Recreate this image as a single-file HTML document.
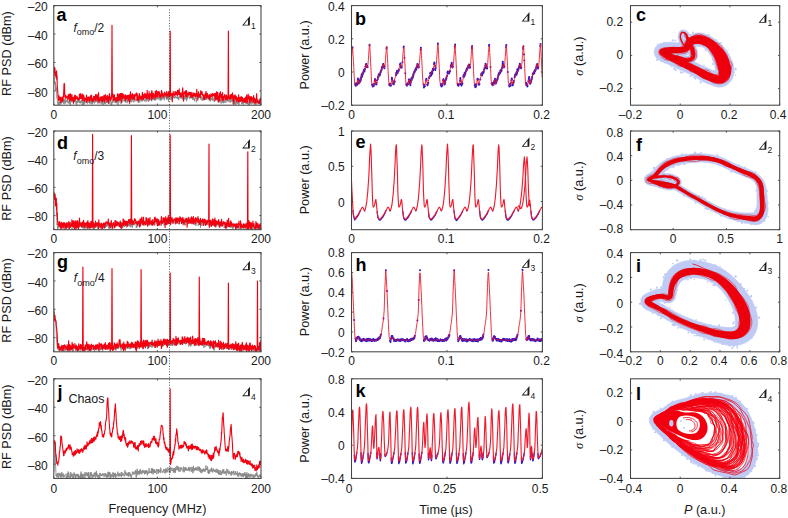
<!DOCTYPE html>
<html><head><meta charset="utf-8"><style>
html,body{margin:0;padding:0;background:#fff;}
svg{display:block;}
text{font-family:"Liberation Sans",sans-serif;fill:#1a1a1a;}
.tk{font-size:12px;}
.al{font-size:12.7px;}
.an{font-size:12.5px;}
.an2{font-size:12px;}
.pl{font-size:18px;font-weight:bold;fill:#000;}
.sub{font-size:8.5px;}
</style></head><body>
<svg width="788" height="518" viewBox="0 0 788 518">
<rect width="788" height="518" fill="#fff"/>
<clipPath id="cp11"><rect x="53.80" y="5.60" width="207.20" height="99.60"/></clipPath>
<g clip-path="url(#cp11)">
<path d="M53.8,76.4l.2-2.4 .3,1.7 .2,7.4 .2-1.8 .3,2.7 .2,1 .2-3.1 .3,9.2 .2-5.5 .2,4.3 .2-1.8 .3,5.4 .2,4.9 .2,.3 .3,.3 .2,4.2 .2-1.1 .3,2.6 .2-1 .2,.9 .3-2.7 .2,1.8 .2-2.7 .3,.2 .2,.6 .2,4 .3-3.4 .2-.8 .2-.3 .3,2.8 .2-1.8 .2,.9 .2-.3 .3-3.2 .2,3.2 .2-1.3 .3-1.6 .2,2.5 .2-.8 .3-.4 .2,.1 .2,2.2 .3-2.2 .2-2.2 .2,4.9 .3-4.1 .2,1.3 .2,1.3 .3-4.5 .2,2.1 .2,3.3 .3-2.1 .2-.9 .2,1.3 .2-1.5 .3,1.3 .2-1.2 .2-1.4 .3,3.7 .2-1.6 .2,1.2 .3-1 .2,2.2 .2-1 .3-.7 .2-1.8 .2-.5 .3,4.3 .2-.9 .2-2.5 .3,4.5 .2-2.6 .2-.6 .3-2.4 .2,1 .2,1.8 .2,0 .3-.2 .2-3 .2,3.3 .3-.2 .2-1.1 .2,.8 .3,.1 .2,1.6 .2-1.9 .3,.7 .2-2.7 .2,.9 .3,1.1 .2-1.2 .2,1.8 .3-2.4 .2,1.8 .2-1 .3,3.2 .2-2.8 .2,3.5 .2,.6 .3-3 .2,1 .2-1.8 .3-3.5 .2,5.2 .2-.3 .3-1.5 .2-.5 .2,1.2 .3,0 .2-1.5 .2,.3 .3,2.6 .2-1.6 .2-.2 .3,1.9 .2-2.3 .2,1.9 .3-3.1 .2,1.4 .2,.1 .2,1.2 .3-.8 .2,3.2 .2-1.5 .3-2.5 .2,4.2 .2-5.1 .3,4.5 .2-4.3 .2,2.7 .3-2.8 .2,1.1 .2,2.9 .3-4.8 .2-.3 .2,2.6 .3,.3 .2-.2 .2,1.4 .3-3.5 .2,2.8 .2-.8 .2,1.2 .3-.3 .2,1.1 .2-4.3 .3,2.4 .2-1.9 .2,1.6 .3,1.2 .2-.6 .2,.4 .3-1 .2,.7 .2-.1 .3,1.8 .2-1 .2-4.2 .3,4 .2,.6 .2-2.3 .3-1.9 .2,4.9 .2-2.1 .2,.7 .3,1.9 .2-4.2 .2,1.3 .3-.2 .2,1.4 .2-2 .3,1.6 .2-.6 .2,1.6 .3,.2 .2-4.4 .2,3.2 .3-1.4 .2,.6 .2,.7 .3,.1 .2-2 .2,1.6 .3-.2 .2-.3 .2-2 .2,.8 .3,.5 .2,1.7 .2,1.3 .3-3.9 .2-.1 .2,1.9 .3-1.1 .2-.5 .2,0 .3-.2 .2,2.3 .2-3.3 .3,4.7 .2-3.6 .2,.6 .3-.6 .2-1.8 .2,.7 .3,4.5 .2,.9 .2-4.3 .2,3.2 .3-1.7 .2-1.5 .2,4.2 .3,.8 .2-4 .2,.3 .3,.5 .2-.5 .2,1.6 .3,1.1 .2-2.3 .2,1.3 .3,1.2 .2-3.7 .2,1 .3-.8 .2,2.4 .2-.6 .3,.6 .2-.2 .2-1.9 .2,1.7 .3-2 .2,.1 .2-2.9 .3,5.8 .2-3.9 .2,1.7 .3-.2 .2,2.5 .2-1.7 .3-2.1 .2,1.4 .2-.3 .3,.7 .2-2.5 .2,2 .3,3.7 .2-2.6 .2,2.2 .3,2.2 .2-4.7 .2-3.2 .2,2.2 .3,2.1 .2-.4 .2-3.5 .3,1.6 .2,.2 .2,.2 .3-.2 .2-1.3 .2,.4 .3,.6 .2,2.1 .2-2.6 .3,2 .2-3.1 .2,4.1 .3-2 .2-.2 .2,2.2 .3-5.2 .2,.5 .2,3.2 .2-2.1 .3,.7 .2,5.1 .2-4.9 .3,.5 .2-.2 .2,1.9 .3-1.4 .2-.1 .2-2.4 .3,1.5 .2,.5 .2-2.6 .3,3.6 .2-.3 .2,2.4 .3-5.8 .2,1 .2,.1 .3,.4 .2,1 .2-.2 .2,.7 .3,0 .2-.5 .2-2.5 .3,1.6 .2,1.1 .2,.8 .3,.1 .2-3.8 .2,1.8 .3,.8 .2,.7 .2,1.3 .3-1.8 .2-1.7 .2,2.2 .3-.3 .2,0 .2-.6 .3,2.9 .2-2.3 .2,1 .2-3 .3,2.8 .2-2.3 .2-1.6 .3,3.1 .2,.5 .2-1.4 .3,.3 .2,1.7 .2-2.5 .3-2.7 .2,3.9 .2-.1 .3,1.4 .2-2.3 .2,2.6 .3-.2 .2-4.1 .2,3.7 .3-3.4 .2-.8 .2,2.1 .2-.5 .3-2.4 .2,3.7 .2,.6 .3,1.3 .2-2.4 .2-2.5 .3,.9 .2,3.2 .2-.1 .3-.7 .2-1.3 .2,.8 .3-.7 .2-.2 .2,1 .3-.5 .2-.4 .2,.5 .3-1 .2-2.4 .2,2.2 .2,.9 .3,2.9 .2-3.6 .2,4 .3-.9 .2-3.9 .2,.2 .3,1.5 .2,2.6 .2-2.3 .3,.5 .2-2.3 .2-2.8 .3,3.5 .2,1.7 .2,.6 .3-1.9 .2,.2 .2,1.6 .3-2.1 .2,2.1 .2-3.9 .2,.1 .3-.1 .2,2.7 .2-1.8 .3,1.1 .2,.4 .2-.1 .3,1.6 .2,.3 .2-3.9 .3,1.7 .2-.7 .2-1.4 .3,4.7 .2-1.7 .2-1.7 .3-.3 .2,1.2 .2-2.4 .3,1.4 .2,2.4 .2-.5 .2-3 .3,.6 .2,4 .2-5.6 .3,1.3 .2-1.3 .2,2.9 .3-.2 .2,1.4 .2-6.3 .3,4.7 .2-3.1 .2,3.8 .3-1.4 .2,3.1 .2-2.2 .3-2.4 .2,3.8 .2-4 .3,1.3 .2,2.3 .2-.9 .2-.1 .3-.8 .2,.9 .2,.4 .3-.9 .2,1.2 .2,.4 .3-2.1 .2-1.6 .2,4.1 .3-2.6 .2,1 .2,.6 .3-3.2 .2,2.4 .2-3.5 .3,3.9 .2-2.1 .2,1.1 .3,.9 .2-2.4 .2,1.3 .2-1.3 .3,1.1 .2,1.7 .2-1.7 .3-.3 .2-1.5 .2,3.1 .3-1.5 .2,2.9 .2-4.1 .3,2.9 .2,1.3 .2-3 .3-2 .2,4.4 .2-.7 .3-.6 .2,.6 .2-2.6 .3,2 .2-.2 .2-2.2 .2,2.3 .3-2.1 .2,2.4 .2,.4 .3,1 .2-6.3 .2,3.7 .3-1 .2,.5 .2-.3 .3,.1 .2-3.2 .2,5.1 .3,.8 .2-.9 .2,.5 .3-3.5 .2-.2 .2,3 .3,.8 .2-1.8 .2-3 .2,7.2 .3-5.8 .2,2.8 .2-3.7 .3,3.6 .2-1.3 .2,2.1 .3-1 .2-4 .2,.9 .3,2.1 .2,.8 .2,1.8 .3-2.6 .2-.6 .2,0 .3,0 .2,1.8 .2-1.8 .3-.1 .2-2.3 .2-.9 .2,3.4 .3,1 .2-1.2 .2,1 .3,.2 .2-1.2 .2,1.7 .3-2.8 .2,1.2 .2-.6 .3,.7 .2,.9 .2,.4 .3-1.2 .2,.5 .2-1.3 .3,.4 .2,2.3 .2-2.4 .3,2.4 .2-1.3 .2-.5 .2,3 .3-3.7 .2-.1 .2,.5 .3,.5 .2-.1 .2,1 .3-1.2 .2,.5 .2-1.1 .3,2.2 .2-2.4 .2,.1 .3,.5 .2,.5 .2-1.6 .3,3.7 .2-3.6 .2,.4 .3-.1 .2-.1 .2,1.7 .2-.6 .3-1.5 .2,.3 .2,.4 .3,2.9 .2-3.5 .2-1 .3,.3 .2,1.3 .2,3.1 .3-4.3 .2,1.9 .2,4.1 .3-5 .2,3.2 .2-.3 .3-1.1 .2-3.3 .2,2.8 .3-1.1 .2-2.5 .2,.3 .2,2.9 .3,.3 .2,1.7 .2-.9 .3-1.9 .2,0 .2,.5 .3-1.5 .2,3.1 .2-1.2 .3-1.4 .2,.3 .2-.8 .3,1.1 .2,1.3 .2-1.2 .3,2.4 .2,1.1 .2-3.8 .3,1.1 .2-.6 .2,3.4 .2-2.2 .3,.4 .2,.5 .2,2.4 .3-3.3 .2-2.1 .2,.9 .3,1.7 .2-1 .2-1.3 .3,6.1 .2-4.5 .2-1.1 .3-.3 .2-1.7 .2,1 .3,1.4 .2,.1 .2-.8 .3,2.2 .2-.8 .2-1.6 .2-1.8 .3,3.7 .2-.2 .2-.4 .3-1.9 .2,2.3 .2-2.5 .3,4.2 .2-1.3 .2,0 .3-1.6 .2-.5 .2,4.4 .3-1 .2-2.1 .2,1.7 .3,1.5 .2-4.3 .2,.9 .3,.1 .2,1.6 .2-2.5 .2,2.2 .3-2.3 .2,3.5 .2-.1 .3-1.8 .2,1.6 .2-2.4 .3,.8 .2,2 .2-1.7 .3,.8 .2-2.1 .2,2.6 .3-.3 .2-2.8 .2-1.7 .3,.4 .2,3.3 .2-.2 .3-2.2 .2,2.8 .2,1.5 .2-1.8 .3-.6 .2,2.2 .2,1.4 .3-.3 .2-3.6 .2,2.5 .3-1 .2-.6 .2-.7 .3,1.7 .2-1.4 .2,2.4 .3-.9 .2,1.1 .2-3.6 .3,2 .2,1.2 .2-.6 .3-.2 .2-1.6 .2,4 .2-1 .3-1.1 .2-4.9 .2,2.7 .3,1.8 .2-1.3 .2-2.3 .3,3.9 .2,.3 .2-2.7 .3,1.2 .2-.2 .2,2 .3-4.1 .2,.4 .2,1.9 .3-.2 .2,4.7 .2-4.5 .3,1.4 .2-1 .2-.4 .2,1.7 .3,2.3 .2-3.5 .2,2 .3-.7 .2,.5 .2-.5 .3,3.4 .2-6 .2,1.7 .3-1.5 .2-1.4 .2,3.3 .3,3.2 .2-1.6 .2,.6 .3-1.2 .2-1 .2,3.6 .3-4 .2,3.2 .2-3.1 .2,.7 .3,.4 .2-.4 .2,.8 .3,.2 .2,1.8 .2-2.8 .3-3.2 .2-.2 .2,1.2 .3,1.1 .2,2.4 .2-3.6 .3,2.5 .2,.1 .2,.4 .3-.6 .2,.9 .2-.6 .3,1.7 .2-1.1 .2-4.5 .2,4 .3,.3 .2-1.3 .2-.3 .3,3.2 .2-1.6 .2-1.9 .3,1.2 .2,.2 .2-2.4 .3,3.9 .2-1.3 .2,1 .3-3.4 .2,5.9 .2-2.1 .3-.3 .2-2 .2,.1 .3-1.3 .2,5.1 .2-3.9 .2,1.8 .3,.6 .2-2 .2,2.5 .3,2 .2-2.9 .2,1.9 .3-1.4 .2-1.7 .2,.1 .3-2.1 .2,3 .2,2.3 .3-1.3 .2,.3 .2,.5 .3-2.8 .2,1.9 .2,2.3 .3-4.6 .2,1.4 .2-.7 .2,.4 .3-.9 .2,1.1 .2-2.1 .3,1.4 .2,.1 .2,0 .3,3.2 .2-2.2 .2,.2 .3-.8 .2,2.7 .2-5.1 .3,2.6 .2,2.3 .2,.9 .3-2.5 .2-.3 .2,1.1 .3-1.3 .2,1.2 .2-2 .2,2.2 .3-1.2 .2-1.7 .2-2.7 .3,6.1 .2-.9 .2,.7 .3-2.8 .2,3.4 .2-1.2 .3-.7 .2,1.6 .2,0 .3-.8 .2,2.8 .2-1.1 .3-1.8 .2-.9 .2,.6 .3,2.7 .2-2.2 .2-2.2 .2,.4 .3,1.1 .2,1.4 .2-2.5 .3,2 .2,1.1 .2-.7 .3-3.8 .2,2.1 .2-1.6 .3,2.8 .2-2.4 .2,2.7 .3-.8 .2-4.5 .2,3 .3,2.2 .2-.7 .2-.7 .3-1.5 .2,2.9 .2,2.1 .2-2.4 .3-.5 .2-.2 .2-2 .3,1.7 .2-.8 .2,3.2 .3-3.3 .2-2.1 .2,2.3 .3,.9 .2,.2 .2-2.8 .3,4.6 .2-1.4 .2-.9 .3-.5 .2,2 .2-1.2 .3,1 .2-.7 .2,.5 .2,1.7 .3-1.9 .2-1.5 .2,3.1 .3-1.2 .2-1.5 .2,2.9 .3-2.1 .2,2.1" stroke="#8a8a8a" stroke-width="0.9" fill="none" stroke-linejoin="round"/>
<path d="M53.8,74.1l.2-2.8 .3-4.2 .2,2.8 .2,2.4 .3-3.9 .2,6.9 .2-3.5 .3,3.1 .2,1.7 .2-3.4 .2,5.3 .3-7.6 .2,9.1 .2-5 .3,11.8 .2,1.8 .2,2.3 .3,5.1 .2,3.1 .2-2.7 .3,4.4 .2-4.9 .2-.1 .3,3.8 .2,.1 .2-1.7 .3,.3 .2,2.2 .2-3.3 .3,5.5 .2-3.4 .2-.1 .2-.2 .3-1.3 .2,3.3 .2-3.9 .3,1.7 .2,.9 .2,1.5 .3-.7 .2-4.4 .2,.5 .3-6 .2-5.8 .2-1.4 .3,.6 .2,7.8 .2,5.3 .3-2.3 .2,2.5 .2-1.4 .3,2.4 .2-2.5 .2,.8 .2,.2 .3,.5 .2,.2 .2,.4 .3,0 .2-1.6 .2,3.2 .3-4.8 .2,3.9 .2-2.3 .3,2.3 .2,.3 .2-4.9 .3,5 .2,2.1 .2-1.2 .3-.9 .2-5.2 .2,4.1 .3-1.5 .2,4.1 .2-2.9 .2-.7 .3-2.4 .2,5.3 .2-2.7 .3,.6 .2,2.8 .2-2.1 .3,.5 .2,4.4 .2-6.2 .3,.1 .2,2.1 .2,1.9 .3-6 .2,2.6 .2-1.6 .3-.8 .2,4.1 .2-2.9 .3,2.3 .2-.4 .2,0 .2-.1 .3-2.4 .2,2.1 .2,.6 .3,.2 .2-1.3 .2,2.7 .3-.9 .2-.9 .2,1.1 .3-1 .2,1.1 .2-5.6 .3,1.4 .2,1.9 .2,1.1 .3-4.8 .2,4 .2,.8 .3-.8 .2,0 .2-2.4 .2,3.1 .3-4.5 .2,6.3 .2-3.3 .3,3.6 .2-6 .2,4.6 .3-.6 .2-2.1 .2-.7 .3,5 .2-1.6 .2,2.2 .3-3.3 .2,.6 .2,.5 .3,.7 .2-.6 .2,.7 .3-2.7 .2-2.1 .2,7.4 .2-3.9 .3,.6 .2-1.9 .2,3.1 .3-1.8 .2,1.9 .2-3.7 .3,1.3 .2,.6 .2-1.2 .3,1.4 .2,2.7 .2-4.5 .3,.6 .2,.9 .2-2.4 .3-.5 .2,4.9 .2-.6 .3-5 .2,.3 .2,4.6 .2,.9 .3-1.1 .2-.3 .2,2.3 .3-3.5 .2,2.8 .2-.1 .3-4.6 .2,3.5 .2-1.4 .3-1.4 .2-.4 .2,2.4 .3-.8 .2,1.9 .2-5.5 .3,2.3 .2,3.7 .2-2.3 .3-1.5 .2,.5 .2-2.9 .2,.9 .3,4.1 .2-.9 .2,2.5 .3-3.3 .2,.2 .2-5.4 .3,5.5 .2,4.7 .2-3 .3-1.7 .2,2.9 .2-.8 .3-1.1 .2-1.5 .2,1.1 .3,1.5 .2-3.6 .2,2.9 .3-.1 .2,1.9 .2-1.3 .2-3.1 .3,4.9 .2-3.3 .2-1.7 .3,2.3 .2-1.3 .2,2.9 .3-5.2 .2,.4 .2,1.9 .3,4.2 .2-1.5 .2-4.3 .3-1.6 .2,3 .2-2 .3,4 .2-.9 .2-.5 .3-.9 .2,4.2 .2-5.3 .2-.8 .3,5.3 .2,.4 .2-3.6 .3,2.1 .2,3.7 .2-6.8 .3,1.4 .2,1.3 .2-5.5 .3,4.2 .2,1.9 .2-1.8 .3,2.4 .2-.6 .2-2.5 .3,2 .2-.2 .2-4.5 .3,1.7 .2,.1-.3,.6 .3-71.5 .3,70.8-.1,.7 .2,.1 .3-2.1 .2,3.1 .2-4 .3,6 .2-1.5 .2,2.4 .3-2.2 .2-1.9 .2-1.9 .3,4.5 .2-1.5 .2,.8 .3,.8 .2,1 .2-2.7 .3,3.8 .2-3.9 .2,.1 .3,1.5 .2,.7 .2,.8 .2-6.9 .3,6.8 .2-6.2 .2,2 .3,2.1 .2,1.7 .2-4.7 .3-1.5 .2,5.7 .2-1.4 .3-2.9 .2,1.5 .2-3.5 .3,5.4 .2-2.3 .2,3.8 .3-7.2 .2,6 .2,3.2 .3-4.5 .2,.1 .2-4.4 .2,4.8 .3-.8 .2-1.3 .2-2.1 .3,3.5 .2-2.3 .2,1.1 .3,1.7 .2-.8 .2,.1 .3,2 .2-4.6 .2,5.5 .3-5.4 .2,.4 .2,2.2 .3,1.5 .2-1.2 .2-1.5 .3-.6 .2,1 .2-1.5 .2,3.2 .3-1.7 .2,3.9 .2-5 .3,1.3 .2,1.2 .2-3.4 .3,1 .2,7.5 .2-6.2 .3,3.2 .2-5.4 .2-3 .3,6.4 .2-1.3 .2,.7 .3-1.3 .2-.7 .2-1.4 .3,4.9 .2-5.5 .2,5.3 .2-2.6 .3-1.9 .2,1 .2,3.5 .3-.5 .2-.6 .2-.9 .3-2.5 .2,5.1 .2-3.7 .3-.4 .2,.1 .2,.2 .3-2.2 .2,2.1 .2-.8 .3,.6 .2-2.6 .2,7.9 .3-6.8 .2,3.2 .2,0 .2,1.5 .3,1.9 .2-3.2 .2,.6 .3-2.5 .2,4.2 .2-6.2 .3,2.4 .2,1.1 .2,1 .3,.1 .2,.7 .2-1.2 .3-1.2 .2,.3 .2,2.7 .3-2.5 .2,1.3 .2-2.3 .3-3.6 .2,2.6 .2,2 .2,2.8 .3-.5 .2,.6 .2-5.2 .3,3.1 .2-1.7 .2,1.4 .3-1.5 .2-2.9 .2,4.5 .3-.8 .2,1 .2-3.6 .3,4 .2,.2 .2,.5 .3,.1 .2-4.1 .2-4.5 .3,7.6 .2-4.2 .2,1.5 .2,2.9 .3-1.8 .2-.1 .2,.9 .3-5.6 .2,8.2 .2-4.9 .3,.1 .2,1.9 .2-1.6 .3-1.6 .2,1.6 .2-.6 .3-.6 .2,5.8 .2-7.6 .3-1.7 .2,2.8 .2-.1 .3,5.1 .2-2.8 .2,1.5 .2-.5 .3-3.3 .2,3.7 .2-1.4 .3,3.7 .2-3.7 .2-.6 .3,1.7 .2,0 .2-5.6 .3,6.6 .2-.3 .2-.6 .3-4.3 .2-1.9 .2,3.7 .3,2.2 .2-.6 .2-3.2 .3,4.2 .2-5.1 .2,.1 .2,2.8 .3-1.2 .2-.2 .2-1.8 .3,5.6 .2-4.8 .2,3.3 .3,.8 .2-1.9 .2,.7 .3,1.6 .2,1.3 .2-1.4 .3-5.1 .2-1.2 .2,2.8 .3-1.1 .2,3.6 .2-1 .3-.8 .2,2.9 .2-.2 .2-2.3 .3,.9 .2,1.5 .2-3.1 .3,1.4 .2-2.8 .2,2.2 .3,.6 .2-.9 .2,.6 .3,1.1 .2-.6 .2-2.5 .3,.2 .2-1.4 .2,6.4 .3-2.8 .2,0 .2-1.2 .3,1.3 .2,.1 .2-2.8 .2,1.3 .3,2.9 .2-5.4 .2,.7 .3,3.4 .2-3 .2,3.3 .3-4-.3,2.9 .3-63.3 .3,62.6-.1,.7 .2,1.2 .3-.9 .2,.8 .2-2 .3,0 .2,.3 .2,1.2 .3,6.6 .2-8 .2,4.3 .3-4.6 .2-1.9 .2,1.8 .2,1.4 .3-.4 .2-.1 .2,.8 .3,.1 .2,.7 .2-4.5 .3,2.6 .2-2.1 .2,2.6 .3-.7 .2,.5 .2-1.4 .3-.7 .2,1.2 .2,2 .3,.2 .2-5.2 .2,4.1 .3,0 .2-3.7 .2,.8 .2,1.2 .3,2 .2-5.9 .2,4.2 .3-.3 .2,1.5 .2,2.6 .3-.1 .2-3.7 .2,0 .3,1.3 .2,2 .2,.6 .3-2.4 .2,2.5 .2-5.1 .3-.5 .2-3.6 .2,4.2 .3,3.1 .2,.6 .2,5.5 .2-6 .3-.9 .2-2.5 .2,.8 .3,.1 .2,.8 .2-1 .3-1.7 .2,5.4 .2-1.3 .3,2 .2-6.4 .2,.7 .3,1.2 .2,4.2 .2-3 .3,.9 .2-.7 .2,.6 .3-1.5 .2,2 .2-2.7 .2,1.4 .3,1.1 .2-.4 .2,.8 .3-2.7 .2,2.3 .2-1.2 .3,1.5 .2,2.3 .2-5 .3,4.2 .2-3.7 .2,.5 .3,4.5 .2-1.5 .2-.9 .3,.6 .2,.8 .2-4.1 .3,2.1 .2-1.3 .2,1.8 .2-1.6 .3,2.3 .2-1.5 .2-1.3 .3,1.2 .2,1 .2,1.4 .3-2.7 .2-.3 .2,1.3 .3,1.1 .2-2.8 .2-4.1 .3,6 .2-1.4 .2-.1 .3,6.3 .2-5.7 .2,1.8 .3-4.4 .2,3.5 .2,1.1 .2-1.2 .3-.8 .2,1.6 .2-1 .3,2.7 .2-2.3 .2-2.2 .3-2.5 .2,2.7 .2,1 .3-1.9 .2,.3 .2-1.3 .3,1.2 .2,2.6 .2-.8 .3,.2 .2-.2 .2,.2 .3,2.1 .2,2.9 .2-3.1 .2,3 .3-4.5 .2,.2 .2,3.6 .3-5.1 .2-.3 .2,1.7 .3-3.4 .2-.4 .2,6.6 .3-4.8 .2,1.3 .2,.1 .3-1.1 .2,3.6 .2-.3 .3,.5 .2-.1 .2-1.4 .3,2.9 .2-.8 .2-3.4 .2,1.4 .3-1 .2,4.9 .2-2.4 .3-.4 .2-1.3 .2,1.4 .3-3.2 .2,2.1 .2-.1 .3,0 .2-1.5 .2,2.6 .3-3.4 .2,1.4 .2,.7 .3,.3 .2-1 .2-1.1 .3,.2 .2,1.2 .2-1 .2,1.6 .3-2.4 .2,2.8 .2,4.4 .3-7.3 .2,2.6 .2,2.8 .3-2.1 .2,1.5 .2-6.3 .3,3.4 .2,4.4 .2-4.4 .3,2 .2-4.9 .2,6.3 .3,2.6 .2-4.9 .2,.9 .3,.1 .2,3.7 .2-5.4 .2-2.7 .3,7.7 .2-6.5 .2,3.7 .3-6.2 .2,4.1 .2,1.3 .3-2.7 .2,1.2 .2,2.4 .3-2.7 .2,2.6 .2,2.8 .3-8.2 .2,5.1 .2,.6 .3-2 .2,4.1 .2-.5 .3-1.8 .2,.1 .2-1.3 .2-2.2 .3,3.4 .2-2 .2-.2 .3,3.6 .2-2.8 .2,2.5 .3-4.2 .2,1.3 .2,1 .3,2.9 .2-3.1 .2,2 .3-3.2 .2,1.8 .2,1.5 .3-3.6-.3,.4 .3-64.7 .2,64 0,.7 .2,2.9 .3-3.7 .2,3.1 .2,.1 .2-.9 .3,1.9 .2-.7 .2-.5 .3-3.6 .2,.1 .2,3.8 .3-4 .2,3.6 .2-.9 .3-1.1 .2,1.3 .2-4.5 .3,4.7 .2,3.1 .2-5.3 .3,3.7 .2-.2 .2,5.7 .3-8.5 .2,.5 .2,0 .2-.3 .3-1.5 .2,3.7 .2-2.1 .3,3.7 .2-.8 .2-3 .3,1.4 .2,3.7 .2-3.6 .3,1.2 .2,1.4 .2-2.6 .3,1.8 .2,2.5 .2-1 .3-6.1 .2,7 .2-3.6 .3-.8 .2-.1 .2,4 .2-1.9 .3-.9 .2-1.4 .2,3.1 .3,1.1 .2-4.6 .2-.2 .3,1.6 .2,2.1 .2-2.1 .3,.6 .2-1.5 .2,4.5 .3-2.9 .2,.6 .2,2.1 .3-2.8 .2,.4 .2,.9 .3-1.7 .2,3.9 .2-2.8 .2-1.1 .3,.4 .2-1.7 .2,4.9 .3,.7 .2-3.7 .2-.5 .3-3.5 .2,3.2 .2,3.2 .3-3.5 .2,3.5 .2,1.4 .3-8.7 .2,4.9 .2-.8 .3,.3 .2-2.6 .2,3.3 .3-2 .2,4.8 .2,.8 .2-6 .3-.1 .2,2.1 .2,.6 .3,.2 .2,1.8 .2-4.7 .3,1.9 .2,.3 .2,.3 .3-1.4 .2,1.2 .2-.5 .3,4.1 .2-3.6 .2-3.5 .3,5.8 .2-.8 .2-2.2 .3-.1 .2,.7 .2,4.8 .2-4.5 .3,3.6 .2-.7 .2-2.9 .3,1.8 .2-2.3 .2-5 .3,5.1 .2,.1 .2,3.5 .3-.6 .2,1 .2-1.1 .3,1.2 .2-.9 .2-1 .3,1.7 .2,.9 .2-.1 .3-3.8 .2,.8 .2-2 .2,0 .3,2.9 .2-2.1 .2,4.5 .3-7.9 .2,2.3 .2,3.1 .3,2 .2-3.3" stroke="#f30010" stroke-width="1.15" fill="none" stroke-linejoin="round"/>
</g>
<clipPath id="cp12"><rect x="53.80" y="131.00" width="207.20" height="98.70"/></clipPath>
<g clip-path="url(#cp12)">
<path d="M53.8,191.5l.2,5.3 .3,.1 .2-4.3 .2,.3 .3,5.7 .2-.2 .2-.3 .3,6.9 .2-1.5 .2-1.5 .2,4.4 .3,10.9 .2,3 .2,4.7 .3-1.4 .2,6.2 .2-3.5 .3,2.3 .2-2 .2-2.1 .3,2.5 .2-1.3 .2,1.6 .3-4.7 .2,1.7 .2-.3 .3,4.1 .2-.3 .2-3.7 .3,2.1 .2,.1 .2-1 .2,2.7 .3-3.4 .2,1.3 .2-.8 .3,1.9 .2-2 .2,2.1 .3-2.8 .2-.3 .2,.3 .3,.7 .2-.2 .2,5.7 .3-6 .2,1.9 .2-.7 .3,.7 .2,1.8 .2-1.4 .3-2 .2-1.3 .2,3.4 .2,.5 .3-4 .2,4 .2-5 .3,3.4 .2,1.6 .2-3.2 .3-1.2 .2,5.3 .2-5 .3,3.1 .2-3 .2,3.1 .3,2.1 .2-3.6 .2-.7 .3-2 .2,.7 .2,1.7 .3,1.6 .2,.5 .2-.4 .2,.9 .3-.9 .2,3.8 .2-4.6 .3,.3 .2-4.3 .2,3 .3,2.1 .2-1.8 .2,3.1 .3-1.1 .2,2.2 .2-5.6 .3,1.4 .2,3 .2-1.9 .3-1.7 .2,.8 .2,.1 .3,2.1 .2-.3 .2-1.3 .2-1.4 .3,3 .2,.5 .2-3.8 .3,3.5 .2-3.4 .2,1.4 .3-1.1 .2-1.5 .2,1.8 .3-.1 .2,2.8 .2-.3 .3-2.3 .2-1.5 .2,.2 .3-1.5 .2,3.4 .2,.1 .3-1.3 .2,1.7 .2,.1 .2,1.7 .3-3.5 .2,3.5 .2-2.7 .3,3.3 .2-4.3 .2,3.6 .3-3.1 .2,4.1 .2-2 .3-2.7 .2,3.3 .2-1.4 .3,.9 .2,3.1 .2-4.4 .3-.3 .2,2.7 .2-2.9 .3,2.3 .2,.4 .2-1.7 .2,1.1 .3-5 .2,6.5 .2-3.9 .3-.4 .2,5 .2-.4 .3-3.9 .2,1.8 .2-1.5 .3-1.3 .2,2.6 .2,1.2 .3,2.8 .2-5 .2,1.9 .3-2.1 .2,.2 .2,2.7 .3-5.3 .2,1.1 .2,.4 .2,3.5 .3-1.4 .2,.3 .2-.3 .3,1.2 .2-2.6 .2,.4 .3-.3 .2,1.5 .2-3 .3,1.8 .2,5 .2-3.6 .3-1 .2-1.7 .2,2.1 .3-.1 .2,.7 .2-2.2 .3,1.9 .2,.2 .2,.3 .2-2.2 .3,1.8 .2,1.9 .2-3.9 .3,2.3 .2-1.8 .2,0 .3-1.4 .2,.2 .2,2.8 .3-.7 .2,1.9 .2-5.1 .3,2.1 .2-1.6 .2,2.9 .3,2.9 .2-6 .2,2.4 .3-.1 .2,.1 .2-1 .2,.2 .3,3.6 .2-4.5 .2,2.7 .3-.1 .2-3.7 .2,1.3 .3,2.2 .2,2.5 .2-3.4 .3-.6 .2,1 .2,2 .3-.8 .2,.8 .2-2.5 .3-1 .2-.4 .2,3 .3-1.7 .2-.5 .2,1.8 .2-.6 .3-3.9 .2,3.2 .2-1.1 .3,2.2 .2-.8 .2,3 .3-2.9 .2-2.1 .2-1.5 .3,1.5 .2,.9 .2,1 .3,1.1 .2-.7 .2-1.4 .3,2.4 .2-2.9 .2,3.2 .3,1.4 .2-1.4 .2,1.1 .2-.5 .3-4.2 .2,2.2 .2-.7 .3-1.6 .2-.2 .2,3 .3-3.1 .2,1.6 .2,.6 .3-.7 .2,3.1 .2-1.1 .3-1.1 .2-1.3 .2,1.7 .3-.4 .2-1.9 .2-.8 .3,1.1 .2-.9 .2,2.9 .2-.2 .3-1.1 .2,1 .2,.4 .3-3.7 .2,3.1 .2,1.3 .3-2.5 .2-2.3 .2,3 .3-2 .2,2.9 .2,0 .3,.3 .2-.9 .2-3.4 .3,5.1 .2-4.7 .2,4.4 .3-1.3 .2-1.8 .2,.3 .2,.6 .3,3.2 .2-3.4 .2,2.3 .3-6.1 .2,4.7 .2-.7 .3,2.3 .2-1.2 .2,1.4 .3-3.9 .2,2.1 .2-1.4 .3,2.1 .2-.3 .2-3.1 .3,3.8 .2,1.4 .2-3.7 .3,2.6 .2-1.2 .2-2.3 .2,2.9 .3-2.9 .2,2.6 .2-3.7 .3,.3 .2,3 .2-.5 .3,1.1 .2-1.8 .2-1.6 .3,4.4 .2-4.1 .2,3.8 .3-.8 .2,1.6 .2-6.6 .3,3.4 .2-.3 .2,1.5 .3-2.9 .2,5.3 .2-3.6 .2-3.7 .3,4.3 .2-.7 .2-1.1 .3,2.5 .2-1.4 .2-1.6 .3,1.3 .2-.4 .2,1.2 .3-1.1 .2,.4 .2-2.4 .3,1.3 .2,1.6 .2,3.7 .3-5.4 .2-.1 .2,2.9 .3,1.8 .2-1.5 .2-3.5 .2,3.3 .3-1 .2-1.2 .2-1.7 .3,2.1 .2,.1 .2,.8 .3-3.7 .2,.9 .2,2 .3,2.1 .2-1 .2-2.3 .3,2.2 .2-2.8 .2,.9 .3,.1 .2-.6 .2,.2 .3,2.3 .2-.9 .2-4.5 .2,5.9 .3-1.2 .2-2.6 .2,2 .3,1.1 .2,.9 .2-3.2 .3-.8 .2-.7 .2,2.3 .3-1.7 .2,3.5 .2-2.1 .3,1.5 .2-1.5 .2-1 .3-.5 .2,3.4 .2-3.8 .3,2.9 .2,.9 .2-1.4 .2,2.2 .3-2.5 .2-.5 .2,.8 .3-1.3 .2,1.4 .2-.5 .3,2.4 .2-2.5 .2,1.5 .3-.7 .2-.6 .2-.5 .3,3.1 .2-.2 .2-2.1 .3-1.4 .2,.2 .2-.9 .3-.7 .2,1.4 .2,.8 .2,1.7 .3-.2 .2-.8 .2-1.2 .3,0 .2,.4 .2,.2 .3-1.3 .2,.7 .2-.2 .3,0 .2,1.4 .2,.8 .3-2.6 .2,.2 .2,1 .3,.3 .2-4.5 .2,5.1 .3-.9 .2-.9 .2,2.4 .2-2.2 .3-2.8 .2,1.4 .2,.5 .3,.1 .2,.8 .2-1.5 .3,1.9 .2,.4 .2-.9 .3-1.4 .2,1 .2-.6 .3,4.6 .2-5.5 .2-2 .3,1.7 .2,2.8 .2,.9 .3-1.9 .2,2.1 .2-2.9 .2,2.1 .3-2.5 .2-.7 .2,5.7 .3-4 .2,1.7 .2,1.2 .3-1.4 .2-.7 .2-2.1 .3,4.3 .2-4.4 .2-1.6 .3,2.4 .2,0 .2,1 .3,1.9 .2-2.9 .2,.3 .3-.6 .2-3.2 .2,3.1 .2,.5 .3-1.9 .2,4.9 .2-.4 .3-1.3 .2,.5 .2-2.3 .3,1.7 .2-3.5 .2,.3 .3,1.3 .2,1.9 .2-1.7 .3-.3 .2,3.2 .2-2.5 .3-.6 .2,.8 .2-2.3 .3,.6 .2,3.5 .2-1.6 .2,1.6 .3-2.4 .2,2.4 .2-3 .3,.9 .2-1 .2,1.8 .3,2.2 .2-5.4 .2,3.3 .3-2.7 .2,1.6 .2-.4 .3-2 .2,2.5 .2-1.8 .3,4.9 .2-4 .2,1.9 .3-.2 .2-.2 .2-.6 .2-2.2 .3,5.9 .2-3.2 .2,1.3 .3-3.2 .2,2.7 .2-1.5 .3,1.4 .2-1.8 .2-.6 .3,2.4 .2-.7 .2,2.4 .3-2.9 .2-.9 .2,2.4 .3-2.9 .2,5.4 .2-.3 .3-.8 .2-1.5 .2-.9 .2,.2 .3,0 .2-1.4 .2,2.1 .3,1.3 .2,0 .2-5.7 .3,7.6 .2-3.7 .2-2.8 .3,1.7 .2,2.2 .2-1.4 .3-1.4 .2-.6 .2,3.6 .3-2.8 .2,.8 .2-1.4 .3-.5 .2,3 .2,1.9 .2-3.1 .3-2.4 .2,1.9 .2,.8 .3-3.7 .2,5.8 .2-3.2 .3,2.5 .2-1.1 .2,0 .3-2.4 .2,4.2 .2-.7 .3,1.8 .2-3.5 .2,1.6 .3-1.4 .2,2.5 .2-1.2 .3-2.3 .2,2 .2-1.3 .2,.2 .3,1.5 .2,2.1 .2-4.3 .3,1.4 .2-1.4 .2,5.1 .3-.6 .2,.9 .2-2.1 .3-3.3 .2,.9 .2,1 .3-.2 .2-1.1 .2,1.8 .3-1.1 .2,.4 .2,4 .3-3 .2-2.9 .2,2.9 .2-.4 .3,.9 .2-.2 .2-2.7 .3,2.4 .2,1.3 .2,3.5 .3-4.2 .2,2.3 .2-.2 .3-4.4 .2,.2 .2,4.5 .3-4.7 .2,.7 .2,2.1 .3-2.5 .2,4 .2-.7 .3,.5 .2-.6 .2-3.3 .2,3.8 .3-.3 .2-.3 .2-1.9 .3,.9 .2-2 .2,2.7 .3,1 .2-1.3 .2-.9 .3,1.7 .2-2 .2-2.6 .3,4.1 .2-1 .2-2.2 .3,3.4 .2,.4 .2,.4 .3-2.5 .2-.2 .2,1.2 .2-.3 .3-2.1 .2,.8 .2,3.8 .3-2.3 .2-.2 .2-1 .3,1.7 .2,.7 .2-.3 .3,2.3 .2-3 .2,1 .3-1.7 .2,2.5 .2-1 .3,1 .2,.2 .2-3 .3,2 .2-1.5 .2,2.7 .2-2.1 .3,3.1 .2-2 .2,0 .3-1.8 .2,.7 .2,.7 .3-1.7 .2,1.1 .2-.6 .3-.3 .2,1.4 .2,.4 .3-1 .2,1.3 .2-1.4 .3-1.2 .2,.5 .2,2.1 .3,1.5 .2-2 .2,.1 .2-2 .3,2.5 .2-.3 .2-1.6 .3,2.1 .2-.5 .2-3.1 .3,.4 .2,1.4 .2,.7 .3,2.1 .2-2.6 .2,.9 .3-.3 .2,1.3 .2-.9 .3,.3 .2-.8 .2-1.8 .3,1.8 .2,3.4 .2-1.1 .2,1 .3-1.3 .2-2.3 .2,.3 .3,1.7 .2-1.4 .2,1.7 .3,1.2 .2,0 .2-.9 .3-3.9 .2,4.7 .2-4.3 .3-.2 .2,2.6 .2-.2 .3,1 .2-1 .2-1.1 .3,1.1 .2-1.7 .2-.3 .2,1.5 .3,0 .2,.7 .2-.7 .3,2.5 .2-2.5 .2,.3 .3,1.9 .2-5.1 .2,5.3 .3-.2 .2-1.9 .2,3.8 .3-2 .2,1.3 .2-.9 .3-1.4 .2-.8 .2-1.3 .3,.5 .2-.6 .2,1 .2,1.8 .3-2.6 .2,2.7 .2,.2 .3-3.6 .2,1.3 .2,1 .3-.9 .2-.2 .2,3.8 .3-2.2 .2,1.9 .2-2.2 .3,1.4 .2-3.5 .2,1.5 .3,2.2 .2-1.3 .2,2 .3-2.1 .2-.8 .2,.5 .2,3.7 .3-2.7 .2-1.4 .2,.4 .3-1.5 .2,4.2 .2-3.1 .3,2 .2-1.4 .2-.3 .3-.5 .2,2.1 .2-1.2 .3,2.3 .2,.4 .2-3.3 .3,1 .2,2.7 .2-1.3 .3-1.5 .2-2.6 .2,.9 .2,.4 .3,4.4 .2-2.8 .2-1 .3,.2 .2-.1 .2,1.1 .3-3.3 .2,.5 .2,2.6 .3,1.5 .2-5.1 .2,4.4 .3-2.9 .2-1.2 .2,4.8 .3-2 .2,1 .2-1.4 .3,.3 .2-2.7 .2,2.3 .2,1 .3-1.9 .2,2.4 .2,.1 .3-4.4 .2,5.2 .2-.5 .3-.9 .2,1.9 .2,1.7 .3-5.3 .2,3.1 .2-.4 .3-.3 .2,1.1 .2,.1 .3-2 .2-3.8 .2,2.8 .3,0 .2,3.8 .2-2.5 .2,2 .3-3.3 .2,1.7 .2-.5 .3,.3 .2,.8 .2,1.6 .3-3.5 .2,3.3 .2-.4 .3-1.4 .2,.7 .2-1.7 .3-1.2 .2,1.3 .2,.1 .3,.3 .2-1.4 .2,4.5 .3-3.7 .2,2.2 .2,.5 .2-2.1 .3,.7 .2-1.6 .2-.9 .3,5.8 .2-3.8 .2-3.4 .3,1.8 .2-.9" stroke="#8a8a8a" stroke-width="0.9" fill="none" stroke-linejoin="round"/>
<path d="M53.8,192.8l.2,3.5 .3-1.9 .2,4.8 .2-3 .3-1.8 .2,3 .2,8.4 .3-8.1 .2,2.6 .2,3.8 .2-5.7 .3,11.2 .2-6.1 .2,11.4 .3-2.2 .2,6.2 .2,3.4 .3,1 .2,1.7 .2,.2 .3-2.1 .2,2.9 .2-4.1 .3,3.6 .2,.8 .2-4.6 .3,3.1 .2-1.5 .2,2.1 .3,3.8 .2-5.9 .2,4 .2-5.1 .3,5.6 .2,.6 .2-4.6 .3-.2 .2,.7 .2,2.7 .3-4.4 .2,5 .2-2.1 .3,.6 .2-.8 .2-2.6 .3,3.1 .2-2.5 .2-.3 .3,5.1 .2-1.1 .2-1.7 .3,.4 .2-1.9 .2,4.8 .2-5.6 .3-.1 .2,1.9 .2,2.6 .3-2.9 .2,1.1 .2-2.3 .3,1.4 .2-1.8 .2,2.5 .3-4 .2,8 .2-2.8 .3-3.2 .2,4.3 .2-4.8 .3,4.2 .2-2.8 .2,2.1 .3-1 .2-1.3 .2,.6 .2,.6 .3-5.4 .2,4.6 .2,2 .3-4 .2,.2 .2-.8 .3-1.2 .2,5.8 .2-4.3 .3-.1 .2,2.4 .2-.5 .3,6.8 .2-5.1 .2-5 .3,7.6 .2-2.7 .2-1.7 .3-.6 .2-2.3 .2,7.2 .2-3.8 .3-1.7 .2,4.6 .2-2.7 .3-4.1 .2,1.2 .2,1.6 .3,6.7 .2-5.2 .2-1.1 .3,1.4 .2-.5 .2-6.6 .3,6.9 .2,1.6 .2-2.5 .3,1.1 .2,0 .2-.4 .3-1.9 .2,1.2 .2,3 .2-2.2 .3-1.3 .2,2 .2-3.5 .3,.8 .2,3.8 .2-2.8 .3-3.5 .2,.9 .2,3.4 .3-2 .2,3.3 .2,1.6 .3-4.2 .2,.6 .2-.5 .3,1.1 .2-.7 .2,1.8 .3-2.1 .2-.8 .2,1.9 .2-1.9 .3,5.5 .2-2.1 .2-4.7 .3-.7 .2,3.2 .2,.8 .3,2.4 .2-3.4 .2-.9 .3,4.8 .2-4.3 .2,.1 .3,.1 .2,3.3 .2-3.5 .3,4.3 .2-6.3 .2,2.9 .3,2.7 .2-5.3 .2,.4 .2,3.8 .3-6 .2,6.8-.2-2.8 .3-89.4 .3,88.7-.2,.7 .3-1.9 .2,7.3 .2-6.9 .3,2.3 .2-.1 .2,2.2 .3-3 .2,3.1 .2-.3 .3-1.1 .2,1.6 .2-5.9 .3,6.1 .2-1.2 .2-.9 .3-.7 .2-1.7 .2,0 .2,2.3 .3,.2 .2-.9 .2-1.6 .3,.2 .2,2.6 .2,3.2 .3-8.9 .2,2.6 .2,1.4 .3-.2 .2,1.9 .2,1 .3-1.4 .2-.3 .2,.9 .3,1.7 .2-2.4 .2-1.9 .3,2.3 .2-1.1 .2,4.4 .2-3.9 .3-.2 .2,2.3 .2,1.1 .3-4.6 .2,2.6 .2-2.7 .3,1.9 .2-2.2 .2,2 .3,2.5 .2-3.1 .2,.6 .3-2.1 .2,2.3 .2-.1 .3-2.7 .2-.6 .2,.8 .3-.6 .2,1.2 .2-.6 .2-.3 .3,1 .2,.7 .2-.1 .3-4.8 .2,5 .2,.6 .3,.2 .2-.7 .2-.6 .3,2.9 .2,1.8 .2-4.8 .3,4 .2-4 .2,.3 .3-2.2 .2-1.1 .2,2.8 .3,1.9 .2,1.3 .2-.8 .2-1.8 .3,4.5 .2-4.6 .2,.2 .3-1.4 .2,2.1 .2-1 .3,1.8 .2-.6 .2,2.8 .3-4.1 .2-3 .2,2.9 .3-.4 .2,2.8 .2-5.1 .3,4.7 .2-3.4 .2,1.5 .3,2.2 .2-4.2 .2,2.1 .2-.3 .3-.6 .2,1 .2,.7 .3-1.8 .2,1.8 .2-1 .3,1.6 .2,1.7 .2-1.7 .3-.4 .2-1.1 .2-2.5 .3,6.1 .2-3.9 .2,4.9 .3-2.5 .2-1.1 .2,3.7 .3-.9 .2-4.2 .2,.1 .2,.4 .3,1.4 .2-6.2 .2,4.8 .3,1.5 .2-5.4 .2,2.3 .3,2 .2-3.3 .2,2.2 .3-1.1 .2,.9 .2,2.6 .3-4.2 .2,1.7 .2,2.4 .3-.5 .2-3.6 .2,2.7 .3-.9 .2-1.3 .2,1.1 .2,3.5 .3-4.6 .2-.6 .2,.1 .3-1.6 .2,2.6 .2-.8 .3-1.8 .2,4 .2-4.3 .3,0 .2,2 .2-2.3 .3,2.1 .2,3.6 .2-4.3-.1,1.7 .3-86.4 .3,85.7-.2,.7 .2-.2 .2,.6 .3-2.6 .2,1.7 .2,2.6 .2-2.5 .3-.5 .2,3 .2-.6 .3-.1 .2,.4 .2-2 .3-1.4 .2-1.9 .2,1.5 .3,.3 .2-.3 .2-.4 .3,3.6 .2-2.3 .2,.8 .3,1 .2,.6 .2,.1 .3-.5 .2,2 .2-3.7 .2,1.1 .3-.2 .2-.6 .2-.8 .3,2.8 .2-1.1 .2,3.2 .3,1.3 .2-.6 .2-7.4 .3,7.1 .2-4.9 .2-2.1 .3,4.1 .2-4.5 .2-.4 .3,1.9 .2-3.1 .2,3.7 .3,2.9 .2-2.7 .2,2 .2,1.8 .3,0 .2-7.6 .2,6 .3-1.1 .2,1.3 .2-1.7 .3,.8 .2,.3 .2,1.7 .3,.4 .2-1.4 .2-2.2 .3-3.8 .2,2.2 .2-1.7 .3,2.8 .2,1.2 .2,2.6 .3-2.8 .2,4.5 .2-3.9 .2-4.1 .3,2.8 .2-1.7 .2,3.1 .3,2.1 .2-1.9 .2-.2 .3-3.4 .2-1.6 .2,5.7 .3-.8 .2-.4 .2,.4 .3,1.8 .2-2.8 .2-.6 .3,0 .2,3.3 .2-2.3 .3,3.4 .2-5.6 .2,4.1 .2-1.6 .3,.3 .2,.3 .2,1 .3,1.5 .2-7.4 .2,3.1 .3,0 .2-3.9 .2,4.6 .3-1.4 .2,1.1 .2-2.4 .3,1.4 .2,.4 .2,1.2 .3-1.2 .2-1.9 .2,6.9 .3-4.1 .2,.6 .2-.3 .2,3.5 .3-5.7 .2,3.3 .2-1.3 .3,.6 .2,2.4 .2-2.6 .3,3 .2-2 .2-1.3 .3-.7 .2-.1 .2,.4 .3-4.8 .2,3.6 .2,3.4 .3-1.3 .2,.1 .2-1 .3,.9 .2,.5 .2-5.3 .2,3.4 .3,.8 .2-.2 .2-.1 .3-3.4 .2,1.9 .2-1.4 .3,9 .2-7.3 .2-1.6 .3-1.9 .2,4.1 .2,3.7 .3-4.9 .2,2.5 .2,2.5 .3-2.5 .2-3.6 .2-.3 .3,1 .2,3.7 .2-7.5 .2,7.8 .3-2.3 .2,2.8 .2-5.8 .3,1.8 .2-.9 .2,1.6 .3,.4-.3-.6 .3-85.3 .3,84.6-.1,.7 .2,4.4 .3-6.1 .2,.1 .2,2.8 .3-.8 .2-.7 .2-2.7 .3,2.4 .2,.8 .2,1.2 .3,2.1 .2-2 .2-1.4 .2,.7 .3-.7 .2-1.4 .2,.6 .3,.3 .2-.8 .2,1 .3,.5 .2-1.1 .2,4.6 .3-6.3 .2,5.4 .2-4.5 .3,1.7 .2-2.3 .2,2.3 .3,2 .2-4.2 .2,1.8 .3,.2 .2,0 .2-1.9 .2,.4 .3,1.2 .2,3.8 .2-2.5 .3-1 .2-3.6 .2,3 .3,1 .2-2.8 .2,2.8 .3-.2 .2-.4 .2,3.5 .3-5.2 .2,1.2 .2,1.5 .3,1.8 .2-2.9 .2-2.5 .3,4.3 .2,.9 .2-3.1 .2,4.3 .3,1.3 .2-3.8 .2,.6 .3-.9 .2,.6 .2-1.9 .3,1.2 .2,.8 .2-.3 .3-2.3 .2-.7 .2,.1 .3,.5 .2,8.4 .2-4.8 .3-1.5 .2-1 .2,3.8 .3-6.4 .2,2.4 .2,1.9 .2-1.6 .3,1.1 .2,.9 .2-2.7 .3,2 .2,2.1 .2-1.6 .3-1.1 .2,2 .2-4.9 .3,5 .2-6 .2,1.8 .3,3.9 .2-2.3 .2-2.2 .3,3 .2,2.1 .2-2.8 .3-3.9 .2,7.4 .2-4.3 .2,1.1 .3,.3 .2,.6 .2-.1 .3-2.9 .2,1 .2,3.4 .3-5.4 .2,6 .2-4.1 .3,1 .2-2.1 .2,1.8 .3-1.4 .2,2.3 .2-2.1 .3,1.3 .2-3.8 .2,6.1 .3-4 .2,1.6 .2,.6 .2,1.6 .3-2.1 .2,4.1 .2-.2 .3-4.4 .2,4.8 .2-6.3 .3,3.6 .2-1.1 .2,.4 .3-.7 .2,1.5 .2,.2 .3-.4 .2-2.5 .2-.2 .3-.2 .2,1.9 .2,1.2 .3,3.2 .2-4.9 .2-.4 .2,2.7 .3-2.6 .2-1 .2,2.6 .3-2 .2,1.6 .2,4.3 .3-2.6 .2-.1 .2-2 .3,3 .2-.9 .2,1.2 .3-2 .2-.2 .2-1.9 .3,.4 .2,1.4 .2-.1 .3,.3 .2,0-.2-3 .3-74.9 .2,74.2-.1,.7 .2,8.5 .3-4.8 .2-1 .2-1.7 .3,4.7 .2-3 .2-1.1 .3,2.8 .2,3.1 .2-3.3 .3,1.8 .2-3.8 .2,3.2 .3-5.6 .2,3.5 .2,2 .3-.6 .2,1.3 .2-3.1 .3-2.3 .2,3.6 .2-2.4 .2,4 .3-2.6 .2-4.2 .2,7.8 .3-5.5 .2,.1 .2,6.5 .3-.9 .2-1 .2-4.1 .3,3 .2-.5 .2-1.9 .3,1.3 .2-.2 .2,1.2 .3-3.1 .2,4.1 .2-5.2 .3,4.3 .2,1 .2-3.1 .2,.5 .3,5.1 .2-4.6 .2,3.3 .3-1 .2-3.4 .2,3.5 .3-2.6 .2,1.6 .2-4.9 .3,4.3 .2,2.3 .2-.1 .3-.4 .2-2.2 .2,.3 .3-2 .2,1.7 .2,.1 .3-.4 .2,1 .2-.9 .2-1 .3,0 .2,2.8 .2,2.6 .3-2 .2-2.3 .2,5.9 .3-4.3 .2-1.9 .2,2.2 .3,1.2 .2-6.1 .2,.8 .3,3.5 .2-3.3 .2,.1 .3,5.1 .2-8 .2,7.7 .3-1.4 .2,1.8 .2-2.5 .2,3 .3-2.8 .2-2.3 .2,1.9 .3,1 .2-3.8 .2,5.2 .3-3.9 .2,2.7 .2-1.1 .3,.4 .2-.2 .2,.4 .3,1.6 .2-.4 .2-2.1 .3,1.1 .2,2.3 .2-1 .3,0 .2-1.3 .2-.5 .2,.2 .3,1.6 .2-1.4 .2,3 .3,3.2 .2-6 .2,3.4 .3-1.4 .2,.5 .2-3.8 .3,3.9 .2-3.1 .2,1.6 .3,1.6 .2,.7 .2-4.3 .3,.2 .2-.8 .2-2.2 .3,3.3 .2,0 .2,.9 .2-.5 .3,1 .2,1.2 .2-6.1 .3,8.1 .2-4.4 .2-.4 .3,.6 .2,2.4 .2-1.6 .3,.6 .2,1.3 .2-2.2 .3,.8 .2,.3 .2-2.6 .3,3.7 .2-3.1 .2,2.2 .3-2.2 .2,.8 .2-.3 .2,2.6 .3-.5 .2,.2 .2-2.1 .3-1.2 .2-.7 .2,3.3 .3-1.2 .2,3.6 .2,1.3 .3-2.8 .2-.4-.1,1.8 .3-77 .2,76.3-.2,.7 .3,.5 .2-4.8 .2,2.8 .3,1.9 .2-8.5 .2,4.6 .3,1 .2-2.1 .2,3.1 .2-4.9 .3,6.6 .2-.5 .2-2.5 .3,1.4 .2-4.6 .2,6.4 .3-1.9 .2-2 .2-.7 .3-.9 .2,1.4 .2-3.9 .3,5.7 .2-1.4 .2-1.4 .3,2.5 .2,0 .2,.3 .3,.4 .2,1.1 .2-1.2 .2,2.1 .3-4.1 .2,4.2 .2-7.7 .3,.8 .2,1.2 .2,2.8 .3,.8 .2-3.8 .2,2.2 .3-.7 .2,2.7 .2-3.8 .3,4 .2-1.9 .2,3.8 .3-2.2 .2-2.4 .2,2 .3,0 .2-2.6 .2,1.8 .2-2.7 .3,7.7 .2-6.3 .2,.1 .3,4.4 .2-.5 .2-4.6 .3,4.1 .2-.9" stroke="#f30010" stroke-width="1.15" fill="none" stroke-linejoin="round"/>
</g>
<clipPath id="cp13"><rect x="53.80" y="252.60" width="207.20" height="99.20"/></clipPath>
<g clip-path="url(#cp13)">
<path d="M53.8,308.9l.2,5.6 .3,.8 .2,4.9 .2-1.8 .3-3.5 .2,6.1 .2-.6 .3,1 .2,3.8 .2,1.2 .2,7.9 .3,5.5 .2,2.8 .2,2.5 .3,2.5 .2-1.2 .2,3 .3-2.1 .2,1 .2,1.5 .3-2.7 .2,3.8 .2-3.6 .3,2.6 .2-2.2 .2-1.6 .3,1.3 .2,2 .2-1 .3,.6 .2,1.3 .2-.1 .2-1.9 .3-.8 .2,3.8 .2-2.8 .3-1 .2,.7 .2,1.9 .3-3.4 .2,3.7 .2-3.1 .3-1.6 .2,6.1 .2-3.8 .3-.1 .2,.1 .2,1.7 .3-.8 .2,1.8 .2-2.5 .3-.7 .2,2 .2,.5 .2-.8 .3-.8 .2-.1 .2,.3 .3-.3 .2,2.3 .2,2.4 .3-5.6 .2-1.4 .2,4.8 .3-1.3 .2-1.6 .2-1.1 .3,.5 .2-1 .2,2.2 .3-.8 .2,0 .2,1.4 .3-2.7 .2,1 .2-.6 .2,2.3 .3-2.4 .2,3.5 .2-2.4 .3,5 .2-2.7 .2-2.9 .3,2 .2-1.1 .2,3 .3-5.3 .2,1.6 .2,1.1 .3-.8 .2,.2 .2-1.8 .3,2 .2,2.8 .2-2.1 .3-2.5 .2,1.2 .2,1.6 .2-1.7 .3,.8 .2-.8 .2,3.7 .3-1.2 .2-2.6 .2,1.5 .3-1 .2-2.6 .2,3.7 .3-.9 .2,1.3 .2,.2 .3-1 .2,2.3 .2,1.1 .3-5.8 .2,2.5 .2-2 .3,1.6 .2,0 .2-.9 .2-.1 .3,3.2 .2-4 .2,3.6 .3-1.9 .2-3.9 .2,4.1 .3-2.7 .2,3.4 .2-1.6 .3,.9 .2-.6 .2,2.1 .3,.1 .2-2 .2,3.1 .3-1.2 .2-2.5 .2,2.1 .3,.5 .2,.3 .2-2 .2,.8 .3-.8 .2,.5 .2-3.4 .3,3.8 .2,2.5 .2-3.4 .3,.2 .2-.3 .2,3 .3-4.6 .2,1.9 .2,.1 .3,2.5 .2-3.4 .2,.9 .3-2.4 .2,3 .2,1.3 .3-2.2 .2,1.7 .2-2.2 .2,2.5 .3-1.6 .2,.1 .2-.3 .3,.8 .2,.5 .2-1.2 .3,.8 .2-1.2 .2,.7 .3,3.3 .2-3.6 .2-2.4 .3,1.7 .2-.4 .2,.2 .3,1.5 .2,1.4 .2-3.5 .3-.4 .2,.8 .2,.2 .2,.1 .3,.7 .2-.5 .2,.4 .3-.5 .2,2.1 .2-.6 .3-1.9 .2,1.5 .2,3.4 .3-4.2 .2,3.9 .2-6.9 .3,2 .2,.1 .2,2.2 .3,.7 .2-1.5 .2-.4 .3,1.3 .2-1.5 .2-.9 .2,.1 .3,2.7 .2,1.9 .2-3.6 .3,1.1 .2-1.8 .2-2 .3,0 .2,2.2 .2-1.3 .3-.9 .2,2.6 .2-.4 .3-.9 .2,1.4 .2,.7 .3,.4 .2-1.2 .2,1 .3-2.3 .2,1.8 .2-2.9 .2,.4 .3,4 .2-3.8 .2,2.4 .3-2.9 .2,1.4 .2,.9 .3-1.2 .2,2 .2-1.5 .3-.1 .2,.9 .2-.9 .3,2.3 .2-2.6 .2,2.9 .3-3 .2,.2 .2-.4 .3,2.1 .2-5.9 .2,5.3 .2-.6 .3,1.4 .2-3.5 .2,3 .3-2.3 .2,3.1 .2-2.1 .3,1.1 .2-2.1 .2,2 .3,.9 .2-2.2 .2,2.7 .3-.4 .2-2.8 .2,4.2 .3-4.2 .2,1.8 .2,.8 .3-1.8 .2-.7 .2,2 .2-.7 .3-1.6 .2,.1 .2,1.2 .3,1.2 .2,.2 .2-.5 .3-2.1 .2,.1 .2,.5 .3-1.8 .2,2.7 .2,.1 .3,0 .2-3.7 .2,6.3 .3-3.7 .2-.3 .2,.6 .3-3.7 .2,1.9 .2,.6 .2,2.7 .3-2.3 .2,1.4 .2-.7 .3-.3 .2,1.1 .2-1.8 .3-1.6 .2,.9 .2,1.3 .3,3.4 .2-4.8 .2-.1 .3,2.1 .2,.4 .2-1.8 .3,2.3 .2-2.6 .2,3 .3-.3 .2-1.5 .2,2.3 .2-2.3 .3-.9 .2,2.9 .2-3.6 .3,2.4 .2-1.8 .2,.5 .3,1.1 .2,.1 .2,1.8 .3-1.6 .2,.1 .2-3.9 .3,1 .2,3.8 .2-3.5 .3,.9 .2,.9 .2-1.3 .3-.6 .2,2.2 .2-.5 .2-.7 .3,1.8 .2-1.9 .2,.4 .3,.9 .2,.3 .2-1.9 .3-.9 .2,.9 .2,1.8 .3-2.5 .2,.9 .2-.7 .3-1 .2,3.3 .2-1.2 .3,.7 .2,.4 .2-4.6 .3,1.7 .2,4.3 .2-3.5 .2,1.5 .3-2.7 .2,1.7 .2,.4 .3-.6 .2-.4 .2,.6 .3,.4 .2-.2 .2-1 .3,2.6 .2-1.9 .2,.2 .3,.6 .2-2 .2,3.2 .3-1.5 .2,.8 .2-2.2 .3,1.6 .2-.9 .2-.5 .2,3.1 .3-3.3 .2,1.9 .2-.8 .3-.2 .2-1.5 .2,.1 .3-1.7 .2,2.6 .2,1 .3,0 .2-1.8 .2-1.6 .3,2 .2,1.5 .2-1.4 .3,0 .2,.3 .2,1.3 .3,2.8 .2-3.2 .2-2.5 .2,1.3 .3,3.8 .2-3.5 .2,2.9 .3-6.1 .2,2.8 .2,2.2 .3-3.2 .2,2.5 .2-2.1 .3,.8 .2,1.9 .2-2.9 .3,3.1 .2-4.2 .2,2 .3,1.7 .2,1.2 .2-5.4 .3,.2 .2,4.3 .2-4.6 .2,2.3 .3,.6 .2-.2 .2,.2 .3-2.7 .2,2 .2,3.2 .3-6.3 .2,1.9 .2,3.1 .3-1.2 .2,.9 .2-1.5 .3-.6 .2,.2 .2,1.3 .3,.3 .2-2.6 .2,1.5 .3-3.8 .2,4.9 .2-2.6 .2,1.2 .3,1.2 .2-3.4 .2,2 .3,1.6 .2-.9 .2-2.2 .3,3.6 .2-4.2 .2,1.1 .3,1.5 .2-2.6 .2-.7 .3,1.8 .2,.7 .2-2.7 .3,.5 .2,3.9 .2-1.2 .3,0 .2,.3 .2,1.7 .2-3.9 .3,1.3 .2,0 .2-2.1 .3,3.1 .2-.8 .2-.6 .3,1.1 .2-.5 .2-1.5 .3,1.3 .2-2.2 .2,3.3 .3-1.5 .2,2.5 .2-2.1 .3,.9 .2-3.3 .2,1 .3,.3 .2-2.1 .2,.6 .2,1.1 .3,2.2 .2,1.2 .2-2.3 .3,.5 .2,.5 .2-.6 .3,2.1 .2-5 .2,4.2 .3-.8 .2-2 .2,3.5 .3-4.1 .2-.1 .2,2 .3,1.2 .2-1 .2,2.2 .3-5.2 .2,2.1 .2,1.3 .2,.2 .3-2.4 .2-1.5 .2,4.4 .3-1.1 .2,1.9 .2-4 .3,.9 .2-3.4 .2,3.8 .3,.4 .2,.5 .2-2.6 .3,4 .2-3.8 .2,.8 .3,1.2 .2,.6 .2-3.2 .3-1.3 .2,3.7 .2-1.6 .2-2 .3,3.8 .2-.6 .2,1.6 .3-1.8 .2-.1 .2,.5 .3,.5 .2,1.4 .2-.4 .3-.6 .2-2.6 .2,1.8 .3,.6 .2-2.5 .2,.2 .3,2.1 .2-.2 .2-2.1 .3,.4 .2,2 .2-1.8 .2,.5 .3-1.9 .2,3.2 .2-2.8 .3,.7 .2,2.3 .2-3.3 .3,.2 .2,3.6 .2-5.3 .3,5.1 .2-.4 .2-1 .3-1.8 .2,.4 .2,1.1 .3-2.4 .2,1.6 .2-1.6 .3-2.4 .2,4.3 .2,4.5 .2-3.4 .3,1 .2-1.9 .2,0 .3,2.2 .2-.1 .2-1.5 .3-.1 .2,4 .2-5.9 .3,1.6 .2,.1 .2-.5 .3,2.2 .2-1.6 .2-1.8 .3,0 .2,1 .2,1.2 .3,.9 .2-3.5 .2,1.4 .2,1.5 .3,2.9 .2-2.1 .2,1.8 .3-5.2 .2,1.7 .2,1.6 .3-.7 .2-4.8 .2,2.3 .3,4.3 .2-2 .2,1.9 .3,.8 .2-3.1 .2-3.7 .3,1.4 .2,2.6 .2,.7 .3-.9 .2-1.4 .2,4.2 .2,.7 .3-6.2 .2,2.7 .2-2.2 .3,2.3 .2-2 .2,3.5 .3-1.8 .2-1.7 .2,.9 .3,2.5 .2-2.2 .2,2.6 .3,1.3 .2-3.2 .2-1.5 .3,1 .2,3.6 .2-3.6 .3,.4 .2,1.9 .2,3.5 .2-5.9 .3,.3 .2,.7 .2,3.8 .3-.4 .2-4.2 .2,.4 .3,.6 .2,1.2 .2-1 .3,1.6 .2-.3 .2,.9 .3-1.8 .2,1.2 .2-2.3 .3,.4 .2,2.6 .2-4.4 .3,5 .2-2.6 .2-1 .2-.3 .3,5.9 .2-5.4 .2-.3 .3-.3 .2,6.2 .2-2.6 .3-.9 .2,.6 .2-3 .3,3.5 .2-3.2 .2,1.2 .3,3.4 .2-.7 .2-.9 .3-.9 .2-1.5 .2,2 .3-1.8 .2,4.3 .2,2.5 .2-4.6 .3-1.3 .2,1.5 .2,1.1 .3-2.4 .2-2.5 .2,3.5 .3,1.1 .2,.2 .2-4.8 .3,3.5 .2-1.1 .2-1 .3,.3 .2,3.4 .2-3.1 .3,.2 .2,.6 .2-.8 .3,2.7 .2-.8 .2,.8 .2-2.2 .3,2.5 .2-1.8 .2,2.6 .3-1.6 .2,.4 .2-.4 .3-.4 .2,.6 .2,.1 .3,3.1 .2-5.3 .2,2.9 .3-.6 .2,1 .2-3 .3,3.2 .2-2.3 .2-1.2 .3-.7 .2,.8 .2,1 .2,3.1 .3-4.2 .2,.2 .2,.6 .3,.1 .2,1.2 .2,1.1 .3-2.7 .2-.3 .2,3.9 .3-3.2 .2,1.1 .2-1 .3,1 .2-1.4 .2,.2 .3,.3 .2,3.8 .2-3.7 .3,1.4 .2,2 .2-3.1 .2,3.5 .3-3.8 .2-1.3 .2,3.8 .3-2.4 .2,.8 .2-.3 .3,3.4 .2-3.3 .2,.8 .3-1 .2,1.3 .2-1.8 .3,1.4 .2-.7 .2-1.1 .3,2 .2-1.4 .2,1.3 .3-.4 .2,1.8 .2-2.2 .2-.8 .3,2.3 .2-1.5 .2,.6 .3,2.6 .2-2.4 .2-1.6 .3,3.1 .2,2.2 .2-3.4 .3,1.5 .2-4.3 .2,3.3 .3,0 .2,1 .2-1.4 .3,1.3 .2,.6 .2-1.4 .3,1.3 .2-3.5 .2,4.1 .2-1.8 .3,1.1 .2,1.1 .2-5 .3,6.3 .2-6 .2,4.8 .3-2.4 .2-3.7 .2,7.4 .3-1.3 .2-4.4 .2,1.9 .3,1.2 .2-.8 .2,1.5 .3-1.8 .2-2.3 .2,3.2 .3-.9 .2-1.7 .2-1.3 .2,4.3 .3-1.5 .2,1.5 .2,.1 .3-.4 .2,.4 .2,1.9 .3,.4 .2-2.1 .2-1.4 .3-1.8 .2,2.9 .2-.6 .3-1.3 .2-.2 .2,1.5 .3-.1 .2-3.2 .2,3.7 .3,.2 .2,1.9 .2-3.4 .2,1.2 .3-3.6 .2,3.7 .2-1.9 .3-.2 .2-1.1 .2,4.9 .3-4.8 .2,2.6 .2,.2 .3,.4 .2,.1 .2-.1 .3,3.4 .2-4.8 .2,.8 .3,1.7 .2-1.5 .2-3.9 .3,3.2 .2,1.3 .2-3.5 .2,4.2 .3-1.1 .2,.7 .2-.5 .3-1.6 .2,.2 .2,2.2 .3-1 .2-.3 .2,.8 .3-.6 .2,1.2 .2,0 .3-1.3 .2,1.8 .2-2.4 .3,1 .2,1.2 .2-.5 .3-.2 .2-.5 .2-.4 .2,.5 .3,1.1 .2-3.8 .2,.9 .3,1.3 .2-1.4 .2,1.1 .3,.9 .2-.5" stroke="#8a8a8a" stroke-width="0.9" fill="none" stroke-linejoin="round"/>
<path d="M53.8,321.6l.2-9.9 .3,8 .2-4.2 .2,.7 .3,3.8 .2-1.6 .2,1.1 .3,2 .2-1 .2,.9 .2,4.5 .3,2.5 .2,2 .2,1.7 .3,5 .2,5 .2,5.9 .3-.3 .2,.2 .2-3 .3-1.4 .2,4.5 .2-1.8 .3,.2 .2,2.3 .2,2 .3-2.1 .2,1.5 .2-2.4 .3-.4 .2,.1 .2,0 .2-1.4 .3,3 .2-3.8 .2,5.4 .3-3.7 .2-.7 .2,2.5 .3,1.7 .2-4.7 .2,2.8 .3-3.1 .2,0 .2,1.7 .3-.1 .2-2.1 .2,1.3 .3,2.8 .2-2.3 .2-.8 .3,.7 .2,0 .2,.8 .2-.1 .3,1.7 .2,1.1 .2-5.4 .3,3.7 .2-1.8 .2,3.6 .3-3.5 .2,2.1 .2-8 .3,8.4 .2-.1 .2-4.1 .3-.4 .2,6.9 .2-5 .3-1.3 .2,4.4 .2-4 .3,2.6 .2,1 .2-1.4 .2,.2 .3,2 .2-7.7 .2,5.7 .3,.6 .2-3.4 .2,2 .3-3 .2,3.4 .2-1.3 .3,.5 .2-.1 .2,.8 .3-.2 .2-3.8 .2,5 .3-.3 .2-.4 .2-2 .3,.4 .2-1.1 .2,4.8 .2-3.4 .3,.9 .2,.2 .2-.9 .3,4.5 .2-4.7 .2,.2 .3,3.4 .2-2.9 .2-3.4 .3,4.1 .2-2.1 .2,1.7 .3,1.2 .2,.3 .2-1.1 .3-3.6 .2,1 .2,3.2 .3-3.6 .2,2.4 .2,1.2 .2-2.4 .3,2.9 .2,1.3 .2-6 .3,6.6-.2-5 .3-78.8 .3,78.1-.2,.7 .2,4.3 .3-3.1 .2,.3 .2,.6 .3,3.6 .2-4.3 .2-.2 .3,1.8 .2-1.7 .2-2.3 .3,3.6 .2-2 .2,2.9 .3-3.2 .2-.5 .2-3.9 .2,3.3 .3,1 .2-2 .2,5 .3-4.3 .2,3.4 .2,.1 .3-3.6 .2,1.8 .2-2.3 .3,5.8 .2-3.6 .2,1.7 .3-.5 .2,3.4 .2-6 .3,1.5 .2,2.6 .2,.7 .3-1 .2-4.7 .2,3.1 .2,.5 .3-1.8 .2,1 .2-.4 .3-1.1 .2,.9 .2-1.2 .3,4.3 .2-2.6 .2,.9 .3-1 .2,.3 .2,1.3 .3-.6 .2-2.7 .2,3.1 .3,1.4 .2-3.8 .2-.8 .3,2.6 .2-.9 .2,2.1 .2-1.4 .3-2.7 .2,.6 .2,1.4 .3,.9 .2,2.8 .2-4.1 .3-.3 .2-1.2 .2-2 .3,3.4 .2-1.2 .2,4.3 .3-4.9 .2,.7 .2-1 .3,1.4 .2,.5 .2-2.2 .3,4.5 .2-2.7 .2-1 .2,3.9 .3,.8 .2-3.3 .2,.6 .3-1 .2-.1 .2,2.9 .3-2.3 .2-1.6 .2,3.1 .3-.2 .2,1.7 .2-4 .3-2.4 .2,6.9 .2-4.4 .3-.3 .2,3 .2-.4 .3,1.4 .2-.5 .2-2 .2-1 .3,1.1 .2-1.6 .2,1.4 .3,2.8 .2-5.4 .2,.5 .3,3.9 .2-5.1 .2,2.7 .3,.6 .2-3.7 .2,9.2 .3-1.9 .2-4.8 .2,2 .3,1.4 .2-5.1 .2,2.1 .3,3.7 .2-1.3-.3-3.2 .3-76.1 .3,75.4-.1,.7 .2-1.9 .3,7.8 .2-4.7 .2,1.3 .3,2.9 .2-3.3 .2,2.9 .3-2.2 .2-4.5 .2,2.3 .3-.6 .2,.4 .2,.5 .3-1.3 .2,4.4 .2-1.7 .3-2.5 .2,3.3 .2-.7 .3-3.4 .2-.7 .2,4.4 .2,.5 .3-3 .2,.7 .2,1.9 .3-2.6 .2,0 .2,1 .3-5.9 .2,3.2 .2,1.1 .3-.4 .2-4.1 .2,3.9 .3,3.7 .2-2.1 .2,.5 .3,1.3 .2-1.8 .2,0 .3,.7 .2,.8 .2-2.7 .2,5 .3-5 .2,1.6 .2-.5 .3,5.5 .2-8.5 .2,7.1 .3-1.8 .2-3.2 .2,2.6 .3-.4 .2,3.7 .2-3.7 .3-1.4 .2-1 .2,2 .3-1.1 .2-.4 .2,2.3 .3,.1 .2-5.7 .2,5.9 .2-4.4 .3,2.4 .2-2.9 .2,4.4 .3-2.5 .2,.4 .2,1.1 .3-1.1 .2,2.2 .2-1.4 .3,.6 .2-2.4 .2,1.7 .3,2.7 .2-2.1 .2-.6 .3,1.7 .2-4.7 .2,1.9 .3-.9 .2,3.3 .2-.8 .2-2.9 .3,5 .2-3.7 .2,.5 .3,1.2 .2-1.2 .2,2.4 .3-2.7 .2,3 .2,.1 .3-5.6 .2,4.3 .2,3 .3-6.5 .2,3.6 .2,5.8 .3-7.3 .2-2.1 .2,1.2 .3-2.9 .2,3.9 .2-1.6 .2,3.4 .3-2.5 .2-2.8 .2,2.1 .3,.7 .2,4.4 .2-3.3 .3,1.9 .2-4.4 .2,3.2 .3-2.3 .2,2.8 .2-6.1 .3,6.4-.2-2.7 .3-74.5 .3,73.8-.2,.7 .2-5.3 .3,5.1 .2,2.2 .2-3.1 .3-.8 .2,.2 .2,6 .2-4.6 .3,4.9 .2-8.5 .2,3.8 .3,1.1 .2-2.4 .2,.4 .3,3.5 .2-5.9 .2,3.9 .3,3.2 .2-6.7 .2-.3 .3,.6 .2,1.5 .2,3 .3-3.9 .2-1.9 .2,2.1 .3-1.6 .2,5 .2-3.8 .2,.1 .3,5.1 .2,.3 .2-1.9 .3-1.7 .2-.8 .2,1.4 .3-.4 .2,.1 .2-.4 .3-1.1 .2,.2 .2,1.1 .3-.6 .2,1.4 .2-2.6 .3,2.7 .2-4.5 .2,3.5 .3-.7 .2,2.2 .2-.9 .2-1.1 .3,.3 .2,1.3 .2,1.2 .3-2.6 .2-.2 .2-.9 .3-1.5 .2,3.3 .2,3.5 .3-3.9 .2,3.6 .2-1.2 .3-4.9 .2,.9 .2,2.6 .3-.1 .2-1.1 .2,3.5 .3-4.8 .2,1.8 .2-4.7 .2,6.1 .3-4.4 .2,3.6 .2-3.6 .3,4.2 .2-3.7 .2,2.5 .3,.8 .2-1.5 .2-1.3 .3,.1 .2-2.5 .2,1.6 .3,7.3 .2-4.7 .2,3.3 .3-3.4 .2-2.2 .2,4.2 .3-.4 .2-2.8 .2,.9 .2-4 .3,2.6 .2-.4 .2-2.6 .3,4.7 .2-1.1 .2,2.1 .3-2.7 .2-1.6 .2-.7 .3,2.9 .2,1.4 .2,.1 .3,1.3 .2-3.2 .2-2.7 .3,7.9 .2-.4 .2-7.6 .3,6.3 .2-4.1 .2,3.3 .2-4.3 .3,0 .2,1.3 .2-1.5 .3,1.7 .2-1.2 .2-2.7 .3,1.6-.3,3.7 .3-70.3 .3,69.6-.1,.7 .2,.3 .3-1.3 .2,0 .2-.7 .3,1.4 .2-2.6 .2,1.2 .3-.7 .2,.8 .2-1.4 .3,3.9 .2-5.9 .2,2.6 .2-.3 .3-.4 .2-1 .2,.7 .3,1.1 .2,.8 .2,3.1 .3-3.9 .2,1.1 .2,0 .3-5.8 .2,9 .2-4.1 .3-2.5 .2,.6 .2-.7 .3,5.4 .2-.7 .2-3.4 .3,1.9 .2-4.2 .2,3.1 .2,0 .3-.5 .2,1.5 .2-.8 .3,1.6 .2-1.3 .2,.9 .3-1.6 .2,3.6 .2,.1 .3-4.1 .2,.4 .2,2.6 .3-1.6 .2,1.7 .2-6.6 .3,7.7 .2-7 .2,5.4 .3-2.6 .2,1.4 .2,.3 .2-2.9 .3,.3 .2,2.3 .2,1.4 .3-6.4 .2,1.4 .2,2.7 .3,.9 .2-1.2 .2,.4 .3-2.3 .2,4.6 .2-2.1 .3,1.7 .2-4.5 .2-1 .3,4 .2-1.3 .2-1.9 .3,3.7 .2,1.3 .2-4.2 .2,1.2 .3,1.5 .2-3.5 .2,2.6 .3,4.3 .2-4.5 .2,.8 .3-4.1 .2,4.1 .2,.4 .3-1.4 .2,.4 .2,3.6 .3-3.3 .2,1 .2-3.7 .3-2.1 .2,7.5 .2-.3 .3-.2 .2-.4 .2,.1 .2-1.6 .3-2.2 .2,5.1 .2,.6 .3,.6 .2-6.2 .2-.5 .3,6.2 .2,.2 .2-3.7 .3-2.1 .2,.2 .2,1.8 .3-1 .2,.8 .2,1.9 .3-5.3 .2,4.1 .2,2.4 .3-1.3 .2,2.3 .2-3.3 .2-2.3-.1,5.1 .3-67.5 .2,66.8-.1,.7 .2-5.1 .2-2 .3,3.7 .2,3.3 .2-.6 .3-1.1 .2,2 .2,0 .3-2.1 .2-.1 .2-1.7 .3,3.9 .2-6.5 .2,1.8 .3,.4 .2,3.3 .2-5.1 .3,4.5 .2-4.6 .2,1.7 .2,4.2 .3-.9 .2-4.9 .2,1.8 .3,2.5 .2-.7 .2,.1 .3,2.1 .2-1.2 .2,1 .3-.5 .2-1.8 .2,3 .3-3.5 .2,1.3 .2-1.3 .3-.3 .2-.7 .2,1.4 .3-.2 .2,2 .2-1.6 .2,3.2 .3-1.4 .2-2.1 .2,1.8 .3-1.1 .2,3.3 .2-5.1 .3,4.1 .2-2 .2,.9 .3-2 .2,2.9 .2,1.3 .3,2 .2-3.4 .2,1.9 .3-3.6 .2-1.9 .2,7.8 .3-1.9 .2-3.4 .2-1.9 .2,2 .3,0 .2-.4 .2-.1 .3-2.2 .2,2.2 .2,4 .3-1.6 .2-1.4 .2,2.2 .3-1.2 .2,.6 .2,.4 .3-2.9 .2,2.3 .2,1.6 .3-.8 .2-1.6 .2-4.4 .3,4 .2-2.6 .2,2.2 .2,5.6 .3-5.3 .2,2.6 .2,1.1 .3-.5 .2-6.1 .2,7.2 .3-2 .2-3.8 .2,1.1 .3,5.1 .2-3.4 .2,.9 .3-.7 .2-2 .2,2.9 .3-.5 .2-3.8 .2,7.1 .3-3.1 .2-1.8 .2,3.7 .2-1.3 .3,1.5 .2-3.1 .2,1.6 .3-3 .2-.4 .2,2.1 .3,.9 .2-1.3 .2,.5 .3,2.7 .2-4.9 .2,1.9 .3-1.2 .2,4.6 .2-4.7 .3-2.6-.3,3.2 .3-61.5 .2,60.8 0,.7 .2,4.5 .3-3.2 .2,.2 .2-.5 .2,1 .3-1.6 .2,2.1 .2-1.5 .3,2 .2-1.6 .2-1.9 .3,3.2 .2-2.5 .2,3.4 .3-1.1 .2-.2 .2-3.2 .3,4.3 .2-4.2 .2,5.8 .3-2.8 .2-2.3 .2,.5 .3,3.7 .2,.5 .2-4.5 .2,4.6 .3-3.9 .2,2.4 .2-1.1 .3-5 .2,1.7 .2,1.5 .3,4.8 .2-3.6 .2,.6 .3,.3 .2-3 .2,6.5 .3-4.3 .2,.4 .2,1.9 .3-5.3 .2,6.5 .2-2.8 .3-.1 .2,4.9 .2-1.6 .2-1 .3-3.7 .2-.4 .2,.8 .3,.8 .2,5.2 .2-5.1 .3,1.6 .2-3.7 .2-.3 .3-1.9 .2,3.3 .2-.2 .3,4 .2-2.4 .2,2.8 .3-4.5 .2,4.5 .2-2.1 .3,1.3 .2-.7 .2-2 .2,2.2 .3-1.7 .2,2.7 .2-5.2 .3,4.4 .2-3.5 .2-2.4 .3,9.8 .2-3.1 .2-1.6 .3-3 .2,3.6 .2-1.9 .3,2.4 .2-2.7 .2,3.8 .3-4.4 .2,8.3 .2-2.4 .3-8 .2,3.6 .2,2.3 .2-6.7 .3,2.5 .2-.1 .2,3.3 .3-2.2 .2,.2 .2,4.7 .3-4.8 .2,1.7 .2-3.2 .3,0 .2,4.2 .2-.1 .3-1.7 .2-1 .2,2.3 .3-.6 .2-1.5 .2,.4 .3-1.6 .2,2 .2,2.4 .2,2 .3-5.6 .2,2.5 .2,0 .3-.1 .2,2.8 .2-2.6 .3,4.9 .2-4.8 .2,1.1-.1-6 .3-62.9 .2,62.2-.1,.7 .2,3.1 .2,1.4 .3-.8 .2-1.2 .2,3.2 .3-1.1 .2,.3 .2-6.2 .3,5.3 .2,4.4 .2-6 .2-3.9 .3,7.8 .2-9.7 .2,7.7 .3-2.3 .2,3.4 .2-.6 .3,2.1 .2-.4" stroke="#f30010" stroke-width="1.15" fill="none" stroke-linejoin="round"/>
</g>
<clipPath id="cp14"><rect x="53.80" y="378.80" width="207.20" height="99.60"/></clipPath>
<g clip-path="url(#cp14)">
<path d="M53.8,471.9l.2-3.8 .2-3.5 .2-13.5 .2-3.7 .2-3.7 .3,4.9 .2,5.9 .2,4.4 .2,8.9 .2,4.4 .2,3.7 .2-1.2 .2-.5 .2,2.1 .2-.4 .2,1.6 .2-4.1 .3,3.2 .2-.7 .2-2.9 .2,3 .2,2 .2-.9 .2-.9 .2-3.4 .2,2.5 .2,.7 .2-1.7 .2-.7 .3,3.2 .2-3.4 .2,.9 .2,.6 .2,4.4 .2-4 .2-1.9 .2,2.6 .2-4 .2,3.5 .2,1.7 .3-2.5 .2,.4 .2-.8 .2,1.6 .2-2.4 .2,3 .2-1.1 .2,2.2 .2-.7 .2-1.6 .2,1.3 .2-.3 .3-.4 .2-.7 .2-.8 .2,0 .2-.4 .2,1.3 .2,1.2 .2,1.6 .2-2 .2,.7 .2,1.7 .3-5.5 .2,5.5 .2-3.5 .2-.3 .2,1.3 .2-4.5 .2,4.1 .2,1.2 .2-4 .2,4.1 .2,1 .2-.7 .3-.6 .2-1.1 .2-.4 .2,2.9 .2-3 .2-3 .2,4.7 .2-.9 .2-1.3 .2-.8 .2,2.9 .2,.5 .3,.1 .2-3.4 .2,.4 .2,4.8 .2,0 .2-1.4 .2,.4 .2-3.1 .2,.3 .2-2.7 .2,1.8 .3,1.1 .2-1.7 .2,3.3 .2,.8 .2-2.3 .2-1.4 .2,4.1 .2-4 .2,0 .2,2.2 .2-1.1 .2,.7 .3-.5 .2-1.2 .2,2.6 .2-3 .2,.3 .2-.1 .2,4.6 .2-.2 .2-4 .2,2 .2,.2 .3,.1 .2,.9 .2-1.7 .2,.7 .2-.1 .2-1.8 .2,2.7 .2-3.7 .2,5.3 .2-7.5 .2,6.1 .2-3 .3-.6 .2,1.5 .2-1.2 .2,1.4 .2,2.6 .2-3.4 .2-1.2 .2,2.7 .2,1.8 .2-1.8 .2-1.4 .2,0 .3-1.3 .2,.9 .2,.1 .2,4 .2-6.8 .2,3.5 .2-1.3 .2,1.9 .2-.3 .2-.3 .2-2.4 .3,.1 .2,1.4 .2-2.2 .2,3.8 .2-1.5 .2,1.6 .2-2.8 .2,2 .2-1.5 .2-1.2 .2,6.1 .2-6.8 .3,2.9 .2,1.1 .2,2.5 .2-2.6 .2,3.2 .2-3.8 .2,.4 .2-3.2 .2,3.5 .2-2.3 .2-.1 .2-1.5 .3,3.7 .2-1.6 .2,3.7 .2-.7 .2-1.3 .2-.4 .2,1.9 .2-1.3 .2-1.8 .2,1.9 .2-.5 .3,1.2 .2-3.7 .2-.6 .2,2.5 .2,.5 .2-2.8 .2,1.9 .2,1.8 .2,1.1 .2-1.2 .2-4.5 .2,4.5 .3-5.6 .2,4.6 .2,.4 .2-2.5 .2,2.5 .2-1 .2,2.3 .2,.3 .2-.8 .2-1.6 .2,1.5 .3,2 .2-3.9 .2,1 .2,.2 .2,.6 .2,2.6 .2-6.2 .2,3.3 .2-1.6 .2-1.4 .2,.4 .2,1.5 .3,.3 .2-.4 .2-1 .2,.5 .2,1.7 .2-1.5 .2,.1 .2-.5 .2,.8 .2-1.9 .2,1.9 .2-1.1 .3,1.3 .2,1 .2,.6 .2-1.2 .2-1.2 .2-1.1 .2,2.1 .2,.7 .2,0 .2-2.9 .2,1.9 .3,1 .2-2 .2,3.3 .2-2.3 .2,.2 .2,.2 .2,1.6 .2-3.4 .2-1.2 .2,4.8 .2-2.3 .2-.8 .3-2.6 .2,4.3 .2,.8 .2-1.5 .2-3.3 .2,3.2 .2-.4 .2-2.4 .2,6.3 .2,0 .2-4.9 .3,.2 .2,3.4 .2-3 .2,.7 .2-.3 .2,1.7 .2-.6 .2,.7 .2-1.5 .2,.4 .2-3.1 .2,1.7 .3,3.5 .2-3.2 .2-1.6 .2,1.8 .2-1.3 .2,1.8 .2-1.2 .2,2.6 .2-2.7 .2,3.4 .2-4.3 .2,4.5 .3,1 .2-4.3 .2,1.1 .2-.4 .2-.5 .2,.7 .2,1.3 .2-1.7 .2-.3 .2-.2 .2-2.4 .3,4.3 .2-1.3 .2-.8 .2,1.6 .2,1.2 .2-1 .2-2.7 .2,2.2 .2-1.5 .2,2.2 .2-1.9 .2,1.8 .3,.2 .2-1.5 .2,0 .2-2.3 .2,5 .2-3.4 .2-1.8 .2,.3 .2,2.8 .2,.5 .2-.3 .2-1.3 .3,.1 .2-.2 .2-.5 .2,2.7 .2,.1 .2,.1 .2,.2 .2-2 .2-.7 .2-3.6 .2,3.2 .3,.8 .2-2.3 .2,3.4 .2-1.7 .2-1 .2,.2 .2,.6 .2,1.2 .2,1.4 .2-1.7 .2,.6 .2-2 .3,1.3 .2-1.2 .2,3.5 .2-4.2 .2,2.9 .2,1.1 .2-.3 .2-1.2 .2-2.8 .2,.6 .2,3 .3-2.1 .2,.3 .2,2.4 .2-1 .2,1.7 .2-1.9 .2,2.8 .2-3 .2,.2 .2-.3 .2,.1 .2-3.2 .3,2.4 .2-1 .2-.9 .2-.2 .2,.3 .2,2 .2,.8 .2-.5 .2-.5 .2-.8 .2,.1 .2-1.9 .3,1.9 .2-3.1 .2,1.2 .2,2.4 .2-2.2 .2,6 .2-6.8 .2,1.5 .2,0 .2,3.3 .2-6.8 .3,4.5 .2-.3 .2-2 .2,2.1 .2,1 .2-2.4 .2,2.6 .2-2.8 .2,.9 .2-1.6 .2,3.8 .2-4 .3,1.5 .2-2.7 .2,4.2 .2-4.1 .2,1.9 .2-.2 .2,2.4 .2-2.1 .2-.2 .2,2.4 .2,.5 .3-.6 .2-3.6 .2,2 .2-1.2 .2,1 .2,.3 .2-.2 .2,1 .2-2.7 .2,1.7 .2-.1 .2,2.5 .3-2.7 .2,1.6 .2-.3 .2-2.5 .2,3.4 .2-1.5 .2-1.3 .2-.9 .2,2.7 .2-1.4 .2,.1 .2,2.2 .3,1.6 .2-.3 .2-4.1 .2,.8 .2,2.3 .2-1.2 .2-.4 .2-.1 .2-.5 .2-3.6 .2,4.8 .3-1.5 .2,1.4 .2-.2 .2,.4 .2-1.1 .2,.5 .2-1.4 .2,.2 .2,1.7 .2-4.5 .2,4.9 .2-2.4 .3-2.9 .2,4.5 .2-3.2 .2-.2 .2,1.7 .2,3.5 .2-5.2 .2,2.1 .2,1 .2-3 .2,3.2 .2-2.8 .3,2.5 .2-1.7 .2,2.5 .2-1.1 .2,.8 .2-.3 .2-1.4 .2,.5 .2-.6 .2-1.7 .2,2.2 .3,2.8 .2-2.6 .2-.6 .2-1.5 .2,0 .2,.1 .2,1.9 .2-1.5 .2,3.4 .2-4.4 .2,1.3 .2-.1 .3,1.4 .2-.7 .2,1.1 .2-2 .2,3.1 .2-3.7 .2,.6 .2-2.4 .2,3.3 .2,.1 .2-.5 .3,.3 .2,.2 .2,1.6 .2-.1 .2-.8 .2-.5 .2,1.4 .2,0 .2-1.5 .2-1.6 .2,1.5 .2-1.4 .3-.5 .2,.3 .2,1.9 .2-.1 .2,2.3 .2-1.9 .2-1.8 .2,2.4 .2-3.9 .2-.1 .2,2.8 .2-2 .3,3.7 .2-.6 .2-1.1 .2-.6 .2,.2 .2,1.1 .2-4.5 .2,2.6 .2,0 .2-.6 .2,.8 .3,.6 .2,.5 .2,1.7 .2-5 .2,3.8 .2,1.2 .2-1.4 .2,1.3 .2-5.8 .2,2.6 .2-1.7 .2-.1 .3,1.4 .2,0 .2,2 .2-1 .2,.8 .2-1 .2,1.1 .2-3.1 .2,.8 .2,1.3 .2,2.5 .2-3.8 .3-.3 .2,1.5 .2,1.9 .2-2.7 .2-1 .2,4.7 .2-4 .2,3.8 .2-3 .2-2.7 .2,2.6 .3-.6 .2,1.2 .2-.5 .2-3.8 .2,1.7 .2,2.6 .2,.1 .2-.7 .2-3.5 .2,3.2 .2-1.5 .2,2.4 .3,1.4 .2-4.1 .2,2.2 .2,1.1 .2-.2 .2,0 .2-.1 .2,1.4 .2-4.3 .2,1.3 .2-1 .3,2.1 .2-1.1 .2,.3 .2-1.7 .2,.6 .2,.7 .2,1.6 .2,.9 .2-.7 .2-.2 .2-.2 .2,1.1 .3-4.6 .2,2.2 .2,3.6 .2-1.4 .2,.3 .2-2.5 .2-1.3 .2,3.3 .2-2.6 .2,1.4 .2-2.2 .2-.4 .3,1.7 .2-.7 .2,1.2 .2,.6 .2,1.2 .2-2.4 .2,.7 .2,.5 .2-.5 .2,.1 .2,1.4 .3-.8 .2-2.7 .2,2.2 .2-2.6 .2,4.1 .2,.3 .2-2.4 .2-1 .2,2.3 .2-2 .2-.5 .2-.3 .3,1.9 .2-.1 .2,2.6 .2-2.7 .2-.4 .2-1.8 .2,4.3 .2-.7 .2,.3 .2-3 .2,5.4 .3-2.3 .2-5 .2,2.3 .2,3.1 .2-2 .2-1.4 .2,.5 .2,1.2 .2,.9 .2-2.5 .2,1.3 .2-1.3 .3,.7 .2,1.3 .2-3 .2,3.1 .2-1.4 .2,1.7 .2-.7 .2,.1 .2,.6 .2-1.4 .2-1.7 .2-.8 .3,.7 .2,2.5 .2-2.5 .2,1.6 .2-2.1 .2,4.8 .2-4.3 .2,3.3 .2-2.8 .2,2.6 .2-2.2 .3,1.9 .2,2.6 .2-1.4 .2-1.2 .2-.4 .2,3.6 .2-1.6 .2-.7 .2-.8 .2-.7 .2,1.7 .2,1.1 .3-2.9 .2,1 .2-1.9 .2,2.3 .2-1.8 .2,2.4 .2-1.8 .2,.3 .2-.5 .2,2.2 .2-1.3 .2,1.2 .3-1.1 .2-1.2 .2-3.7 .2,4.7 .2-1.1 .2,1 .2-1.6 .2,1.1 .2-.9 .2,1.1 .2-3.2 .3,1.6 .2,4.9 .2-3.1 .2,.3 .2,3.7 .2-2.1 .2-.6 .2,.4 .2-1.3 .2,3 .2-3.9 .2-.1 .3,.7 .2,1.1 .2-.5 .2,.8 .2-2.5 .2,1 .2-2.3 .2,3.7 .2-2.8 .2,3.2 .2-.6 .3,1.4 .2-2.4 .2,.9 .2-1 .2-1.4 .2,2.5 .2-.7 .2-.8 .2,1.6 .2,.8 .2-1.4 .2-.2 .3-.4 .2-.1 .2,2.4 .2-1.7 .2-1.2 .2,2.6 .2-1.2 .2,1.5 .2-1.2 .2-2.4 .2,2.5 .2,1.8 .3-2 .2,.2 .2-1.4 .2,3.9 .2-.6 .2-1.3 .2,2.3 .2-4.2 .2,5 .2-1.8 .2,1 .3-1.3 .2-2.2 .2,.3 .2-.5 .2,.6 .2,4.1 .2-3.6 .2,3.4 .2-2.1 .2-.1 .2,.2 .2-1.6 .3,2.1 .2-4 .2,1.8 .2-.8 .2,.7 .2-.2 .2,1.5 .2-3.2 .2,4.8 .2-2.3 .2,.7 .3,.4 .2-.8 .2,1.7 .2-2.6 .2,.2 .2,1.1 .2-1 .2,2.8 .2,1.3 .2-1.9 .2-.5 .2-4.3 .3,4.3 .2-2 .2,.4 .2-2 .2,3.2 .2-.9 .2,1.4 .2,1.1 .2,.2 .2-.3 .2-3.5 .2,1.9 .3,.7 .2-.3 .2,1 .2-.8 .2,0 .2-1.1 .2-.3 .2,4 .2-2.9 .2-1.8 .2,3.8 .3-1.2 .2-.6 .2-1.4 .2,.8 .2,1.3 .2-1.1 .2-.8 .2,1.1 .2-2.3 .2,2.3 .2,2.3 .2-.4 .3-1 .2,.2 .2-1.3 .2,.5 .2-2.1 .2,1.4 .2-1 .2,3.5 .2-.5 .2-1.7 .2,1 .2-.8 .3,.6 .2,1.4 .2-3.6 .2,.9 .2,4.2 .2-1.4 .2-1 .2-1 .2,1.2 .2,2.1 .2-3.4 .3,1.6 .2-2.2 .2,1.5 .2-1.1 .2,.3 .2-.1 .2,2.2 .2-2.3 .2,1.3 .2,2.3 .2-1.3 .2-.1 .3-1.2 .2-.3 .2,2.8 .2-2.9 .2,1.3 .2,1.6 .2-2.9 .2,2.5 .2,.7 .2-3.1 .2-.2 .3,2.5 .2-2.6 .2,.1 .2,2.4 .2-3.9 .2,3.2 .2-.4 .2,4.1 .2-4.7 .2,2 .2-1.7 .2,3.4 .3-4.5 .2-.4 .2-.7 .2,7.6 .2-5.5 .2,.4 .2,5.3 .2-3.5 .2-1 .2-2.4 .2,3.6 .2-1.6 .3,.4 .2-.6 .2,1.2 .2-2 .2-.1 .2,3.6 .2-3.8 .2,2.9 .2-.7 .2-2.2 .2,1.7 .3-.8 .2-.3 .2,.3 .2,1.8 .2,.7 .2-2.5 .2-.1 .2,.6 .2,.9 .2-1.6 .2,1.4 .2,2.1 .3-2.6 .2-.3 .2-.4 .2,2.6 .2-.2 .2-1.7 .2,1.2 .2-.5 .2-1.6 .2,.9 .2-2.2 .3,2.4 .2-2.2 .2,1 .2-2.3 .2,4 .2,.1 .2-2.1 .2,2.8 .2,0 .2-1.1 .2-.2 .2,2.8 .3-2.6 .2,.9 .2-.4 .2-.3 .2,.6 .2-2 .2,.9 .2,1.1 .2-.4 .2-1.5 .2,.4 .2-.7 .3,2.2 .2-.4 .2-2.9 .2,3.2 .2-2.7 .2,1.3" stroke="#8a8a8a" stroke-width="0.9" fill="none" stroke-linejoin="round"/>
<path d="M53.8,444.5l.2-3.7 .2,2.9 .2-1.2 .2-1.8 .2,0 .3,2.2 .2-.1 .2,6.6 .2,3.3 .2,3.5 .2-1.7 .2,2.5 .2,2 .2,4.1 .2-1.8 .2,2.1 .2-.6 .3-.2 .2,2.6 .2-1.5 .2-1.6 .2-.2 .2-.8 .2-.7 .2-2.4 .2-1.1 .2-5 .2-.6 .2-.4 .3-4.2 .2-.9 .2,.3 .2-8.7 .2-1.7 .2,2.6 .2-1.3 .2-.5 .2,2.4 .2,2.7 .2,1.8 .3,1.8 .2,2.3 .2,.5 .2,2.3 .2,2.3 .2,.1 .2,3 .2-4.5 .2,4.5 .2-2.6 .2-.8 .2-.4 .3-.2 .2-1.7 .2,3 .2-1.9 .2-.6 .2,.6 .2-.2 .2-2.9 .2,2.6 .2-.6 .2-.6 .3-.4 .2-.8 .2,.2 .2-1.1 .2,.1 .2-.7 .2-1.5 .2,3 .2-3.7 .2,2.9 .2-1.7 .2,.7 .3,.7 .2,2.6 .2-4.8 .2,3.7 .2,.5 .2-2.1 .2,2 .2-2 .2,.9 .2,2 .2,1.3 .2-.2 .3,3.5 .2-1.6 .2,.4 .2,1.2 .2-.8 .2,2.5 .2-3.3 .2-.6 .2,3.6 .2-2.1 .2-2.2 .3,1.5 .2,1.9 .2-.2 .2-2.8 .2-1.6 .2,4 .2-1.8 .2,1 .2-.9 .2-.9 .2,.3 .2,.8 .3-4 .2,3.1 .2,0 .2-1.9 .2,1.5 .2,.2 .2-1.7 .2,2.8 .2-2.6 .2-.5 .2,.5 .3,1.1 .2-.3 .2,2.4 .2-2.4 .2-.6 .2-.9 .2,.9 .2,.7 .2,.5 .2-1.2 .2-.4 .2-1.6 .3,1.6 .2,.5 .2-.7 .2,.4 .2-.5 .2,2.6 .2-1.1 .2-.7 .2-2.5 .2,.5 .2-.5 .2-1.6 .3,2.9 .2-3.3 .2,.9 .2,1.3 .2-3.3 .2,3.9 .2-.6 .2-1.5 .2-1 .2,.6 .2,2.6 .3-2.8 .2-.5 .2-3.9 .2,1.4 .2,1.6 .2,1.5 .2-2.2 .2,1.9 .2-2.1 .2-.5 .2,.9 .2-1.1 .3,.6 .2,.1 .2-3.1 .2,1.1 .2,1.1 .2,.4 .2-1.5 .2-.7 .2-.6 .2-1.1 .2,1.3 .2,2.1 .3-4.6 .2,1.1 .2,.3 .2-.9 .2,3.9 .2-1.7 .2,.1 .2-2.6 .2,3.2 .2-1.3 .2-2.8 .3,1.1 .2,1.3 .2-3.3 .2,4.3 .2-2.7 .2,.7 .2-1.2 .2,.8 .2,.6 .2-1.8 .2,1.8 .2-3 .3,.8 .2-2.2 .2,1.4 .2-.2 .2-2.1 .2-1.8 .2,4 .2-3.8 .2-1.4 .2,2.2 .2-1.8 .3-3.3 .2,.7 .2-1.6 .2-4.6 .2,2.6 .2-.9 .2,1.6 .2-1.7 .2,.7 .2-3.2 .2,1.9 .2,4.8 .3-3.1 .2,3.1 .2,2.5 .2-.4 .2,1.4 .2,2.4 .2,2.2 .2-.5 .2-.6 .2,.9 .2,.8 .2-2.4 .3,2.5 .2-3.3 .2,1.2 .2-1.8 .2,.5 .2-2.8 .2-.4 .2-.2 .2-4.1 .2-1.7 .2-3 .3-1 .2,.1 .2-2.7 .2-.3 .2-5.5 .2-7 .2-3.8 .2-1.7 .2-1.2 .2-.7 .2,1.9 .2,6.7 .3,3.3 .2,2 .2,4.4 .2,4.7 .2,3 .2,2.3 .2,2.4 .2,2.6 .2,3.2 .2-1.3 .2,2.1 .3,.7 .2-2.2 .2,1.6 .2,1.7 .2-2.2 .2,2.3 .2-4.3 .2,.2 .2-.4 .2-2.2 .2-2.5 .2,1.4 .3-.6 .2-5.7 .2,1.6 .2-3.9 .2,.4 .2-4.5 .2-1.7 .2-4.8 .2-1.2 .2-1.2 .2-3.7 .2,2.6 .3,5.7 .2,.8 .2,4.8 .2,4.2 .2,2.4 .2,2.2 .2,1.1 .2,3 .2,3.3 .2-.2 .2-.5 .3,4.4 .2-1.7 .2,1 .2,1.7 .2-1 .2,1.6 .2-.4 .2,.9 .2-2 .2-1.3 .2,3 .2-2.6 .3,4.7 .2-1.7 .2,.2 .2-3.9 .2,3.3 .2-2.1 .2,3.5 .2-4 .2-1.7 .2-.3 .2,2.7 .2-5 .3-1.5 .2-.8 .2,1.6 .2,3.7 .2-1.1 .2-.4 .2,3.6 .2-.9 .2,2.4 .2,0 .2-.2 .3,3 .2-4.3 .2,4.6 .2,.3 .2,2.1 .2-.9 .2,.5 .2,1.7 .2,0 .2-2.6 .2,.5 .2,3.5 .3-.8 .2-2.7 .2-.5 .2-1.1 .2,2.5 .2-2.7 .2,1.1 .2,.2 .2-.6 .2-1.8 .2,.5 .3-.5 .2,2.1 .2-.6 .2,1.2 .2-1 .2-.2 .2,.1 .2-1.6 .2,.7 .2-.2 .2,1.2 .2-1 .3,1.8 .2-.9 .2,1.1 .2,0 .2,1.4 .2,1.9 .2,.5 .2-4.7 .2,2.5 .2,.1 .2,1.1 .2,.6 .3-4.5 .2,5.9 .2-1.3 .2,.1 .2,1.7 .2,.3 .2-.7 .2-.4 .2,.2 .2-1.8 .2,2.8 .3-2.3 .2-1.6 .2,.6 .2,2.7 .2,2.3 .2-5.7 .2,.2 .2,1.2 .2-3.1 .2,2.1 .2-1.1 .2,1.2 .3-2.3 .2,.7 .2-.2 .2-2.6 .2,1 .2,2.2 .2-3.4 .2-.4 .2,2.3 .2-.7 .2-.6 .3,.5 .2-.3 .2-.4 .2,2 .2-3.3 .2,4.5 .2,.2 .2-3.2 .2-.2 .2,3.7 .2,.6 .2,1.4 .3-3 .2,1.5 .2,1.5 .2-1.6 .2-1.3 .2,1.1 .2-2.1 .2,1.6 .2,1 .2,.7 .2-.8 .2-1 .3,.5 .2-.4 .2,1.1 .2-.9 .2-.8 .2,1.8 .2,1.5 .2-4.5 .2,1.4 .2,1.3 .2-1.2 .3,.5 .2,1.9 .2-2.4 .2,1.5 .2-2.5 .2,.1 .2-2.2 .2,1.3 .2-1.2 .2,.5 .2-.4 .2,.9 .3-3.9 .2,.7 .2,.6 .2-1.5 .2,.5 .2,.2 .2-1.6 .2-1.4 .2,2.1 .2,1.8 .2-1 .2-3.1 .3,4 .2-2.5 .2,2.5 .2-1 .2,1.6 .2,2.5 .2-1.3 .2-3.2 .2,3.7 .2-.4 .2,1.8 .3,.3 .2-.1 .2,.3 .2-2.1 .2,3.4 .2,.3 .2,.6 .2,.5 .2-.2 .2-4.1 .2,2.5 .2-5.8 .3-.4 .2,.3 .2-.1 .2-2.9 .2-1.3 .2-3.2 .2,.7 .2-2.6 .2-2.4 .2-1.5 .2-.8 .3,.8 .2,0 .2-.4 .2,1.1 .2,.4 .2,.5 .2,3.1 .2,3.8 .2-.6 .2,4.2 .2,1.9 .2-2.7 .3,5.9 .2,.1 .2,.6 .2-1.8 .2,3.6 .2-1.4 .2,2.2 .2,1.7 .2-1.6 .2,.5 .2,2.3 .2,0 .3,.2 .2-2.2 .2,1 .2,.6 .2-.2 .2,1.6 .2-1.3 .2,1.7 .2,1.1 .2-.9 .2-1.2 .3,.2 .2-1.3 .2,4.1 .2-1.9 .2-.1 .2,5.1-.1-5.2 .3-61.9 .3,73.9-.3-4.3 .2,4.4 .2,1.8 .2-3.9 .2,2.3 .2-4.6 .3,1.1 .2,.1 .2-.7 .2-.8 .2-.4 .2-2.1 .2,2.5 .2-5 .2-.1 .2-1.6 .2,2.5 .2,1 .3-3.5 .2-1.8 .2-1.9 .2-.1 .2-2 .2-1.6 .2,1 .2-6.2 .2,2.6 .2-4 .2-3.3 .3,.7 .2-2.7 .2-3.2 .2,2.8 .2-.8 .2,3 .2,2.3 .2,1.6 .2,3.3 .2,1.4 .2-.1 .2,2.5 .3,.9 .2,3.3 .2-1.5 .2-1.7 .2,.4 .2,.8 .2,1.2 .2,0 .2-1.5 .2-1.5 .2,1.8 .3-1.9 .2,2.2 .2-2.3 .2,3.1 .2-1.9 .2,1.7 .2-2.6 .2-.1 .2,1.9 .2-.6 .2-.8 .2,1.1 .3-1.2 .2-.5 .2-2.7 .2-1.2 .2,2.4 .2-.4 .2-.8 .2,1.1 .2,0 .2-1.2 .2,1.4 .2,1 .3,1.3 .2-2.4 .2,3.4 .2-.8 .2,1.8 .2-.4 .2-.8 .2,.8 .2-1.2 .2,.8 .2,2.2 .3,1.4 .2-4.7 .2,2.3 .2-3 .2,2.1 .2,1.1 .2-1.9 .2,1.1 .2-.5 .2,1.3 .2-2.3 .2-.7 .3,2.3 .2-3.4 .2,3.3 .2-1.2 .2,2.6 .2,.3 .2-5.7 .2,.9 .2,.3 .2,4 .2-2.7 .3-.3 .2,.4 .2-.3 .2,1.8 .2-1.1 .2,1.4 .2-1 .2-1 .2,1.7 .2-.6 .2,.3 .2-.5 .3-1.2 .2,1.1 .2-.1 .2,2.7 .2-1.4 .2-1.5 .2,2.5 .2-.5 .2,.9 .2-3.1 .2,2.6 .2,.6 .3-1.8 .2-.6 .2,1 .2-.6 .2,1.2 .2,.6 .2,.5 .2,.2 .2,.3 .2-1.3 .2,.8 .3-.2 .2-.7 .2,1.1 .2,2 .2-.8 .2,.6 .2,1.2 .2-2.7 .2,1.9 .2,.3 .2-.2 .2-2.7 .3,1.8 .2-1.7 .2,1.7 .2,.6 .2-1.3 .2,.1 .2,.8 .2,1.8 .2-.7 .2,1.2 .2-1.2 .2-.3 .3-1.8 .2,.2 .2,1.2 .2-.2 .2,1.2 .2-3.5 .2,1.9 .2-1.4 .2,3.4 .2,.1 .2-.7 .3,1.4 .2,0 .2,2.1 .2-2.5 .2,1.3 .2-.7 .2,1.7 .2,2.4 .2-3 .2-.7 .2,3.7 .2-.3 .3-.7 .2,.1 .2,2.2 .2-4.8 .2,1.2 .2,2.4 .2,1.8 .2-3 .2-2.3 .2,1.6 .2-.7 .3,2.7 .2-2.2 .2,1.9 .2-5.5 .2,1.3 .2,3.1 .2-1 .2-4 .2-.2 .2-.1 .2-2.2 .2-2.9 .3,1.3 .2,2.2 .2-3 .2,1.1 .2-1 .2-1.5 .2,1.2 .2,1.9 .2-.6 .2,1.9 .2-1.1 .2,1.8 .3-.4 .2,1.3 .2-1 .2,1.6 .2,.2 .2,1 .2-.9 .2,2.5 .2-6.8 .2,4 .2-2.1 .3-.5 .2-1.5 .2-2.9 .2-.5 .2-2 .2-.6 .2-2.7 .2-1.7 .2-6.4 .2,1.3 .2-4.2 .2-6 .3-5.8 .2,1.1 .2-2.6 .2-3.1 .2,.7 .2,5 .2,4.2 .2,3 .2,2 .2,5.2 .2,2.2 .3,4.3 .2,3.3 .2,2.2 .2,3.6 .2,.8 .2,1.8 .2-.4 .2-1.5 .2,1.1 .2,.7 .2-1.9 .2,.2 .3,.8 .2,1 .2-2.3 .2-2.3 .2,4.6 .2,.5 .2-1.9 .2-.9 .2-.9 .2-1.7 .2-4.5 .2-1.6 .3-2.5 .2-1.3 .2-1.1 .2-5.3 .2-.3 .2-2.5 .2,.2 .2-2.9 .2,2.2 .2,5 .2,3.2 .3,3 .2,3 .2,2.4 .2,5 .2,3.4 .2,5.6 .2-.3 .2,2.1 .2-5.1 .2,.6 .2,.9 .2-.6 .3-1.3 .2,1.5 .2,3.5 .2-2 .2,3 .2-2.3 .2,.5 .2-1.8 .2-.7 .2,1.7 .2-1.2 .2-1.2 .3,.2 .2-.5 .2,2.7 .2-3.3 .2-2.2 .2,.3 .2,2.2 .2-1.8 .2-.8 .2,2.2 .2-1.8 .3,2.9 .2,.2 .2,.6 .2-2.5 .2,4.3 .2,.9 .2-1.5 .2,2 .2-.7 .2,3.7 .2-3.3 .2,.6 .3,2 .2-3.5 .2,2.4 .2,.1 .2,1.8 .2,.6 .2-1.4 .2,1.5 .2-2.7 .2-.4 .2,2.3 .3,1.5 .2-1.6 .2,1 .2-1.6 .2,.1 .2,1 .2-.6 .2-1.3 .2-.8 .2,3.3 .2-1.6 .2,1.4 .3,1.3 .2-3.2 .2,1.4 .2,.5 .2-.2 .2,.9 .2,1.4 .2-3.9 .2,1.3 .2,1.1 .2-.9 .2-.4 .3,2.3 .2-1 .2,1.4 .2-1.3 .2,1.4 .2-3.7 .2,4.1 .2-1.1 .2,.2 .2,1.3 .2-1.7 .3,1.6 .2,.6 .2-.5 .2,1.3 .2-2.6 .2,1 .2-.3 .2,3.5 .2-2.1 .2,1.7 .2-1 .2-1.5 .3,1.6 .2,.8 .2-1.7 .2,.3 .2-1.1 .2,5.4 .2-3.1 .2,1.1 .2,.7 .2-1.5 .2,1.8 .3,1.4 .2-2 .2-1 .2-3.2 .2,3.5 .2,.5 .2,.9 .2-2.5 .2-.3 .2-.8 .2,1.9 .2-1.4 .3,1.7 .2-4 .2,2 .2,1.2 .2-6 .2,.5 .2-.1 .2-.2 .2,2 .2-2.6 .2,3.7 .2-3.4 .3,3.2 .2,3.5 .2-3.7 .2-2 .2,1.8 .2-4.1" stroke="#f30010" stroke-width="1.1" fill="none" stroke-linejoin="round"/>
</g>
<path d="M53.80,105.20v-1.7M53.80,5.60v1.7M157.40,105.20v-1.7M157.40,5.60v1.7M261.00,105.20v-1.7M261.00,5.60v1.7M53.80,5.60h1.7M261.00,5.60h-1.7M53.80,34.06h1.7M261.00,34.06h-1.7M53.80,62.51h1.7M261.00,62.51h-1.7M53.80,90.97h1.7M261.00,90.97h-1.7" stroke="#444" stroke-width="0.9" fill="none"/>
<text x="47.8" y="11.4" text-anchor="end" class="tk">–20</text>
<text x="47.8" y="39.9" text-anchor="end" class="tk">–40</text>
<text x="47.8" y="68.3" text-anchor="end" class="tk">–60</text>
<text x="47.8" y="96.8" text-anchor="end" class="tk">–80</text>
<text x="53.8" y="118.5" text-anchor="middle" class="tk">0</text>
<text x="157.4" y="118.5" text-anchor="middle" class="tk">100</text>
<text x="261.0" y="118.5" text-anchor="middle" class="tk">200</text>
<path d="M53.80,229.70v-1.7M53.80,131.00v1.7M157.40,229.70v-1.7M157.40,131.00v1.7M261.00,229.70v-1.7M261.00,131.00v1.7M53.80,131.00h1.7M261.00,131.00h-1.7M53.80,159.20h1.7M261.00,159.20h-1.7M53.80,187.40h1.7M261.00,187.40h-1.7M53.80,215.60h1.7M261.00,215.60h-1.7" stroke="#444" stroke-width="0.9" fill="none"/>
<text x="47.8" y="136.8" text-anchor="end" class="tk">–20</text>
<text x="47.8" y="165.0" text-anchor="end" class="tk">–40</text>
<text x="47.8" y="193.2" text-anchor="end" class="tk">–60</text>
<text x="47.8" y="221.4" text-anchor="end" class="tk">–80</text>
<text x="53.8" y="243.0" text-anchor="middle" class="tk">0</text>
<text x="157.4" y="243.0" text-anchor="middle" class="tk">100</text>
<text x="261.0" y="243.0" text-anchor="middle" class="tk">200</text>
<path d="M53.80,351.80v-1.7M53.80,252.60v1.7M157.40,351.80v-1.7M157.40,252.60v1.7M261.00,351.80v-1.7M261.00,252.60v1.7M53.80,252.60h1.7M261.00,252.60h-1.7M53.80,280.94h1.7M261.00,280.94h-1.7M53.80,309.29h1.7M261.00,309.29h-1.7M53.80,337.63h1.7M261.00,337.63h-1.7" stroke="#444" stroke-width="0.9" fill="none"/>
<text x="47.8" y="258.4" text-anchor="end" class="tk">–20</text>
<text x="47.8" y="286.7" text-anchor="end" class="tk">–40</text>
<text x="47.8" y="315.1" text-anchor="end" class="tk">–60</text>
<text x="47.8" y="343.4" text-anchor="end" class="tk">–80</text>
<text x="53.8" y="365.1" text-anchor="middle" class="tk">0</text>
<text x="157.4" y="365.1" text-anchor="middle" class="tk">100</text>
<text x="261.0" y="365.1" text-anchor="middle" class="tk">200</text>
<path d="M53.80,478.40v-1.7M53.80,378.80v1.7M157.40,478.40v-1.7M157.40,378.80v1.7M261.00,478.40v-1.7M261.00,378.80v1.7M53.80,378.80h1.7M261.00,378.80h-1.7M53.80,407.26h1.7M261.00,407.26h-1.7M53.80,435.71h1.7M261.00,435.71h-1.7M53.80,464.17h1.7M261.00,464.17h-1.7" stroke="#444" stroke-width="0.9" fill="none"/>
<text x="47.8" y="384.6" text-anchor="end" class="tk">–20</text>
<text x="47.8" y="413.1" text-anchor="end" class="tk">–40</text>
<text x="47.8" y="441.5" text-anchor="end" class="tk">–60</text>
<text x="47.8" y="470.0" text-anchor="end" class="tk">–80</text>
<text x="53.8" y="492.8" text-anchor="middle" class="tk">0</text>
<text x="157.4" y="492.8" text-anchor="middle" class="tk">100</text>
<text x="261.0" y="492.8" text-anchor="middle" class="tk">200</text>
<clipPath id="cp21"><rect x="351.50" y="5.60" width="190.90" height="99.60"/></clipPath>
<g clip-path="url(#cp21)">
<path d="M352.3,48.2h0m.1-.2h0m.1-.7h0m2.6,37h0m.2-.7h0m.1,.5h0m.1,1.3h0m.2,.4h0m.1-.7h0m.1-.1h0m.1,.8h0m.2-.3h0m.1-1.3h0m.1-.5h0m.2,.8h0m.1-.7h0m.1,.3h0m.2,.8h0m.1-.2h0m.5-2.4h0m.1-2.6h0m.2-1.3h0m.1,1h0m.1,.2h0m.2,1.5h0m.1,1.5h0m.1,.4h0m.1,.6h0m.2-.1h0m.1-.5h0m.1-.6h0m.2-.4h0m.1-1.2h0m.1,.6h0m.2,1.2h0m.1-1h0m.1,.1h0m.1,0h0m.2-1.3h0m.1-.1h0m.1-.4h0m.2-1.7h0m.1,.6h0m.1,1.9h0m.2-1.1h0m.1-1.1h0m.1-.4h0m.1-.8h0m.2-.5h0m.1-1.4h0m.1-.8h0m.2,.4h0m.1,.8h0m.1,.8h0m.2,.2h0m.1-1.4h0m.1-1.8h0m.1-.4h0m.2,.1h0m.1,.3h0m.1,.4h0m.2-.2h0m.1-1.5h0m.1,0h0m.2-.2h0m.1-.8h0m.1,0h0m.1-.8h0m.2-.3h0m.1-.7h0m.1,.8h0m.2,1.1h0m.1-.4h0m.1-.3h0m.2-1h0m.1-.7h0m.1,0h0m.4-2.4h0m.1,.1h0m.2-.1h0m.1-2.1h0m.1,.1h0m.2,.4h0m.1-1.1h0m.1,0h0m.1,2h0m.2,1.2h0m.1-1.3h0m.1,.3h0m.2,.3h0m.1-1h0m.1,1.1h0m.2,.4h0m.1,.1h0m.1,.2h0m1.8-21.6h0m.2-.9h0m2.4,39.9h0m.3,.8h0m.1,.3h0m.2,.3h0m.1-.2h0m.1,.6h0m.1-.1h0m.2-.1h0m.1-.7h0m.1-.4h0m.2,.6h0m.1,.3h0m.1-.1h0m.2-.5h0m.1-1.7h0m.6-2.8h0m.2-.4h0m.1-1.1h0m.1-.5h0m.2,1h0m.1,.2h0m.1,.9h0m.4,2.7h0m.1-.5h0m.2,.5h0m.1,.7h0m.1,.2h0m.2-.3h0m.1-1h0m.1-.4h0m.5-2.7h0m.6-1h0m.1-1.5h0m.1-.4h0m.1-.2h0m.2-1h0m.1,1h0m.1-.7h0m.2-2.2h0m.1,0h0m.1,1.4h0m.2-.5h0m.1-.4h0m.1,.4h0m.1-1h0m.2,.2h0m.1,1.1h0m.1-.6h0m.2-1.2h0m.1,.1h0m.1,.2h0m.2-1.3h0m.1-.7h0m.1,.4h0m.1-.1h0m.2-.8h0m.1-.8h0m.1-.2h0m.4-.5h0m.2-.6h0m.1-1.4h0m.1-.8h0m.1,0h0m.2,.1h0m.1,.2h0m.1-.6h0m.2-.4h0m.1-.1h0m.1-.1h0m.2-.5h0m.1-.6h0m.1-1.1h0m.1-.1h0m.2,1.6h0m.1,.4h0m.1,.5h0m.2,.4h0m.1-.3h0m.1-.9h0m.2,1.2h0m.1,1.5h0m.1-1h0m.1-.8h0m1.9-18.1h0m.1-.8h0m2.6,36.8h0m.1,.7h0m.2-.6h0m.1,0h0m.1,.2h0m.1-1h0m.2-.1h0m.1,1.6h0m.1,.6h0m.2,0h0m.1-.3h0m.1,.2h0m.2-.7h0m.1,.4h0m.1,.2h0m.8-6.4h0m.1-1.4h0m.2,1.2h0m.1,.7h0m.1,.5h0m.5,3.2h0m.2,.3h0m.1,.2h0m.1,.1h0m.2,.3h0m.1-.6h0m.1-1.1h0m.1,.1h0m.2,1.5h0m.1-.3h0m.1-2.1h0m.2-.6h0m.1-.3h0m.4,.8h0m1.2-6.5h0m.1-.5h0m.1-1.3h0m.1-.7h0m.2,0h0m.1,.9h0m.1-.2h0m.2-1.4h0m.1-.5h0m.1-.8h0m.2,.2h0m.1,1.8h0m.1,.6h0m.1-.7h0m.2-1h0m.1,.5h0m.1-.1h0m.2-1.3h0m.1,.8h0m.1-.3h0m.2-.4h0m.1-.1h0m.1-.7h0m.1-.6h0m1.1-5.2h0m.1,.5h0m.1-.4h0m.2,0h0m.1-.9h0m.1,1.8h0m.2,1.9h0m.1,.5h0m.1,.1h0m.2-.3h0m.1,.1h0m.1,0h0m.1,.3h0m.2-.8h0m.1-.6h0m.7-4.2h0m1.1-14.7h0m.2-1h0m.7,11.4h0m.8,15.4h0m.9,11.3h0m.2-.2h0m.1,.2h0m.1,0h0m.1,.9h0m.2-.6h0m.1-.3h0m.1,.8h0m.2-1.1h0m.1-.7h0m.1-.3h0m.2,.2h0m.1-.2h0m.1,.6h0m.1,.3h0m.2-1.3h0m.1,.4h0m.1,1h0m.2-.6h0m.1-2.3h0m.1-2h0m.2,.5h0m.1,.3h0m.1-.4h0m.1-.2h0m.2,1.8h0m.1,1.5h0m.1-.3h0m.2,.1h0m.1,.3h0m.1,.8h0m.2,.1h0m.1,1.3h0m.1-1.9h0m.1-2.3h0m.4,.8h0m.2-2.1h0m.1-1.4h0m.1,.6h0m.2,1.3h0m.1-.6h0m.1-.9h0m.1-.7h0m.2,.3h0m.1,.3h0m.1-1.2h0m.2-.1h0m.1-.8h0m.1,.1h0m.2,1h0m.1-.9h0m.1-1.5h0m.1-.4h0m.2,.4h0m.1-1h0m.1-.8h0m.2,.4h0m.1-.3h0m.1-.5h0m.2-.6h0m.1-.6h0m.1,.5h0m.1,.1h0m.2-.5h0m.1-.7h0m.1-.7h0m.2,.5h0m.1,.1h0m.1-.8h0m.2-1h0m.1-.1h0m.1-.7h0m.1,0h0m.2,.5h0m.1,0h0m.1,.7h0m.2-.6h0m.1-1.4h0m.1-.7h0m.3-.7h0m.1,.1h0m.1-.5h0m.2-1h0m.1-.9h0m.1,2.2h0m.2,.4h0m.1-2.3h0m.1,.1h0m.2,.8h0m.1,.8h0m.1,.8h0m.1,.6h0m.2-.7h0m.1,.3h0m.1,.4h0m1.9-17.4h0m.1-.8h0m.1-1.5h0m2.7,36.6h0m.2,.6h0m.1,2.7h0m.1-.7h0m.2-1.9h0m.1,.4h0m.1,.7h0m.2,.2h0m.1-.1h0m.1-.2h0m.1,.3h0m1.1-5.8h0m.1-1.2h0m.1,0h0m.2,.3h0m.1-.9h0m.1,1.6h0m.6,4.3h0m.1-.2h0m.1,.1h0m.1,.7h0m.2-1.2h0m.1-.5h0m.1,.4h0m.4-1.1h0m.8-4.9h0m.1-.9h0m.2,.2h0m.1-.4h0m.3-.6h0m.1,.4h0m.1-.4h0m.1-2.6h0m.2-.6h0m.1,.1h0m.1,.6h0m.2,.1h0m.1-.1h0m.1,.2h0m.2-.2h0m.1,1.8h0m.1-.7h0m.1-2.4h0m.2-.2h0m.1,.6h0m.1-.2h0m.2-1.1h0m.1,1.3h0m.1,1h0m.2-1.8h0m.1-1.1h0m.1-.3h0m.1-.5h0m.2-1.3h0m.1,.3h0m.1,1.2h0m.2-.9h0m.1-.4h0m.6-4.9h0m.2-.8h0m.1-.6h0m.1-.1h0m.2,1.4h0m.5,2h0m.1,2.9h0m.1,1h0m.2-1.1h0m.1-1h0m.1-.1h0m2.1-23.6h0m.1-.6h0m2.8,41.6h0m.1-.2h0m.1-.8h0m.2,.7h0m.1,.6h0m.1,.8h0m.2,.2h0m.1-1.5h0m.1-.2h0m.1,.1h0m.2,.3h0m.1,.9h0m.1-.3h0m.2-.3h0m.1-1.3h0m.6-3.9h0m.2-.3h0m.1-.6h0m.1,0h0m.2,1.3h0m.1,.4h0m.1-.5h0m.3,1.7h0m.1,.5h0m.1,.7h0m.2,.5h0m.1,.7h0m.1-.3h0m.2-2h0m.1-.2h0m.1,.8h0m.3-2.3h0m.1,0h0m.3-1.4h0m.1-.1h0m.1,.5h0m.2-1.4h0m.1-1h0m.1,1h0m.4-1.9h0m.1-.6h0m.4-3.1h0m.2,.8h0m.1-.7h0m.1-1.2h0m.2,.7h0m.1,.4h0m.1-.1h0m.1-.6h0m.2,.4h0m.1,.6h0m.1,.3h0m.2-.5h0m.1,0h0m.1,.8h0m.2-1.5h0m.1-.6h0m.1,.3h0m.1,.1h0m.2-.2h0m.1,.2h0m.1-.8h0m.7-4.4h0m.1-.6h0m.1-.7h0m.3-.2h0m.1,1h0m.2-1.1h0m.1-1.6h0m.1-.6h0m.2,1.5h0m.1,1.2h0m.1,.1h0m.1,1.1h0m.2,.6h0m.1,.2h0m.1-.1h0m.2-.3h0m.1-.3h0m1.9-20.1h0m.2-1h0m.1-1.3h0m2.5,39.3h0m.1,1h0m.1,.6h0m.2-.3h0m.1,.2h0m.1,.4h0m.2-.2h0m.1,.3h0m.1-.5h0m.1-.5h0m.2,.2h0m.1-.1h0m.1-.5h0m.2,.2h0m.1,.1h0m.1-.7h0m.5-3.2h0m.2-.4h0m.1-1.6h0m.1-.6h0m.2,2h0m.1,1h0m.4,2.7h0m.1,.5h0m.1,.4h0m.2,.7h0m.1-1.6h0m.1-1.1h0m.2,1.1h0m.1,.7h0m.1-.5h0m.2-.2h0m.1-.6h0m.9-7h0m.1,.7h0m.2-1h0m.1-1h0m.1,1.2h0m.1,.3h0m.2-.4h0m.1,.7h0m.1-1.6h0m.2-2h0m.1,1.6h0m.1,.3h0m.2,0h0m.1-.6h0m.1-1.2h0m.1,.5h0m.2-1.1h0m.1-.5h0m.1,.6h0m.2-.9h0m.1-.3h0m.1-.3h0m.2-.5h0m.1-.3h0m.1-.7h0m.1-.3h0m.2,.7h0m.1-.9h0m.1-.8h0m.2-.1h0m.1,0h0m.1,1h0m.2-.5h0m.1-1.1h0m.1-.3h0m.1-.1h0m.2,.2h0m.1,0h0m.1-1.5h0m.2-.6h0m.1,.9h0m.1-.5h0m.2-.5h0m.1-.6h0m.1-.1h0m.1,.2h0m.2,0h0m.1,1.4h0m.1,1h0m.2,.5h0m.1-.7h0m.1,.8h0m.2-.8h0m1.8-18.8h0m.1-1h0m.1-1.1h0m2.6,39.5h0m.3-1.3h0m.1,.8h0m.2,2.2h0m.1-.6h0m.1-1.6h0m.1,1h0m.2,.9h0m.1-.2h0m.1-1.1h0m.2-1.4h0m.1,.6h0m.1,.1h0m.9-5.3h0m.2-.9h0m.1,.8h0m.1,.4h0m.2-1h0m.1,.3h0m.6,4.1h0m.2,1.1h0m.1,.2h0m.1-.4h0m.2-.4h0m.1,.5h0m.1-.3h0m.9-4.7h0m.8-4.3h0m.1-.8h0m.2-.7h0m.1,.1h0m.1,.5h0m.2,.1h0m.1-.6h0m.1,1.9h0m.1-.8h0m.2-2.2h0m.1,.6h0m.1,.1h0m.2-.2h0m.1-.4h0m.1,.7h0m.2-.1h0m.1-1h0m.1-.2h0m.1,.7h0m.2-.3h0m.1-.5h0m.1-.6h0m.2-2h0m.4,.1h0m.1-.4h0m.1-1h0m.1-.6h0m.4-.1h0m.2-1.6h0m.1-.6h0m.1-1.5h0m.2,.4h0m.1,1.6h0m.1-.8h0m.1,.4h0m.2,1.1h0m.1,0h0m.1,.6h0m.2,1.2h0m.1-.2h0m.1-1.1h0m.2,1h0m.1,.7h0m1.9-22.5h0m.2-1.4h0m1.3,22.2h0m1.1,16.8h0m.2-.5h0m.1,.6h0m.1-.1h0m.2-.8h0m.1,.3h0m.1,1.8h0m.1,.2h0m.2-.8h0m.1,.5h0m.1-.3h0m.2,.1h0m.1-.7h0m.1-.2h0m.2,1h0m.1-.5h0m.1-.9h0m.1-.9h0m.2-.7h0m.1,0h0m.1-.5h0m.2,.6h0m.1,.5h0m.1-2.1h0m.2-.6h0m.1-.1h0m.1-.8h0m.1,2.3h0m.2,1.5h0m.1-1.9h0m.1,1.1h0m.2,1.8h0m.1-.3h0m.1,.3h0m.2-.3h0m.1-.4h0m.1-1h0m.1,0h0m.2-.3h0m.1-.6h0m.1-.5h0m.2-1h0m.1,.3h0m.1-.2h0m.2-.4h0m.1,.3h0m.1-1.4h0m.1,.2h0m.2,0h0m.1-1.9h0m.1,.2h0m.2-.7h0m.1-1.3h0m.1,.9h0m.2-.2h0m.1-1.5h0m.1,.3h0m.1-.5h0m.2-1.2h0m.1,.4h0m.1,1.3h0m.2-.9h0m.1-1h0m.1,1h0m.2-.4h0m.1,.3h0m.1-.2h0m.1-2.4h0m.2,1.3h0m.1,.5h0m.1-1.3h0m.2,.4h0m.1-.1h0m.1-.8h0m.2-.8h0m.1,.6h0m.1,.5h0m.1-.5h0m.2-1.9h0m.2-.4h0m.4-2h0m.2-1.8h0m.1-1.1h0m.1-1.3h0m.1,1.4h0m.2,1.4h0m.1,.8h0m.1,1.2h0m.2-.5h0m.1-.1h0m.1,1.1h0m.2,.3h0m.1-.6h0m.1-.8h0m.1,.1h0m.2,.3h0m1.7-18.9h0m.1-1.4h0m.1-1.1h0m1.5,27h0m1.3,13.5h0m.1,.1h0m.1,1h0m.1-.7h0m.2-.7h0m.1-.3h0m.1,.5h0m.2-.4h0m.1-.9h0m.1,.6h0m.2,.5h0m.1,.4h0m.1,.1h0m.1-2.1h0m.2-.7h0m.5-2.5h0m.1-.7h0m.2-1h0m.1-.2h0m.1,1h0m.7,5.7h0m.1-.7h0m.1,.3h0m.2,.2h0m.1-1.6h0m.1-.1h0m.1-.5h0m.4-.4h0m.2-1.4h0m.7-3.8h0m.2-.7h0m.2-1.7h0m.2,.6h0m.1,.3h0m.1-.5h0m.2-1h0m.1,.2h0m.1-.5h0m.1,.6h0m.2,.1h0m.1-1.1h0m.1-.8h0m.2,1.2h0m.1,.8h0m.1-2.6h0m.2-.1h0m.1,1.3h0m.1-1.6h0m.1-2.1h0m.2,.6h0m.1,1.6h0m.1,0h0m.2-.6h0m.1-.2h0m.1-.2h0m.2-.9h0m.1-.9h0m.1-.5h0m.1-.3h0m.2,.7h0m.1-.8h0m.1-1.2h0m.2,.3h0m.1-.2h0m.1-1h0m.2-.6h0m.1-.1h0m.1-.7h0m.1-.8h0m.2,.7h0m.1,1h0m.1,.9h0m.2,.6h0m.1-.4h0m.1-.2h0m.2,.6h0m.1,.8h0m.1,.5h0m.1-.5h0m.2-.2h0m1.8-18.9h0m.1-1h0m.2-1.1h0m.6,8h0m.3,5.8h0m1.7,22.8h0m.1-.4h0m.1,2.2h0m.1-.7h0m.2-.5h0m.1,.4h0m.1,.9h0m.2,.5h0m.1-.6h0m.1,.9h0m.2,.6h0m.1-.6h0m.1,.1h0m.1,.1h0m.8-4.9h0m.3-1h0m.1-.9h0m.1-1.1h0m.2-1.2h0m.1,.8h0m.1,2.5h0m.2,2.5h0m.4,.2h0m.1-.4h0m.1,1.2h0m.1,0h0m.2-1.2h0m.1,.3h0m.1,.1h0m.2-.2h0m.2-1h0m.2-.8h0m.1-1.1h0m.1-1h0m.4,.4h0m.3-1.5h0m.1-1h0m.5-2.9h0m.1,.5h0m.2-.4h0m.1-.6h0m.1-.4h0m.2,.8h0m.1,.1h0m.1,0h0m.2-.3h0m.1-1.6h0m.1,.6h0m.1,.3h0m.2-.3h0m.1,.4h0m.1-1.7h0m.2-1.1h0m.1,.7h0m.1,.6h0m.2-.3h0m.1-.4h0m.1-.4h0m.1,0h0m.3-1h0m.1,.3h0m.2-1.8h0m.4-.7h0m.1-.7h0m.1-1h0m.1-.6h0m.2,.1h0m.1,.1h0m.1-.8h0m.2-.3h0m.1,1.9h0m.1,.9h0m.2,.1h0m.1,1.3h0m.1,.2h0m.1,.2h0m.2-.5h0m.1-1h0m2-20.7h0m.1-1.2h0m.1-1.3h0" stroke="#3014c8" stroke-width="2.00" stroke-linecap="round" fill="none"/>
<path d="M351.5,57.2l.3-3.8 .4-3 .3-2.8 .3,3.1 .3,5.4 .4,5.4 .3,6 .3,7.6 .4,6.1 .3,2.2 .3,1.1 .4,.6 .3,.2 .3-.1 .3-.1 .4-.3 .3-1.4 .3-2.2 .4-1.6 .3,.2 .3,1.5 .4,1.8 .3,.9 .3-.5 .3-1.1 .4-1.5 .3-1.4 .3-1.2 .4-1.1 .3-1.1 .3-1 .4-.9 .3-.6 .3-.6 .3-.4 .4-.5 .3-.6 .3-.7 .4-.7 .3-.9 .3-.9 .4-1.5 .3-1.5 .3-.9 .3,.4 .4,1.3 .3,1.3 .3,.2 .4-1.3 .3-2 .3-4.1 .4-5.6 .3-4.2 .3-3.3 .3-2.7 .4,5 .3,6.4 .3,6.3 .4,7 .3,7.5 .3,5.4 .4,1.7 .3,1 .3,.5 .3,.1 .4-.1 .3-.2 .3-.4 .4-1.7 .3-2.1 .3-1.3 .4,.6 .3,1.6 .3,1.7 .3,.5 .4-.6 .3-1.2 .3-1.5 .4-1.4 .3-1.1 .3-1.1 .4-1.1 .3-1 .3-.8 .3-.7 .4-.5 .3-.4 .3-.5 .4-.6 .3-.7 .3-.8 .4-.8 .3-1.1 .3-1.6 .3-1.4 .4-.6 .3,.6 .3,1.4 .4,1.2 .3-.2 .3-1.4 .4-2.1 .3-4.3 .3-4.9 .3-3.4 .4-3.1 .3-1.8 .3,5.8 .4,5.7 .3,5.8 .3,7 .4,7.3 .3,4.6 .3,1.3 .3,.9 .4,.5 .3,0 .3-.1 .4-.2 .3-.6 .3-1.9 .4-2.1 .3-.9 .3,.9 .3,1.7 .4,1.5 .3,.3 .3-.8 .4-1.3 .3-1.5 .3-1.4 .4-1.1 .3-1.1 .3-1 .3-1 .4-.8 .3-.6 .3-.5 .4-.4 .3-.6 .3-.6 .4-.7 .3-.8 .3-.8 .3-1.2 .4-1.6 .3-1.3 .3-.4 .4,.9 .3,1.4 .3,1 .4-.5 .3-1.6 .3-2.4 .3-4.6 .4-4.7 .3-3.3 .3-2.9 .4,0 .3,5.8 .3,5.7 .4,5.8 .3,7.3 .3,7 .3,3.6 .4,1.2 .3,.9 .3,.3 .4-.1 .3-.1 .3-.1 .4-1 .3-2 .3-1.9 .3-.6 .4,1.2 .3,1.8 .3,1.3 .4,0 .3-.9 .3-1.4 .4-1.5 .3-1.3 .3-1.1 .3-1.1 .4-1 .3-1 .3-.7 .4-.6 .3-.5 .3-.4 .4-.6 .3-.6 .3-.7 .3-.8 .4-.9 .3-1.3 .3-1.6 .4-1.1 .3-.1 .3,1 .4,1.4 .3,.7 .3-.8 .3-1.7 .4-2.6 .3-4.4 .3-4 .4-2.9 .3-2.9 .3,1.9 .4,5.3 .3,5.2 .3,5.6 .3,7.6 .4,6.5 .3,2.7 .3,1.2 .4,.7 .3,.2 .3-.1 .4-.1 .3-.2 .3-1.2 .3-2.2 .4-1.7 .3-.1 .3,1.4 .4,1.8 .3,1 .3-.3 .4-1 .3-1.4 .3-1.5 .3-1.2 .4-1.1 .3-1.1 .3-1.1 .4-.8 .3-.7 .3-.6 .4-.5 .3-.5 .3-.5 .3-.7 .4-.7 .3-.8 .3-1 .4-1.4 .3-1.5 .3-1.1 .4,.2 .3,1.3 .3,1.3 .3,.4 .4-1 .3-1.9 .3-3.9 .4-5.8 .3-4.6 .3-3.6 .4-2.7 .3,3.7 .3,6.6 .3,6.6 .4,6.9 .3,7.6 .3,5.9 .4,2.1 .3,1.1 .3,.6 .4,.1 .3-.1 .3-.1 .3-.3 .4-1.6 .3-2.1 .3-1.5 .4,.3 .3,1.6 .3,1.7 .4,.8 .3-.5 .3-1.2 .3-1.5 .4-1.4 .3-1.2 .3-1.1 .4-1.1 .3-1 .3-.8 .4-.7 .3-.5 .3-.5 .3-.5 .4-.5 .3-.7 .3-.8 .4-.8 .3-1 .3-1.5 .4-1.5 .3-.8 .3,.4 .3,1.4 .4,1.2 .3,.1 .3-1.3 .4-2 .3-4.1 .3-5.4 .4-3.9 .3-3.2 .3-2.6 .3,5.4 .4,6.1 .3,6.1 .3,6.9 .4,7.5 .3,5.2 .3,1.5 .4,1 .3,.5 .3,.1 .3-.1 .4-.2 .3-.4 .3-1.8 .4-2.1 .3-1.2 .3,.6 .4,1.7 .3,1.7 .3,.4 .3-.6 .4-1.3 .3-1.5 .3-1.4 .4-1.1 .3-1.1 .3-1.1 .4-1 .3-.8 .3-.6 .3-.5 .4-.5 .3-.5 .3-.6 .4-.7 .3-.7 .3-.9 .4-1.1 .3-1.6 .3-1.4 .3-.5 .4,.7 .3,1.4 .3,1.1 .4-.3 .3-1.4 .3-2.3 .4-4.6 .3-5.2 .3-3.6 .3-3.1 .4-1.3 .3,6 .3,6.1 .4,6.1 .3,7.2 .3,7.2 .4,4.3 .3,1.3 .3,.9 .3,.4 .4,0 .3-.1 .3-.2 .4-.7 .3-2 .3-2 .4-.8 .3,1 .3,1.7 .3,1.5 .4,.1 .3-.8 .3-1.3 .4-1.5 .3-1.3 .3-1.1 .4-1.1 .3-1.1 .3-.9 .3-.8 .4-.6 .3-.5 .3-.5 .4-.5 .3-.6 .3-.7 .4-.8 .3-.9 .3-1.2 .3-1.6 .4-1.3 .3-.3 .3,1 .4,1.4 .3,.9 .3-.6 .4-1.6 .3-2.8 .3-5.1 .3-5 .4-3.6 .3-3 .3,.6 .4,6.1 .3,6.3 .3,6.3 .4,7.5 .3,6.9 .3,3.3 .3,1.2 .4,.8 .3,.3 .3-.1 .4-.1 .3-.1 .3-1.1 .4-2 .3-1.9 .3-.4 .3,1.2 .4,1.8 .3,1.3 .3-.2 .4-.9 .3-1.4 .3-1.5 .4-1.3 .3-1.1 .3-1.1 .3-1 .4-.9 .3-.7 .3-.6 .4-.5 .3-.5 .3-.5 .4-.7 .3-.7 .3-.8 .3-.9 .4-1.3 .3-1.6 .3-1.2 .4,0 .3,1.2 .3,1.4 .4,.6 .3-.9 .3-1.8 .3-3.2 .4-5.3 .3-4.5 .3-3.5 .4-2.8 .3,2.4 .3,6.1 .4,6.2 .3,6.4 .3,7.6 .3,6.4 .4,2.5 .3,1.1 .3,.7 .4,.2 .3-.1 .3-.1 .4-.2 .3-1.4 .3-2.1 .3-1.7 .4,0 .3,1.5 .3,1.8 .4,.9 .3-.3 .3-1.1 .4-1.4 .3-1.5 .3-1.2 .3-1.1 .4-1.1 .3-1 .3-.9 .4-.7 .3-.5 .3-.5 .4-.5 .3-.5 .3-.7 .3-.8 .4-.8 .3-.9 .3-1.5 .4-1.5 .3-1 .3,.3 .4,1.3 .3,1.3 .3,.3 .3-1.1 .4-1.9 .3-3.8 .3-5.3 .4-4.1 .3-3.3 .3-2.8 .4,4.2 .3,6.1 .3,6.1 .3,6.7 .4,7.6 .3,5.7 .3,1.9 .4,1 .3,.6 .3,.1 .4-.1 .3-.1 .3-.4 .3-1.6 .4-2.1 .3-1.4 .3,.3 .4,1.7 .3,1.7 .3,.6 .4-.5 .3-1.2 .3-1.5 .3-1.4 .4-1.1 .3-1.1 .3-1.1 .4-1 .3-.9 .3-.6 .4-.5 .3-.5 .3-.5 .3-.6 .4-.7 .3-.7 .3-.9 .4-1 .3-1.5 .3-1.5 .4-.8 .3,.6 .3,1.4 .3,1.2 .4,0 .3-1.4 .3-2.1 .4-4.4 .3-5.5 .3-4 .4-3.2 .3-2.6 .3,6 .3,6.3 .4,6.3 .3,7.1 .3,7.4" stroke="#f0182a" stroke-width="1.00" fill="none" stroke-linejoin="round" stroke-opacity="0.90"/>
</g>
<clipPath id="cp22"><rect x="351.50" y="131.00" width="190.90" height="98.70"/></clipPath>
<g clip-path="url(#cp22)">
<path d="M353,210l.2,3 .2,2.3 .2,.9 .2,.7 .2,.1 .2,1.6 .1,.5 .2,.7 .2,.2 .2-.5 .2-.3 .2,.2 .2-.8 .2,.4 .2-.5 .2-.4 .1-1.1 .2,1.2 .2-.8 .2-.9 .2,.7 .2-.8 .2,0 .2,.2 .2-.9 .2,0 .1-.6 .2,.1 .2-1 .2,.5 .2-1 .2-.7 .2-.2 .2-.1 .2-.5 .2-.4 .1-1.3 .2,.3 .2-.4 .2-.2M364.2,210.4l.2,0 .2,.5 .2,.1 .2-.7M377.1,211.1l.2,2.3 .2,1.6 .2,1 .2,1.8 .2,.2 .2,.2 .2,.4 .2,.4 .2,.5 .1,.5 .2-.2 .2,0 .2,.3 .2,.1 .2-.5 .2,.4 .2-.5 .2,.1 .2,.1 .1-1.1 .2,0 .2-.2 .2,.3 .2-.6 .2-.4 .2,.1 .2-.9 .2,.8 .2-1 .1,.4 .2-.3 .2-.4 .2-.9 .2,.1 .2-.4 .2-.3 .2-.2 .2-.5 .2-.4 .1-.5 .2-.4 .2,.2 .2-.9 .2-1 .2,.1 .2-.6 .2-.2 .2-.5M389.5,210.3l.2-.3 .2,.5 .2,.4 .2-.1 .1-.5M402.8,211.1l.2,1.8 .2,1.9 .2,1.9 .2,.7 .1,1 .2,0 .2,.8 .2-.4 .2,.6 .2,.4 .2,.4 .2-.3 .2,.2 .2-.2 .1,.2 .2-.1 .2-.5 .2-.4 .2,.6 .2-.5 .2-.4 .2-.1 .2-.2 .2-.9 .1,.6 .2-.6 .2,0 .2-.4 .2,.4 .2-1.1 .2,0 .2-.1 .2-1.1 .2,.2 .1-.2 .2-.3 .2-.9 .2-.1 .2-.3 .2,0 .2-.5 .2-.8 .2-.3 .2,.1 .1-.7 .2-.8M411.9,210.1l.2,.1M415.3,210.4l.2,.2 .2-.3 .2,.6 .2-.6 .2,0M428.4,211.4l.2,2.3 .2,.8 .2,2 .2,1.5 .2,.3 .2,.1 .2,.5 .2,.1 .2-.2 .1,.6 .2-.1 .2,.5 .2,.4 .2-.7 .2,.6 .2-.6 .2,0 .2,.2 .2-.2 .1-.4 .2-.4 .2-.5 .2,.2 .2-.8 .2,0 .2,.2 .2-.2 .2-.4 .2-.1 .1-.4 .2-.5 .2-.2 .2-.5 .2,.1 .2-.3 .2-.2 .2-.3 .2-.7 .2-.5 .1-.3 .2-.5 .2-.9 .2,.4 .2-.6 .2-.4 .2-.3M440.8,210l.2,.6 .2-.2 .2,.3 .2-.2 .1-.1M453.9,210.1l.2,1.2 .2,1.8 .2,2.2 .2,1.5 .2,1 .1,.9 .2,.1 .2,.3 .2,.2 .2,.5 .2,.4 .2-.5 .2-.2 .2,1.1 .2-.6 .1-.4 .2,.5 .2-.1 .2-.6 .2-.1 .2-.1 .2-.8 .2-.2 .2-.1 .2,0 .1-.2 .2-.5 .2,0 .2-.7 .2-.2 .2,.3 .2-.7 .2-.5 .2-.1 .2,.1 .1-.5 .2-.4 .2-.5 .2-.3 .2-.3 .2-.7 .2-.5 .2,.1 .2-.1 .2-1 .1-.3 .2-.6 .2-.1M466.4,210.1l.2,.6 .2,.1 .2-.2 .2-.2 .2-.4M479.6,210.4l.1,1.7 .2,1.6 .2,1.6 .2,1.9 .2,.5 .2,.8 .2-.1 .2,.6 .2,.3 .2,.1 .1,0 .2,.5 .2-.3 .2,.6 .2-.4 .2,.3 .2-.4 .2,.1 .2-.4 .2-.4 .1,.3 .2-.1 .2-.6 .2-.5 .2-.1 .2,0 .2-.7 .2,.1 .2-.5 .2,.2 .1-.7 .2-.5 .2,.2 .2-.4 .2-.6 .2-.3 .2-.3 .2-.3 .2,.1 .2-.8 .1,0 .2-.8 .2,.3 .2-1.5 .2-.6 .2,0 .2-.1 .2-.6M492.3,210.3l.2,.5 .2,.2 .2-.2 .1-.3M505.2,210.1l.2,2.3 .2,1.4 .2,2.2 .2,.9 .2,1.3 .1,.2 .2,.1 .2,.2 .2,1.1 .2,0 .2,.2 .2-.5 .2,.7 .2-.4 .2,.3 .1,.2 .2-.6 .2,.2 .2-.7 .2-.2 .2-.4 .2,.5 .2-1 .2-.1 .2,.5 .1-1.3 .2-.1 .2,.5 .2-.6 .2,.2 .2-.6 .2-.4 .2-.4 .2,0 .2-.5 .1-.1 .2-.7 .2-.5 .2-.2 .2-.6 .2-.3 .2-.3 .2-.6 .2,.2 .2-.8 .1,.1 .2-.9 .2-.3M517.9,210.2l.2,.2 .2,.7 .2-.3 .2-.5 .2,0M530.9,210.6l.1,.8 .2,2.6 .2,1.9 .2,1 .2,1.3 .2,.2 .2,.1 .2,1 .2,0 .2,.2 .1,.1 .2,.2 .2-.1 .2-.2 .2,.1 .2-.2 .2-.2 .2,.3 .2-.4 .2,0 .1-.5 .2,0 .2-.3 .2-.7 .2,.3 .2,.1 .2-.7 .2-.3 .2,0 .2-.4 .1-.5 .2,.1 .2-.4 .2-.2 .2-.7 .2-.2 .2-.1 .2-.6 .2-.9 .2,.6 .1-.5 .2-.8 .2,0 .2-1.3 .2,.5 .2-.5 .2-.7" stroke="#3014c8" stroke-width="1.15" stroke-linejoin="round" fill="none"/>
<path d="M517.5,207.4l.3-.3 .2-.4 .2-.3 .3-.3 .3-.2 .2,0 .2,.2 .3,.4 .3,.5 .2,.5 .2,.4 .3,.4 .3,.3 .2,0 .2-.2 .3-.5 .3-.6 .2-.8 .2-.9 .3-.9 .3-1.1 .2-1.4 .2-1.5 .3-1.8 .3-1.9 .2-2 .2-2.4 .3-2.6 .3-2.9 .2-3.1 .2-3.3 .3-3.6 .3-4.5 .2-4.8 .2-4 .3-2.8 .3-2.4 .2-1.8 .2,2.5 .3,4.6 .3,5.2 .2,6 .2,7.5 .3,7.7 .3,6.3 .2,3.9 .2,3 .3,2 .3,.4 .2-.2 .2-.3 .3-.4 .3-.4" stroke="#f0182a" stroke-width="1.12" fill="none" stroke-linejoin="round"/>
<path d="M351.5,181.1l.3,6.9 .4,7 .3,6.1 .3,5.3 .3,5.4 .4,3.1 .3,1.2 .3,1.3 .4,1.3 .3,.1 .3-.3 .4-.4 .3-.4 .3-.4 .3-.5 .4-.4 .3-.4 .3-.4 .4-.5 .3-.6 .3-.5 .4-.5 .3-.6 .3-.6 .3-.6 .4-.7 .3-.6 .3-.7 .4-.6 .3-.5 .3-.6 .4-.5 .3-.3 .3,.1 .3,.5 .4,.7 .3,.9 .3,.7 .4,.5 .3,0 .3-.6 .4-1.1 .3-1.3 .3-1.6 .3-1.7 .4-2.3 .3-2.8 .3-3.2 .4-3.4 .3-4.2 .3-4.7 .4-5.3 .3-5.7 .3-7 .3-8.1 .4-6.2 .3-4.2 .3-3.1 .4,5.6 .3,8.3 .3,10 .4,12.9 .3,12.1 .3,7.2 .3,4.9 .4,2 .3-.2 .3-.5 .4-.7 .3-.8 .3-1.6 .4-1.9 .3-1.6 .3-.3 .3,2.5 .4,3.8 .3,3.2 .3,2.8 .4,2.7 .3,2.1 .3,1 .4,.5 .3,.5 .3,.3 .3,.2 .4,0 .3-.2 .3-.2 .4-.3 .3-.4 .3-.5 .4-.4 .3-.4 .3-.4 .3-.4 .4-.5 .3-.5 .3-.5 .4-.6 .3-.5 .3-.6 .4-.6 .3-.6 .3-.7 .3-.6 .4-.7 .3-.5 .3-.6 .4-.6 .3-.5 .3-.2 .4,.3 .3,.6 .3,.8 .3,.8 .4,.7 .3,.4 .3-.2 .4-.8 .3-1.2 .3-1.4 .4-1.6 .3-1.9 .3-2.5 .3-2.9 .4-3.3 .3-3.7 .3-4.3 .4-5 .3-5.4 .3-5.9 .4-7.6 .3-7.8 .3-5.3 .3-3.9 .4-1.3 .3,7.6 .3,8.8 .4,11 .3,13.2 .3,10.7 .4,6 .3,4.2 .3,.9 .3-.3 .4-.6 .3-.8 .3-.9 .4-1.8 .3-1.9 .3-1.3 .4,.6 .3,3.1 .3,3.8 .3,2.9 .4,2.8 .3,2.6 .3,1.7 .4,.8 .3,.5 .3,.4 .4,.3 .3,.1 .3,0 .3-.2 .4-.3 .3-.4 .3-.4 .4-.4 .3-.4 .3-.4 .4-.4 .3-.5 .3-.5 .3-.5 .4-.5 .3-.6 .3-.5 .4-.6 .3-.6 .3-.6 .4-.7 .3-.7 .3-.6 .3-.5 .4-.6 .3-.6 .3-.4 .4,0 .3,.4 .3,.7 .4,.8 .3,.8 .3,.6 .3,.2 .4-.4 .3-1 .3-1.3 .4-1.5 .3-1.5 .3-2.2 .4-2.6 .3-3.1 .3-3.3 .3-3.9 .4-4.6 .3-5.1 .3-5.6 .4-6.3 .3-8.1 .3-7.1 .4-4.6 .3-3.6 .3,2.2 .3,8 .4,9.2 .3,12.2 .3,12.9 .4,8.9 .3,5.4 .3,3.2 .4,.1 .3-.4 .3-.7 .3-.7 .4-1.3 .3-1.9 .3-1.8 .4-.8 .3,1.5 .3,3.6 .4,3.6 .3,2.8 .3,2.7 .3,2.4 .4,1.3 .3,.7 .3,.5 .4,.4 .3,.2 .3,0 .4-.1 .3-.2 .3-.3 .3-.4 .4-.4 .3-.4 .3-.5 .4-.4 .3-.4 .3-.4 .4-.5 .3-.6 .3-.5 .3-.5 .4-.6 .3-.6 .3-.6 .4-.7 .3-.6 .3-.7 .4-.6 .3-.5 .3-.6 .3-.5 .4-.3 .3,.1 .3,.5 .4,.7 .3,.9 .3,.7 .4,.5 .3,0 .3-.6 .3-1.1 .4-1.3 .3-1.6 .3-1.7 .4-2.3 .3-2.8 .3-3.2 .4-3.4 .3-4.2 .3-4.7 .3-5.3 .4-5.7 .3-7 .3-8.1 .4-6.2 .3-4.2 .3-3.1 .4,5.6 .3,8.3 .3,10 .3,12.9 .4,12.1 .3,7.2 .3,4.9 .4,2 .3-.2 .3-.5 .4-.7 .3-.8 .3-1.6 .3-1.9 .4-1.6 .3-.3 .3,2.5 .4,3.8 .3,3.2 .3,2.8 .4,2.7 .3,2.1 .3,1 .3,.5 .4,.5 .3,.3 .3,.2 .4,0 .3-.2 .3-.2 .4-.3 .3-.4 .3-.5 .3-.4 .4-.4 .3-.4 .3-.4 .4-.5 .3-.5 .3-.5 .4-.6 .3-.5 .3-.6 .3-.6 .4-.6 .3-.7 .3-.6 .4-.7 .3-.5 .3-.6 .4-.6 .3-.5 .3-.2 .3,.3 .4,.6 .3,.8 .3,.8 .4,.7 .3,.4 .3-.2 .4-.8 .3-1.2 .3-1.4 .3-1.6 .4-1.9 .3-2.5 .3-2.9 .4-3.3 .3-3.7 .3-4.3 .4-5 .3-5.4 .3-5.9 .3-7.6 .4-7.8 .3-5.3 .3-3.9 .4-1.3 .3,7.6 .3,8.8 .4,11 .3,13.2 .3,10.7 .3,6 .4,4.2 .3,.9 .3-.3 .4-.6 .3-.8 .3-.9 .4-1.8 .3-1.9 .3-1.3 .3,.6 .4,3.1 .3,3.8 .3,2.9 .4,2.8 .3,2.6 .3,1.7 .4,.8 .3,.5 .3,.4 .3,.3 .4,.1 .3,0 .3-.2 .4-.3 .3-.4 .3-.4 .4-.4 .3-.4 .3-.4 .3-.4 .4-.5 .3-.5 .3-.5 .4-.5 .3-.6 .3-.5 .4-.6 .3-.6 .3-.6 .3-.7 .4-.7 .3-.6 .3-.5 .4-.6 .3-.6 .3-.4 .4,0 .3,.4 .3,.7 .3,.8 .4,.8 .3,.6 .3,.2 .4-.4 .3-1 .3-1.3 .4-1.5 .3-1.5 .3-2.2 .3-2.6 .4-3.1 .3-3.3 .3-3.9 .4-4.6 .3-5.1 .3-5.6 .4-6.3 .3-8.1 .3-7.1 .3-4.6 .4-3.6 .3,2.2 .3,8 .4,9.2 .3,12.2 .3,12.9 .4,8.9 .3,5.4 .3,3.2 .3,.1 .4-.4 .3-.7 .3-.7 .4-1.3 .3-1.9 .3-1.8 .4-.8 .3,1.5 .3,3.6 .3,3.6 .4,2.8 .3,2.7 .3,2.4 .4,1.3 .3,.7 .3,.5 .4,.4 .3,.2 .3,0 .3-.1 .4-.2 .3-.3 .3-.4 .4-.4 .3-.4 .3-.5 .4-.4 .3-.4 .3-.4 .3-.5 .4-.6 .3-.5 .3-.5 .4-.6 .3-.6 .3-.6 .4-.7 .3-.6 .3-.7 .3-.6 .4-.5 .3-.6 .3-.5 .4-.3 .3,.1 .3,.5 .4,.7 .3,.9 .3,.7 .3,.5 .4,0 .3-.6 .3-1.1 .4-1.3 .3-1.6 .3-1.7 .4-2.3 .3-2.3 .3-2.5 .3-2.7 .4-3.2 .3-3.7 .3-4.1 .4-4.5 .3-5.4 .3-6.3 .4-4.8 .3-3.4 .3-2.4 .3,4.4 .4,6.5 .3,7.7 .3,10.2 .4,9.4 .3,5.6 .3,4.6 .4,2 .3-.2 .3-.5 .3-.7 .4-.8 .3-1.6 .3-1.9 .4-1.2 .3-.2 .3,2 .4,3.8 .3,3.2 .3,2.8 .3,2.7 .4,2.1 .3,1 .3,.5 .4,.5 .3,.3 .3,.2 .4,0 .3-.2 .3-.2 .3-.3 .4-.4 .3-.5 .3-.4 .4-.4 .3-.4 .3-.4 .4-.5 .3-.5 .3-.5 .3-.6 .4-.5 .3-.6 .3-.6 .4-.6 .3-.7 .3-.6 .4-.7 .3-.5 .3-.6 .3-.6 .4-.5 .3-.2 .3,.3" stroke="#f0182a" stroke-width="1.12" fill="none" stroke-linejoin="round" stroke-opacity="1.00"/>
</g>
<clipPath id="cp23"><rect x="351.50" y="252.60" width="190.90" height="99.20"/></clipPath>
<g clip-path="url(#cp23)">
<path d="M354.1,319.9h0m1.4,18.7h0m.2,.9h0m.1,.5h0m.1,.6h0m.1,.6h0m.2-.6h0m.1-.6h0m.1,.1h0m.2-.4h0m.1-.6h0m.1-.2h0m.2-1.1h0m.1-.1h0m.1,.5h0m.1-.8h0m.2-.5h0m.1,0h0m.1,.4h0m.2,0h0m.1-.3h0m.1,.4h0m.2,.2h0m.1,0h0m.1-.3h0m.1-.5h0m.2,.5h0m.1,.3h0m.1,.2h0m.2,1.2h0m.1,.2h0m.1-.8h0m.2-.3h0m.1,1h0m.1-.2h0m.1,.1h0m.2,1.2h0m.1,0h0m.1-.7h0m.2-.2h0m.1,.2h0m.1,1h0m.2,.4h0m.1-.7h0m.1-.2h0m.1,.1h0m.2-.1h0m.1,.1h0m.1,.9h0m.2,.3h0m.1-1h0m.1-.9h0m.2,.7h0m.1-.2h0m.1-.2h0m.1,.3h0m.2,.4h0m.1,.1h0m.1-.6h0m.2-.3h0m.1,.2h0m.1-.3h0m.2-.7h0m.1,.6h0m.1,.4h0m.1,.2h0m.2,.1h0m.1-.2h0m.1,.2h0m.2-.3h0m.1,.1h0m.1-.3h0m.2,.3h0m.1,.6h0m.1-.3h0m.1-.1h0m.2,.1h0m.1,.1h0m.1,.4h0m.2-.3h0m.1-.3h0m.1,0h0m.2-.5h0m.1,.5h0m.1,.7h0m.1,0h0m.2-.1h0m.1,.5h0m.1-.9h0m.2-.9h0m.1-.3h0m.1,.3h0m.2,.5h0m.1-.4h0m.1,.2h0m.1-.3h0m.2-.1h0m.1,.3h0m.1-.1h0m.2,.7h0m.1,.3h0m.1-.5h0m.2-.9h0m.1-.4h0m.1,.3h0m.1,.1h0m.2,.4h0m.1-.3h0m.1,0h0m.2,1.2h0m.1-.2h0m.1-.8h0m.2,.2h0m.1,.4h0m.1-.2h0m.1-.4h0m.2,.2h0m.1,0h0m.1,.2h0m.2-.1h0m.1,.6h0m.1,.4h0m.2-.6h0m.1,.3h0m.1,.5h0m.1-.3h0m.2-.4h0m.1,.6h0m.1,.1h0m.2-.3h0m.1-.3h0m.1,.2h0m.2,.3h0m.1-.5h0m.1-.4h0m.1-.6h0m.2,.1h0m.1,.4h0m.1-.7h0m.2,.3h0m.1,.3h0m.1-.2h0m.2,.4h0m.1-.5h0m.1,.4h0m.1,.9h0m.2,.3h0m.1-.1h0m.1-1h0m.2,.1h0m.1,.1h0m.1,.2h0m.2,0h0m.1-.2h0m.1,.5h0m.1-.6h0m.2-.2h0m.1,.4h0m.1-.1h0m.2-.1h0m.1,0h0m.1,.6h0m.2-.2h0m.1-.6h0m.1-.2h0m.1,.2h0m.2-.6h0m.1,0h0m.1,.5h0m.2-.4h0m.1,.3h0m.1,.4h0m.2-.7h0m.1-.7h0m.1,.1h0m.1,.7h0m.2,0h0m.1-.7h0m.1-.4h0m.2-.4h0m.1,0h0m.1,0h0m.2-.4h0m.1,1h0m.1,.2h0m.1-.8h0m.2,0h0m.1-.4h0m.1,.3h0m.2,.2h0m.1-.7h0m.1-.5h0m.2-.3h0m.1-.2h0m.1-.8h0m.1-.4h0m.2-.4h0m.1-.2h0m2.5-16.1h0m2.3-48.2h0m1.2,20.7h0m3,49.9h0m.1,.1h0m.1-.2h0m.2,.7h0m.1,.5h0m.1-.9h0m.2-1.4h0m.1-.6h0m.4-.7h0m.1-.6h0m.1-1h0m.2-.7h0m.1,.6h0m.1,.5h0m.2-.2h0m.1-.5h0m.1-.3h0m.1,.7h0m.2,.2h0m.1,.4h0m.1,.6h0m.2,.1h0m.1,.4h0m.1,.3h0m.2-.1h0m.1,0h0m.1-.2h0m.1,0h0m.2,.7h0m.1,1.2h0m.1,.6h0m.2-.4h0m.1-.3h0m.1,.3h0m.2,.1h0m.1-.5h0m.1,.2h0m.1,.1h0m.2-.2h0m.1,.2h0m.1,.3h0m.2-.2h0m.1-.5h0m.1,.3h0m.2,.8h0m.1-.1h0m.1-.9h0m.1,.2h0m.2-.2h0m.1-.5h0m.1,.3h0m.2,0h0m.1-.2h0m.1-.3h0m.2,0h0m.1,.7h0m.1-.1h0m.1-.1h0m.2,.4h0m.1-.7h0m.1,0h0m.2,0h0m.1,0h0m.1,.2h0m.2,.4h0m.1-.3h0m.1-.6h0m.1,.6h0m.2,.8h0m.1-.2h0m.1,0h0m.2,.1h0m.1-.6h0m.1-.1h0m.2-.2h0m.1,0h0m.1,.9h0m.1,.4h0m.2-.6h0m.1-1h0m.1,.3h0m.2,.9h0m.1-.7h0m.1-.3h0m.2,.1h0m.1-.5h0m.1,.5h0m.1,.5h0m.2-.3h0m.1-.3h0m.1-.5h0m.2,.3h0m.1,0h0m.1,.5h0m.2,0h0m.1-.7h0m.1,.1h0m.1,.7h0m.2,.1h0m.1-.1h0m.1-.5h0m.2-.2h0m.1,.7h0m.1,0h0m.2-.2h0m.1,0h0m.1,.1h0m.1,.4h0m.2-.1h0m.1-.1h0m.1,.2h0m.2-.2h0m.1-.1h0m.1,.1h0m.2,.9h0m.1,.4h0m.1-.5h0m.1-.9h0m.2,.1h0m.1,.4h0m.1-.6h0m.2,.1h0m.1,.3h0m.1-.3h0m.2,.2h0m.1,0h0m.1-.6h0m.1-.3h0m.2,.4h0m.1-.6h0m.1-.3h0m.2,1.1h0m.1,.4h0m.1,.2h0m.2-.5h0m.1,.7h0m.1,.4h0m.1-.5h0m.2,.1h0m.1-.4h0m.1,.4h0m.2,.4h0m.1-.9h0m.1-.1h0m.2,.5h0m.1,0h0m.1-.3h0m.1-.5h0m.2-.1h0m.1,.2h0m.1,.1h0m.2,.6h0m.1-.3h0m.1-.3h0m.2,.7h0m.1-.2h0m.1-.1h0m.1-.4h0m.2-.6h0m.1-.4h0m.1,.2h0m.2,.6h0m.1-.1h0m.1,.1h0m.2,.1h0m.1-1.2h0m.1,0h0m.1,.8h0m.2-.6h0m.1-.3h0m.1-.1h0m.2,.3h0m.1,.6h0m.1-.8h0m.2-.2h0m.1,.5h0m.1-.4h0m.1,.6h0m.2,0h0m.1-.5h0m.1-.4h0m.2-.2h0m.1,.7h0m.1-.6h0m.2-.1h0m.1,.2h0m.1-.9h0m.1-.2h0m.2-.6h0m.1-.8h0m2.6-15.4h0m1.3-20.5h0m1.3-29.7h0m3.9,69.7h0m.1,1h0m.2-.2h0m.1-.4h0m.1-.5h0m.2,.1h0m.1,.7h0m.1-.7h0m.1-.8h0m.2-.1h0m.1-1.1h0m.1-1.2h0m.2,0h0m.1,.6h0m.1-.2h0m.2-.4h0m.1,.5h0m.1-.4h0m.1-.6h0m.2,0h0m.1,.4h0m.1,.7h0m.2,.1h0m.1,.9h0m.1-.7h0m.2,.5h0m.1,1.5h0m.1-.4h0m.1,.4h0m.2-.1h0m.1-.2h0m.1,.3h0m.2,0h0m.1,.1h0m.1,.2h0m.2,.1h0m.1,0h0m.1-.3h0m.1,.3h0m.2,.4h0m.1,.1h0m.1-.3h0m.2,0h0m.1,.2h0m.1,.4h0m.2-.9h0m.1-.1h0m.1,0h0m.1-.7h0m.2,.2h0m.1,.1h0m.1,.1h0m.2,0h0m.1-.1h0m.1-.2h0m.2-.4h0m.1,.7h0m.1,.3h0m.1-.9h0m.2-.3h0m.1,1h0m.1,.4h0m.2-.4h0m.1,.1h0m.1,.9h0m.2-.1h0m.1-.2h0m.1-.4h0m.1-.7h0m.2,.8h0m.1,.1h0m.1,0h0m.2,.4h0m.1,.2h0m.1-.3h0m.2,.2h0m.1-.1h0m.1-.7h0m.1-.1h0m.2-.1h0m.1-.1h0m.1,.1h0m.2-.1h0m.1,.2h0m.1,.2h0m.2-.5h0m.1-.6h0m.1,.5h0m.1,1.1h0m.2-.9h0m.1-1h0m.1,.1h0m.2,0h0m.1,.5h0m.1,.6h0m.2,.4h0m.1-.8h0m.1-.6h0m.1,.4h0m.2,.8h0m.1,.3h0m.1-.1h0m.2,0h0m.1,.9h0m.1-.2h0m.2-1.5h0m.1,.4h0m.1,.6h0m.1-.2h0m.2,.4h0m.1,0h0m.1,0h0m.2,.4h0m.1-.4h0m.1-.1h0m.2,0h0m.1,.4h0m.1-.3h0m.1,.1h0m.2-.1h0m.1-.3h0m.1,.7h0m.2-.2h0m.1-.1h0m.1,.1h0m.2-.3h0m.1-.5h0m.1-.4h0m.1,.1h0m.2,.3h0m.1,.7h0m.1,0h0m.2-.4h0m.1-.1h0m.1,.1h0m.2,.2h0m.1-.4h0m.1,.3h0m.1,.3h0m.2-.8h0m.1,.3h0m.1,.9h0m.2-.2h0m.1-.2h0m.1-.1h0m.2-.6h0m.1,.2h0m.1,.3h0m.1,.2h0m.2,.4h0m.1-.4h0m.1,.1h0m.2-.4h0m.1-.1h0m.1,.4h0m.2,.2h0m.1,0h0m.1-.1h0m.1-.1h0m.2,.2h0m.1-.3h0m.1-1.3h0m.2,.5h0m.1-.1h0m.1-.7h0m.2,.3h0m.1,.2h0m.1-.5h0m.1,0h0m.2,.7h0m.1-1h0m.1,.4h0m.2,1.4h0m.1-.5h0m.1-.6h0m.2,.3h0m.1,0h0m.1,.2h0m.1-.9h0m.2-1h0m.1,1h0m.1,.4h0m.2-.5h0m.1-.5h0m.1,0h0m.2-.4h0m.1-.5h0m.1,.6h0m.1-.2h0m.2-.4h0m.1-1.1h0m.1-.6h0m.2,.7h0m.1-.4h0m.1-1.1h0m.2,0h0m.1,.7h0m4.8-65.4h0m3.9,69.6h0m.1,1.5h0m.2-.6h0m.1-1.2h0m.1,.8h0m.1-.4h0m.2,0h0m.1-.5h0m.1-1.1h0m.2-.4h0m.1-.2h0m.1-.1h0m.2-.6h0m.1-.5h0m.1-.2h0m.1,0h0m.2,.3h0m.1-.5h0m.1-.2h0m.2,.8h0m.1,.4h0m.1,.6h0m.2,.4h0m.1,.5h0m.1-.1h0m.1-.2h0m.2,.3h0m.1,.6h0m.1,.5h0m.2,0h0m.1-.4h0m.1,.5h0m.2,1.1h0m.1-.9h0m.1-.6h0m.1,1.1h0m.2-.3h0m.1-1.1h0m.1,.1h0m.2,1.3h0m.1,.3h0m.1-.4h0m.2,.1h0m.1,.2h0m.1-.8h0m.1-.4h0m.2,.5h0m.1-.6h0m.1-.2h0m.2,.1h0m.1,.4h0m.1,0h0m.2-.1h0m.1,.9h0m.1-.4h0m.1-.6h0m.2,.6h0m.1-.1h0m.1,.4h0m.2,.3h0m.1,.2h0m.1-.5h0m.2-1.1h0m.1,.2h0m.1,1h0m.1-.4h0m.2-.2h0m.1,1.1h0m.1,.6h0m.2-.6h0m.1-1.2h0m.1,.3h0m.2,.8h0m.1-.1h0m.1,.1h0m.1,.1h0m.2-.4h0m.1,0h0m.1-.3h0m.2,0h0m.1,0h0m.1-.5h0m.2,.3h0m.1,.2h0m.1-.1h0m.1-.8h0m.2,.1h0m.1,.1h0m.1-.7h0m.2,.5h0m.1-.3h0m.1,.7h0m.2,.5h0m.1-.9h0m.1,.1h0m.1-.2h0m.2,.2h0m.1,.4h0m.1-.5h0m.2,0h0m.1,.8h0m.1-.1h0m.2-.3h0m.1,.5h0m.1-.2h0m.1,.1h0m.2,.7h0m.1-.2h0m.1-.2h0m.2-.1h0m.1,.4h0m.1-.6h0m.2-.7h0m.1,.6h0m.1,.2h0m.1,.9h0m.2-.3h0m.1-.5h0m.1,.1h0m.2,0h0m.1-.2h0m.1-.3h0m.2,.4h0m.1-.8h0m.1-.5h0m.1,1.1h0m.2,.5h0m.1-.5h0m.1-.2h0m.2-.2h0m.1,.2h0m.1,1h0m.2,.1h0m.1-.6h0m.1-.5h0m.1-.3h0m.2-.2h0m.1,.3h0m.1,.5h0m.2-.1h0m.1,0h0m.1,.5h0m.2,.2h0m.1-.5h0m.1-.6h0m.1-.2h0m.2,1.2h0m.1,0h0m.1-.2h0m.2,.5h0m.1-.6h0m.1,.3h0m.2,.6h0m.1-.3h0m.1-1.2h0m.1-.7h0m.2,.8h0m.1,.3h0m.1-.5h0m.2-.2h0m.1,.3h0m.1-.5h0m.2-.2h0m.1,.1h0m.1,.4h0m.1,.1h0m.2-.7h0m.1-.3h0m.1,.9h0m.2,.3h0m.1-1.3h0m.1,.3h0m.2-.2h0m.1-.8h0m.1,.1h0m.1,.5h0m.2-.2h0m.1,.1h0m.1,0h0m.2-.1h0m.1,.6h0m.1,.5h0m.2-.8h0m.1-.7h0m.1,.5h0m.1-.1h0m.2-1h0m.1,.4h0m.1,.6h0m.2-1.2h0m.1-1h0m.1,.4h0m.2,.3h0m.1-.9h0m.1-1.3h0m.1-.3h0m5-64.3h0m3.8,68.9h0m.1,.2h0m.1,.6h0m.1,.6h0m.2-.8h0m.1,.4h0m.1,.7h0m.2-.7h0m.1-1h0m.1-1.1h0m.2,.3h0m.1-.5h0m.1-.3h0m.1-.7h0m.2-.5h0m.1,.4h0m.1-.3h0m.2,.1h0m.1,.2h0m.1,.3h0m.2-.1h0m.1,.2h0m.1,0h0m.1,.5h0m.2,.7h0m.1,.6h0m.1,.3h0m.2,0h0m.1-.2h0m.1-.2h0m.2,.8h0m.1,.2h0m.1-.6h0m.1,.4h0m.2,1h0m.1-.9h0m.1-.6h0m.2,.6h0m.1-.7h0m.1,.5h0m.2,.8h0m.1,.3h0m.1-.1h0m.1-.8h0m.2,.4h0m.1,.4h0m.1-.3h0m.2-.3h0m.1-.6h0m.1-.1h0m.2,.6h0m.1,0h0m.1,.5h0m.1,.1h0m.2,0h0m.1-.2h0m.1,.3h0m.2,.5h0m.1-.8h0m.1,.4h0m.2,.7h0m.1-1h0m.1,0h0m.1,.4h0m.2-.5h0m.1,.4h0m.1,.8h0m.2-.9h0m.1-.3h0m.1,.4h0m.2,.1h0m.1,0h0m.1,.2h0m.1,.7h0m.2-.2h0m.1-.3h0m.1-.2h0m.2-.1h0m.1-.5h0m.1,0h0m.2-.2h0m.1,0h0m.1,0h0m.1-.8h0m.2-.5h0m.1,1.2h0m.1-.1h0m.2-.1h0m.1,.1h0m.1-.7h0m.2,.4h0m.1,.3h0m.1-.2h0m.1-.6h0m.2,.6h0m.1,.5h0m.1-.5h0m.2-.5h0m.1,.1h0m.1,.5h0m.2,.4h0m.1-.4h0m.1-.3h0m.1,0h0m.2,.3h0m.1,.7h0m.1,0h0m.2-.4h0m.1,.4h0m.1,0h0m.2,.1h0m.1,.1h0m.1-.1h0m.1-.7h0m.2-.7h0m.1,.6h0m.1,.9h0m.2,.5h0m.1-.8h0m.1-.4h0m.2,.1h0m.1,.5h0m.1,.6h0m.1-.6h0m.2-.5h0m.1,.5h0m.1,.2h0m.2-.7h0m.1-.2h0m.1,.1h0m.2-.7h0m.1,.1h0m.1,.7h0m.1,.3h0m.2-.3h0m.1,.4h0m.1,.9h0m.2-.5h0m.1,.2h0m.1-.3h0m.2-.2h0m.1,.2h0m.1-.1h0m.1,.3h0m.2-.1h0m.1,.6h0m.1,.4h0m.2-.6h0m.1-1.2h0m.1-.5h0m.2,.5h0m.1,.6h0m.1-.2h0m.1-.9h0m.2,0h0m.1-.6h0m.1,.6h0m.2,1.3h0m.1-.5h0m.1-.1h0m.2-.2h0m.1-.6h0m.1-.1h0m.1,.1h0m.2-.2h0m.1-.2h0m.1,.3h0m.2,.6h0m.1-.7h0m.1-.1h0m.2,.7h0m.1-.2h0m.1-.2h0m.1,.1h0m.2-.1h0m.1-.2h0m.1-.4h0m.2,.5h0m.1,.7h0m.1-.9h0m.2-.3h0m.1,1.1h0m.1,.3h0m.1-.7h0m.2-.6h0m.1,.4h0m.1-.1h0m.2-.6h0m.1-1h0m.1-.8h0m.2,.1h0m.1,.2h0m.1-.3h0m.1-1.1h0m.2-.5h0m.1-.5h0m3.4-24h0m1.5-40.9h0m.2,.3h0m3.7,69.5h0m.2-.3h0m.1-.7h0m.1,.5h0m.2,.9h0m.1-.1h0m.1-.7h0m.2,.1h0m.1,.2h0m.1-.9h0m.1-.8h0m.2,.4h0m.1-.3h0m.1-.4h0m.2-.3h0m.1-1h0m.1,1h0m.2,.1h0m.1-.9h0m.1,.5h0m.1,0h0m.2-.8h0m.1,.5h0m.1,1.4h0m.2,1.1h0m.1,.3h0m.1,.1h0m.2-.5h0m.1-.3h0m.1,.6h0m.1-.1h0m.2,.1h0m.1,.5h0m.1,.4h0m.2,.3h0m.1-.3h0m.1,.2h0m.2-.6h0m.1-.5h0m.1,.7h0m.1-.3h0m.2,.1h0m.1-.1h0m.1-.4h0m.2-.4h0m.1,.2h0m.1,.8h0m.2,.1h0m.1,.3h0m.1-.4h0m.1-.1h0m.2,0h0m.1-.1h0m.1-.2h0m.2,.7h0m.1,.3h0m.1-.9h0m.2,.3h0m.1,.3h0m.1-.6h0m.1,0h0m.2,.6h0m.1,0h0m.1,.3h0m.2,0h0m.1-.4h0m.1,.5h0m.2,.5h0m.1,.1h0m.1-.3h0m.1-.2h0m.2,.4h0m.1-.6h0m.1-.3h0m.2,0h0m.1,0h0m.1-.1h0m.2-.1h0m.1,.5h0m.1-.1h0m.1-.4h0m.2,.1h0m.1-.3h0m.1,.1h0m.2,.4h0m.1-.7h0m.1-1h0m.2,.5h0m.1,.2h0m.1-.2h0m.1,.6h0m.2,.5h0m.1-.1h0m.1-.1h0m.2,.1h0m.1-.1h0m.1,.4h0m.2-.3h0m.1,0h0m.1,.8h0m.1-.7h0m.2-.6h0m.1-.2h0m.1,.3h0m.2,.8h0m.1-.4h0m.1-.2h0m.2,.5h0m.1,.3h0m.1-.2h0m.1,.5h0m.2-.1h0m.1-.1h0m.1-.2h0m.2-.2h0m.1,0h0m.1-1.5h0m.2,.3h0m.1,1.3h0m.1-.8h0" stroke="#3014c8" stroke-width="2.00" stroke-linecap="round" fill="none"/>
<path d="M351.5,272l.3,1.8 .4,5.2 .3,5.8 .3,6.4 .3,7.5 .4,7.8 .3,7.4 .3,7.4 .4,7.5 .3,6 .3,2.7 .4,1.6 .3,1 .3,.2 .3-.9 .4-1.2 .3-.6 .3-.5 .4-.2 .3,.3 .3,.5 .4,.7 .3,.5 .3,.3 .3,.3 .4,.2 .3,0 .3,.1 .4,0 .3,.1 .3,0 .4,.1 .3,0 .3,0 .3,0 .4,0 .3,.1 .3,0 .4,0 .3,0 .3,0 .4,0 .3,0 .3,0 .3-.1 .4,0 .3,0 .3,0 .4-.1 .3,0 .3,0 .4,0 .3,0 .3,0 .3,.1 .4,0 .3,.1 .3,0 .4,.1 .3,0 .3,.1 .4,0 .3,.1 .3,0 .3,0 .4,0 .3,0 .3-.1 .4,0 .3,0 .3-.1 .4,0 .3-.1 .3-.1 .3-.1 .4,0 .3-.1 .3-.1 .4-.1 .3-.2 .3-.2 .4-.2 .3-.2 .3-.4 .3-.5 .4-.6 .3-.7 .3-.7 .4-.8 .3-1.1 .3-1.6 .4-2.5 .3-2.7 .3-2.1 .3-1.8 .4-2.2 .3-2.6 .3-3.3 .4-4.9 .3-9.7 .3-10.8 .4-7.8 .3-6.7 .3-4.3 .3,4.9 .4,5.5 .3,6 .3,6.9 .4,7.7 .3,7.7 .3,7.2 .4,7.7 .3,7.1 .3,4.7 .3,1.9 .4,1.3 .3,.7 .3-.2 .4-1.2 .3-1 .3-.6 .4-.3 .3,0 .3,.4 .3,.6 .4,.6 .3,.4 .3,.3 .4,.3 .3,.1 .3,.1 .4,0 .3,.1 .3,0 .3,0 .4,.1 .3,0 .3,0 .4,0 .3,.1 .3,0 .4,0 .3,0 .3,0 .3,0 .4,0 .3,0 .3,0 .4-.1 .3,0 .3,0 .4,0 .3-.1 .3,0 .3,0 .4,0 .3,0 .3,0 .4,.1 .3,0 .3,.1 .4,.1 .3,0 .3,.1 .3,0 .4,.1 .3,0 .3,0 .4,0 .3,0 .3,0 .4-.1 .3,0 .3-.1 .3,0 .4-.1 .3,0 .3-.1 .4-.1 .3-.1 .3-.1 .4,0 .3-.2 .3-.1 .3-.2 .4-.3 .3-.3 .3-.4 .4-.5 .3-.7 .3-.7 .4-.7 .3-1 .3-1.2 .3-2 .4-2.6 .3-2.6 .3-1.9 .4-1.9 .3-2.4 .3-2.8 .4-3.8 .3-6.7 .3-10.9 .3-9.5 .4-7.2 .3-6.2 .3,.1 .4,5.2 .3,5.7 .3,6.3 .4,7.3 .3,7.8 .3,7.5 .3,7.3 .4,7.7 .3,6.2 .3,3.3 .4,1.6 .3,1.1 .3,.4 .4-.8 .3-1.3 .3-.7 .3-.4 .4-.3 .3,.2 .3,.5 .4,.7 .3,.5 .3,.4 .4,.3 .3,.2 .3,0 .3,.1 .4,0 .3,.1 .3,0 .4,0 .3,.1 .3,0 .4,0 .3,0 .3,.1 .3,0 .4,0 .3,0 .3,0 .4,0 .3,0 .3,0 .4,0 .3-.1 .3,0 .3,0 .4-.1 .3,0 .3,0 .4,0 .3,0 .3,0 .4,.1 .3,0 .3,.1 .3,0 .4,.1 .3,0 .3,.1 .4,0 .3,.1 .3,0 .4,0 .3,0 .3,0 .3-.1 .4,0 .3,0 .3-.1 .4,0 .3-.1 .3-.1 .4,0 .3-.1 .3-.1 .3-.1 .4-.1 .3-.1 .3-.2 .4-.2 .3-.3 .3-.3 .4-.5 .3-.6 .3-.7 .3-.7 .4-.8 .3-1 .3-1.5 .4-2.4 .3-2.7 .3-2.2 .4-1.8 .3-2.2 .3-2.5 .3-3.2 .4-4.4 .3-9 .3-11 .4-8.2 .3-6.8 .3-5.7 .4,4.5 .3,5.4 .3,6 .3,6.7 .4,7.6 .3,7.8 .3,7.2 .4,7.6 .3,7.3 .3,5.2 .4,2.1 .3,1.4 .3,.9 .3-.1 .4-1.1 .3-1.1 .3-.6 .4-.4 .3-.1 .3,.4 .4,.6 .3,.6 .3,.5 .3,.3 .4,.3 .3,.1 .3,.1 .4,0 .3,.1 .3,0 .4,0 .3,.1 .3,0 .3,0 .4,0 .3,.1 .3,0 .4,0 .3,0 .3,0 .4,0 .3,0 .3,0 .3,0 .4-.1 .3,0 .3,0 .4,0 .3-.1 .3,0 .4,0 .3,0 .3,0 .3,0 .4,.1 .3,0 .3,.1 .4,0 .3,.1 .3,.1 .4,0 .3,0 .3,.1 .3,0 .4,0 .3,0 .3,0 .4-.1 .3,0 .3-.1 .4,0 .3-.1 .3,0 .3-.1 .4-.1 .3-.1 .3,0 .4-.1 .3-.2 .3-.1 .4-.2 .3-.3 .3-.2 .3-.4 .4-.5 .3-.7 .3-.7 .4-.7 .3-.9 .3-1.2 .4-1.8 .3-2.6 .3-2.6 .3-2 .4-1.9 .3-2.3 .3-2.7 .4-3.6 .3-6 .3-10.6 .4-10 .3-7.4 .3-6.4 .3-1.4 .4,5.1 .3,5.6 .3,6.2 .4,7.2 .3,7.8 .3,7.5 .4,7.2 .3,7.7 .3,6.7 .3,3.7 .4,1.7 .3,1.2 .3,.5 .4-.6 .3-1.3 .3-.8 .4-.5 .3-.3 .3,.2 .3,.4 .4,.7 .3,.5 .3,.4 .4,.3 .3,.2 .3,.1 .4,.1 .3,0 .3,.1 .3,0 .4,0 .3,.1 .3,0 .4,0 .3,0 .3,.1 .4,0 .3,0 .3,0 .3,0 .4,0 .3,0 .3,0 .4,0 .3-.1 .3,0 .4,0 .3-.1 .3,0 .3,0 .4,0 .3,0 .3,0 .4,.1 .3,0 .3,0 .4,.1 .3,.1 .3,0 .3,.1 .4,0 .3,.1 .3,0 .4,0 .3,0 .3,0 .4-.1 .3,0 .3,0 .3-.1 .4,0 .3-.1 .3-.1 .4,0 .3-.1 .3-.1 .4-.1 .3-.1 .3-.1 .3-.2 .4-.2 .3-.3 .3-.3 .4-.4 .3-.6 .3-.7 .4-.7 .3-.8 .3-1 .3-1.3 .4-2.3 .3-2.7 .3-2.4 .4-1.8 .3-2 .3-2.5 .4-3 .3-4.2 .3-8.2 .3-11.1 .4-8.6 .3-6.9 .3-5.9 .4,3 .3,5.3 .3,5.8 .4,6.6 .3,7.6 .3,7.8 .3,7.2 .4,7.5 .3,7.5 .3,5.6 .4,2.4 .3,1.6 .3,.9 .4,.1 .3-1 .3-1.2 .3-.6 .4-.4 .3-.2 .3,.3 .4,.6 .3,.6 .3,.5 .4,.3 .3,.3 .3,.2 .3,0 .4,.1 .3,0 .3,.1 .4,0 .3,.1 .3,0 .4,0 .3,0 .3,0 .3,.1 .4,0 .3,0 .3,0 .4,0 .3,0 .3,0 .4,0 .3-.1 .3,0 .3,0 .4,0 .3-.1 .3,0 .4,0 .3,0 .3,0 .4,0 .3,.1 .3,0 .3,.1 .4,0 .3,.1 .3,0" stroke="#f0182a" stroke-width="1.00" fill="none" stroke-linejoin="round" stroke-opacity="0.90"/>
</g>
<clipPath id="cp24"><rect x="351.50" y="378.80" width="190.90" height="99.60"/></clipPath>
<g clip-path="url(#cp24)">
<path d="M354.3,454.5l.2,4.6 .2,2.8 .2,.1 .2-.2 .2-.7 .2-.5 .2,0 .2-2 .2-1.1 .1-1.1 .2-1.6 .2-.9 .2-1.5M361,452.3l.2,5.8 .2,4.5 .2,.8 .2-.6 .1-.1 .2-.7 .2-.7 .2-.5 .2-2.1 .2-.3 .2-1.4 .2-2.2 .2-.6 .2-1.9M368,452.8l.2,5.8 .2,4 .2,.1 .2,.3 .2-.3 .2-1 .2-.7 .1-.2 .2-1.8 .2-1.1 .2-1.1 .2-.8 .2-1.8 .2-.8 .2-1.5M376.8,452.2l.2,6.6 .1-.5 .2-.9 .2-1.6 .2-1.3 .2-1.8M379.6,454.2l.2,1.6 .2,2.1 .2,2 .2,1 .2-1.6 .2-2.3 .1-3.8M384.9,453.9l.2,2.3 .2,.2 .2,0 .2-1.1 .2,0 .2-.3 .2-.3 .2-.2 .1-1.1 .2,0 .2-.7 .2-.4M391.2,457.6l.2,4.9 .2,.8 .2-.4 .2,.3 .2-.5 .1-.7 .2-1.1 .2-1.7 .2-.5 .2-1.1 .2-.8 .2-1.8 .2-.7 .2-.9 .2-1.4M398.4,456.4l.2,4.6 .2,2.7 .2-.6 .2-.2 .2-.6 .2-.6 .2-1.3 .1-.5 .2-.8 .2-2.3 .2-.5 .2-1.3 .2-1.4 .2-.7M405.3,452.3l.2,5.8 .1,3.8 .2,1.2 .2-.3 .2-.2 .2-.9 .2-.5 .2-.7 .2-.8 .2-1.5 .2-.9 .1-1.9 .2-1.3 .2-1.1 .2-.5M412.3,452.1l.2,6 .2,4.7 .2,1.1 .2-.8 .1-.7 .2-.2 .2-.9 .2-1.5 .2-1 .2-.4 .2-2.1 .2-1.4 .2-1 .2-1.5M419.1,453.6l.2,5.5 .2,3.3 .2,1 .2-.4 .2-.2 .2-1.3 .2-.1 .2-1.6 .1-.4 .2-1.7 .2-.8 .2-1.4 .2-1.3 .2-1.1 .2-1.2M428.3,453.2l.1,5.6 .2,1.1 .2-1 .2-1.6 .2-2.2 .2-2.5M430.7,452.4l.2,2.8 .2,3.2 .2,1.9 .2,.3 .2-2.4 .2-3.2M435.5,454l.2,4.2 .2,.2 .1,.4 .2-.3 .2-.6 .2-.3 .2-1.4 .2,0 .2-.4 .2-1.6 .2,.5 .2-.7 .1-.7 .2-.6M442.5,454.4l.2,5.6 .2,2.3 .2,.7 .2-.3 .2,0 .1-1.1 .2-.4 .2-1 .2-.5 .2-1.2 .2-1.8 .2-.9 .2-1.2 .2-1.6 .2-1.1M449.5,453.8l.2,5.7 .2,3.2 .2,.7 .2-.4 .2-.3 .2-.9 .2-.7 .2-.9 .1-1.3 .2-.9 .2-1.8 .2-1.4 .2-.5 .2-1.9M456.4,452.8l.2,5.5 .2,4.3 .1,.7 .2-.1 .2-.7 .2-.4 .2-1.3 .2-.3 .2-1.1 .2-1.2 .2-1.5 .2-1.6 .1-1 .2-1.1M463.2,453.3l.2,5.6 .2,3.6 .2,1.3 .2-.9 .2,0 .2-.7 .1-.4 .2-1.7 .2-1.7 .2-.5 .2-.9 .2-1 .2-2 .2-1.3 .2-.5M470.6,455.5l.2,5.6 .2,1.9 .2,0 .2-.7 .2,.6 .2-1.1 .2-1.5 .1-.5 .2-1.5 .2-1.5 .2-1.1 .2-.5 .2-1.5 .2-1.6M479.2,454.3l.2,4.6 .2,.5 .1-.5 .2-2.7 .2-2.6M481.6,452.2l.2,2.3 .2,3.7 .2,1 .2,.7 .2-.9 .2-.7 .2-.6 .2-2.4 .2-1.5 .1-1.7M486.8,455.2l.2,2.4 .2-.1 .1-.2 .2-.2 .2-.5 .2-.8 .2-.5 .2-.1 .2-1 .2-.1 .2-1 .2-.7 .1-.2M493.4,456.4l.2,5.8 .2,.8 .2-.2 .2-.8 .2,.6 .2-1.1 .2-.8 .1-.4 .2-1.4 .2-.8 .2-1.1 .2-1.2 .2-1.5 .2-.9 .2-.8M500.5,454.5l.1,6.1 .2,2.6 .2,.6 .2-.7 .2-.2 .2-1.2 .2-.4 .2-1.4 .2-.8 .2-1.2 .1-2 .2-1.2 .2-.3 .2-2.1M507.5,454.5l.2,5.1 .2,2.9 .2,.5 .1-.1 .2-.9 .2-.6 .2-.5 .2-1.7 .2-1.6 .2-.3 .2-1.5 .2-1.4 .2-1M514.3,453.2l.2,5.9 .2,3.6 .2,.4 .2,.2 .2-.8 .2-.2 .2-1.1 .1-1.8 .2-.5 .2-1.2 .2-2.1 .2-1 .2-1.3 .2-.9M521.4,457.4l.1,4.2 .2,1.7 .2-.3 .2-.7 .2,.4 .2-.9 .2-1.1 .2-.6 .2-.2 .2-.9 .1-1.4 .2-.7 .2-1.4 .2-.5 .2-1.5 .2-.8M530.3,455.9l.2,3.8 .2-1 .2-4 .1-2.5M532.2,453.5l.2,3.4 .2,2.4 .2,1.6 .1-.8 .2,.6 .2-.9 .2-1.6 .2-1.2 .2-1.7 .2-1.2 .2-1.9M537.9,453.1l.2,3.9 .2,1.4 .2,.3 .1-.6 .2,.2 .2-1.2 .2,.6 .2-.8 .2,.1 .2-.3 .2-.5 .2,0 .2-.6 .1-1.3 .2,.2 .2-.3 .2-1.2 .2-.2" stroke="#3014c8" stroke-width="1.30" stroke-linejoin="round" fill="none"/>
<path d="M351.5,438.6l.3-9.9 .2-8.2 .2-6 .3-3.6 .3-.9 .2,2.7 .2,5.8 .3,7.7 .3,8.8 .2,8.8 .2,7.8 .3,5.8 .3,2.7 .2-.1 .2-.3 .3-.6 .3-.9 .2-1 .2-1.3 .3-1.4 .3-1.6 .2-1.7 .2-1.7 .3-2.2 .3-4 .2-5.6 .2-6.6 .3-6.9 .3-6.5 .2-5.5 .2-3.8 .3-1.4 .3,2.3 .2,6.1 .2,8.7 .3,9.9 .3,9.9 .2,8.6 .2,6.2 .3,2.3 .3-.2 .2-.4 .2-.6 .3-.9 .3-1 .2-1.3 .2-1.4 .3-1.5 .3-1.7 .2-1.8 .2-1.8 .3-3.1 .3-4.9 .2-6.1 .2-6.9 .3-6.9 .3-6.5 .2-5.3 .2-3.7 .3-1.3 .3,2.5 .2,6.4 .2,9.2 .3,10.5 .3,10.5 .2,9.2 .2,6.5 .3,2.5 .3-.2 .2-.3 .2-.6 .3-.7 .3-1 .2-1.1 .2-1.2 .3-1.3 .3-1.4 .2-2.4 .2-4 .3-4.9 .3-5.3 .2-4.8 .2-3.8 .3-2.1 .3,1 .2,5.7 .2,7.6 .3,6.3 .3,2 .2-1.6 .2-3.3 .3-4.6 .3-5.3 .2-5.5 .2-5.2 .3-4.4 .3-3 .2-1.1 .2,6.8 .3,15 .3,15 .2,6.8 .2-.6 .3-1.5 .3-2 .2-2.2 .2-2.1 .3-1.6 .3-.8 .2,.5 .2,1.8 .3,2.6 .3,2.8 .2,2.4 .2,1.6 .3,.1 .3-2.4 .2-4.4 .2-5.9 .3-6.8 .3-7.2 .2-7 .2-6.2 .3-4.7 .3-2.8 .2-.3 .2,2.6 .3,4.7 .3,6.3 .2,7.1 .2,7.3 .3,6.7 .3,5.4 .2,3.5 .2,1 .3-.2 .3-.3 .2-.4 .2-.5 .3-.5 .3-.6 .2-.8 .2-1 .3-1.2 .3-1.4 .2-1.6 .2-1.8 .3-2.5 .3-5.4 .2-7.1 .2-7.6 .3-6.5 .3-4.2 .2-.3 .2,5.5 .3,9.6 .3,11.4 .2,10.9 .2,8.2 .3,3.3 .3-.1 .2-.3 .2-.5 .3-.7 .3-.8 .2-.9 .2-1.1 .3-1.2 .3-1.4 .2-1.3 .2-1.5 .3-1.6 .3-2.6 .2-4 .2-5 .3-5.6 .3-5.7 .2-5.4 .2-4.8 .3-3.6 .3-2.2 .2,0 .2,4.2 .3,7.4 .3,9.4 .2,9.9 .2,9.1 .3,6.9 .3,3.3 .2,0 .2-.3 .3-.5 .3-.8 .2-.9 .2-1.1 .3-1.2 .3-1.4 .2-1.5 .2-1.5 .3-1.7 .3-2.4 .2-4.1 .2-5.4 .3-6 .3-6.3 .2-5.9 .2-5.1 .3-3.6 .3-1.6 .2,1.4 .2,5.2 .3,7.8 .3,9.3 .2,9.6 .2,8.5 .3,6.4 .3,3.1 .2,0 .2-.3 .3-.6 .3-.8 .2-.9 .2-1.2 .3-1.3 .3-1.4 .2-1.5 .2-1.7 .3-1.7 .3-2.5 .2-4.3 .2-5.7 .3-6.3 .3-6.6 .2-6.2 .2-5.3 .3-3.8 .3-1.7 .2,1.4 .2,5.5 .3,8.2 .3,9.8 .2,10 .2,9 .3,6.7 .3,3.2 .2,0 .2-.4 .3-.6 .3-.8 .2-1 .2-1.3 .3-1.3 .3-1.6 .2-1.6 .2-1.8 .3-1.9 .3-3.5 .2-5.3 .2-6.4 .3-6.8 .3-6.7 .2-5.8 .2-4.5 .3-2.4 .3,.7 .2,4.7 .2,7.8 .3,9.6 .3,10 .2,9.3 .2,7.3 .3,4 .3,.3 .2-.3 .2-.5 .3-.7 .3-.9 .2-1.1 .2-1.2 .3-1.3 .3-1.5 .2-1.6 .2-3.3 .3-4.7 .3-5.5 .2-5.5 .2-5 .3-3.6 .3-1.8 .2,1.9 .2,6.1 .3,7.8 .3,6.7 .2,2.8 .2-1.5 .3-3.8 .3-5.5 .2-6.2 .2-6.3 .3-5.4 .3-3.9 .2-1.4 .2,2.9 .3,7.5 .3,9.9 .2,10.3 .2,8.7 .3,5 .3,.2 .2-1.4 .2-2.2 .3-2.5 .3-2.3 .2-1.6 .2-.5 .3,1.8 .3,3.3 .2,3.5 .2,2.5 .3,.3 .3-2.4 .2-4.6 .2-6 .3-7 .3-7.1 .2-6.8 .2-5.8 .3-4.2 .3-1.9 .2,1.2 .2,4.5 .3,6.8 .3,8 .2,8.2 .2,7.4 .3,5.6 .3,2.6 .2,0 .2-.3 .3-.4 .3-.5 .2-.5 .2-.6 .3-.7 .3-.7 .2-.9 .2-1 .3-1.2 .3-1.4 .2-1.6 .2-1.8 .3-3.2 .3-5.7 .2-7 .2-7.1 .3-6.1 .3-3.8 .2-.4 .2,3.3 .3,6 .3,7.8 .2,8.6 .2,8.4 .3,7.2 .3,5.1 .2,1.9 .2-.2 .3-.3 .3-.6 .2-.8 .2-.9 .3-1.1 .3-1.3 .2-1.4 .2-1.5 .3-1.6 .3-1.7 .2-2.7 .2-4.4 .3-5.5 .3-6.2 .2-6.2 .2-5.8 .3-4.8 .3-3.3 .2-1.2 .2,2.2 .3,5.9 .3,8.2 .2,9.4 .2,9.5 .3,8.2 .3,5.9 .2,2.2 .2-.2 .3-.3 .3-.6 .2-.9 .2-1 .3-1.2 .3-1.3 .2-1.5 .2-1.6 .3-1.7 .3-1.8 .2-3.3 .2-4.9 .3-6.1 .3-6.5 .2-6.4 .2-5.8 .3-4.5 .3-2.7 .2-.1 .2,3.9 .3,7.1 .3,9.1 .2,9.9 .2,9.3 .3,7.6 .3,4.6 .2,.8 .2-.2 .3-.5 .3-.7 .2-1 .2-1.1 .3-1.4 .3-1.5 .2-1.6 .2-1.7 .3-1.8 .3-2.7 .2-4.6 .2-6 .3-6.8 .3-6.8 .2-6.2 .2-5.1 .3-3.3 .3-.8 .2,3.2 .2,6.7 .3,9 .3,10 .2,9.8 .2,8.2 .3,5.5 .3,1.5 .2-.2 .2-.4 .3-.6 .3-.9 .2-1 .2-1.2 .3-1.3 .3-1.5 .2-1.6 .2-1.7 .3-1.8 .3-2.1 .2-3.9 .2-5.4 .3-6.3 .3-6.7 .2-6.7 .2-6.1 .3-5 .3-3.3 .2-1.3 .2,2.6 .3,6.6 .3,9.5 .2,10.8 .2,10.8 .3,9.5 .3,6.6 .2,2.6 .2-.2 .3-.4 .3-.6 .2-.8 .2-1 .3-1.2 .3-1.2 .2-1.4 .2-1.9 .3-3.8 .3-4.9 .2-5.3 .2-4.9 .3-3.8 .3-1.8 .2,1.7 .2,5.5 .3,6.7 .3,5 .2,.8 .2-2.3 .3-4.1 .3-5.3 .2-5.8 .2-5.4 .3-4.4 .3-2.7 .2-.1 .2,4.7 .3,8 .3,9.6 .2,9.2 .2,6.9 .3,2.7 .3-.9 .2-2.3 .2-3 .3-3 .3-2.3 .2-1 .2,1.2 .3,2.9 .3,3.6 .2,3.1 .2,1.6 .3-.1 .3-.7 .2-1.3 .2-1.6 .3-1.9 .3-2.3 .2-2.8 .2-6.4 .3-8.5 .3-8.6 .2-6.2 .2-1.8 .3,3 .3,6 .2,7.9 .2,8.4 .3,7.6 .3,5.6 .2,2.1 .2-.1 .3-.2 .3-.5 .2-.5 .2-.5 .3-.7 .3-.7 .2-.9 .2-1.1 .3-1.3 .3-1.5 .2-1.8 .2-2.1 .3-3.4 .3-6.6 .2-8.2 .2-8.2 .3-6.5 .3-3.2 .2,1.3 .2,5.3 .3,8 .3,9.5 .2,9.7 .2,8.7 .3,6.5 .3,3.1 .2,0 .2-.3 .3-.5 .3-.7 .2-.9 .2-1 .3-1.2 .3-1.3 .2-1.4 .2-1.5 .3-1.6 .3-2 .2-3.6 .2-4.9 .3-5.7 .3-6 .2-5.9 .2-5.2 .3-4.1 .3-2.3 .2-.1 .2,3.7 .3,6.9 .3,8.7 .2,9.4 .2,9 .3,7.3 .3,4.5 .2,.7 .2-.2 .3-.4 .3-.7 .2-.9 .2-1.1 .3-1.2 .3-1.4 .2-1.5 .2-1.6 .3-1.7 .3-2 .2-3.6 .2-5.2 .3-6.1 .3-6.6 .2-6.4 .2-5.7 .3-4.5 .3-2.6 .2-.1 .2,4 .3,7.3 .3,9.3 .2,10 .2,9.6 .3,7.8 .3,4.7 .2,.8 .2-.2 .3-.5 .3-.8 .2-1 .2-1.1 .3-1.4 .3-1.5 .2-1.7 .2-1.7 .3-1.9 .3-2.4 .2-4.4 .2-5.9 .3-6.9 .3-7.1 .2-6.8 .2-5.7 .3-4.2 .3-1.9 .2,1.5 .2,5.8 .3,8.7 .3,10.4 .2,10.6 .2,9.6 .3,7.1 .3,3.4 .2,0 .2-.4 .3-.6 .3-.8 .2-1.1 .2-1.2 .3-1.4 .3-1.5 .2-1.7 .2-1.8 .3-1.9 .3-3.1 .2-5 .2-6.3 .3-6.9 .3-7 .2-6.3 .2-5.2 .3-3.3 .3-.8 .2,3.4 .2,7 .3,9.4 .3,10.5 .2,10.2 .2,8.6 .3,5.7 .3,1.6 .2-.2 .2-.3 .3-.4 .3-.7 .2-.7 .2-.9 .3-.9 .3-1.1 .2-1.1 .2-1.3 .3-2.4 .3-3.5 .2-4.2 .2-4.4 .3-4.1 .3-3.4 .2-2.2 .2-.5 .3,3.4 .3,6 .2,6.1 .2,3.4 .3-1.1 .3-4.3 .2-6.2 .2-7.2 .3-6.9 .3-5.6 .2-3.2 .2,1.2 .3,7.6 .3,11.3 .2,12 .2,9.4 .3,3.9 .3-1.9 .2-4.1 .2-4.2 .3-1.9 .3,1.3 .2,3 .2,3.7 .3,3.2 .3,1.7 .2-.1 .2-.6 .3-1 .3-1.3 .2-1.6 .2-1.9 .3-2.1 .3-2.2 .2-4.5 .2-7.1 .3-8.3 .3-8 .2-6.3 .2-3 .3,1.2 .3,4.7 .2,7.1 .2,8.4 .3,8.6 .3,7.7 .2,5.8 .2,2.8 .3,0 .3-.1 .2-.2 .2-.3 .3-.3 .3-.3 .2-.4 .2-.4 .3-.6 .3-.6 .2-.8 .2-.8 .3-1 .3-1 .2-1.1 .2-1.1" stroke="#f0182a" stroke-width="1.12" fill="none" stroke-linejoin="round" stroke-opacity="1.00"/>
</g>
<path d="M351.50,105.20v-1.7M351.50,5.60v1.7M446.95,105.20v-1.7M446.95,5.60v1.7M542.40,105.20v-1.7M542.40,5.60v1.7M351.50,5.60h1.7M542.40,5.60h-1.7M351.50,38.80h1.7M542.40,38.80h-1.7M351.50,72.00h1.7M542.40,72.00h-1.7M351.50,105.20h1.7M542.40,105.20h-1.7" stroke="#444" stroke-width="0.9" fill="none"/>
<text x="344.6" y="10.7" text-anchor="end" class="tk">0.4</text>
<text x="344.6" y="43.9" text-anchor="end" class="tk">0.2</text>
<text x="344.6" y="77.1" text-anchor="end" class="tk">0</text>
<text x="344.6" y="110.3" text-anchor="end" class="tk">–0.2</text>
<text x="351.5" y="118.5" text-anchor="middle" class="tk">0</text>
<text x="446.1" y="118.5" text-anchor="middle" class="tk">0.1</text>
<text x="541.5" y="118.5" text-anchor="middle" class="tk">0.2</text>
<path d="M351.50,229.70v-1.7M351.50,131.00v1.7M446.95,229.70v-1.7M446.95,131.00v1.7M542.40,229.70v-1.7M542.40,131.00v1.7M351.50,131.00h1.7M542.40,131.00h-1.7M351.50,166.25h1.7M542.40,166.25h-1.7M351.50,201.50h1.7M542.40,201.50h-1.7" stroke="#444" stroke-width="0.9" fill="none"/>
<text x="344.6" y="136.0" text-anchor="end" class="tk">1</text>
<text x="344.6" y="171.2" text-anchor="end" class="tk">0.5</text>
<text x="344.6" y="206.5" text-anchor="end" class="tk">0</text>
<text x="351.5" y="243.0" text-anchor="middle" class="tk">0</text>
<text x="446.1" y="243.0" text-anchor="middle" class="tk">0.1</text>
<text x="541.5" y="243.0" text-anchor="middle" class="tk">0.2</text>
<path d="M351.50,351.80v-1.7M351.50,252.60v1.7M446.95,351.80v-1.7M446.95,252.60v1.7M542.40,351.80v-1.7M542.40,252.60v1.7M351.50,252.60h1.7M542.40,252.60h-1.7M351.50,272.44h1.7M542.40,272.44h-1.7M351.50,292.28h1.7M542.40,292.28h-1.7M351.50,312.12h1.7M542.40,312.12h-1.7M351.50,331.96h1.7M542.40,331.96h-1.7M351.50,351.80h1.7M542.40,351.80h-1.7" stroke="#444" stroke-width="0.9" fill="none"/>
<text x="344.6" y="257.4" text-anchor="end" class="tk">0.8</text>
<text x="344.6" y="277.2" text-anchor="end" class="tk">0.6</text>
<text x="344.6" y="297.1" text-anchor="end" class="tk">0.4</text>
<text x="344.6" y="316.9" text-anchor="end" class="tk">0.2</text>
<text x="344.6" y="336.8" text-anchor="end" class="tk">0</text>
<text x="344.6" y="356.6" text-anchor="end" class="tk">–0.2</text>
<text x="351.5" y="365.1" text-anchor="middle" class="tk">0</text>
<text x="446.1" y="365.1" text-anchor="middle" class="tk">0.1</text>
<text x="541.5" y="365.1" text-anchor="middle" class="tk">0.2</text>
<path d="M351.50,478.40v-1.7M351.50,378.80v1.7M446.95,478.40v-1.7M446.95,378.80v1.7M542.40,478.40v-1.7M542.40,378.80v1.7M351.50,378.80h1.7M542.40,378.80h-1.7M351.50,412.00h1.7M542.40,412.00h-1.7M351.50,445.20h1.7M542.40,445.20h-1.7M351.50,478.40h1.7M542.40,478.40h-1.7" stroke="#444" stroke-width="0.9" fill="none"/>
<text x="344.6" y="383.8" text-anchor="end" class="tk">0.8</text>
<text x="344.6" y="417.0" text-anchor="end" class="tk">0.4</text>
<text x="344.6" y="450.2" text-anchor="end" class="tk">0</text>
<text x="344.6" y="483.4" text-anchor="end" class="tk">–0.4</text>
<text x="349.2" y="492.8" text-anchor="middle" class="tk">0</text>
<text x="444.6" y="492.8" text-anchor="middle" class="tk">0.25</text>
<text x="540.1" y="492.8" text-anchor="middle" class="tk">0.5</text>
<clipPath id="cp31"><rect x="630.50" y="5.60" width="149.20" height="99.60"/></clipPath>
<g clip-path="url(#cp31)">
<path d="M654,52.5l1.4-5.1 2.4-2.4 1.8-1 1.4-.5 1.2-.3 1.1-.2 1-.2 .9-.1 .9-.1 .7-.1 .8-.1 .7,0 .6-.1 .7,0 .7,0 .6,0 .6,0 .7,.1 .7,0 .6,.1 .7,0 .7,.1 .6,.1 .6,.1 .6,.1 .6,.1 .6,0 .6,.1 .5,.1 .6,.1 .5,.1 .5,.1 .5,.1 .5,.1 .4,.1 .2,.1 .2,0 .1,.1 0,.2-.2,.2-.1,.2-.1,.1 .1,0 .2-.3 .1-.4 .3-.6 .3-.7 .3-.8 .5-1 .6-.9 .6-.8 .7-.8 .7-.8 .7-.7 .8-.6 .8-.6 .9-.5 .9-.5 .9-.4 .9-.3 .9-.3 .9-.2 .9-.2 .9-.1 .9-.1 .9-.1 .9,0 .8,0 .9,.1 .8,.1 .8,.1 .9,.2 .8,.2 .8,.2 .8,.3 .7,.3 .8,.2 .7,.4 .8,.3 .7,.3 .7,.4 .7,.4 .7,.3 .7,.4 .6,.4 .7,.5 .6,.4 .7,.4 .6,.4 .6,.5 .6,.4 .6,.5 .6,.5 .5,.4 .6,.5 .6,.5 .5,.4 .6,.5 .5,.5 .5,.5 .6,.6 .5,.5 .5,.5 .5,.6 .5,.5 .5,.6 .5,.6 .5,.6 .5,.6 .4,.6 .5,.6 .4,.6 .4,.7 .4,.6 .4,.6 .4,.7 .4,.7 .3,.6 .3,.7 .4,.6 .3,.7 .3,.7 .3,.6 .2,.7 .3,.7 .3,.6 .2,.7 .3,.7 .2,.6 .2,.7 .3,.8 .2,.7 .2,.8 .2,.9 .2,.9 .1,.9 .1,1 .1,1.1-.1,1 0,1.1-.2,1.2-.2,1.1-.3,1.2-.4,1.1-.5,1.2-.5,1.1-.7,1-.8,1.1-.8,1-1,1-1.1,.9-1.3,.9-1.4,.7-1.5,.6-1.6,.3-1.4,.1-1.4,0-1.2-.1-1.1-.2-1-.2-1-.3-.8-.3-.8-.3-.8-.3-.7-.3-.7-.2-.6-.3-.7-.2-.7-.3-.6-.2-.7-.3-.6-.3-.6-.2-.6-.3-.7-.2-.6-.3-.6-.2-.6-.3-.6-.3-.5-.3-.6-.3-.6-.3-.5-.3-.6-.3-.6-.3-.5-.4-.5-.3-.6-.3-.5-.3-.6-.4-.5-.3-.5-.3-.6-.3-.5-.3-.5-.4-.5-.3-.6-.3-.5-.3-.5-.2-.5-.3-.6-.3-.5-.3-.5-.2-.6-.3-.5-.2-.6-.3-.5-.2-.6-.3-.5-.2-.6-.3-.6-.2-.5-.2-.6-.3-.6-.2-.6-.3-.5-.2-.6-.3-.6-.2-.6-.3-.6-.3-.6-.2-.6-.3-.5-.3-.6-.3-.6-.3-.6-.2-.5-.3-.6-.3-.5-.3-.6-.2-.5-.3-.6-.3-.5-.2-.5-.3-.5-.2-.5-.3-.5-.2-.5-.2-.5-.2-.5-.2-.4-.2-.5-.2-.5-.3-.5-.2-.6-.2-.5-.2-.7-.3-.6-.3-.6-.3-.7-.3-.7-.3-.8-.4-.7-.4-.8-.4-.9-.5-.9-.6-1-.7-1.1-.9-1.4-1.7Z M667.9,48.4l-.7-.9-.2-.1 .1,.1 .4,.3 .5,.3 .5,.3 .5,.3 .5,.3 .5,.2 .4,.2 .5,.3 .5,.2 .4,.2 .5,.2 .5,.2 .5,.2 .6,.3 .6,.2 .5,.3 .6,.2 .6,.3 .6,.3 .6,.3 .6,.2 .5,.3 .6,.3 .6,.3 .6,.3 .5,.3 .6,.3 .6,.3 .5,.3 .6,.3 .6,.4 .5,.3 .6,.3 .5,.3 .5,.3 .6,.3 .5,.3 .5,.3 .6,.3 .5,.3 .5,.3 .5,.3 .6,.3 .5,.3 .6,.3 .5,.3 .5,.3 .6,.3 .5,.3 .6,.3 .5,.3 .6,.3 .5,.3 .6,.3 .5,.2 .6,.3 .6,.3 .5,.3 .6,.3 .6,.3 .6,.2 .5,.3 .6,.3 .6,.2 .5,.3 .6,.3 .5,.2 .6,.3 .6,.2 .5,.3 .5,.2 .6,.3 .5,.2 .5,.3 .6,.2 .5,.3 .5,.2 .5,.3 .5,.2 .5,.2 .5,.3 .5,.2 .5,.3 .4,.2 .5,.2 .5,.2 .6,.2 .5,.2 .5,.2 .5,.1 .6,.2 .5,.1 .5,.1 .5,.1 .4,0 .4,0 .2-.1 .2-.1 0-.1-.1-.1-.3,0-.4,0-.5,.1-.4,.1-.4,.1-.2,0-.1,0-.1,0-.1-.1-.1-.1 0-.1 0-.1-.1-.1 0-.1-.1-.1 0-.2 0-.1 0-.3 0-.2-.1-.3 0-.3 0-.4-.1-.4-.1-.4-.1-.5-.1-.5-.1-.6-.2-.5-.1-.5-.1-.6-.1-.5-.2-.5-.1-.5-.1-.5-.2-.4-.1-.5-.2-.5-.1-.5-.2-.4-.1-.5-.2-.4-.1-.5-.2-.4-.2-.5-.2-.4-.2-.4-.2-.5-.2-.4-.2-.5-.2-.4-.2-.4-.3-.5-.2-.4-.3-.4-.3-.5-.2-.4-.3-.4-.3-.4-.4-.4-.3-.5-.3-.4-.3-.3-.4-.4-.3-.4-.4-.4-.3-.3-.4-.3-.3-.3-.4-.3-.4-.3-.3-.3-.4-.2-.4-.3-.4-.2-.4-.2-.4-.2-.3-.2-.4-.1-.4-.2-.5-.1-.4-.1-.4-.1-.4-.1-.4-.1-.3-.1-.4,0-.4-.1-.4,0-.4-.1-.4,0-.3,0-.4,0-.3,0-.3,0-.3,0-.3,0-.2,0-.3,.1-.2,0-.3,.1-.2,.1-.2,.1-.2,.1-.2,.1-.2,.1-.1,.2-.2,.2-.2,.3-.2,.5-.3,.6-.4,.7-.4,.8-.5,1-.8,1-1,1-1.1,.9-1,.7-1.1,.5-1,.4-1,.4-1,.3-.8,.2-.9,.2-.8,.1-.7,.2-.8,.1-.7,.1-.7,.1-.6,0-.7,.1-.6,.1-.5,0-.6,.1-.5,.1-.4,0-.4,.1-.5,.1-.4,.1-.5,.1-.5,.1-.6,.1-.5,.1-.7,.1-.6,0-.8,.1-.7,.1-.8,0-.7,.1-.6,0-.5,0-.2,0 .2-.2 .9-.5 1.9-1.9 1.2-4.5Z" fill="#bfcbf4" fill-rule="nonzero" stroke="#bfcbf4" stroke-width="0.8"/>
<g fill="#bfcbf4"><circle cx="718.6" cy="71.6" r="1.1"/><circle cx="712.8" cy="59.4" r="1.0"/><circle cx="681.5" cy="57.0" r="1.1"/><circle cx="687.6" cy="37.4" r="1.0"/><circle cx="718.6" cy="70.8" r="0.9"/><circle cx="716.5" cy="69.7" r="0.7"/><circle cx="661.1" cy="61.6" r="0.8"/><circle cx="709.6" cy="52.5" r="1.1"/><circle cx="679.0" cy="42.4" r="0.8"/><circle cx="679.6" cy="44.1" r="1.1"/><circle cx="733.6" cy="72.5" r="1.1"/><circle cx="674.2" cy="68.6" r="1.2"/><circle cx="733.1" cy="69.4" r="1.1"/><circle cx="715.4" cy="40.1" r="1.2"/><circle cx="715.5" cy="71.3" r="0.8"/><circle cx="657.3" cy="44.3" r="0.7"/><circle cx="661.2" cy="44.4" r="1.1"/><circle cx="686.1" cy="56.5" r="0.9"/><circle cx="672.8" cy="40.4" r="1.1"/><circle cx="686.1" cy="58.0" r="1.1"/><circle cx="713.8" cy="71.0" r="1.2"/><circle cx="721.0" cy="45.7" r="0.8"/><circle cx="693.4" cy="77.2" r="0.8"/><circle cx="694.1" cy="62.5" r="1.0"/><circle cx="684.8" cy="56.3" r="0.7"/><circle cx="715.8" cy="67.5" r="1.0"/><circle cx="735.8" cy="69.2" r="1.0"/><circle cx="717.8" cy="86.4" r="0.9"/><circle cx="708.9" cy="35.8" r="0.7"/><circle cx="712.9" cy="64.0" r="1.1"/><circle cx="727.9" cy="82.8" r="0.7"/><circle cx="681.1" cy="43.0" r="1.0"/><circle cx="677.7" cy="56.5" r="1.1"/><circle cx="671.2" cy="50.3" r="0.8"/><circle cx="675.6" cy="70.0" r="1.1"/><circle cx="661.2" cy="44.4" r="0.8"/><circle cx="676.4" cy="56.9" r="0.9"/><circle cx="664.3" cy="42.8" r="1.1"/><circle cx="690.8" cy="75.9" r="1.1"/><circle cx="713.9" cy="61.0" r="1.2"/><circle cx="697.7" cy="45.4" r="1.1"/><circle cx="693.5" cy="46.4" r="0.7"/><circle cx="695.1" cy="78.0" r="1.1"/><circle cx="680.9" cy="72.4" r="1.1"/><circle cx="688.5" cy="35.2" r="1.2"/><circle cx="677.0" cy="67.3" r="0.9"/><circle cx="699.2" cy="46.3" r="0.8"/><circle cx="708.5" cy="34.8" r="1.1"/><circle cx="682.9" cy="72.7" r="0.8"/><circle cx="675.5" cy="40.5" r="0.9"/><circle cx="688.0" cy="53.4" r="1.1"/><circle cx="735.6" cy="75.2" r="0.8"/><circle cx="704.0" cy="65.3" r="0.8"/><circle cx="720.9" cy="42.9" r="0.9"/><circle cx="688.6" cy="35.2" r="1.1"/><circle cx="657.2" cy="59.7" r="1.2"/><circle cx="668.9" cy="51.5" r="0.8"/><circle cx="710.5" cy="53.1" r="0.8"/><circle cx="683.2" cy="42.8" r="1.1"/><circle cx="717.6" cy="73.1" r="0.8"/><circle cx="693.0" cy="32.5" r="1.0"/><circle cx="664.4" cy="62.3" r="0.9"/><circle cx="700.7" cy="82.4" r="1.1"/><circle cx="671.3" cy="66.5" r="0.8"/><circle cx="705.6" cy="50.3" r="1.0"/><circle cx="684.2" cy="56.3" r="1.0"/><circle cx="695.2" cy="79.0" r="0.7"/><circle cx="728.0" cy="50.0" r="0.7"/><circle cx="711.0" cy="70.6" r="0.8"/><circle cx="735.3" cy="68.2" r="0.7"/></g>
<path d="M681.8,47.3l0,.1 0-.1 0-.1-.1-.1 0-.2-.1-.2-.1-.3-.1-.2-.1-.3-.1-.3-.2-.3-.2-.4-.1-.3-.2-.3-.2-.4-.2-.4-.2-.3-.2-.4-.2-.4-.2-.4-.2-.4-.1-.4-.2-.4-.1-.4-.1-.5-.1-.4-.1-.4-.1-.4 0-.4-.1-.4 0-.5 0-.4 0-.4 0-.5 .1-.4 0-.4 .1-.4 .1-.5 .1-.4 .1-.5 .2-.5 .2-.6 .3-.6 .4-.5 .6-.6 .7-.4 .8-.3 .7-.1 .7,0 .7,.1 .6,.1 .6,.2 .6,.3 .5,.3 .5,.3 .5,.4 .4,.4 .4,.4 .3,.5 .3,.4 .2,.4 .3,.5 .2,.4 .1,.3 .2,.4 .2,.3 .1,.3 .1,.3 .2,.3 .1,.3 .2,.3 .1,.2 .2,.3 .1,.3 .2,.3 .2,.3 .1,.2 .2,.3 .1,.3 .2,.3 .2,.3 .1,.2 .2,.3 .2,.3 .1,.3 .2,.3 .2,.3 .1,.3 .2,.3 .2,.3 .1,.3 .2,.3 .2,.3 .1,.3 .2,.3 .2,.3 .1,.4 .2,.3 .2,.3 .1,.4 .2,.3 .1,.4 .2,.3 .1,.4 .1,.3 .2,.4 .1,.4 .1,.4 .2,.4 .1,.4 .1,.4 .1,.4 .1,.4 .1,.4 .1,.4 0,.5 .1,.4 .1,.5 0,.5 .1,.5 0,.5 0,.5 0,.5-.1,.6 0,.5-.1,.6-.2,.6-.2,.6-.2,.5-.3,.6-.4,.6-.4,.6-.4,.5-.5,.5-.5,.4-.5,.3-.6,.3-.5,.3-.5,.2-.6,.2-.5,.2-.5,.1-.5,.1-.6,.1-.5,0-.5,.1-.5,0-.6,0-.4,0-.5-.1-.5,0-.5-.1-.4-.1-.5-.1-.4-.1-.4-.1-.4-.1-.4-.1-.4-.1-.4-.1-.4-.2-.3-.1-.3-.1-.4-.2-.3-.1-.3-.1-.3-.1-.3-.1-.3-.1-.3-.1-.3-.1-.2-.1-.3-.1-.3-.1-.3-.1-.3-.1-.3-.1-.2-.1-.3-.1-.3-.1-.3-.1-.3-.1-.4-.1-.3-.1-.3-.1-.4-.2-.3-.1-.4-.1-.3-.1-.4-.1-.4-.2-.4-.1-.4-.1-.5-.2-.4-.1-.5-.2-.4-.1-.5-.2-.4-.2-.5-.2-.4-.2-.4-.2-.4-.2-.5-.3-.5-.5-.6-.7-.4-1.2 0-1.5 .6-1.1 .6-.6 .5-.4 .5-.2 .4-.2 .4-.2 .5-.1 .4-.2 .5-.1 .5-.1 .5-.1 .4-.1 .5-.1 .5-.1 .5-.1 .5-.1 .4,0 .5-.1 .4,0 .4-.1 .4,0 .4-.1 .3,0 .4,0 .3-.1 .3,0 .3,0 .3,0 .2-.1 .3,0 .3,0 .3-.1 .2,0 .3-.1 .3-.1 .2,0 .3-.1 .3-.1 .3-.1 .3-.1 .2-.2 .3-.1 .2-.1 .1-.1 .2-.1 .1-.1 .1-.1Z M685.9,50.2l-.3,.4-.4,.4-.4,.4-.4,.3-.4,.3-.4,.3-.5,.2-.4,.2-.4,.2-.4,.2-.4,.1-.4,.2-.4,.1-.4,.1-.4,.2-.4,.1-.4,0-.3,.1-.4,.1-.3,.1-.4,0-.3,.1-.4,0-.3,.1-.3,.1-.4,0-.3,.1-.4,0-.3,.1-.4,0-.4,.1-.4,.1-.4,.1-.4,0-.4,.1-.4,.1-.4,.1-.4,.1-.4,.1-.3,.1-.3,.1-.2,.1-.2,.1-.1,.1 .1,0 .1-.1 .4-.4 .4-.8 .1-1.2-.4-1-.3-.4-.2-.2 0-.1 0,.1 .2,0 .3,.1 .3,0 .3,.1 .4,.1 .4,.1 .4,.1 .4,.1 .4,.1 .5,.1 .4,.1 .4,.1 .4,.1 .4,.1 .4,0 .4,.1 .3,.1 .4,.1 .4,.1 .3,.1 .3,.1 .4,.1 .3,.1 .3,.1 .3,.1 .4,.1 .3,.1 .3,.1 .3,.1 .3,.1 .3,.1 .3,.1 .3,.1 .3,.1 .3,.1 .4,.1 .3,.1 .3,.1 .3,.1 .3,.1 .2,.1 .3,.1 .3,.1 .3,.1 .3,0 .2,.1 .3,0 .2,.1 .3,0 .2,0 .3,0 .2,.1 .2,0 .2-.1 .3,0 .2,0 .2,0 .2-.1 .2,0 .2-.1 .2,0 .1-.1 .2-.1 .1-.1 .1,0 0-.1 .1,0-.1,0-.1,0 0-.1 0-.1 0-.2 0-.1 0-.2 0-.2 0-.3-.1-.2 0-.3-.1-.3 0-.3-.1-.2 0-.3-.1-.3-.1-.3 0-.3-.1-.3-.1-.3-.1-.3-.1-.2 0-.3-.1-.3-.1-.3-.1-.2-.1-.3-.1-.3-.1-.3-.1-.3-.1-.3-.1-.2-.1-.3-.2-.3-.1-.3-.1-.3-.1-.3-.1-.3-.1-.3-.2-.3-.1-.3-.1-.3-.1-.4-.2-.3-.1-.3-.1-.3-.1-.4-.2-.3-.1-.3-.1-.4-.1-.3-.2-.4-.1-.3-.1-.4-.1-.4-.1-.3-.1-.4-.1-.4-.1-.4-.1-.3-.1-.4-.1-.4 0-.4-.1-.3 0-.3-.1-.3 0-.3-.1-.2 0-.2-.1-.2 0-.1 0-.2-.1-.1 0-.1-.1-.1-.1-.1-.1-.1-.1,0-.1-.1-.1,0 .1-.1 .2,0 .2-.2 .1-.1 0-.1 0,.1 0,.1-.1,.2-.1,.3 0,.3-.1,.3 0,.3 0,.3-.1,.3 0,.2 0,.3 0,.3 0,.2 .1,.3 0,.2 0,.2 .1,.3 0,.2 .1,.3 .1,.2 .1,.3 .1,.3 .1,.2 .1,.3 .2,.3 .1,.3 .2,.3 .2,.4 .2,.3 .2,.4 .2,.3 .2,.4 .2,.4 .2,.4 .2,.4 .2,.4 .1,.4 .2,.4 .1,.5 .1,.5 .1,.5 0,.5 0,.5-.1,.6-.1,.6-.3,.6Z" fill="#bfcbf4" fill-rule="nonzero" stroke="#bfcbf4" stroke-width="0.8"/>
<path d="M664,51.8l-.3,1.3-.5,.5 0,.1 .3-.1 .6,0 .6,0 .8-.1 .8,0 .8,0 .8,0 .7-.1 .7,0 .6-.1 .6,0 .6-.1 .6,0 .5-.1 .5,0 .5-.1 .5,0 .5,0 .6,0 .5,0 .6,0 .6,0 .6,0 .7,.1 .6,0 .7,0 .7,0 .7-.1 .7,0 .8-.1 .7-.1 .8-.1 .8-.2 .9-.2 .8-.3 .9-.5 .8-.5 .8-.7 .6-.8 .5-.7 .5-.7 .3-.6 .3-.6 .3-.5 .3-.4 .3-.3 .2-.2 .3-.3 .3-.2 .3-.2 .3-.2 .3-.2 .4-.1 .3-.1 .4-.1 .4-.1 .4-.1 .4,0 .4,0 .4,0 .4,0 .5,0 .4,0 .5,.1 .4,0 .5,.1 .5,.1 .4,0 .5,.1 .4,.1 .5,.2 .5,.1 .4,.1 .5,.2 .4,.2 .5,.2 .4,.2 .5,.2 .4,.3 .4,.2 .4,.3 .4,.3 .5,.3 .4,.4 .4,.3 .3,.4 .4,.3 .4,.4 .4,.4 .3,.4 .4,.4 .3,.4 .4,.4 .3,.5 .3,.4 .4,.5 .3,.4 .3,.4 .3,.5 .2,.5 .3,.4 .3,.5 .2,.4 .3,.5 .2,.5 .3,.4 .2,.5 .2,.4 .2,.5 .2,.5 .2,.5 .2,.4 .2,.5 .2,.5 .1,.5 .2,.5 .2,.5 .2,.5 .1,.5 .2,.5 .1,.5 .2,.6 .1,.5 .2,.6 .1,.5 .2,.6 .1,.5 .2,.5 .1,.5 .1,.5 .1,.4 .1,.4 0,.4 .1,.3 .1,.4 0,.3 .1,.3 0,.2 .1,.3 0,.3 0,.3 .1,.3 0,.3 0,.3 0,.3 0,.3 0,.3 0,.2 .1,.1 0,.2 .1,.1 0,.1-.1,.1-.2,0-.3,.1-.4,0-.4,0-.5-.1-.5-.1-.5-.2-.6-.1-.6-.2-.5-.2-.6-.2-.5-.2-.6-.2-.5-.2-.5-.2-.6-.2-.5-.3-.5-.2-.5-.2-.6-.3-.5-.2-.5-.2-.5-.3-.6-.2-.5-.3-.5-.2-.6-.3-.5-.2-.6-.3-.5-.2-.6-.3-.5-.3-.6-.2-.5-.3-.6-.3-.6-.2-.5-.3-.6-.3-.5-.2-.6-.3-.6-.3-.5-.2-.6-.3-.6-.3-.5-.3-.6-.2-.6-.3-.5-.3-.6-.3-.5-.2-.6-.3-.5-.3-.6-.3-.5-.2-.6-.3-.5-.3-.6-.3-.5-.3-.6-.2-.5-.3-.6-.3-.5-.3-.6-.2-.5-.3-.6-.3-.5-.3-.6-.3-.6-.2-.5-.3-.6-.3-.6-.3-.5-.3-.6-.2-.6-.3-.5-.3-.6-.3-.6-.2-.6-.3-.5-.3-.6-.2-.6-.3-.5-.2-.6-.2-.6-.3-.5-.2-.6-.2-.5-.2-.5-.2-.6-.2-.5-.2-.5-.2-.5-.2-.6-.2-.5-.3-.6-.2-.6-.2-.6-.3-.6-.3-.6-.3-.6-.3-.5-.3-.3-.2 .1,.1Z M659.5,53.7l.6,.8 .7,.7 .7,.5 .7,.6 .7,.5 .6,.4 .7,.4 .6,.4 .7,.4 .6,.3 .6,.3 .5,.3 .6,.3 .5,.2 .5,.3 .6,.2 .5,.2 .5,.3 .5,.2 .4,.2 .5,.3 .5,.2 .6,.3 .5,.3 .5,.3 .5,.2 .6,.3 .5,.3 .5,.3 .6,.3 .5,.3 .6,.3 .5,.3 .6,.3 .5,.3 .6,.3 .6,.3 .5,.3 .6,.3 .6,.3 .5,.3 .6,.3 .6,.3 .5,.2 .6,.3 .5,.3 .6,.2 .6,.3 .5,.3 .6,.2 .5,.3 .6,.3 .5,.2 .6,.3 .5,.3 .5,.3 .6,.2 .5,.3 .5,.3 .6,.3 .5,.3 .5,.3 .6,.3 .5,.3 .5,.3 .6,.3 .5,.3 .5,.4 .6,.3 .5,.3 .5,.3 .6,.4 .5,.3 .5,.3 .6,.3 .5,.3 .6,.3 .5,.3 .6,.3 .6,.3 .5,.3 .6,.3 .6,.2 .5,.3 .6,.3 .6,.2 .6,.3 .6,.2 .6,.3 .7,.2 .6,.2 .6,.3 .7,.2 .6,.2 .7,.2 .7,.2 .8,.3 .7,.2 .9,.2 .8,.1 .9,.1 1,.1 1,0 1-.1 1.1-.2 1.2-.4 1-.5 1-.6 .9-.6 .8-.8 .8-.7 .7-.8 .6-.9 .5-.9 .5-.9 .4-1 .3-.9 .3-1 .2-1 .1-.9 0-1 0-.9-.1-.9-.1-.8-.1-.8-.1-.8-.2-.8-.2-.7-.2-.7-.2-.7-.2-.6-.2-.7-.3-.6-.2-.7-.2-.6-.3-.7-.2-.6-.3-.7-.3-.6-.3-.6-.3-.7-.3-.6-.4-.6-.3-.7-.4-.6-.3-.6-.4-.6-.4-.6-.4-.6-.5-.6-.4-.6-.4-.5-.5-.6-.5-.5-.4-.6-.5-.5-.5-.5-.5-.5-.5-.5-.5-.5-.5-.5-.5-.5-.6-.4-.5-.5-.5-.4-.6-.5-.5-.4-.6-.5-.6-.4-.6-.4-.5-.4-.6-.4-.7-.4-.6-.4-.6-.4-.6-.3-.7-.4-.6-.3-.7-.4-.7-.3-.6-.3-.7-.3-.7-.3-.8-.2-.7-.2-.7-.3-.8-.1-.7-.2-.8-.1-.8-.1-.7-.1-.8,0-.8,0-.8,.1-.8,.1-.8,.1-.9,.2-.8,.2-.8,.2-.8,.3-.8,.4-.7,.4-.8,.5-.7,.5-.7,.5-.6,.6-.7,.7-.5,.7-.5,.7-.5,.8-.4,.8-.3,.8-.2,.6-.2,.6-.2,.6-.1,.4-.1,.3-.1,.1-.1,.1-.1,.1-.2,.2-.3,.1-.4,.1-.4,.1-.5,0-.6,.1-.5,0-.6,0-.6,0-.6,.1-.6,0-.7,0-.6,0-.6-.1-.6,0-.6,0-.6,0-.6,0-.6,0-.6,0-.6,0-.6,0-.6,0-.6,.1-.6,0-.6,.1-.7,0-.7,.1-.7,.1-.8,.1-.8,.2-.9,.1-.8,.2-.9,.2-.9,.3-.8,.3-.9,.5-1,1-.5,1.9Z" fill="#f30010" fill-rule="nonzero"/>
<path d="M658.8,52.2l.5-2.1 1.1-1.1 .9-.4 .9-.3 .9-.3 .8-.1 .9-.2 .9-.1 .8,0 .8-.1 .7,0 .7,0 .7-.1 .6,0 .7,0 .6,0 .5,0 .6-.1 .6,0 .6-.1 .6,0 .6,0 .6,.1 .6,0 .6,.1 .6,.1 .6,.1 .6,0 .7,0 .6-.1 .6-.1 .6-.3 .5-.3 .5-.2 .5-.3 .4-.2 .3-.1 .3,0 .1,0 .2,0 .1,.1 .2-.1 .2-.2 .2-.4 0-.6 .1-.6 .1-.8 .1-.8 .4-.9 .4-.9 .6-.7 .7-.7 .8-.5 .7-.5 .9-.4 .8-.3 .7-.3 .8-.4 .8-.4 .7-.4 .7-.5 .8-.4 .8-.4 .8-.3 .8-.3 .9-.2 .8-.1 .8,0 .8,.1 .8,.2 .8,.3 .8,.3 .7,.4 .7,.3 .7,.3 .7,.3 .7,.3 .7,.3 .7,.3 .7,.3 .7,.3 .7,.3 .6,.3 .7,.4 .6,.4 .5,.5 .6,.4 .5,.5 .6,.5 .5,.4 .6,.5 .6,.4 .6,.3 .7,.3 .7,.3 .8,.2 .7,.4 .6,.3 .6,.5 .5,.5 .5,.5 .4,.6 .4,.6 .4,.7 .3,.6 .3,.7 .4,.6 .3,.7 .4,.6 .4,.5 .5,.6 .5,.6 .4,.6 .4,.6 .4,.6 .3,.6 .2,.7 .2,.7 .2,.7 .2,.7 .3,.6 .3,.6 .4,.6 .5,.6 .5,.6 .6,.5 .5,.6 .5,.6 .3,.6 .3,.7 .1,.7 0,.8-.1,.9-.2,.8-.2,.9-.2,.9-.3,1-.2,.9-.3,.9-.1,.9-.2,.9-.1,.9-.2,1-.2,1-.2,1-.3,1-.4,1-.6,.9-.7,.9-.9,.7-1,.6-1.1,.6-1.2,.4-1.2,.3-1.1,.2-1.1,0-1,.1-1-.1-.9,0-.9-.1-.8-.2-.8-.1-.8-.3-.7-.2-.6-.4-.6-.4-.6-.4-.6-.4-.5-.5-.6-.4-.5-.3-.6-.3-.6-.2-.6-.2-.7-.1-.6-.1-.7-.2-.6-.1-.6-.2-.6-.2-.6-.3-.5-.2-.6-.3-.5-.4-.5-.4-.5-.4-.5-.4-.5-.4-.5-.4-.5-.3-.5-.4-.6-.3-.5-.4-.5-.3-.5-.3-.6-.3-.5-.2-.6-.3-.6-.2-.6-.1-.6-.2-.6-.1-.6-.2-.5-.2-.6-.3-.5-.4-.4-.4-.5-.5-.4-.5-.5-.4-.5-.4-.5-.4-.5-.3-.6-.3-.5-.3-.6-.2-.6-.2-.7-.1-.6-.1-.7-.1-.7,0-.7-.1-.6-.2-.6-.2-.6-.2-.6-.3-.5-.4-.5-.4-.5-.4-.5-.4-.5-.3-.5-.4-.5-.3-.6-.2-.5-.3-.5-.2-.5-.3-.5-.3-.5-.3-.4-.3-.5-.3-.5-.3-.5-.2-.6-.1-.6,0-.6-.1-.7,0-.6-.1-.7-.2-.7-.2-.7-.3-.6-.4-.6-.6-.7-.5-.6-.7-.7-.6-.6-.7-.7-.7-.6-1.1Z M660.2,52.1l.3-1.2 .6-.6 .7-.4 .7-.2 .8-.3 .8-.2 .9-.3 .8-.2 .8-.1 .8-.1 .7,0 .7,0 .7,0 .6,0 .6,0 .6,0 .6-.1 .6,0 .6,0 .5-.1 .6,.1 .6,0 .6,.2 .6,.1 .6,.1 .6,.1 .6,0 .6,0 .7-.1 .6-.2 .6-.2 .6-.2 .6-.2 .6-.2 .6,0 .5,0 .5-.1 .4,0 .5,0 .3-.1 .3-.2 .3-.4 .2-.4 .2-.5 .1-.6 .2-.6 .2-.7 .3-.6 .3-.7 .4-.7 .4-.7 .4-.6 .5-.7 .5-.6 .6-.6 .6-.5 .7-.4 .7-.3 .8-.2 .8-.1 .7,0 .8,.1 .7,0 .7-.1 .8,0 .7-.1 .7,0 .7,0 .7,.1 .7,0 .7,.1 .7,0 .6,.2 .7,.1 .7,.2 .7,.1 .7,.1 .8,0 .7,.1 .7,.2 .7,.2 .6,.3 .6,.4 .6,.4 .6,.4 .5,.5 .5,.5 .5,.4 .5,.5 .5,.5 .5,.4 .5,.5 .4,.5 .5,.5 .4,.5 .5,.5 .5,.4 .4,.5 .5,.5 .5,.4 .5,.5 .6,.4 .5,.4 .6,.4 .5,.5 .5,.4 .5,.5 .5,.6 .4,.5 .4,.6 .3,.6 .4,.6 .3,.6 .3,.6 .3,.6 .3,.6 .3,.6 .3,.7 .2,.6 .2,.7 .1,.6 .1,.7 .2,.6 .1,.7 .2,.6 .3,.6 .3,.6 .3,.6 .4,.6 .4,.6 .3,.6 .2,.7 .2,.7 .1,.8 0,.7-.1,.8-.2,.8-.1,.8-.2,.8-.1,.8-.2,.8-.1,.9-.2,.8-.2,.8-.2,.9-.3,.8-.4,.9-.4,.7-.6,.8-.7,.6-.8,.6-.8,.5-.9,.3-1,.3-1,0-.8,.1-.9-.1-.8,0-.8-.1-.7-.1-.8-.2-.7-.2-.7-.2-.7-.2-.6-.2-.6-.3-.7-.2-.6-.2-.7-.1-.6-.1-.6-.2-.7-.2-.5-.2-.6-.3-.5-.4-.6-.3-.5-.3-.6-.2-.6-.1-.7-.2-.6,0-.7-.1-.6-.2-.5-.3-.5-.4-.5-.6-.4-.5-.4-.5-.5-.5-.5-.4-.5-.3-.6-.3-.5-.2-.6-.3-.5-.3-.5-.4-.5-.4-.5-.4-.4-.4-.5-.4-.6-.3-.5-.3-.6-.1-.6-.2-.7-.1-.6-.1-.6-.1-.6-.2-.6-.2-.5-.2-.6-.3-.5-.3-.6-.3-.5-.3-.6-.3-.5-.3-.6-.2-.6-.2-.7-.1-.6-.3-.6-.2-.5-.3-.6-.3-.5-.3-.6-.3-.5-.3-.6-.3-.6-.3-.6-.2-.5-.2-.6-.3-.5-.3-.5-.3-.6-.3-.5-.3-.5-.2-.6-.3-.5-.2-.5-.2-.6-.1-.5-.2-.5-.1-.6-.2-.5-.1-.5-.2-.6-.2-.6-.2-.6-.2-.6-.3-.6-.4-.6-.4-.5-.6-.6-.6-.5-.7-.6-.7-.5-.7-.5-.7-.5-.7-.3-.6Z M660.3,52.1l.2-1.2 .6-.6 .8-.3 .7,0 .8-.1 .8,.1 .9,0 .8,0 .9-.1 .7,0 .8,0 .7-.1 .6,0 .6,0 .6-.1 .6-.1 .6-.1 .5-.2 .6-.2 .5-.2 .6-.2 .6-.1 .6-.1 .6-.1 .6,.1 .6,0 .6,.1 .6,.1 .7,0 .6,0 .6,0 .7,0 .6,0 .6,0 .6,0 .6,0 .6,0 .5-.1 .5-.2 .5-.2 .3-.3 .3-.5 .2-.5 .2-.5 .1-.6 .3-.6 .2-.6 .3-.6 .4-.6 .5-.5 .5-.5 .6-.4 .5-.4 .6-.3 .6-.3 .6-.3 .5-.2 .6-.4 .5-.3 .6-.3 .6-.3 .6-.3 .7-.2 .6-.2 .7-.1 .7-.1 .6-.1 .7,0 .7,.1 .6,.1 .7,.2 .6,.2 .6,.1 .7,.2 .6,.2 .6,.2 .6,.2 .7,.2 .6,.3 .6,.2 .5,.4 .6,.3 .5,.4 .6,.3 .5,.4 .6,.3 .5,.3 .6,.4 .5,.3 .5,.4 .5,.4 .5,.5 .5,.4 .5,.4 .4,.5 .5,.5 .4,.5 .3,.5 .4,.5 .4,.6 .3,.5 .4,.5 .3,.6 .4,.4 .5,.5 .4,.5 .5,.4 .5,.4 .5,.5 .4,.5 .5,.5 .4,.5 .3,.5 .3,.6 .2,.6 .2,.7 .1,.6 .1,.7 .2,.6 .2,.6 .3,.6 .3,.5 .3,.6 .3,.6 .2,.5 .2,.7 .2,.6 .1,.6 0,.7 0,.6 .1,.7 .2,.6 .1,.6 .2,.7 .2,.6 .1,.7 .2,.6 0,.7 0,.7 0,.7-.1,.7-.1,.7-.2,.7-.2,.7-.3,.6-.3,.7-.4,.6-.5,.6-.5,.5-.6,.4-.6,.4-.7,.2-.6,.3-.5,.2-.6,.1-.6,.2-.6,.1-.7,.1-.6,0-.7,0-.7,0-.7-.1-.7-.1-.7-.1-.6-.1-.7,0-.7,0-.7-.1-.6-.2-.6-.2-.5-.4-.6-.3-.5-.4-.5-.5-.4-.4-.5-.4-.5-.4-.5-.3-.6-.3-.5-.3-.6-.2-.5-.3-.5-.3-.6-.3-.6-.1-.7-.1-.6-.1-.7-.1-.6-.2-.6-.1-.6-.3-.6-.2-.5-.3-.5-.4-.5-.4-.5-.4-.4-.5-.5-.4-.4-.5-.5-.4-.5-.5-.5-.4-.5-.3-.5-.3-.6-.2-.6-.2-.6-.1-.6-.1-.6-.2-.6-.1-.6-.2-.6-.3-.6-.3-.5-.3-.5-.3-.6-.3-.5-.3-.5-.3-.6-.3-.6-.2-.6-.3-.6-.2-.6-.2-.6-.3-.5-.3-.5-.4-.5-.4-.5-.5-.5-.4-.5-.4-.5-.3-.5-.4-.6-.2-.6-.2-.6-.2-.6-.1-.5-.2-.6-.2-.6-.2-.5-.2-.5-.2-.6-.1-.5-.3-.5-.2-.5-.2-.5-.3-.6-.3-.5-.3-.5-.3-.6-.3-.6-.4-.5-.4-.6-.5-.5-.6-.6-.5-.5-.6-.5-.5-.4-.4-.4-.3Z M662.3,51.9l-.1,.3 .1,0 .3-.1 .5-.1 .7,0 .7-.1 .8,0 .8-.1 .8-.1 .8-.2 .7-.3 .6-.4 .7-.4 .6-.3 .5-.3 .6-.2 .6,0 .5,.1 .6,.2 .6,.2 .5,.2 .6,.1 .6,0 .6,0 .6,0 .6-.1 .6,0 .6-.1 .7,0 .6,.1 .7,0 .7,0 .6,.1 .7,0 .7,0 .7-.1 .7-.2 .6-.2 .7-.2 .5-.4 .6-.5 .4-.6 .3-.6 .2-.6 .2-.6 .1-.6 .2-.6 .3-.6 .3-.6 .3-.5 .5-.4 .4-.3 .5-.4 .6-.2 .5-.3 .5-.2 .5-.3 .5-.3 .5-.3 .5-.2 .6-.2 .6-.1 .5-.1 .6,0 .6,.1 .6,.1 .6,.2 .6,.1 .6,.2 .5,.1 .6,0 .6,0 .6,0 .6,0 .7,0 .6,0 .6,.1 .6,.2 .6,.2 .5,.3 .5,.4 .5,.3 .5,.4 .5,.3 .5,.3 .6,.3 .5,.3 .5,.3 .5,.4 .4,.5 .4,.5 .2,.6 .3,.6 .2,.6 .3,.6 .3,.6 .4,.5 .4,.4 .5,.3 .5,.4 .5,.3 .5,.4 .5,.4 .4,.4 .4,.5 .3,.5 .3,.5 .2,.6 .3,.5 .2,.6 .2,.5 .3,.6 .3,.5 .3,.5 .3,.5 .3,.5 .4,.4 .4,.5 .4,.5 .4,.5 .3,.5 .2,.6 .2,.6 .2,.6 .1,.6 0,.6 .1,.7 .1,.6 .1,.6 .1,.6 .1,.6 .1,.6 .2,.6 0,.5 .1,.6 0,.6-.1,.6-.1,.5-.2,.5-.2,.5-.1,.5-.1,.5-.1,.5 0,.5 .1,.6 0,.7 0,.6-.1,.6-.2,.6-.3,.5-.4,.3-.5,.3-.5,0-.4,.1-.5-.1-.4,0-.5-.1-.5,.1-.5,.1-.6,.2-.7,.1-.7,.1-.7,.1-.6,0-.7-.1-.6-.3-.5-.4-.5-.5-.5-.5-.5-.5-.4-.4-.5-.4-.5-.4-.5-.2-.6-.2-.6-.2-.6-.1-.5-.2-.6-.1-.6-.2-.6-.2-.6-.2-.5-.2-.6-.2-.6-.3-.5-.2-.6-.2-.6-.2-.6-.2-.6-.2-.6-.2-.6-.3-.5-.3-.5-.4-.5-.3-.5-.4-.5-.4-.6-.3-.5-.4-.5-.4-.5-.3-.5-.4-.5-.3-.5-.4-.5-.3-.6-.3-.5-.3-.6-.2-.6-.2-.6-.1-.6-.2-.6-.2-.6-.1-.6-.3-.6-.2-.6-.2-.5-.3-.6-.2-.6-.3-.5-.2-.6-.3-.6-.2-.6-.2-.6-.3-.6-.3-.5-.3-.5-.4-.5-.4-.5-.4-.5-.5-.5-.3-.5-.4-.6-.3-.5-.3-.6-.2-.6-.2-.5-.2-.6-.2-.6-.1-.6-.2-.5-.1-.6-.2-.5-.1-.6-.1-.6-.2-.5-.1-.6-.3-.5-.3-.5-.4-.4-.4-.6-.5-.5-.4-.6-.5-.6-.4-.6-.4-.6-.3-.7-.3-.5-.2-.5-.2Z M662.5,51.9l-.1,.4 .3-.1 .5-.1 .6-.2 .7-.1 .8-.1 .8,0 .8,0 .8,0 .7,0 .7,0 .7,.1 .6,0 .6,.1 .6,.1 .5,0 .6,.1 .5,0 .5,.1 .5,.1 .6,.1 .5,.1 .6,.1 .6,0 .6-.1 .7-.1 .6-.2 .7-.2 .7-.2 .6-.2 .7-.1 .7,0 .8,0 .7,.1 .8,.1 .9,0 .8-.2 .9-.3 .8-.5 .7-.7 .5-.8 .3-.8 .2-.7 .1-.7 .1-.7 .1-.6 .2-.5 .2-.5 .3-.4 .4-.4 .4-.3 .4-.3 .4-.3 .5-.1 .5-.2 .5,0 .5-.1 .5-.1 .4-.1 .5-.1 .5-.1 .5,0 .5,0 .5,0 .5,0 .5,.1 .6,.1 .5,0 .5,.1 .5,0 .6,0 .5,0 .5,.2 .5,.2 .5,.4 .4,.4 .4,.4 .4,.4 .4,.4 .4,.3 .5,.2 .5,.2 .5,.1 .5,.2 .5,.3 .4,.4 .4,.3 .4,.5 .4,.3 .4,.4 .4,.4 .4,.3 .5,.4 .4,.4 .4,.4 .3,.4 .3,.6 .2,.5 .2,.6 .2,.6 .2,.5 .3,.4 .4,.4 .3,.5 .3,.4 .4,.4 .3,.4 .4,.5 .3,.4 .4,.4 .4,.4 .4,.4 .4,.4 .4,.4 .3,.5 .2,.5 .2,.5 .2,.5 .2,.6 .2,.5 .1,.6 .2,.5 .1,.6 .2,.6 .1,.5 .2,.6 .1,.6 .2,.5 .1,.6 .2,.5 .2,.6 .2,.5 .1,.5 .2,.5 .1,.4 .1,.5-.1,.5-.1,.4-.1,.4-.3,.4-.2,.3-.2,.4-.2,.3-.1,.4 0,.4 0,.4 .1,.5 0,.4 0,.5 0,.4-.2,.3-.1,.2-.2,.1-.3,0-.3,0-.3,0-.4-.1-.4-.1-.5,0-.5-.1-.6-.1-.5-.2-.6-.1-.6-.3-.6-.2-.5-.2-.6-.2-.6-.1-.6-.1-.6-.2-.5-.2-.5-.2-.6-.3-.5-.3-.5-.2-.5-.3-.5-.2-.6-.2-.6-.2-.6-.1-.5-.2-.6-.3-.5-.3-.5-.3-.6-.3-.5-.3-.5-.3-.6-.3-.6-.2-.5-.2-.6-.3-.6-.2-.5-.3-.6-.3-.5-.3-.6-.3-.6-.2-.6-.1-.6-.2-.6-.2-.6-.2-.6-.2-.6-.3-.5-.3-.5-.4-.5-.4-.5-.4-.5-.4-.5-.3-.5-.4-.5-.4-.5-.4-.5-.3-.5-.3-.6-.3-.5-.3-.6-.2-.6-.2-.5-.3-.6-.3-.5-.3-.6-.3-.6-.2-.6-.3-.6-.2-.6-.1-.6-.2-.7-.2-.6-.2-.5-.2-.6-.4-.5-.3-.5-.4-.5-.4-.5-.3-.6-.3-.5-.3-.6-.3-.5-.2-.6-.2-.5-.2-.5-.2-.6-.2-.5-.2-.5-.2-.6-.1-.5-.2-.6-.3-.5-.2-.6-.4-.5-.3-.6-.4-.6-.4-.5-.4-.6-.4-.4-.3-.3-.2-.2,.1Z M663.9,51.8l-.2,1.4-.4,.6 .1,.2 .3,.1 .5,.1 .7,.1 .7,.1 .8-.1 .8,0 .7-.2 .8-.1 .6-.2 .7-.2 .6-.1 .5-.1 .6-.1 .5-.1 .5-.1 .5,0 .5,0 .5,0 .6,.1 .5,.2 .6,.1 .6,.2 .6,.2 .7,.1 .6,0 .7,0 .7,0 .7-.1 .8-.1 .7-.1 .8-.1 .9,0 .9-.2 .9-.3 .9-.4 .8-.6 .8-.7 .7-.9 .5-.9 .3-.8 .3-.8 .3-.6 .3-.6 .4-.5 .4-.4 .3-.2 .4-.2 .3-.2 .3-.2 .3-.1 .3-.2 .3-.2 .3-.3 .3-.1 .4-.2 .3-.2 .4-.1 .4-.1 .4,0 .4-.1 .5-.1 .4-.1 .5-.2 .5-.1 .5,0 .5,0 .5,.1 .5,.1 .5,.3 .4,.3 .4,.4 .4,.2 .5,.3 .4,.2 .5,.1 .5,.2 .5,.1 .5,.1 .5,.2 .4,.2 .5,.2 .5,.2 .5,.3 .5,.2 .5,.3 .4,.4 .3,.4 .2,.6 .2,.6 .2,.6 .2,.6 .2,.5 .3,.6 .2,.4 .3,.5 .4,.4 .3,.5 .2,.4 .3,.5 .2,.5 .2,.5 .3,.4 .2,.5 .3,.4 .4,.4 .3,.4 .3,.4 .2,.5 .2,.4 .2,.5 .1,.5 .2,.5 .1,.5 .2,.5 .1,.5 .1,.5 .2,.5 .1,.5 .2,.5 .2,.5 .2,.5 .2,.5 .2,.5 .1,.6 .2,.5 .1,.6 0,.5 .1,.6 .1,.4 .2,.5 .2,.4 .4,.3 .3,.4 .3,.3 .2,.3 .2,.4 .1,.3 0,.3-.1,.3-.1,.3-.2,.2-.3,.2-.2,.2-.2,.2-.1,.2 0,.1-.1,.1 .1,.1 .1,0 .1,.1 .3,.1 .1,.1 0,.2-.1,.1-.2,.1-.3,.1-.4,.1-.4,0-.5,0-.6,0-.6-.1-.6,0-.6-.1-.6-.1-.6-.1-.6-.1-.5-.2-.5-.4-.4-.4-.5-.5-.4-.5-.4-.4-.4-.4-.5-.4-.4-.3-.5-.3-.6-.2-.6-.1-.6-.1-.6,0-.7,0-.7-.1-.6-.1-.6-.1-.6-.2-.6-.2-.5-.3-.5-.3-.6-.4-.5-.3-.6-.3-.5-.3-.6-.2-.6-.3-.6-.2-.5-.3-.6-.3-.5-.2-.6-.3-.6-.3-.5-.3-.6-.3-.5-.3-.5-.4-.5-.3-.5-.4-.5-.4-.5-.3-.5-.4-.6-.2-.6-.3-.5-.2-.6-.3-.5-.3-.6-.3-.5-.3-.5-.4-.5-.4-.5-.4-.5-.3-.5-.4-.5-.4-.6-.3-.5-.3-.6-.2-.6-.2-.7-.2-.6-.1-.7-.1-.7-.1-.6-.2-.6-.2-.5-.2-.6-.4-.5-.3-.6-.3-.5-.2-.6-.2-.6,0-.6-.1-.7,0-.6,0-.5,0-.6-.2-.5-.2-.5-.3-.5-.3-.5-.4-.6-.3-.5-.4-.6-.4-.6-.3-.6-.3-.5-.2-.3-.1 0,.1Z" stroke="#d8000a" stroke-width="0.55" fill="none"/>
<path d="M684.4,48.7l.2-.3 .1-.3 0-.4 0-.3 0-.4 0-.3-.1-.3-.1-.4-.2-.3-.1-.4-.1-.3-.2-.4-.2-.3-.2-.4-.2-.3-.2-.4-.2-.3-.2-.4-.1-.3-.2-.3-.2-.4-.2-.3-.1-.4-.2-.3-.1-.3-.1-.3-.1-.3-.1-.4-.1-.3 0-.3-.1-.3 0-.3-.1-.3 0-.4 0-.3 0-.3 0-.4 .1-.3 0-.4 .1-.3 0-.4 .1-.3 .1-.4 .1-.3 .1-.3 .1-.3 .2-.2 .2-.2 .2-.1 .2,0 .2,0 .3,0 .3,.1 .3,.1 .3,.1 .3,.2 .3,.2 .2,.2 .2,.2 .1,.3 .2,.2 .1,.3 .1,.3 0,.3 .1,.3 .1,.3 .1,.3 0,.4 .1,.3 0,.4 .1,.3 .1,.4 .1,.4 .1,.3 .1,.4 .1,.3 .1,.4 .1,.3 .1,.4 .1,.3 .1,.3 .1,.4 .1,.3 .1,.3 .2,.4 .1,.3 .1,.3 .1,.3 .2,.4 .1,.3 .1,.3 .1,.3 .2,.3 .1,.3 .1,.3 .1,.3 .1,.3 .2,.4 .1,.3 .1,.3 .1,.3 .1,.3 .1,.3 .1,.2 .1,.3 .2,.3 .1,.3 .1,.3 0,.3 .1,.3 .1,.4 .1,.3 .1,.3 .1,.3 .1,.3 0,.3 .1,.3 .1,.4 .1,.3 0,.3 .1,.3 0,.4 .1,.3 0,.3 0,.3 0,.2 0,.3 0,.2 0,.3 0,.2-.1,.1 0,.2-.1,.2 0,.1-.1,.1-.1,.1-.1,.1-.1,.2-.2,.1-.1,.1-.2,.1-.3,.2-.2,.1-.3,.1-.2,.1-.3,0-.3,.1-.3,.1-.3,0-.3,0-.3,0-.2,.1-.3-.1-.3,0-.3,0-.3,0-.3-.1-.3,0-.3-.1-.4,0-.3-.1-.3-.1-.3-.1-.3-.1-.3-.1-.3-.1-.3-.1-.3-.1-.3-.1-.3-.1-.3-.1-.4-.1-.3-.1-.3-.1-.3-.1-.3-.1-.3-.1-.3-.1-.3-.1-.3-.1-.3-.1-.3-.1-.3-.1-.3-.1-.4-.1-.3-.1-.4-.1-.3,0-.4-.1-.3-.1-.4-.1-.4-.1-.4-.1-.4-.1-.5-.1-.4-.1-.4-.1-.5-.1-.4-.1-.4-.1-.4-.1-.4-.1-.3-.1-.3-.1-.3,0-.2-.1-.2-.1 0,.1 .1,.2 0,.4-.1,.1-.1,0 .1,0 .1-.1 .2-.1 .3-.1 .3-.2 .3-.1 .4-.1 .4-.1 .4-.1 .4-.1 .5-.1 .4-.1 .4-.1 .5-.1 .4-.1 .4,0 .4-.1 .4-.1 .3,0 .4-.1 .3,0 .4-.1 .3,0 .3-.1 .4,0 .3-.1 .3-.1 .3,0 .3-.1 .4-.1 .3-.1 .3-.1 .4-.1 .3-.1 .4-.1 .4-.2 .3-.1 .4-.2 .3-.2 .4-.2 .3-.2 .3-.2 .3-.3 .3-.2 .2-.3 .3-.3Z M683.4,48.5l-.1,.2-.2,.1-.2,.2-.3,.2-.3,.2-.3,.2-.3,.1-.3,.2-.3,.1-.4,.1-.3,.2-.3,.1-.4,.1-.3,0-.3,.1-.3,.1-.3,0-.3,.1-.3,0-.3,0-.3,.1-.4,0-.3,0-.3,.1-.3,0-.4,0-.4,.1-.3,0-.4,0-.4,.1-.5,0-.4,.1-.5,.1-.4,.1-.5,0-.4,.1-.5,.1-.4,.1-.5,.1-.4,.1-.4,.2-.3,.1-.4,.1-.3,.1-.3,.2-.3,.2-.3,.3-.2,.4-.1,.6 .2,.5 .3,.3 .2,.3 .3,.2 .3,.2 .4,.2 .3,.1 .4,.2 .4,.2 .4,.1 .5,.2 .4,.1 .4,.2 .5,.1 .4,.2 .4,.1 .4,.1 .4,.2 .4,.1 .3,.1 .4,.1 .3,.1 .4,.1 .3,.2 .3,.1 .4,.1 .3,.1 .3,.1 .3,.1 .3,.1 .3,.1 .2,.1 .3,.1 .3,.1 .3,.1 .3,.1 .3,.1 .3,.1 .3,.1 .3,.1 .3,.1 .3,.1 .3,.2 .3,.1 .3,.1 .4,.1 .3,.1 .4,.2 .3,.1 .4,.1 .4,.1 .3,.1 .4,.1 .4,.1 .4,0 .4,.1 .4,0 .4,.1 .4,0 .5,0 .4,0 .5,0 .4-.1 .4-.1 .5,0 .4-.2 .5-.1 .4-.1 .4-.2 .4-.2 .5-.3 .4-.2 .3-.3 .4-.4 .4-.3 .3-.4 .2-.5 .2-.4 .2-.5 .2-.4 .1-.5 .1-.4 0-.5 .1-.4 0-.5 0-.4 0-.5-.1-.4 0-.4-.1-.5 0-.4-.1-.4-.1-.4-.1-.4 0-.4-.1-.3-.1-.4-.2-.4-.1-.3-.1-.4-.1-.4-.1-.3-.2-.3-.1-.4-.2-.3-.1-.3-.1-.4-.2-.3-.1-.3-.2-.3-.2-.3-.1-.3-.2-.4-.1-.3-.2-.3-.2-.3-.1-.3-.2-.3-.2-.2-.1-.3-.2-.3-.2-.3-.1-.3-.2-.3-.2-.3-.2-.3-.1-.3-.2-.3-.2-.3-.1-.3-.2-.3-.2-.2-.1-.3-.2-.3-.1-.3-.2-.3-.1-.3-.2-.3-.1-.3-.2-.4-.1-.3-.2-.3-.2-.3-.1-.4-.2-.3-.2-.4-.2-.3-.2-.3-.3-.3-.3-.3-.3-.3-.3-.3-.3-.2-.4-.2-.4-.2-.4-.1-.5-.1-.4,0-.4,0-.4,.1-.4,.1-.3,.2-.3,.3-.2,.3-.2,.3-.2,.4-.1,.4-.1,.4-.1,.4 0,.4-.1,.3 0,.4-.1,.4 0,.3 0,.4 0,.4 0,.3 .1,.4 0,.3 .1,.4 0,.3 .1,.3 .1,.4 .1,.3 .2,.4 .1,.3 .1,.4 .2,.3 .2,.4 .2,.3 .1,.4 .2,.3 .2,.4 .2,.3 .2,.4 .2,.3 .1,.4 .2,.3 .2,.3 .1,.4 .1,.3 .1,.3 .1,.3 0,.3 .1,.2 0,.3 0,.2-.1,.3 0,.2-.1,.2Z" fill="#f30010" fill-rule="nonzero"/>
<path d="M683.6,48.3l.1-.2 .1-.2-.1-.3-.1-.2-.2-.2-.3-.2-.2-.2-.2-.2-.2-.3-.1-.2-.1-.3-.1-.4 0-.3-.1-.4 0-.4-.1-.4 0-.5 0-.4 0-.5-.1-.4 0-.4-.1-.4 0-.4-.1-.4-.2-.3-.2-.3-.2-.3-.3-.2-.2-.3-.2-.4-.2-.3-.1-.3-.1-.4-.1-.3 0-.4 0-.4 .1-.3 0-.4 .1-.4 0-.4 0-.4 .1-.4 0-.4 .1-.4 .2-.5 .2-.3 .3-.4 .4-.2 .4-.2 .5,0 .4,0 .4,.1 .4,.1 .4,.1 .4,.1 .4,.1 .4,.2 .4,.2 .4,.2 .3,.2 .4,.3 .3,.3 .2,.3 .2,.4 .1,.3 .1,.4 0,.4 0,.4 .1,.3 .1,.4 .1,.3 .3,.3 .3,.2 .4,.2 .3,.3 .3,.2 .3,.3 .1,.3 .1,.3 .1,.3 0,.4 .1,.3 .2,.2 .3,.3 .3,.2 .3,.2 .3,.3 .3,.2 .2,.3 .3,.2 .2,.3 .2,.3 .2,.3 .1,.3 .1,.3 0,.4 .1,.3 .1,.4 0,.3 .2,.4 .1,.3 .2,.3 .2,.3 .2,.3 .1,.4 .1,.3 0,.4 0,.4 .1,.4 .2,.3 .2,.3 .3,.4 .3,.3 .3,.3 .2,.4 .1,.4 .1,.4 0,.4-.1,.5 0,.4 0,.5 0,.4 .1,.5 .1,.4 .1,.5 .1,.5 0,.5-.1,.5-.1,.5-.1,.5-.2,.5-.3,.5-.2,.6-.4,.4-.3,.5-.5,.4-.4,.4-.5,.2-.5,.2-.5,.2-.5,.1-.5,.1-.5,.1-.4,.1-.5,0-.4,.1-.5,0-.5,0-.4-.1-.4-.1-.5-.1-.4-.1-.4,0-.4,0-.4,.1-.4,0-.4,0-.3-.1-.4-.1-.4-.1-.3-.2-.4-.1-.3-.2-.3-.1-.4,0-.4,0-.4,0-.3,0-.3-.1-.3-.1-.3-.3-.2-.2-.2-.3-.3-.3-.2-.3-.3-.2-.2-.1-.3-.1-.4,0-.3,0-.3,.1-.4,0-.3,0-.4,0-.3,0-.3-.1-.4,0-.3-.1-.4-.1-.3-.1-.4-.1-.4-.1-.4-.2-.4-.1-.4-.2-.4-.2-.4,0-.5,0-.5,0-.5,0-.5,0-.4-.1-.4-.2-.4-.3-.2-.4-.2-.5-.2-.5-.1-.4 0-.4 0-.4 0-.3 .1-.3 .2-.3 .2-.1 .3-.2 .3-.1 .3-.2 .3-.1 .4-.2 .4-.1 .4-.1 .5-.1 .4-.1 .5-.1 .4-.1 .5-.2 .4-.1 .4-.1 .5-.2 .4-.1 .3-.1 .4-.1 .4,0 .3-.1 .4,0 .3,0 .3-.1 .3-.1 .3-.1 .3-.1 .3-.1 .3,0 .3,0 .3,0 .3,0 .4,.1 .4,0 .3,0 .4-.1 .3-.1 .3-.1 .3-.3 .3-.2 .2-.3 .2-.2 .2-.3 .2-.2 .1-.1 .1-.2Z M683.9,48.4l.1-.2 .2-.2 .2-.3 .1-.3 .1-.3 0-.4 0-.4 0-.3 0-.4-.1-.4-.1-.4-.2-.3-.3-.3-.3-.3-.4-.3-.4-.2-.4-.2-.4-.3-.3-.2-.3-.3-.3-.3-.1-.4-.2-.4-.1-.4-.1-.3-.1-.4-.1-.4 0-.3-.1-.4 0-.3 0-.4 0-.3 0-.4 .1-.3 0-.4 0-.3 0-.4 0-.4 0-.3 0-.4 .1-.4 .1-.4 .1-.4 .2-.3 .2-.3 .2-.3 .2-.3 .3-.3 .2-.1 .4-.1 .3-.1 .4,.1 .3,.2 .3,.3 .3,.2 .2,.3 .3,.2 .3,.1 .2,.2 .3,.2 .2,.2 .3,.2 .1,.3 .2,.3 .1,.3 .2,.3 .2,.3 .2,.3 .2,.3 .2,.3 .2,.3 .2,.4 .1,.3 0,.3 .1,.4 .1,.3 .1,.4 .1,.3 .1,.3 .2,.3 .2,.3 .1,.3 .2,.3 .1,.3 .2,.3 0,.4 .1,.3 0,.4 .1,.3 0,.4-.1,.4 0,.4 0,.4 .1,.3 .1,.3 .2,.3 .2,.2 .3,.3 .4,.2 .3,.2 .4,.2 .4,.2 .3,.2 .3,.3 .3,.2 .2,.3 .1,.4 .1,.3 .1,.4-.1,.3 0,.4 0,.4-.1,.4 0,.4 0,.3 .1,.4 .1,.3 .2,.4 .2,.3 .1,.4 .2,.4 .1,.4 .2,.3 0,.4 .1,.4 0,.4 0,.4-.1,.4 0,.4 0,.4-.1,.4-.2,.4-.2,.3-.3,.3-.2,.3-.3,.3-.3,.3-.3,.2-.3,.3-.2,.3-.4,.3-.3,.2-.4,.2-.4,.1-.4,0-.5-.1-.4-.1-.4-.1-.4-.1-.4-.1-.4-.1-.3-.1-.4,0-.3-.2-.3-.1-.4-.2-.3-.2-.3-.1-.3-.2-.3-.1-.4,0-.3,0-.4,0-.3,0-.4,0-.3,0-.3-.1-.3-.2-.3-.1-.3-.1-.3-.1-.4-.1-.3,0-.3,0-.4,.1-.3,0-.3,0-.4,0-.3,0-.3-.1-.3-.1-.3-.1-.3-.1-.3-.2-.3-.2-.3-.1-.3-.2-.3-.1-.4-.1-.4,0-.4,0-.4-.1-.4,0-.4-.2-.4-.2-.4-.2-.4-.3-.4-.2-.4-.2-.4-.2-.4-.1-.5,0-.4,0-.4,.1-.4,0-.4-.1-.2-.2-.3-.2-.1-.4-.1-.4 .1-.4 .3-.2 .2-.1 .3-.1 .2-.1 .3-.1 .3-.2 .3-.1 .4-.1 .4-.1 .5,0 .4-.1 .4-.1 .5-.2 .4-.1 .5,0 .4,0 .5,.1 .4,.1 .4,0 .4,.1 .4-.1 .4,0 .3-.2 .3-.1 .3-.2 .3-.1 .4-.2 .3-.1 .3,0 .3-.1 .3-.1 .3,0 .3,0 .4,0 .4,0 .4,.1 .4,0 .4,0 .4,0 .4-.2 .4-.1 .3-.3 .3-.3 .3-.3 .2-.3 .2-.4 .1-.3 0-.4Z M684.4,48.7l.2-.3 .2-.3 .1-.4 0-.3 0-.4 0-.3 0-.4-.1-.4-.2-.3-.1-.4-.2-.3-.3-.3-.2-.4-.3-.3-.2-.3-.2-.3-.2-.4-.3-.3-.2-.3-.2-.4-.1-.3-.2-.4-.2-.3-.1-.3 0-.4-.1-.3-.1-.4 0-.3-.1-.3-.2-.3-.1-.3-.2-.3-.1-.3-.1-.4-.1-.3-.1-.3 0-.4 .1-.4 .1-.3 .1-.4 .2-.3 .1-.4 .1-.4 .1-.3 .2-.3 .2-.3 .2-.2 .2-.1 .3-.1 .2,0 .2,.1 .3,.2 .2,.1 .3,.2 .3,.1 .2,.1 .3,.2 .2,.2 .1,.2 .1,.3 0,.2 0,.3-.1,.3 0,.3 .1,.3 0,.3 .2,.3 .2,.3 .3,.2 .2,.3 .3,.3 .2,.4 .1,.3 .2,.4 0,.3 .1,.4 0,.4 0,.3 0,.4 0,.4 .1,.4 .1,.3 .1,.4 .1,.3 .1,.4 .1,.3 .2,.3 .2,.3 .2,.3 .2,.2 .2,.3 .2,.3 .2,.2 .3,.3 .2,.2 .3,.3 .2,.3 .1,.3 .1,.3 0,.3 0,.4-.1,.4-.1,.4-.1,.3 0,.4 0,.3 .1,.3 .2,.3 .2,.2 .2,.3 .2,.3 .2,.2 .1,.3 .1,.4 0,.3 0,.3 0,.4 0,.3 0,.3 0,.4 0,.3 .1,.3 0,.3 0,.3-.2,.3-.1,.2-.2,.2-.2,.2-.1,.1 0,.2 0,.1 .1,.1 .1,.1 .1,.2 .1,.1 .1,.2 0,.2 0,.2-.1,.2-.2,.1-.2,.1-.2,.1-.3,0-.3,0-.2,0-.3,0-.3,0-.3,0-.2,.1-.3,0-.3,.1-.2,0-.3,.1-.3,0-.3,0-.3,0-.3,.1-.3,0-.3,0-.3,0-.4,0-.3,0-.3-.1-.3-.1-.3-.2-.3-.2-.2-.2-.3-.1-.4-.1-.3,0-.4,0-.3,.1-.4,0-.3,.1-.3-.1-.3-.1-.3-.2-.2-.3-.3-.3-.2-.3-.3-.2-.3,0-.4,0-.4,.1-.4,.2-.4,.1-.4,.2-.4,.1-.4,.1-.4-.1-.4-.1-.4-.1-.3-.2-.4-.2-.4-.2-.4-.3-.4-.2-.4-.3-.4-.3-.3-.2-.4-.2-.4-.2-.3,0-.3-.1-.3,0-.3,0-.1-.1-.1,.1-.1,0 .1,.2 0,.2 0,.2 .1,0 .2,0 .2,0 .3-.1 .3-.1 .3,0 .4-.1 .4-.1 .4-.1 .4-.1 .5-.1 .4-.1 .4-.2 .4-.2 .4-.2 .4-.2 .4-.1 .4-.1 .3-.1 .4,0 .3,0 .4,.1 .3,0 .4,.1 .3,0 .3,.1 .4,0 .3,0 .4,0 .3-.1 .4-.2 .3-.2 .3-.3 .3-.2 .3-.3 .3-.2 .4-.3 .3-.2 .4-.1 .3-.2 .4-.1 .3-.2 .3-.2 .3-.3 .2-.3 .2-.3Z" stroke="#d8000a" stroke-width="0.55" fill="none"/>
</g>
<clipPath id="cp32"><rect x="630.50" y="131.00" width="149.20" height="98.70"/></clipPath>
<g clip-path="url(#cp32)">
<path d="M644.1,178l1.9-2.6 1.4-.9 1.2-.7 1.1-.6 1-.5 .7-.4 .5-.4 .5-.5 .5-.5 .5-.7 .7-.7 .7-.9 .8-.9 .8-.8 .9-.9 .9-.8 .9-.8 1-.8 .9-.8 1-.7 1.1-.7 1-.7 1.1-.6 1.1-.6 1.1-.5 1.1-.5 1.1-.5 1.1-.4 1.1-.4 1.2-.4 1.1-.3 1.2-.3 1.1-.3 1.1-.2 1.2-.2 1.1-.2 1.1-.2 1.2-.2 1.1-.1 1.1-.1 1.1-.2 1.1-.1 1.1-.1 1.1,0 1.1-.1 1.1-.1 1.1-.1 1.1,0 1.1-.1 1.1,0 1.1,0 1.2-.1 1.1,0 1.1,0 1.1,0 1.2,.1 1.1,0 1.1,.1 1.2,.1 1.1,.1 1.2,.1 1.1,.1 1.1,.2 1.2,.1 1.1,.2 1.2,.3 1.1,.2 1.1,.3 1.2,.3 1.1,.3 1.1,.4 1.1,.3 1,.4 1.1,.4 1.1,.5 1,.4 1,.5 1,.4 1,.5 1,.5 1,.4 1,.5 1,.5 .9,.4 1,.5 .9,.5 1,.4 1,.4 .9,.5 1,.4 .9,.4 1,.5 .9,.4 1,.4 1,.4 .9,.4 1,.4 1,.4 1,.4 1,.3 1,.4 1,.5 1.1,.4 1.1,.5 1,.5 1.1,.5 1.1,.6 1.1,.7 1.1,.7 1,.8 1,.9 1,.9 .9,1 .9,1.1 .8,1.1 .7,1.2 .6,1.3 .6,1.3 .4,1.3 .3,1.2 .3,1.3 .2,1.2 .2,1.2 .1,1.2 .1,1.1 .1,1.1 .1,1.1 .1,1.1 .1,1 .1,1.1 .1,1.1 .1,1 .1,1.1 .1,1.1 .1,1.1 .1,1.1 .1,1.1 .1,1.2 .1,1.2 .1,1.3 0,1.4-.1,1.4-.2,1.5-.4,1.5-.4,1.6-.7,1.5-.9,1.6-1.1,1.5-1.4,1.4-1.8,1.3-2.1,.8-1.9,.4-1.8,.1-1.6-.2-1.4-.2-1.3-.3-1.2-.3-1.1-.2-1.1-.3-1.1-.2-1-.3-1.1-.2-1.1-.2-1-.2-1.1-.2-1.1-.2-1-.3-1.1-.2-1.1-.3-1.1-.3-1.1-.3-1.1-.3-1-.3-1.1-.3-1.1-.3-1.1-.4-1.1-.4-1-.4-1.1-.4-1.1-.4-1-.4-1.1-.5-1-.4-1-.5-1-.5-1-.5-1-.5-1-.5-1-.5-1-.5-.9-.5-1-.5-1-.5-.9-.5-1-.6-.9-.5-1-.5-.9-.5-.9-.5-1-.6-.9-.5-1-.5-.9-.6-.9-.5-1-.5-.9-.5-.9-.6-1-.5-.9-.5-.9-.5-1-.5-.9-.6-.9-.5-1-.5-.9-.5-1-.5-.9-.6-.9-.5-1-.5-.9-.6-1-.5-.9-.6-.9-.5-.9-.6-1-.5-.9-.6-.9-.5-.9-.5-1-.6-.9-.5-.9-.5-.9-.5-.9-.4-.9-.5-.8-.3-.9-.4-.9-.2-.9-.2-.9-.2-1-.2-1-.1-1-.1-1-.1-1-.1-1,0-1-.1-.9-.1-1-.1-1.1-.1-1.1-.2-1.2-.2-1.2-.2-1.4-.2-1.5-.3-1.5-.3-1.6-.4-1.4-.5-1.5-.6-1.9-1.5Z M651.8,177l-.8-.6 .3,.1 .8,.2 1.2,.3 1.3,.3 1.4,.2 1.3,.3 1.3,.2 1.1,.2 1,.2 1,.3 1,.2 .9,.2 1,.2 .9,.2 1,.3 1.1,.2 1.1,.3 1.1,.3 1.2,.4 1.2,.3 1.2,.5 1.1,.5 1.1,.5 1.1,.5 1,.5 1,.6 1,.5 .9,.6 1,.5 .9,.6 .9,.5 .9,.6 1,.5 .9,.6 .9,.5 .9,.5 1,.6 .9,.5 .9,.5 .9,.5 .9,.6 1,.5 .9,.5 .9,.5 1,.6 .9,.5 .9,.5 1,.5 .9,.5 .9,.6 1,.5 .9,.5 1,.5 .9,.5 .9,.6 1,.5 .9,.5 .9,.5 1,.5 .9,.5 1,.5 .9,.5 .9,.5 1,.5 .9,.5 1,.4 .9,.5 .9,.5 1,.4 .9,.5 1,.4 .9,.4 1,.4 .9,.4 1,.4 .9,.3 1,.3 1,.4 .9,.2 1,.3 1,.3 1,.2 1,.2 1,.2 1,.2 1,.2 1,.1 1,.2 1,.1 1,.1 1,.2 1.1,.1 1,.1 1,0 1,.1 1,.1 1.1,0 1,0 1.1,.1 1.1,0 1.1-.1 1.1,0 1-.1 .8-.1 .6-.2 .3-.2 .1-.1-.2-.1-.1,.1 .1-.1 .2-.2 .3-.4 .3-.4 .3-.5 .3-.6 .2-.6 .2-.7 .2-.8 .2-.9 .1-.9 0-.9 .1-1.1 0-1 .1-1.1 0-1 0-1.1 0-1 0-1.1-.1-1.1 0-1.1 0-1 0-1.1 0-1.1 0-1 0-1-.1-1 0-.9-.1-.9-.1-.8-.2-.8-.2-.7-.2-.7-.3-.7-.4-.6-.5-.7-.5-.7-.5-.6-.6-.5-.7-.6-.6-.5-.8-.4-.8-.5-.8-.4-.9-.4-.9-.4-.9-.3-1-.4-1-.4-1-.4-1-.4-1.1-.4-1-.4-1-.4-1-.4-1-.5-1-.4-1-.4-1-.5-1-.4-1-.5-1-.4-1-.5-.9-.5-1-.4-1-.5-1-.4-.9-.5-1-.4-.9-.5-1-.4-.9-.4-1-.4-.9-.4-1-.4-.9-.3-.9-.3-1-.4-.9-.3-.9-.2-1-.3-.9-.2-1-.2-1-.2-1-.2-.9-.1-1-.2-1-.1-1-.1-1-.1-1,0-1-.1-1.1,0-1,0-1,0-1,0-1,0-1.1,.1-1,0-1,.1-1,.1-1.1,.1-1,.1-1,.1-1.1,.1-1,.1-1.1,.1-1,.2-1,.1-1.1,.2-1,.1-1,.2-.9,.2-1,.2-1,.2-.9,.2-1,.3-.9,.2-.9,.3-.9,.3-.9,.4-.9,.3-.8,.4-.9,.4-.8,.4-.8,.5-.8,.5-.8,.5-.7,.5-.8,.6-.7,.5-.7,.7-.7,.6-.7,.7-.6,.6-.6,.7-.6,.7-.6,.7-.7,.8-.7,1-1,1-1.1,1-1.3,.9-1.6,.9-1.4,.6-1.2,.5-.9,.4-.1,0 1.1-1.7Z" fill="#bfcbf4" fill-rule="nonzero" stroke="#bfcbf4" stroke-width="0.8"/>
<g fill="#bfcbf4"><circle cx="695.3" cy="152.6" r="1.1"/><circle cx="708.2" cy="208.7" r="1.2"/><circle cx="667.3" cy="169.5" r="0.7"/><circle cx="766.7" cy="190.9" r="0.7"/><circle cx="666.3" cy="187.3" r="0.9"/><circle cx="682.0" cy="154.3" r="1.0"/><circle cx="705.8" cy="208.4" r="1.2"/><circle cx="745.0" cy="167.5" r="0.9"/><circle cx="739.0" cy="165.5" r="1.0"/><circle cx="724.8" cy="208.7" r="0.7"/><circle cx="684.5" cy="195.9" r="0.8"/><circle cx="756.5" cy="210.9" r="1.2"/><circle cx="755.6" cy="171.9" r="0.8"/><circle cx="756.4" cy="209.5" r="1.1"/><circle cx="705.9" cy="162.2" r="0.8"/><circle cx="699.8" cy="161.6" r="0.8"/><circle cx="695.6" cy="202.5" r="0.9"/><circle cx="756.1" cy="190.5" r="0.9"/><circle cx="680.3" cy="163.9" r="0.9"/><circle cx="698.7" cy="153.7" r="0.9"/><circle cx="673.4" cy="167.2" r="1.0"/><circle cx="750.9" cy="224.4" r="0.8"/><circle cx="720.6" cy="215.8" r="1.0"/><circle cx="767.7" cy="202.8" r="1.0"/><circle cx="731.5" cy="171.8" r="1.1"/><circle cx="654.1" cy="168.0" r="1.2"/><circle cx="705.1" cy="198.7" r="1.0"/><circle cx="766.4" cy="196.3" r="1.1"/><circle cx="695.3" cy="153.6" r="1.1"/><circle cx="694.2" cy="153.4" r="1.0"/><circle cx="729.3" cy="211.0" r="1.2"/><circle cx="710.8" cy="210.7" r="0.8"/><circle cx="768.1" cy="216.6" r="0.8"/><circle cx="668.2" cy="188.3" r="1.1"/><circle cx="707.7" cy="209.5" r="0.7"/><circle cx="745.4" cy="222.6" r="0.8"/><circle cx="684.5" cy="164.3" r="0.7"/><circle cx="742.0" cy="222.9" r="1.1"/><circle cx="767.3" cy="190.8" r="0.9"/><circle cx="685.4" cy="154.3" r="0.8"/><circle cx="678.6" cy="165.1" r="1.1"/><circle cx="701.0" cy="152.9" r="1.0"/><circle cx="717.2" cy="154.8" r="0.8"/><circle cx="667.3" cy="158.9" r="0.8"/><circle cx="718.0" cy="156.3" r="1.1"/><circle cx="683.9" cy="194.8" r="1.2"/><circle cx="755.9" cy="184.0" r="0.8"/><circle cx="658.2" cy="186.7" r="0.7"/><circle cx="755.4" cy="211.2" r="1.2"/><circle cx="671.0" cy="181.0" r="1.0"/><circle cx="766.1" cy="192.0" r="0.8"/><circle cx="737.8" cy="221.7" r="0.8"/><circle cx="764.8" cy="221.2" r="0.8"/><circle cx="729.2" cy="218.7" r="0.8"/><circle cx="684.4" cy="164.2" r="1.1"/><circle cx="745.4" cy="222.6" r="1.2"/><circle cx="699.3" cy="196.0" r="0.9"/><circle cx="674.4" cy="182.6" r="0.8"/><circle cx="712.1" cy="210.4" r="0.8"/><circle cx="702.2" cy="197.4" r="1.2"/></g>
<path d="M647.4,179.5l0-.6 .2-.5 .2-.5 .3-.4 .2-.4 .3-.2 .3-.3 .3-.2 .3-.2 .3-.1 .2-.2 .3-.1 .3-.1 .3-.2 .3-.1 .3-.1 .3-.1 .3-.1 .3,0 .3-.1 .4-.1 .3-.1 .3-.1 .3,0 .4-.1 .3-.1 .3-.1 .4,0 .3-.1 .3,0 .4-.1 .3,0 .3-.1 .3,0 .3-.1 .3,0 .3-.1 .3,0 .3,0 .3-.1 .3,0 .3,0 .3-.1 .3,0 .2,0 .3,0 .3,0 .2-.1 .3,0 .2,0 .3,0 .3,0 .2,0 .3,0 .2,0 .2,0 .3,0 .2,0 .3,0 .2,0 .3,0 .2,0 .2,0 .3,0 .2,0 .2,0 .3,0 .2,0 .2,.1 .2,0 .3,0 .2,0 .2,0 .3,0 .2,.1 .3,0 .2,0 .2,0 .3,.1 .2,0 .3,0 .2,0 .3,.1 .2,0 .3,.1 .3,0 .2,.1 .3,0 .3,.1 .2,0 .3,.1 .3,.1 .2,0 .3,.1 .3,.1 .3,.1 .3,.1 .2,.1 .3,.1 .3,.1 .3,.1 .3,.1 .3,.1 .2,.1 .3,.2 .3,.1 .3,.2 .3,.1 .3,.2 .3,.2 .3,.1 .3,.2 .2,.2 .3,.2 .3,.3 .3,.2 .3,.2 .2,.3 .3,.3 .3,.3 .2,.3 .2,.3 .2,.4 .2,.4 .2,.5 .1,.4 .1,.5 0,.6 0,.5-.1,.4-.2,.5-.1,.4-.2,.4-.2,.3-.2,.4-.3,.3-.2,.3-.3,.3-.2,.2-.3,.3-.3,.2-.3,.3-.2,.2-.3,.2-.3,.2-.3,.2-.3,.2-.3,.2-.4,.2-.3,.1-.3,.2-.3,.1-.3,.1-.3,.2-.3,.1-.4,.1-.3,.1-.3,.1-.3,0-.3,.1-.3,.1-.3,0-.3,.1-.4,0-.3,0-.3,.1-.3,0-.3,0-.3,0-.3,0-.2,0-.3,0-.3,0-.3,0-.3-.1-.3,0-.2,0-.3-.1-.3,0-.3,0-.2-.1-.3,0-.2-.1-.3,0-.2-.1-.3,0-.2-.1-.3,0-.2-.1-.3,0-.2-.1-.2,0-.2-.1-.3-.1-.2,0-.2-.1-.3,0-.2-.1-.2-.1-.2,0-.3-.1-.2-.1-.2,0-.2-.1-.3-.1-.2-.1-.2,0-.2-.1-.3-.1-.2-.1-.2,0-.3-.1-.2-.1-.2-.1-.3-.1-.2-.1-.3-.1-.2-.1-.2-.1-.3-.1-.2-.1-.3-.1-.3-.1-.2-.1-.3-.1-.2-.1-.3-.1-.3-.2-.2-.1-.3-.1-.3-.1-.3-.2-.3-.1-.3-.1-.3-.2-.2-.1-.3-.2-.3-.1-.3-.1-.3-.2-.3-.1-.3-.2-.3-.2-.3-.1-.2-.2-.3-.1-.3-.2-.2-.2-.3-.2-.2-.2-.3-.2-.2-.2-.2-.2-.3-.2-.2-.3-.2-.3-.2-.4-.2-.4-.1-.5Z M652.6,179.2l-.1-.3-.1-.2 0-.1-.1,0 .1,0 0,.1 .1,.1 .2,.1 .1,.1 .2,.1 .1,.1 .2,.1 .2,.1 .2,.2 .3,.1 .2,.1 .2,.1 .3,.2 .2,.1 .3,.1 .3,.1 .2,.1 .3,.2 .3,.1 .2,.1 .3,.1 .3,.1 .2,.1 .3,.1 .2,.1 .3,.1 .2,.1 .3,.1 .2,.1 .2,.1 .3,.1 .2,.1 .2,.1 .3,0 .2,.1 .2,.1 .2,.1 .2,0 .2,.1 .3,.1 .2,0 .2,.1 .2,0 .2,.1 .2,.1 .2,0 .2,.1 .2,0 .2,.1 .2,0 .2,.1 .2,0 .2,.1 .2,0 .2,.1 .2,0 .2,.1 .2,0 .2,.1 .3,0 .2,.1 .2,0 .2,0 .2,.1 .2,0 .2,.1 .2,0 .2,.1 .3,0 .2,0 .2,.1 .2,0 .2,0 .2,0 .2,.1 .2,0 .2,0 .2,0 .2,0 .2,0 .2,.1 .2,0 .2,0 .2,0 .2-.1 .1,0 .2,0 .2,0 .2,0 .2,0 .2-.1 .2,0 .1,0 .2-.1 .2,0 .2-.1 .2,0 .1-.1 .2-.1 .2-.1 .2,0 .2-.1 .1-.1 .2-.1 .2-.1 .2-.1 .2-.1 .1-.1 .2-.2 .1-.1 .2-.1 .1-.1 .1-.1 .1-.1 .1-.1 .1-.1 .1-.1 0-.1 0,.1 0,.1 0,.1 0,.1 0,.1 .1,.1-.1-.1 0-.1-.1-.1-.1-.1-.1-.1-.2-.1-.1-.1-.2-.1-.1-.1-.2-.1-.2-.1-.2-.2-.2-.1-.2-.1-.2-.1-.2-.1-.2-.1-.2-.1-.2-.1-.2,0-.2-.1-.2-.1-.2-.1-.2,0-.2-.1-.2-.1-.2,0-.2-.1-.2,0-.2-.1-.2,0-.2-.1-.2,0-.2,0-.2-.1-.2,0-.2-.1-.2,0-.2,0-.2,0-.2-.1-.2,0-.2,0-.2,0-.3,0-.2-.1-.2,0-.2,0-.2,0-.2,0-.2,0-.2,0-.2-.1-.2,0-.2,0-.2,0-.2,0-.2,0-.2,0-.2,0-.2,0-.2,0-.3,0-.2,0-.2,0-.2,0-.2,0-.2,0-.2,0-.2,0-.3,.1-.2,0-.2,0-.3,0-.2,0-.2,0-.3,0-.2,.1-.3,0-.2,0-.3,0-.2,.1-.3,0-.3,0-.3,0-.3,.1-.2,0-.3,0-.3,.1-.3,0-.3,.1-.3,0-.3,0-.3,.1-.3,0-.3,.1-.3,0-.3,.1-.2,0-.3,.1-.3,0-.2,.1-.3,.1-.2,0-.2,.1-.2,0-.2,.1-.1,0-.2,.1-.1,0-.1,.1-.1,0 .1-.1 .1-.1 .1-.2 .1-.2 .1-.4 0-.3Z" fill="#bfcbf4" fill-rule="nonzero" stroke="#bfcbf4" stroke-width="0.8"/>
<path d="M649.6,179.8l0,.3 .5-.3 1-.4 1.3-.5 1.2-.6 1.3-.7 1.1-.7 1-.8 .8-.9 .7-.8 .7-.8 .6-.7 .7-.7 .7-.8 .7-.7 .8-.7 .7-.7 .8-.6 .8-.6 .9-.6 .8-.6 .9-.5 .9-.5 .8-.5 1-.5 .9-.4 .9-.4 .9-.3 1-.4 1-.3 .9-.3 1-.2 1-.3 1-.2 1-.2 1-.2 1.1-.2 1-.1 1-.2 1.1-.1 1-.2 1.1-.1 1-.1 1.1-.1 1.1-.1 1-.1 1.1-.1 1,0 1.1-.1 1-.1 1.1,0 1,0 1.1,0 1-.1 1.1,.1 1,0 1,0 1.1,.1 1,0 1.1,.1 1,.1 1,.2 1,.1 1.1,.2 1,.1 1,.2 1,.3 1,.2 1,.3 1,.2 .9,.3 1,.4 1,.3 1,.4 .9,.3 1,.4 1,.5 .9,.4 1,.4 1,.4 .9,.5 1,.5 1,.4 .9,.5 1,.4 1,.5 1,.4 .9,.5 1,.4 1,.5 1,.4 1,.5 1,.4 1,.4 1,.4 1,.4 1,.5 1,.4 1,.4 1,.3 1,.4 1,.4 1,.4 .9,.4 1,.4 .9,.5 .8,.5 .8,.5 .8,.5 .8,.6 .7,.7 .6,.7 .6,.7 .6,.8 .5,.8 .4,.8 .4,.8 .3,.8 .2,.9 .2,1 .2,.9 .1,1 .1,1.1 0,1 .1,1.1 0,1 0,1.1 .1,1.1 0,1.1 .1,1.1 0,1 .1,1.1 0,1 0,1.1 .1,1.1 0,1 0,1.1 0,1 0,1 0,1-.1,1-.2,.9-.2,.9-.2,.8-.4,.9-.4,.8-.4,.7-.5,.7-.5,.5-.5,.3-.5,.3-.7,.2-.8,.1-.9,.1-1-.1-1,0-1.1-.1-1.2-.1-1-.1-1.1-.1-1.1-.1-1-.1-1.1-.1-1-.2-1-.1-1-.1-1.1-.2-1-.1-1-.2-1.1-.2-1-.2-1-.2-1-.2-1.1-.3-1-.2-1-.3-1-.3-1-.3-1-.3-1-.3-1-.3-1-.4-.9-.4-1-.4-1-.4-.9-.4-1-.5-1-.4-.9-.4-1-.5-.9-.5-1-.5-.9-.4-1-.5-.9-.5-1-.5-.9-.5-.9-.5-1-.5-.9-.5-1-.6-.9-.5-.9-.5-1-.5-.9-.5-1-.5-.9-.5-.9-.6-1-.5-.9-.5-.9-.5-1-.5-.9-.6-1-.5-.9-.5-.9-.5-.9-.6-1-.5-.9-.5-.9-.5-1-.6-.9-.5-.9-.6-.9-.5-.9-.5-1-.6-.9-.5-.9-.6-.9-.5-1-.5-.9-.6-1-.5-.9-.5-1-.5-1.1-.5-1-.4-1.1-.4-1.1-.4-1.1-.3-1.1-.3-1.1-.2-1.1-.2-1.1-.1-1-.2-.9-.1-1-.2-.9-.1-1-.2-1-.1-1.1-.2-1.2-.2-1.2-.2-1.4-.2-1.4-.3-1.4-.3-1.3-.3-1-.3-.7-.3-.1-.1Z M647.3,180.7l1,.7 1.1,.5 1.2,.4 1.4,.3 1.5,.3 1.4,.3 1.4,.3 1.3,.2 1.1,.2 1.1,.2 1,.2 1,.2 .9,.1 1,.2 1,.2 1,.1 1,.2 1,.2 1,.2 1.1,.2 1,.3 .9,.3 1,.3 .9,.4 1,.5 .9,.4 .9,.5 .9,.5 .9,.6 .9,.5 1,.5 .9,.6 .9,.5 .9,.6 1,.5 .9,.5 .9,.6 .9,.5 1,.6 .9,.5 .9,.5 1,.6 .9,.5 1,.5 .9,.5 .9,.5 1,.6 .9,.5 .9,.5 1,.5 .9,.6 .9,.5 1,.5 .9,.5 .9,.6 1,.5 .9,.5 .9,.5 1,.6 .9,.5 1,.5 .9,.5 .9,.5 1,.6 .9,.5 1,.5 .9,.5 1,.5 1,.5 .9,.5 1,.5 1,.5 .9,.5 1,.4 1,.5 1,.4 1,.4 1.1,.5 1,.4 1,.3 1.1,.4 1,.3 1.1,.4 1,.3 1.1,.3 1.1,.3 1,.2 1.1,.3 1.1,.2 1,.2 1.1,.3 1.1,.2 1,.1 1.1,.2 1,.2 1.1,.2 1,.1 1.1,.2 1.1,.1 1.1,.2 1.1,.1 1.1,.2 1.1,.1 1.2,.2 1.3,0 1.3,0 1.3-.1 1.3-.3 1.4-.6 1.2-.9 1-.9 .9-1.2 .7-1.1 .6-1.2 .4-1.3 .3-1.2 .3-1.2 .1-1.2 .1-1.2 .1-1.2 0-1.1-.1-1.1 0-1.1-.1-1.1 0-1.1-.1-1.1 0-1-.1-1.1 0-1.1-.1-1-.1-1.1 0-1.1-.1-1.1-.1-1 0-1.2-.1-1.1-.1-1.1-.2-1.2-.2-1.1-.3-1.2-.3-1.1-.4-1.2-.5-1.1-.6-1.1-.7-1-.8-1-.8-.9-.8-.8-1-.8-.9-.8-1-.7-1-.6-1-.5-1-.5-1-.5-1.1-.5-1-.4-1-.4-1-.4-1-.4-1-.4-1-.4-1-.4-1-.4-1-.4-.9-.4-1-.4-1-.4-1-.5-.9-.4-1-.4-1-.5-.9-.4-1-.5-.9-.4-1-.5-1-.5-.9-.5-1-.4-1-.5-1-.4-1-.5-1-.4-1-.5-1-.4-1.1-.4-1-.4-1-.3-1.1-.4-1.1-.3-1.1-.3-1.1-.3-1-.2-1.1-.2-1.1-.2-1.1-.2-1.1-.1-1.2-.2-1.1-.1-1.1-.1-1.1,0-1.1-.1-1.1,0-1.1,0-1.1,0-1.1,0-1.1,0-1.1,0-1.1,.1-1.1,0-1,.1-1.1,.1-1.1,0-1.1,.1-1.1,.1-1.1,.1-1.1,.1-1,.2-1.1,.1-1.1,.1-1.1,.2-1.1,.1-1.1,.2-1.1,.2-1.1,.3-1.1,.2-1,.3-1.1,.3-1.1,.3-1.1,.4-1,.4-1.1,.4-1,.5-1,.5-1.1,.5-.9,.5-1,.6-1,.7-.9,.6-1,.7-.9,.7-.8,.8-.9,.7-.8,.8-.8,.9-.7,.8-.8,.8-.6,.9-.7,.8-.5,.7-.7,.7-.6,.7-.8,.6-.9,.6-1.1,.6-1.2,.6-1,.6-1,.6-.8,1.2Z" fill="#f30010" fill-rule="nonzero"/>
<path d="M646.1,178.7l1.2-1.6 1.1-.7 1.1-.5 1.2-.5 1.2-.4 .9-.5 .8-.5 .8-.6 .7-.6 .6-.7 .7-.8 .6-.8 .7-.9 .7-.9 .7-.9 .7-.9 .7-.9 .8-.9 .8-.8 .9-.8 1-.7 1-.6 1.1-.5 1.1-.5 1-.4 1.1-.4 1.1-.4 1.1-.4 1-.5 1.1-.3 1.1-.4 1.1-.3 1.1-.2 1.1-.1 1.1,0 1.1-.1 1.1,0 1.1-.1 1.1-.2 1.1-.1 1.1-.3 1.1-.3 1-.3 1.1-.3 1-.3 1.1-.3 1.1-.1 1.1-.1 1.1-.1 1.1-.1 1.1,0 1.1,0 1.1,.1 1.1,.1 1.1,.2 1.1,.1 1.1,.2 1.1,.2 1.1,.2 1.1,.2 1.1,.2 1.1,.2 1.1,.2 1.1,.3 1,.3 1.1,.4 1,.4 1,.4 1.1,.3 1,.3 1.1,.3 1.1,.1 1.1,.2 1.1,.1 1.1,.2 1.1,.3 1.1,.3 1,.4 1,.4 1,.5 .9,.5 .9,.6 .9,.6 1,.6 .9,.5 .9,.6 .9,.5 1,.4 1,.4 1,.4 1,.4 1,.3 1,.4 1,.4 .9,.4 1,.4 1,.5 1,.4 1,.4 1,.3 1,.3 1.1,.3 1.1,.3 1,.4 1.1,.5 1,.5 .9,.7 1,.7 .9,.7 .9,.8 .9,.8 .9,.8 .9,.9 .8,.9 .7,1 .6,1.1 .4,1.2 .2,1.1 .1,1.2 .1,1.2 .1,1.1 0,1.2 .2,1.1 .2,1.1 .2,1.1 .2,1.1 .2,1 .2,1.1 .1,1.1 .2,1 .1,1.1 .1,1.1 .1,1 .2,1.1 .3,1.1 .2,1 .2,1.1 .1,1.2 0,1.2-.2,1.1-.3,1.2-.5,1.2-.6,1.2-.6,1.1-.6,1.1-.6,1.1-.6,1.1-.8,1.1-.8,1.1-1,1-1.2,.8-1.4,.6-1.3,.3-1.3,.1-1.3-.1-1.2-.2-1.2-.3-1.1-.3-1-.3-1.1-.4-1-.3-1.1-.4-1-.2-1.1-.2-1.1,.1-1,0-1.2,.2-1.1,.1-1.1,.1-1.1,0-1.1-.1-1.1-.3-1-.5-1.1-.5-1-.5-1-.6-.9-.6-1-.5-1-.5-1-.5-1-.5-1-.5-.9-.5-1-.4-1-.4-1.1-.4-1-.3-1.1-.3-1-.3-1.1-.3-1-.5-.9-.5-.9-.6-.9-.6-.9-.7-.8-.6-.9-.7-.9-.6-1-.5-1-.4-1-.4-1-.4-1-.4-.9-.5-1-.5-.9-.6-.8-.6-.9-.6-.9-.6-.9-.6-1-.5-.9-.5-1-.4-1-.4-1-.4-1-.4-1-.5-1-.5-.9-.5-.9-.6-.9-.6-.8-.7-.9-.7-.8-.8-.7-.8-.8-.7-.9-.7-.9-.6-.9-.5-1.1-.4-1-.3-1.1-.2-1.1-.2-1-.1-1.1-.2-1-.2-.9-.2-1-.3-.9-.4-1-.4-.9-.4-1-.3-1-.3-1-.3-1-.2-.9-.1-1-.2-1-.1-1-.2-1.1-.1-1.2-.2-1.2-.1-1.4-.1-1.5,0-1.6-.1-1.5-.1-1.4-.2-1.3-.4-1.5-1.1Z M647.7,179.2l.7-.7 .8-.4 1.1-.5 1.2-.5 1.1-.7 1-.7 .8-.8 .7-.8 .5-.8 .6-.8 .5-.9 .7-.8 .7-.8 .7-.8 .8-.8 .8-.9 .7-.8 .8-.9 .8-.8 .9-.7 .9-.7 1.1-.5 1-.5 1.1-.4 1.1-.3 1.1-.2 1.1-.3 1-.3 1.1-.2 1.1-.3 1-.4 1-.3 1-.4 1.1-.4 1-.3 1.1-.4 1-.3 1.1-.3 1-.3 1.1-.2 1.1-.2 1.1-.1 1.1-.1 1.1,0 1,0 1.1,0 1.1,0 1.1,.1 1.1,.1 1.1,.2 1.1,.2 1.1,.2 1,.2 1.1,.1 1.1,0 1.1,0 1-.1 1.1-.2 1.1-.2 1.1-.2 1.1-.1 1.2-.1 1.1,.1 1,.2 1.1,.2 1.1,.3 1.1,.3 1,.3 1.1,.2 1.1,.2 1.1,.2 1,.3 1.1,.3 1,.3 1,.5 1,.5 1,.5 1,.5 1,.4 1,.5 .9,.4 1,.5 .9,.5 1,.6 .9,.5 .9,.5 1,.5 .9,.5 1,.4 1,.4 1,.3 1,.4 1,.5 .9,.5 1,.5 .9,.5 1,.4 1,.4 1,.3 1.1,.3 1,.2 1.1,.2 1.1,.3 1.1,.2 1.1,.3 1.1,.5 1,.5 1,.7 .9,.7 .9,.9 .8,.9 .8,1 .7,.9 .6,1 .7,1 .6,1 .6,1.1 .6,1 .4,1.2 .3,1.1 .1,1.2 0,1.1 0,1.2-.1,1.1-.1,1.1-.1,1.1 0,1.1 0,1 0,1.1 0,1.1 0,1.1-.1,1-.1,1.1-.1,1.1-.1,1.1-.1,1 0,1.1 .1,1.1 .2,1.1 .2,1.1 .2,1.1 .1,1.2-.1,1.2-.1,1.2-.2,1.3-.4,1.2-.6,1.3-.7,1.1-1,1.1-1.2,.8-1.3,.7-1.4,.3-1.3,.1-1.3-.1-1.3-.2-1.2-.2-1.1-.2-1.1-.1-1.1-.1-1.1-.1-1.1-.2-1-.1-1.1-.2-1-.3-1.1-.3-1-.3-1-.3-1.1-.3-1-.2-1.1-.3-1-.3-1.1-.2-1-.2-1.1-.3-1.1-.2-1-.2-1.1-.3-1.1-.3-1-.4-1-.4-1-.4-1-.4-1-.5-.9-.6-1-.6-.9-.5-1-.5-.9-.5-1-.4-1-.5-1-.4-1-.4-1-.4-1-.4-1.1-.3-1-.4-1-.4-1-.4-1-.5-.9-.5-.9-.5-1-.6-.9-.5-.9-.6-.9-.6-.8-.7-.9-.6-.9-.5-1-.6-.9-.5-.9-.6-1-.5-.9-.5-.9-.5-1-.5-.9-.6-.9-.6-.9-.6-.8-.6-.9-.7-.9-.6-.9-.5-.9-.6-1-.4-1-.4-1.1-.4-1-.3-1-.4-1-.5-.9-.5-.9-.6-.9-.6-.8-.6-.9-.6-.9-.5-1-.4-1-.2-1-.1-1.1,0-1,0-1.1-.1-1-.2-1-.3-.9-.5-1-.4-.9-.5-.9-.5-.9-.4-1-.4-1-.3-1.2-.3-1.2-.1-1.4-.2-1.5-.2-1.4-.2-1.4-.2-1.2-.3-1-.3-.8-.5Z M648.8,179.6l.2-.2 .7-.4 1-.6 1.1-.6 1.2-.8 1-.8 .8-.8 .7-.8 .6-.9 .6-.7 .7-.8 .7-.8 .8-.7 .8-.7 .7-.8 .8-.8 .8-.8 .7-.7 .9-.8 .8-.7 .9-.6 1-.6 .9-.5 1-.4 1-.4 1.1-.4 1-.4 1-.4 1-.4 1-.3 1-.4 1-.2 1.1-.2 1.1-.2 1-.2 1.1-.1 1.1-.1 1-.1 1.1-.2 1-.3 1.1-.2 1-.4 1.1-.3 1-.3 1.1-.2 1.1,0 1.1,0 1.1,.1 1,.2 1.1,.1 1.1,.1 1.1-.1 1-.1 1.1-.2 1.1-.2 1.1-.3 1.1-.1 1.1-.1 1.1,0 1.1,0 1.1,.1 1,.2 1.1,.3 1.1,.3 1,.4 1,.4 1,.4 1.1,.4 1,.3 1,.3 1.1,.3 1,.2 1.1,.1 1.1,.2 1,.4 1,.4 1,.5 .9,.6 .9,.6 .9,.7 .9,.6 .9,.6 .9,.6 1,.4 1,.4 1,.3 1,.4 1.1,.3 1,.3 1,.3 1,.4 1.1,.3 1,.2 1.1,.3 1,.3 1.1,.2 1,.3 1,.3 1,.4 1,.5 .9,.6 .9,.6 .9,.7 .9,.7 .9,.7 .9,.6 .9,.6 1,.5 .9,.5 1,.5 .9,.6 1,.7 .8,.8 .8,.8 .6,1 .4,1.1 .3,1.1 .1,1.1 0,1.1 0,1.1 0,1.1 0,1.1 0,1 .2,1.1 .2,1.1 .3,1.1 .2,1 .3,1.1 .2,1 .2,1.1 .1,1.1 .2,1 .1,1.1 0,1.1 .1,1 0,1.1-.1,1.1 0,1.1-.1,1.1-.2,1.1-.1,1.1-.3,1-.2,1.1-.3,1.1-.3,1.1-.4,1-.6,1.1-.6,1-.7,.9-.9,.8-1.1,.6-1.1,.4-1.2,.2-1.2,0-1.2-.2-1.2-.1-1.1-.2-1.1-.1-1.1-.1-1.1-.2-1-.1-1.1-.1-1.1-.2-1-.2-1-.3-1.1-.3-1-.2-1-.3-1.1-.2-1-.2-1.1-.2-1-.3-1.1-.2-1-.3-1.1-.3-1-.3-1-.3-1-.4-1-.4-1-.4-1-.4-1-.4-1.1-.4-1-.4-1-.4-1-.3-1-.4-1-.4-1-.4-1-.4-1-.5-.9-.4-1-.5-.9-.5-1-.6-.9-.5-.9-.6-.9-.6-.9-.6-.9-.6-.9-.6-.9-.6-.8-.6-.9-.6-.9-.6-.9-.6-.9-.6-1-.5-.9-.5-1-.5-1-.4-1-.4-1-.4-1-.4-.9-.5-1-.4-.9-.6-.9-.5-1-.6-.9-.6-.9-.6-.9-.5-.9-.6-.9-.5-.9-.6-1-.5-.9-.5-1-.5-.9-.5-1-.5-.9-.6-.8-.6-.9-.7-.9-.6-.9-.6-.9-.6-1.1-.5-1-.3-1.1-.2-1.1-.1-1.2,0-1.1,0-1,.1-1.1,0-1,0-.9-.1-1-.2-.9-.3-1-.2-1.1-.3-1.1-.2-1.3-.2-1.4-.2-1.4-.2-1.5-.2-1.4-.2-1.2-.3-1.1-.3-.9-.5Z M649.5,179.8l0,.2 .6-.4 .9-.6 1.1-.7 1.1-.8 1.1-.8 .8-1 .7-.9 .5-.9 .6-.8 .5-.9 .7-.8 .7-.8 .7-.8 .9-.7 .9-.6 .9-.5 1-.5 1-.5 1-.5 .9-.5 .9-.6 .8-.6 .8-.7 .9-.7 .9-.7 .9-.6 .9-.5 1-.5 1-.3 1.1-.3 1-.2 1.1-.1 1.1,0 1.1,0 1.1,0 1.1,.1 1,0 1.1-.1 1.1-.1 1-.2 1.1-.2 1-.3 1.1-.2 1-.2 1.1-.1 1.1,0 1-.1 1.1-.1 1.1,0 1-.1 1.1-.1 1-.1 1.1,0 1.1,0 1,.1 1.1,.1 1.1,.1 1,.1 1.1,0 1.1-.1 1.1-.1 1.1-.1 1.1,0 1.1,0 1.1,.1 1,.1 1.1,.3 1,.3 1,.4 1.1,.4 1,.4 .9,.4 1,.5 1,.4 1,.5 .9,.5 1,.5 .9,.5 .9,.6 1,.6 .9,.5 1,.4 1,.4 1,.5 .9,.4 1,.5 .9,.5 1,.5 .9,.6 .9,.6 .9,.6 1,.5 .9,.4 1,.4 1.1,.4 1,.3 1,.4 1,.4 1,.5 1,.4 1,.5 .9,.4 1,.5 .9,.5 .8,.6 .9,.5 .8,.6 .8,.6 .8,.5 .7,.7 .8,.6 .8,.7 .7,.7 .8,.7 .6,.8 .5,.9 .5,.9 .3,1 .3,1 .2,1.1 .1,1 0,1.1 0,1.1-.1,1.1-.1,1.1-.2,1.1-.1,1.1 0,1 0,1.1 .1,1.1 .2,1 .3,1.1 .2,1 .2,1.1 .2,1.1 .1,1 0,1.1 0,1.1-.1,1-.1,1.1-.2,1-.3,1-.3,1-.5,1-.5,.9-.6,.8-.6,.8-.7,.6-.7,.5-.8,.4-.9,.2-1,.1-1-.1-1.1-.1-1-.2-1.2-.1-1.1-.1-1.1-.1-1,0-1.1,0-1.1,0-1-.1-1.1,0-1-.1-1.1-.1-1-.2-1.1-.2-1-.1-1.1-.2-1-.1-1.1-.2-1-.1-1.1-.2-1.1-.2-1-.3-1-.4-1-.4-1-.5-.9-.6-.9-.5-1-.5-.9-.4-1-.4-1.1-.3-1-.4-1-.3-1-.3-1-.4-1-.5-1-.4-.9-.6-.9-.5-1-.5-.9-.5-1-.5-1-.4-.9-.5-1-.4-1-.5-.9-.5-1-.5-.9-.5-1-.5-.9-.5-1-.4-1-.5-.9-.5-1-.4-1-.5-.9-.5-.9-.5-.9-.6-.9-.6-.9-.6-.9-.7-.9-.6-.8-.6-.9-.7-.9-.6-.8-.6-.9-.7-.9-.6-.8-.7-.9-.6-.9-.6-.9-.5-1-.5-.9-.5-1-.5-1-.4-1-.5-1-.4-1-.5-1-.4-1-.4-1-.4-1.1-.3-1.1-.2-1.1-.2-1.1-.2-1-.1-1.1-.2-1-.2-.9-.1-1-.2-.9-.2-1-.2-1-.2-1-.3-1.2-.4-1.2-.3-1.3-.4-1.4-.3-1.4-.3-1.3-.4-1.1-.2-.9-.2-.4-.1Z M648.6,179.5l.2-.3 .8-.5 1-.4 1.3-.4 1.3-.5 1.2-.5 1.2-.6 1-.6 .9-.8 .7-.7 .7-.8 .7-.7 .7-.7 .7-.8 .7-.7 .8-.7 .7-.7 .8-.7 .8-.6 .8-.7 .9-.6 .8-.5 .9-.5 .9-.5 1-.5 .9-.4 .9-.4 1-.4 .9-.5 .9-.4 1-.4 1-.3 1-.3 1-.2 1-.3 1.1-.2 1-.2 1-.2 1.1-.2 1-.2 1.1-.2 1-.3 1.1-.2 1.1-.2 1-.1 1.1-.1 1.1,0 1,.1 1.1,.1 1.1,.2 1,.2 1.1,.2 1.1,.2 1,.2 1.1,.1 1,0 1,0 1.1-.1 1-.1 1.1-.2 1.1-.1 1,0 1.1,.1 1,.2 1.1,.2 1,.3 1,.3 1,.3 1,.3 1,.3 1,.2 1,.3 1,.2 1,.3 1,.4 1,.4 1,.4 1,.4 .9,.5 1,.4 1,.5 .9,.5 1,.4 1,.5 1,.4 .9,.4 1,.5 1,.4 1,.5 1,.4 .9,.4 1,.4 1.1,.4 1,.4 .9,.4 1,.4 1,.5 1,.5 .9,.5 1,.6 .9,.5 1,.5 .9,.5 .9,.5 .9,.5 1,.4 .9,.3 .9,.4 .9,.5 .9,.5 .8,.7 .7,.7 .6,.7 .6,.9 .5,.9 .3,.9 .3,.9 .2,.9 .3,.9 .2,1 .2,1 .2,1 .2,1 .2,1 .2,1.1 .2,1.1 .1,1.1 .2,1 .1,1.1 0,1.1-.1,1.1-.1,1-.1,1.1-.1,1.1-.1,1-.1,1.1 0,1.1 0,1 0,1 .1,1.1-.1,1 0,.9-.2,1-.3,.9-.4,.9-.5,.9-.4,.8-.5,.7-.6,.7-.6,.5-.7,.4-.8,.2-.9,.1-1,0-1,0-1.1-.1-1.2,0-1.1-.1-1.1-.1-1.1,0-1,.1-1.1,0-1.1,0-1-.1-1.1-.1-1-.2-1-.2-1-.3-1.1-.2-1-.3-1-.2-1.1-.3-1-.2-1.1-.2-1-.2-1.1-.2-1-.2-1.1-.3-1-.3-1-.4-.9-.4-1-.5-1-.4-1-.4-1-.4-1-.4-.9-.5-.9-.5-.9-.6-.9-.6-.9-.7-.9-.6-.8-.6-.9-.6-1-.6-.9-.5-.9-.5-1-.5-.9-.5-1-.5-.9-.5-.9-.5-1-.5-.9-.5-1-.5-1-.4-1-.4-1-.4-1-.4-1-.4-1-.4-.9-.5-1-.5-.9-.6-.9-.5-.9-.6-.9-.6-.9-.6-.9-.6-.9-.5-1-.5-.9-.5-1-.5-.9-.6-.9-.5-.9-.6-.9-.6-.9-.6-.9-.6-.9-.5-1-.5-1-.5-1-.5-.9-.4-1-.5-1-.5-1.1-.4-1-.4-1.1-.4-1.1-.3-1.1-.2-1.1-.2-1-.1-1-.2-1-.2-.9-.1-1-.2-1-.1-1-.1-1.1-.1-1.2-.1-1.2-.1-1.4-.1-1.5-.1-1.4-.2-1.3-.3-1.2-.3-.9-.3-.5-.4Z M648.8,179.6l.2-.2 .7-.4 1.1-.4 1.3-.3 1.3-.4 1.4-.4 1.2-.6 1-.8 .9-.8 .7-.8 .5-.9 .6-.9 .5-.8 .6-.8 .7-.8 .7-.8 .8-.7 .8-.6 .9-.6 .9-.5 .9-.5 .9-.4 1-.4 .9-.4 1-.4 .9-.4 .9-.4 1-.3 .9-.4 1-.3 .9-.4 1-.3 1-.3 1-.3 1-.2 1-.2 1-.2 1.1-.1 1-.1 1.1-.1 1,0 1.1,0 1.1,.1 1.1,.1 1,.1 1.1,.2 1.1,.1 1,.1 1.1,0 1-.1 1-.2 1-.3 1.1-.3 1-.3 1.1-.3 1-.2 1-.1 1.1,0 1,.1 1.1,.2 1,.1 1,.2 1,.2 1.1,.2 1,.2 1,.1 1.1,.1 1,0 1.1,0 1,.1 1.1,.1 1,.3 1,.4 .9,.5 .9,.6 .9,.6 .8,.7 .9,.6 .9,.6 1,.4 1,.3 1.1,.2 1.1,.3 1.1,.2 1,.2 1.1,.3 1,.3 1,.4 1,.4 1,.5 .9,.6 .9,.7 .8,.7 .9,.7 .9,.7 .9,.7 .9,.7 .9,.6 1,.6 .9,.4 1,.5 1,.3 1,.3 1,.3 .9,.3 1,.3 .9,.4 .9,.4 .8,.4 .7,.6 .7,.6 .6,.8 .5,.8 .4,.8 .4,.8 .4,.8 .3,.8 .3,.8 .3,.8 .3,.9 .3,.9 .2,1 .2,1 .1,1 .1,1.1 0,1.1 .1,1 .1,1.1 .1,1.1 .1,1 .1,1.1 .1,1.1 .1,1 .1,1.1 0,1.1 0,1 0,1.1 0,1 0,1 0,1 0,1-.1,1-.1,.9-.3,.9-.5,.9-.5,.7-.6,.7-.7,.5-.6,.4-.5,.2-.5,.1-.6,0-.7,0-.9,0-.9-.1-1-.1-1.1-.1-1.2,0-1-.1-1.1,0-1.1-.1-1,0-1.1,0-1-.1-1-.2-1.1-.1-1-.2-1-.1-1-.2-1.1-.1-1,0-1.1-.1-1-.1-1.1-.2-1-.2-1-.2-1-.3-1-.3-1-.4-1-.4-.9-.4-1-.3-1-.3-1.1-.3-1-.3-.9-.4-1-.4-1-.5-.9-.4-1-.4-1-.4-1-.4-1-.4-1-.4-1-.4-1-.5-.9-.4-1-.5-.9-.5-.9-.6-1-.5-.9-.6-.9-.6-.8-.7-.9-.7-.8-.7-.8-.7-.8-.7-.9-.7-.9-.5-1-.5-1-.5-1-.3-1-.4-1-.4-.9-.5-1-.5-.9-.5-1-.5-.9-.6-.9-.5-.9-.6-.9-.6-.9-.6-.9-.5-.9-.6-.9-.6-.9-.6-.9-.6-.9-.6-.9-.6-1-.5-1-.4-1.1-.3-1.1-.3-1.1-.3-1.1-.2-1.2-.2-1.1-.2-1.1-.3-1-.3-1.1-.4-1-.3-1-.4-.9-.4-.9-.3-1-.2-.9-.2-1-.2-1.1-.1-1.2-.1-1.3,0-1.4-.1-1.4,0-1.5-.1-1.3-.2-1.1-.2-.8-.3-.3-.3Z" stroke="#d8000a" stroke-width="0.55" fill="none"/>
<path d="M651,179.5l0,.1 .1,0 0-.1 .1,0 .1-.1 .2,0 .1-.1 .2-.1 .2,0 .2-.1 .2-.1 .2-.1 .3,0 .2-.1 .3,0 .2-.1 .3-.1 .3,0 .3-.1 .3,0 .3-.1 .3,0 .3-.1 .3,0 .3-.1 .3,0 .3-.1 .3,0 .3,0 .3-.1 .3,0 .3,0 .3-.1 .3,0 .3,0 .3-.1 .2,0 .3,0 .2,0 .3-.1 .2,0 .3,0 .2,0 .3,0 .2,0 .3,0 .2-.1 .2,0 .2,0 .3,0 .2,0 .2,0 .2,0 .2,0 .3,0 .2,0 .2,0 .2,0 .2,0 .2,0 .2,0 .3,0 .2,0 .2,0 .2,.1 .2,0 .2,0 .2,0 .2,0 .3,0 .2,0 .2,.1 .2,0 .2,0 .2,0 .3,0 .2,.1 .2,0 .2,0 .2,.1 .2,0 .3,0 .2,.1 .2,0 .2,.1 .2,0 .3,.1 .2,0 .2,.1 .2,0 .2,.1 .3,.1 .2,.1 .2,0 .2,.1 .3,.1 .2,.1 .2,.1 .2,.1 .3,.1 .2,.1 .2,.1 .2,.1 .3,.1 .2,.2 .2,.1 .2,.1 .2,.2 .2,.1 .2,.1 .2,.2 .2,.1 .2,.2 .1,.1 .1,.1 .2,.2 0,.1 .1,.1 .1,.1 0,.1 .1,.1 0,.1 0,.1 0,.1 0,.1 0,.1-.1,.1 0,.1-.1,.2-.1,.1-.1,.1-.1,.2-.2,.2-.1,.1-.2,.2-.2,.1-.2,.2-.1,.1-.2,.2-.2,.1-.3,.1-.2,.2-.2,.1-.2,.1-.2,.1-.2,.1-.3,.1-.2,.1-.2,.1-.2,.1-.2,0-.3,.1-.2,.1-.2,0-.2,.1-.2,0-.3,0-.2,.1-.2,0-.2,0-.2,0-.3,0-.2,.1-.2,0-.2,0-.3,0-.2-.1-.2,0-.2,0-.2,0-.3,0-.2,0-.2-.1-.2,0-.3,0-.2-.1-.2,0-.2,0-.3-.1-.2,0-.2-.1-.2,0-.2,0-.3-.1-.2,0-.2-.1-.2,0-.2-.1-.2,0-.3-.1-.2,0-.2-.1-.2,0-.2-.1-.2,0-.2-.1-.2,0-.2-.1-.3,0-.2-.1-.2,0-.2-.1-.2-.1-.2,0-.2-.1-.2-.1-.3,0-.2-.1-.2-.1-.2,0-.2-.1-.3-.1-.2-.1-.2,0-.3-.1-.2-.1-.2-.1-.3-.1-.2-.1-.3-.1-.2-.1-.3-.1-.2-.1-.3-.1-.3-.1-.2-.1-.3-.1-.3-.2-.3-.1-.2-.1-.3-.1-.3-.2-.3-.1-.2-.1-.3-.2-.3-.1-.2-.1-.2-.1-.3-.2-.2-.1-.2-.1-.2-.2-.2-.1-.2-.1-.1-.2-.2-.1-.1-.1-.1-.1-.1-.1-.1-.1 0-.1Z M649,179.8l.1,.3 .1,.2 .1,.2 .2,.2 .1,.2 .2,.2 .2,.2 .2,.1 .2,.2 .2,.1 .2,.2 .2,.1 .3,.2 .2,.1 .2,.2 .3,.1 .3,.2 .2,.1 .3,.2 .3,.1 .3,.2 .3,.1 .2,.1 .3,.2 .3,.1 .3,.1 .3,.2 .2,.1 .3,.1 .3,.1 .3,.2 .2,.1 .3,.1 .2,.1 .3,.1 .2,.1 .3,.1 .2,.1 .3,.1 .2,.1 .3,.1 .2,.1 .2,.1 .3,.1 .2,.1 .2,.1 .2,.1 .3,0 .2,.1 .2,.1 .2,.1 .3,0 .2,.1 .2,.1 .2,.1 .2,0 .2,.1 .3,.1 .2,0 .2,.1 .2,0 .2,.1 .3,.1 .2,0 .2,.1 .2,0 .2,.1 .3,.1 .2,0 .2,.1 .3,0 .2,.1 .2,0 .3,.1 .2,0 .2,.1 .3,0 .2,0 .3,.1 .2,0 .3,.1 .2,0 .3,0 .2,0 .3,.1 .3,0 .2,0 .3,0 .3,0 .2,0 .3,0 .3,0 .2,0 .3-.1 .3,0 .2,0 .3-.1 .3,0 .3-.1 .2,0 .3-.1 .3-.1 .3-.1 .2,0 .3-.1 .3-.2 .3-.1 .3-.1 .2-.1 .3-.2 .3-.1 .2-.2 .3-.1 .3-.2 .2-.2 .3-.2 .2-.2 .3-.2 .2-.2 .3-.2 .2-.2 .2-.2 .2-.3 .2-.2 .1-.3 .2-.3 .1-.2 .1-.3 .1-.3 .1-.4 0-.3 0-.3-.1-.4 0-.3-.1-.3-.2-.3-.1-.2-.2-.3-.2-.2-.2-.3-.2-.2-.2-.2-.2-.2-.3-.2-.2-.2-.3-.2-.2-.1-.3-.2-.2-.2-.3-.1-.3-.2-.2-.1-.3-.1-.3-.2-.2-.1-.3-.1-.3-.1-.2-.1-.3-.1-.2-.1-.3-.1-.3-.1-.2-.1-.3-.1-.2-.1-.3,0-.2-.1-.3-.1-.2,0-.3-.1-.2,0-.3-.1-.2,0-.3-.1-.2,0-.2,0-.3-.1-.2,0-.3,0-.2-.1-.2,0-.3,0-.2,0-.2,0-.2-.1-.3,0-.2,0-.2,0-.2,0-.3,0-.2-.1-.2,0-.2,0-.3,0-.2,0-.2,0-.2,0-.3,0-.2,0-.2,0-.3,0-.2,0-.2,0-.3,0-.2,0-.2,0-.3,0-.2,0-.3,0-.2,0-.3,0-.2,.1-.3,0-.2,0-.3,0-.3,0-.2,.1-.3,0-.3,0-.3,.1-.3,0-.3,0-.3,.1-.3,0-.3,.1-.3,0-.3,0-.3,.1-.3,.1-.3,0-.4,.1-.3,0-.3,.1-.3,.1-.3,0-.4,.1-.3,.1-.3,0-.3,.1-.3,.1-.3,.1-.3,.1-.2,.1-.3,.1-.3,.1-.2,.1-.3,.1-.2,.1-.2,.1-.2,.1-.2,.1-.2,.2-.2,.2-.2,.1-.1,.2-.2,.3-.1,.2-.1,.3 0,.3Z" fill="#f30010" fill-rule="nonzero"/>
<path d="M649.3,179.5l.2-.2 .1-.2 .1-.2 .1-.1 0-.3 .1-.2 .1-.3 .1-.2 .2-.2 .2-.1 .2-.1 .3,0 .3,0 .3,0 .3,0 .3,0 .2,0 .3-.1 .3,0 .3-.1 .3-.1 .3-.1 .3-.1 .2-.2 .3-.2 .3-.3 .3-.3 .3-.3 .3-.2 .3-.2 .3-.1 .3-.1 .3,.1 .4,.1 .3,.2 .3,.2 .4,.1 .3,.1 .3,.1 .3,0 .2,.1 .3,0 .3,0 .3,.1 .2,0 .3,.1 .2,0 .3,0 .2,0 .3-.2 .2-.1 .2-.3 .3-.2 .2-.2 .2-.2 .3-.1 .2-.1 .2,0 .3,.1 .2,0 .2,.1 .3,.1 .2,.1 .2,.2 .2,.1 .2,.1 .3,.1 .2,.1 .2,.2 .2,.1 .2,.1 .2,.2 .2,0 .3,.1 .2,.1 .2-.1 .2-.1 .3-.2 .3-.3 .2-.3 .3-.3 .3-.2 .2-.1 .3-.1 .3,.1 .2,.1 .2,.1 .3,.2 .2,.2 .2,.1 .3,0 .2,.1 .3,0 .3,.1 .2,.1 .3,.1 .2,.1 .2,.2 .3,.2 .2,.2 .2,.1 .2,.2 .3,.1 .3,.1 .3,0 .3,.1 .3-.1 .4,0 .4,0 .3,0 .4,0 .3,.1 .4,.1 .3,.2 .2,.2 .2,.4 .1,.3 .1,.4 .1,.4 .1,.3 .1,.4 .1,.3 .1,.3 .1,.3 .1,.2 .1,.3 .1,.4 .1,.3-.1,.3 0,.4-.1,.3-.1,.3-.1,.3-.2,.3-.1,.3-.2,.2-.1,.3-.2,.3-.3,.2-.2,.2-.2,.2-.3,.2-.3,.2-.3,.2-.2,.1-.3,.2-.3,.1-.3,.1-.3,.2-.2,.2-.3,.2-.3,.1-.2,.1-.3,.1-.3,.1-.3,0-.3,.1-.3,0-.3,0-.2,.1-.3,.1-.3,.1-.2,.1-.3,0-.3,0-.3,0-.2-.1-.3-.2-.3-.1-.2-.2-.3-.1-.2-.1-.3,0-.2,.1-.3,.1-.3,.2-.3,.2-.2,.1-.3,.1-.3,0-.2,0-.3,0-.2-.1-.2-.1-.3-.1-.2-.2-.2,0-.2-.1-.3-.1-.2,0-.2-.1-.3,0-.2,0-.2,.1-.3,0-.2,0-.2-.1-.2-.1-.2-.3-.2-.3-.1-.2-.2-.2-.2-.2-.2,0-.3,0-.2,.1-.3,.2-.3,.2-.3,.1-.3,0-.2-.1-.2-.1-.2-.1-.2-.2-.2-.2-.2-.1-.3-.2-.2-.1-.2-.1-.2-.1-.3-.1-.2-.2-.2-.2-.2-.1-.3-.2-.2-.1-.3-.1-.3,0-.3-.1-.3,0-.3-.1-.3-.1-.3-.2-.2-.1-.3-.2-.3-.1-.3-.1-.3-.1-.3-.1-.3-.2-.3-.1-.2-.1-.3-.1-.3-.1-.3-.2-.2-.2-.2-.2-.1-.3-.1-.3-.1-.3-.1-.2-.1-.3-.1-.2-.1-.2-.2,0-.3-.1-.2-.1-.3-.2-.2-.2Z M650.2,179.5l-.3-.1-.2-.3-.1-.3-.1-.2 .1-.3 .1-.2 .2-.2 .2-.2 .2-.1 .2-.1 .2-.1 .3-.1 .2-.1 .3,0 .3,0 .3,.1 .3,.1 .4,.1 .3,.1 .3,0 .3,.1 .3,0 .3-.1 .3-.1 .3-.1 .3-.1 .3-.1 .3,0 .3-.1 .4,0 .3,0 .3-.1 .3-.1 .3-.1 .3,0 .3-.1 .3,0 .3,0 .3,.1 .3,.1 .2,.1 .3,.1 .3,0 .2,0 .3,0 .2-.1 .3-.1 .2-.1 .3-.1 .2-.1 .2-.1 .3-.2 .2-.1 .2-.1 .3,0 .2,0 .2,0 .2,.1 .3,.1 .2,.1 .2,.1 .2,.1 .2,0 .3,0 .2-.1 .2-.1 .2-.1 .2-.1 .3,0 .2,0 .2,0 .2,.1 .2,.2 .2,.2 .2,.2 .3,.2 .2,.1 .2,.1 .2,0 .2-.1 .3,0 .2-.1 .2,0 .3,0 .2,0 .2,0 .3,0 .2,0 .3,0 .2-.1 .3,0 .2,.1 .2,.1 .2,.1 .3,.1 .2,.2 .2,.1 .2,.1 .3,.1 .2,.1 .2,.1 .3,.1 .2,.2 .2,.1 .2,.1 .3,.2 .2,.2 .2,.1 .3,.1 .2,.1 .3,.1 .2,.1 .3,.1 .2,.2 .3,.1 .2,.1 .2,.2 .2,.1 .2,.2 .2,.1 .2,.2 .2,.1 .2,.1 .3,.2 .2,.2 .2,.2 .2,.3 0,.3 0,.3-.1,.3-.3,.2-.3,.2-.4,0-.4,.1-.3,0-.3,.1-.1,.1-.2,.3 0,.2-.1,.3 0,.4-.1,.3-.1,.3-.2,.3-.3,.1-.2,.2-.3,.1-.3,0-.3,.1-.3,0-.3,0-.3,0-.3,0-.2,0-.3,.1-.2,0-.3,.1-.2,0-.2,.1-.3,.1-.2,0-.2,.1-.3,0-.2,.1-.3,0-.2,0-.2,.1-.3,.1-.2,.1-.2,.1-.3,.1-.2,0-.3-.1-.2-.1-.2-.2-.2-.3-.2-.2-.2-.2-.2-.2-.3-.2-.2-.1-.2,0-.2,.1-.3,.1-.2,.1-.3,.2-.3,0-.2,.1-.2,0-.2-.1-.3,0-.2,0-.3,.1-.2,.1-.3,.2-.3,.2-.2,.1-.3,.2-.3,.1-.2,0-.2-.2-.2-.1-.2-.3-.1-.3-.2-.2-.1-.3-.2-.2-.2-.3-.1-.2-.2-.2-.2-.1-.2-.1-.3,.1-.3,.1-.3,.1-.3,.2-.3,.1-.2,0-.3-.2-.2-.2-.1-.2-.2-.4-.1-.3-.2-.3-.2-.2-.2-.1-.3,0-.4,0-.3,.1-.3,0-.4,0-.3,0-.3,0-.3-.2-.2-.2-.2-.3-.2-.4-.2-.3-.2-.3-.2-.1-.3-.1-.4,.1-.4,.1-.4,.1-.4,.2-.3,0-.4,0-.2-.1-.1-.3-.1-.3-.1-.3 0-.3-.1-.2-.1-.2-.1-.1-.1-.2 0-.1-.1-.1 0-.2Z M651.3,179.5l0,.1-.1,.1 0,.1-.1-.1-.1-.1 0-.2 0-.2 0-.3 .1-.1 .2-.2 .2-.1 .2,0 .3,0 .2,0 .3,.1 .3,0 .3,.1 .3,.1 .3,0 .3,0 .3,0 .3,0 .3-.1 .2,0 .3-.1 .3-.1 .3-.1 .4,0 .3,0 .3,0 .3,0 .3,0 .3-.2 .3-.1 .2-.2 .3-.1 .3-.1 .2-.1 .3,0 .3,.1 .3,.1 .3,.1 .2,.1 .3,0 .2-.1 .2-.1 .3-.2 .2-.2 .2-.1 .3-.1 .2-.1 .2,0 .3,.1 .2,0 .2,.1 .2,0 .2,.1 .3,0 .2-.1 .2-.2 .2-.1 .2-.2 .3-.1 .2-.1 .2,0 .2,.1 .2,.1 .2,.2 .2,.1 .2,.2 .2,.2 .3,.1 .2,0 .2,0 .2,0 .2,0 .2,0 .3,0 .2,.2 .2,.2 .1,.2 .2,.3 .2,.3 .2,.3 .1,.2 .2,.1 .3-.1 .2-.1 .2-.1 .3-.1 .3-.2 .2-.1 .3-.2 .3-.1 .2-.1 .3,0 .2,0 .3,.1 .2,.2 .2,.2 .1,.2 .2,.3 .1,.4 .1,.3 .1,.2 .2,.2 .2,.2 .2,.1 .3,.1 .2,.1 .2,.1 .2,.1 .2,0 .3,0 .2,.1 .3,0 .3,0 .3-.1 .2,0 .3,.1 .2,0 .3,.1 .1,.2 .1,.2 0,.1-.1,.2-.1,.2-.1,.1-.2,.1-.2,.1-.2,0-.3,.1-.2,0-.2,0-.1,.1-.1,.2-.1,.2 0,.2-.1,.2-.1,.3-.2,.2-.1,.1-.2,.2-.3,.1-.2,.1-.2,.1-.2,.1-.2,.2-.2,.1-.2,.2-.2,.1-.2,.1-.3,.1-.2,.1-.2,0-.2,.1-.2,.1-.3,0-.2,.1-.2,0-.2,0-.3,0-.2,.1-.2,.1-.2,.1-.2,.1-.3,.1-.2,0-.2,.1-.3,0-.2-.1-.2-.1-.2-.1-.3-.2-.2-.1-.2-.1-.2-.1-.2-.1-.2,0-.3,.1-.2,0-.2,0-.3,0-.2-.1-.2,0-.2-.1-.2,0-.3,0-.2,0-.3,.1-.2,.1-.3,.1-.2,.1-.2,0-.3-.1-.1-.1-.2-.3-.2-.3-.1-.3-.1-.4-.2-.2-.1-.2-.2-.1-.3,0-.2,.1-.3,.1-.2,.1-.3,0-.2,.1-.3,0-.2,.1-.3,0-.2,0-.3,0-.2,0-.3-.1-.2-.1-.2-.2-.2-.2-.1-.2-.2-.3-.3-.1-.2,0-.3,0-.3,.1-.4,.1-.3,.1-.3,0-.3-.1-.2-.2-.2-.4-.2-.4-.1-.4-.2-.4-.2-.3-.2-.2-.2-.2-.3-.1-.3,0-.3-.1-.3-.1-.2,0-.3-.1-.2-.1-.2-.1-.3-.1-.2,0-.3,0-.3,0-.2,0-.2,0-.2-.1-.2-.1 0-.1-.1-.1 0-.1 .1-.1 .1-.1Z" stroke="#d8000a" stroke-width="0.55" fill="none"/>
</g>
<clipPath id="cp33"><rect x="630.50" y="252.60" width="149.20" height="99.20"/></clipPath>
<g clip-path="url(#cp33)">
<path d="M641.1,298.8l2-3.1 1.8-1.3 1.6-.9 1.4-.6 1.2-.5 1.2-.6 1.1-.4 1.1-.5 1.1-.4 1.1-.4 1.1-.3 1.3-.3 1.3-.3 1.3-.2 1.5-.1 1.5,0 1.5,.1 1.6,.2 1.5,.3 1.1,.3 .6,0-.3-.1-1.6,.1-2.9,1.4-1.4,1.7-.5,.7-.1-.1 0-.7-.1-1 0-1.3 0-1.3 .1-1.3 .1-1.2 .2-1.3 .2-1.3 .2-1.4 .3-1.3 .4-1.3 .5-1.3 .5-1.3 .5-1.3 .7-1.3 .7-1.3 .8-1.3 .9-1.3 1-1.3 1.2-1.2 1.2-1.1 1.3-1.1 1.3-.9 1.3-.8 1.4-.7 1.4-.7 1.3-.5 1.4-.5 1.4-.4 1.4-.4 1.4-.3 1.3-.2 1.4-.1 1.3-.2 1.3,0 1.3-.1 1.3,.1 1.2,0 1.3,.1 1.2,.1 1.2,.1 1.2,.2 1.2,.2 1.1,.2 1.2,.2 1.1,.2 1.2,.2 1.1,.3 1.2,.3 1.1,.3 1.2,.3 1.1,.4 1.2,.4 1.1,.4 1.1,.4 1.1,.5 1.2,.4 1.1,.6 1.1,.5 1.1,.5 1,.6 1.1,.6 1,.6 1,.7 1,.6 1,.7 1,.7 1,.7 .9,.7 1,.7 .9,.8 .9,.8 .9,.8 .9,.8 .8,.8 .8,.8 .9,.8 .8,.8 .8,.8 .7,.9 .8,.8 .7,.9 .7,.8 .8,.8 .7,.9 .7,.8 .6,.9 .7,.8 .7,.9 .6,.9 .7,.8 .7,.9 .6,.9 .7,.9 .6,1 .6,.9 .7,1 .6,1 .6,1 .6,1 .6,1.1 .5,1.1 .6,1.1 .5,1.1 .5,1.1 .4,1.2 .5,1.2 .4,1.2 .4,1.2 .4,1.3 .3,1.3 .3,1.3 .2,1.3 .2,1.3 .2,1.4 .1,1.4 .1,1.4 0,1.5-.1,1.6-.2,1.6-.3,1.8-.4,1.8-.6,1.8-.8,1.8-1,1.9-1.3,1.7-1.3,1.5-1.4,1.4-1.6,1.2-1.6,1.1-1.7,.9-1.7,.8-1.8,.7-1.7,.5-1.7,.3-1.7,.3-1.6,.1-1.5,0-1.4,0-1.4,0-1.4-.2-1.2-.1-1.3-.2-1.1-.2-1.1-.2-1.2-.3-1-.2-1.1-.3-1.1-.3-1-.3-1.1-.3-1-.3-1-.4-1-.3-1-.4-1-.3-.9-.4-1-.3-1-.4-.9-.4-1-.3-1-.4-.9-.4-1-.4-.9-.4-1-.4-.9-.3-.9-.4-1-.4-.9-.4-.9-.4-1-.4-.9-.4-.9-.4-.9-.3-.9-.4-1-.4-.9-.4-.9-.4-.9-.4-1-.4-.9-.4-.9-.4-.9-.4-1-.4-.9-.4-.9-.4-1-.5-.9-.4-.9-.4-1-.5-.9-.5-.9-.4-1-.5-.9-.5-.9-.5-1-.5-.9-.5-.9-.5-.9-.5-.9-.5-.9-.5-.9-.5-.9-.5-.9-.5-.9-.5-.8-.5-.9-.5-.8-.5-.9-.5-.8-.5-.8-.4-.8-.5-.8-.4-.7-.4-.8-.4-.7-.4-.8-.4-.8-.4-.8-.4-.8-.4-.9-.4-.9-.4-1-.4-1-.4-1.1-.5-1.3-.5-1.4-.6-1.4-.8-1.5-1-1.7-1.6-1.7-3Z M653.1,300l-.8-1.5-.2-.2 .3,.3 .7,.5 1,.5 1.1,.6 1.1,.7 1.1,.6 1,.6 1,.6 .9,.5 .9,.6 .9,.5 .8,.5 .8,.5 .8,.4 .7,.5 .8,.5 .7,.4 .8,.5 .7,.4 .8,.5 .8,.5 .8,.4 .8,.5 .8,.4 .9,.5 .8,.5 .9,.4 .8,.5 .9,.4 .8,.5 .9,.4 .9,.5 .9,.4 .8,.4 .9,.4 .9,.4 .9,.4 .8,.4 .9,.4 .9,.4 .9,.3 .8,.4 .9,.4 .9,.3 .9,.3 .9,.4 .8,.3 .9,.3 .9,.3 .9,.4 .9,.3 .9,.3 .9,.2 .9,.3 .9,.3 1,.3 .9,.3 .9,.2 .9,.3 1,.3 .9,.2 .9,.3 .9,.2 1,.2 .9,.3 .9,.2 1,.2 .9,.2 .9,.2 .9,.2 1,.2 .9,.1 .9,.2 .9,.2 .9,.1 .9,.2 .9,.1 .9,.1 .9,.1 .9,.1 .9,.1 .9,.1 .9,.1 .9,.1 .9,0 .9,.1 .8,0 .9,0 .8,0 .7,0 .7-.1 .7-.1 .5-.1 .5-.1 .5-.2 .3-.2 .3-.2 .2-.2 .2-.2 .2-.3 .1-.3 .1-.3 .1-.2 0-.3 0-.1 0-.2 0-.2 0-.3 0-.3 .1-.5 0-.4 0-.6 0-.6-.1-.7 0-.7-.1-.7 0-.7-.1-.7-.1-.8-.1-.7-.2-.7-.1-.7-.2-.8-.1-.7-.2-.8-.2-.7-.3-.8-.2-.7-.3-.8-.3-.7-.3-.8-.3-.8-.3-.8-.4-.7-.4-.8-.3-.8-.4-.8-.5-.8-.4-.8-.4-.8-.5-.8-.5-.8-.4-.8-.5-.7-.5-.8-.5-.7-.5-.8-.5-.7-.5-.7-.6-.7-.5-.7-.5-.7-.6-.7-.5-.6-.6-.7-.5-.6-.6-.6-.6-.6-.6-.6-.6-.6-.6-.6-.7-.5-.6-.5-.7-.6-.6-.5-.7-.5-.7-.5-.7-.4-.7-.5-.7-.4-.7-.4-.8-.4-.7-.3-.8-.4-.7-.3-.8-.3-.8-.3-.8-.3-.8-.2-.8-.3-.8-.2-.8-.2-.9-.2-.8-.2-.9-.1-.8-.1-.9-.2-.9-.1-.8,0-.9-.1-.8-.1-.9,0-.8,0-.8,0-.8,.1-.8,0-.7,.1-.8,.1-.7,.2-.7,.1-.8,.2-.7,.2-.6,.2-.7,.3-.6,.3-.6,.3-.6,.3-.5,.3-.5,.3-.5,.4-.5,.4-.4,.4-.5,.5-.4,.6-.5,.5-.4,.6-.3,.6-.4,.6-.3,.7-.3,.6-.3,.6-.2,.7-.2,.7-.2,.7-.1,.8-.2,.9-.1,.9-.2,1.1-.1,1.2-.2,1.4-.4,1.7-.7,1.8-1.7,2.2-2.8,1.5-2.4,.2-1.8-.2-1.4-.4-1.1-.3-.8-.2-.8-.2-.7-.1-.7,0-.7,0-.6,0-.7,.1-.7,.1-.7,.1-.7,.2-.8,.2-.6,.3-.7,.3-.8,.4-.8,.4-.7,.5-.3,.3 .2-.1 .9-1.4Z" fill="#bfcbf4" fill-rule="nonzero" stroke="#bfcbf4" stroke-width="0.8"/>
<g fill="#bfcbf4"><circle cx="707.6" cy="282.1" r="0.8"/><circle cx="751.7" cy="301.3" r="1.0"/><circle cx="662.1" cy="293.5" r="0.8"/><circle cx="744.1" cy="288.7" r="1.0"/><circle cx="736.6" cy="325.2" r="0.7"/><circle cx="714.9" cy="285.3" r="1.0"/><circle cx="725.9" cy="344.5" r="1.1"/><circle cx="673.4" cy="325.0" r="1.0"/><circle cx="640.8" cy="303.6" r="0.9"/><circle cx="694.3" cy="260.7" r="1.2"/><circle cx="674.5" cy="266.0" r="1.1"/><circle cx="664.7" cy="302.6" r="1.2"/><circle cx="704.1" cy="339.5" r="1.0"/><circle cx="650.8" cy="289.6" r="1.1"/><circle cx="665.2" cy="274.5" r="1.2"/><circle cx="703.0" cy="259.5" r="0.9"/><circle cx="658.1" cy="314.5" r="1.2"/><circle cx="656.8" cy="287.7" r="1.1"/><circle cx="696.0" cy="320.3" r="0.8"/><circle cx="702.8" cy="336.8" r="0.8"/><circle cx="719.1" cy="325.3" r="1.0"/><circle cx="663.7" cy="277.1" r="1.1"/><circle cx="672.3" cy="310.1" r="0.7"/><circle cx="700.5" cy="260.2" r="1.1"/><circle cx="694.7" cy="335.6" r="0.9"/><circle cx="718.8" cy="326.6" r="1.1"/><circle cx="751.3" cy="337.7" r="0.7"/><circle cx="673.7" cy="324.5" r="1.0"/><circle cx="677.5" cy="290.1" r="0.8"/><circle cx="700.1" cy="335.4" r="1.0"/><circle cx="661.8" cy="316.9" r="0.7"/><circle cx="733.7" cy="345.7" r="1.2"/><circle cx="751.5" cy="337.9" r="1.2"/><circle cx="710.7" cy="338.7" r="0.9"/><circle cx="695.8" cy="276.8" r="0.9"/><circle cx="715.2" cy="265.5" r="1.2"/><circle cx="655.8" cy="298.9" r="1.1"/><circle cx="652.7" cy="313.0" r="0.9"/><circle cx="694.0" cy="279.3" r="0.8"/><circle cx="741.0" cy="284.1" r="0.8"/><circle cx="692.4" cy="333.3" r="1.0"/><circle cx="722.5" cy="344.2" r="1.1"/><circle cx="686.8" cy="279.7" r="0.8"/><circle cx="732.8" cy="312.6" r="1.0"/><circle cx="695.6" cy="333.0" r="0.9"/><circle cx="740.4" cy="284.5" r="1.1"/><circle cx="700.5" cy="260.3" r="0.7"/><circle cx="686.6" cy="279.1" r="0.7"/><circle cx="728.3" cy="343.7" r="1.1"/><circle cx="656.3" cy="300.9" r="0.8"/><circle cx="705.3" cy="260.4" r="1.1"/><circle cx="729.5" cy="345.6" r="1.2"/><circle cx="713.3" cy="284.9" r="1.0"/><circle cx="691.8" cy="332.0" r="1.2"/><circle cx="747.3" cy="290.5" r="1.0"/><circle cx="756.0" cy="322.5" r="1.2"/><circle cx="735.6" cy="276.5" r="1.2"/><circle cx="720.1" cy="266.5" r="0.7"/><circle cx="725.9" cy="300.2" r="0.7"/><circle cx="758.7" cy="316.7" r="0.7"/><circle cx="756.2" cy="307.5" r="1.1"/><circle cx="734.4" cy="327.3" r="1.2"/><circle cx="732.3" cy="347.9" r="1.1"/><circle cx="724.4" cy="271.1" r="0.8"/><circle cx="690.9" cy="278.0" r="1.2"/><circle cx="657.6" cy="303.2" r="1.1"/><circle cx="741.6" cy="287.8" r="0.8"/><circle cx="673.4" cy="325.0" r="0.8"/><circle cx="696.1" cy="320.0" r="0.8"/><circle cx="714.9" cy="266.2" r="1.1"/><circle cx="751.2" cy="296.2" r="1.1"/><circle cx="658.3" cy="315.8" r="0.8"/><circle cx="677.1" cy="260.4" r="1.2"/><circle cx="672.4" cy="324.7" r="0.9"/><circle cx="701.4" cy="262.3" r="1.1"/><circle cx="660.9" cy="318.3" r="1.0"/><circle cx="663.5" cy="305.6" r="0.9"/><circle cx="661.2" cy="287.4" r="1.1"/><circle cx="711.0" cy="282.2" r="0.8"/><circle cx="733.3" cy="323.5" r="1.1"/><circle cx="736.9" cy="345.7" r="0.9"/><circle cx="698.4" cy="334.1" r="0.9"/><circle cx="688.2" cy="279.8" r="0.8"/><circle cx="662.2" cy="287.9" r="0.9"/><circle cx="696.9" cy="335.6" r="1.0"/><circle cx="737.3" cy="347.7" r="0.9"/><circle cx="698.1" cy="335.0" r="1.1"/><circle cx="674.5" cy="325.2" r="1.2"/><circle cx="683.3" cy="328.6" r="0.8"/><circle cx="688.4" cy="332.4" r="1.0"/><circle cx="669.8" cy="307.2" r="0.7"/><circle cx="652.8" cy="300.1" r="1.1"/><circle cx="672.9" cy="263.4" r="0.8"/><circle cx="678.0" cy="327.8" r="0.9"/><circle cx="734.2" cy="313.7" r="0.8"/><circle cx="665.4" cy="278.0" r="0.9"/><circle cx="690.4" cy="259.3" r="1.1"/><circle cx="733.9" cy="322.1" r="0.9"/><circle cx="707.6" cy="338.7" r="0.8"/><circle cx="738.4" cy="284.7" r="1.1"/><circle cx="750.8" cy="296.4" r="0.9"/><circle cx="716.4" cy="341.4" r="1.1"/><circle cx="714.3" cy="341.5" r="1.0"/><circle cx="699.6" cy="336.9" r="0.7"/><circle cx="708.7" cy="338.5" r="1.1"/><circle cx="710.7" cy="324.5" r="0.7"/><circle cx="686.6" cy="261.5" r="1.0"/><circle cx="640.0" cy="303.8" r="1.1"/><circle cx="680.4" cy="327.5" r="1.0"/><circle cx="759.2" cy="318.0" r="1.0"/></g>
<path d="M650.1,301.9l-.2,.4 .2-.4 .7-.5 .8-.5 .9-.5 .9-.4 .8-.4 .8-.2 .8-.3 .8-.2 .9-.2 .8-.1 .8-.1 .9,0 .8,0 .9,0 .9,.2 .9,.2 1,.2 1.1,.3 1.2,.3 1.3,.2 1.5-.1 1.6-.8 1-1.3 .5-1.3 .3-1.3 .2-1.3 .1-1.2 .2-1.1 .1-1 .2-.9 .2-.9 .2-.9 .2-.8 .3-.7 .3-.8 .3-.7 .4-.8 .4-.7 .4-.8 .5-.7 .5-.6 .5-.7 .6-.6 .6-.6 .6-.5 .6-.5 .6-.5 .7-.4 .7-.4 .8-.3 .7-.4 .8-.3 .8-.2 .8-.3 .8-.2 .9-.2 .8-.1 .9-.1 .9-.1 .8-.1 .9-.1 .9,0 .9,0 .9,0 .9,.1 .9,.1 .9,.1 1,.1 .9,.1 .9,.1 .9,.2 .9,.2 .9,.2 .9,.2 .9,.2 .8,.3 .9,.2 .9,.3 .8,.3 .9,.4 .8,.3 .8,.4 .8,.4 .8,.4 .8,.5 .8,.4 .7,.5 .8,.5 .7,.5 .8,.5 .7,.6 .7,.5 .7,.6 .7,.6 .6,.6 .7,.6 .6,.7 .6,.6 .7,.7 .6,.6 .6,.7 .5,.7 .6,.7 .6,.7 .5,.8 .6,.7 .5,.7 .5,.8 .6,.8 .5,.7 .5,.8 .5,.8 .5,.8 .5,.8 .5,.8 .4,.8 .5,.9 .5,.8 .4,.8 .4,.8 .5,.8 .4,.8 .4,.8 .3,.8 .4,.8 .4,.8 .3,.8 .3,.8 .3,.8 .3,.8 .3,.8 .2,.8 .3,.8 .2,.9 .2,.8 .1,.8 .2,.8 .1,.8 .2,.8 .1,.8 0,.9 .1,.8 0,.8 0,.7 0,.7-.1,.7-.1,.6-.1,.6-.1,.5-.2,.5-.1,.5-.3,.5-.3,.5-.3,.5-.4,.5-.5,.4-.4,.4-.5,.4-.6,.3-.6,.3-.7,.2-.7,.2-.8,.1-.8,.1-.9,.1-.9,0-.9,0-.9,0-1-.1-.9,0-1-.1-.9-.1-.9-.1-1-.2-.9-.1-.9-.2-1-.1-.9-.2-.9-.2-.9-.2-1-.2-.9-.2-.9-.2-.9-.2-1-.2-.9-.3-.9-.2-1-.3-.9-.2-.9-.3-1-.2-.9-.3-.9-.3-1-.3-.9-.2-.9-.3-1-.3-.9-.3-.9-.3-.9-.3-1-.3-.9-.3-.9-.3-.9-.3-.9-.3-.9-.3-.9-.3-.9-.3-.9-.4-.9-.3-.9-.3-.9-.4-.9-.4-.9-.3-.9-.4-.9-.4-.9-.4-.9-.4-.9-.4-.9-.4-.9-.4-.9-.4-.9-.5-.9-.4-.9-.5-.9-.4-.8-.5-.9-.4-.9-.5-.8-.5-.9-.4-.8-.5-.8-.5-.8-.5-.8-.4-.8-.5-.8-.5-.7-.4-.8-.5-.7-.4-.8-.5-.7-.5-.8-.4-.8-.5-.8-.5-.9-.6-.9-.5-1-.6-1-.5-1-.6-1.2-.7-1.1-.6-1-.6-.9-.6-.6-.4-.2-.3 .2,.4Z M644.8,302.4l.9,1.7 1.1,1 1.1,.7 1.3,.6 1.2,.6 1.2,.5 1.2,.5 1,.5 1,.4 1,.5 .9,.4 .8,.5 .8,.4 .8,.5 .8,.4 .7,.5 .8,.4 .7,.5 .8,.4 .7,.5 .8,.5 .8,.5 .8,.5 .8,.4 .9,.5 .8,.5 .9,.5 .8,.5 .9,.5 .9,.5 .9,.5 .9,.5 .9,.5 .9,.5 .9,.5 .9,.4 .9,.5 .9,.5 1,.4 .9,.4 .9,.5 .9,.4 .9,.4 .9,.4 1,.4 .9,.4 .9,.4 .9,.4 .9,.4 .9,.4 .9,.3 1,.4 .9,.3 .9,.4 .9,.4 .9,.3 1,.3 .9,.4 .9,.3 .9,.4 1,.3 .9,.3 .9,.4 1,.3 .9,.3 1,.3 .9,.4 .9,.3 1,.3 .9,.3 1,.3 .9,.3 1,.3 1,.3 .9,.2 1,.3 .9,.3 1,.2 1,.3 .9,.2 1,.3 1,.2 1,.2 1,.2 1,.2 1.1,.2 1,.2 1,.1 1.1,.2 1.1,.1 1.1,.1 1.1,.1 1.2,0 1.2,0 1.2,0 1.2-.1 1.2-.2 1.2-.3 1.3-.4 1.3-.4 1.2-.6 1.2-.7 1.1-.8 1.1-.9 1-1 1-1.1 .8-1.2 .7-1.2 .6-1.3 .4-1.4 .4-1.3 .2-1.3 .1-1.3 .1-1.2 0-1.3 0-1.2-.1-1.1-.1-1.2-.1-1.1-.2-1.2-.2-1.1-.2-1.1-.3-1.1-.3-1.1-.3-1-.4-1.1-.4-1-.4-1-.4-1.1-.5-.9-.4-1-.5-1-.5-.9-.5-1-.6-.9-.5-.9-.6-.9-.6-.9-.6-.8-.6-.9-.6-.9-.6-.8-.6-.8-.6-.8-.6-.9-.7-.8-.6-.8-.7-.8-.7-.8-.6-.8-.7-.8-.7-.7-.7-.8-.8-.8-.7-.7-.8-.7-.7-.8-.8-.7-.8-.7-.8-.7-.9-.7-.8-.6-.9-.7-.8-.6-.9-.6-.9-.6-.9-.5-.9-.6-.9-.5-1-.5-.9-.5-1-.5-1-.5-.9-.4-1-.4-1-.4-1-.4-1-.3-1-.3-1-.3-1.1-.3-1-.3-1-.2-1-.2-1.1-.2-1-.2-1-.2-1.1-.2-1-.1-1-.1-1.1-.1-1-.1-1.1,0-1.1-.1-1.1,0-1,0-1.1,.1-1.1,.1-1.1,.1-1.1,.2-1.1,.2-1.1,.2-1,.3-1.1,.3-1.1,.4-1,.5-1.1,.5-1,.5-1,.6-1,.7-.9,.7-.9,.9-.8,.8-.8,.9-.7,.9-.6,1-.6,1-.5,1-.5,1-.4,1-.4,1-.3,1-.3,1-.2,1-.2,1.1-.2,1-.1,1.1-.1,1.1-.1,1.1 0,1.2-.1,1.1 0,1-.1,.8-.2,.5 .1,0 .3-.2-.2,0-.7-.1-.9-.2-1.1-.3-1.2-.3-1.2-.3-1.2-.1-1.1-.1-1.1,0-1.1,.1-1.1,.1-1,.1-1,.2-1,.3-1,.2-.9,.3-1.1,.3-1,.4-1.1,.4-1.2,.5-1.3,.6-1.2,.9-1,1.6Z" fill="#f30010" fill-rule="nonzero"/>
<path d="M644.8,300.1l1.1-1.6 1.3-.9 1.2-.5 1.2-.5 1.2-.3 1-.3 1.1-.2 1-.2 1-.1 .9-.1 1-.2 1-.3 1-.2 1.1-.3 1.1-.3 1.2-.1 1.2-.1 1.2,.2 1.3,.3 1,.4 .9,.3 .6,.2 .1,.1-.3,.2 .1-.4 .1-.8 0-1 .1-1.1 .1-1.2 .1-1.1 .2-1.1 .1-1.1 .2-1 .2-1 .2-1 .3-1.1 .3-1 .2-1 .4-1.1 .3-1 .5-1.1 .5-1 .7-1 .7-.9 .9-.9 .9-.8 .9-.7 1-.7 1-.7 1-.6 1-.6 1-.5 1.1-.4 1.1-.4 1.1-.3 1.1-.1 1.1-.2 1.1,0 1.1-.1 1.1,0 1-.1 1.1,0 1.1-.1 1-.1 1.1,0 1,0 1.1,.1 1,.2 1,.2 1,.2 1.1,.3 1,.1 1,.1 1.1,.1 1,0 1.1,.1 1,.1 1.1,.3 1,.3 .9,.4 1,.4 1,.4 1,.4 1,.3 1,.3 1.1,.4 1,.3 1,.5 .9,.5 1,.5 .9,.5 .9,.6 1,.5 .9,.6 1,.5 .9,.6 .9,.6 .9,.6 .9,.7 .8,.7 .8,.7 .9,.7 .8,.7 .8,.7 .7,.8 .7,.8 .6,.9 .5,.9 .5,1 .4,1 .4,1 .4,.9 .6,.9 .6,.8 .7,.8 .7,.8 .7,.7 .8,.8 .7,.8 .6,.8 .7,.8 .6,.9 .6,.9 .6,.9 .6,.9 .6,.9 .6,1 .5,.9 .4,1 .4,1.1 .3,1.1 .2,1.1 .2,1.1 .2,1.1 .3,1.1 .2,1.1 .4,1.1 .3,1.1 .4,1.1 .3,1.1 .3,1.2 .3,1.2 .1,1.2 0,1.3 0,1.3-.3,1.4-.3,1.3-.5,1.4-.6,1.3-.7,1.3-.8,1.3-.9,1.2-1,1.1-1.1,.9-1.2,.8-1.3,.7-1.3,.5-1.3,.5-1.3,.3-1.2,.3-1.2,.3-1.2,.3-1.2,.2-1.1,.2-1.2,.2-1.2,0-1.1-.1-1.1-.1-1.1-.3-1-.3-1.1-.4-1-.3-1-.3-1-.2-1-.2-1,0-1-.1-1,0-1-.1-1-.1-1-.1-1-.2-1-.3-.9-.3-1-.4-.9-.4-.9-.4-1-.3-.9-.2-1-.2-1-.1-1-.2-1-.2-1-.2-1-.2-.9-.4-.9-.4-.9-.5-.8-.5-.9-.5-.9-.4-.9-.4-.9-.4-1-.3-.9-.3-.9-.4-1-.3-.9-.3-.9-.4-.9-.3-.9-.4-1-.5-.9-.4-.9-.3-.9-.4-1-.4-.9-.4-.9-.5-.9-.4-.9-.5-1-.4-.9-.4-1-.4-.9-.5-.9-.4-1-.4-.9-.5-.9-.5-.8-.6-.8-.7-.7-.7-.7-.7-.8-.7-.8-.6-.8-.5-.8-.4-.9-.4-.8-.4-.9-.3-.9-.2-.9-.3-.8-.3-.8-.3-.8-.5-.7-.4-.8-.4-.9-.5-.8-.5-.9-.5-1-.5-1-.5-1.1-.5-1.2-.6-1.2-.7-1.2-.8-1.1-.8-1-1.2-.8-1.6Z M645.7,300.4l1-1.2 1.1-.6 1.2-.4 1.2-.5 1-.4 1-.4 .9-.4 .9-.5 .9-.3 .9-.4 1-.3 1-.1 1-.1 1.1,.1 1.1,.1 1,.2 1.2,.1 1.1,.2 1.2,.2 1.1,.2 1,.2 .8-.1 .2-.2-.3-.1-.2-.1 0-.4 .1-.8 .2-1 .3-1.1 .4-1.1 .4-1.1 .5-1.1 .4-.9 .3-1 .3-.9 .2-1 .2-.9 .2-1 .2-1 .4-1 .4-.9 .5-1 .6-.9 .6-.8 .7-.9 .7-.8 .7-.9 .7-.9 .7-.8 .8-.9 .9-.7 1-.6 1-.4 1.1-.3 1.1-.1 1.1-.1 1.1,0 1.1-.1 1-.1 1-.2 1.1-.3 1-.3 1-.3 1.1-.1 1-.1 1,.1 1.1,.3 1,.3 1,.4 1,.3 .9,.3 1,.2 1,.2 1,.2 1,.2 1,.1 1,.2 1,.1 1,.2 1,.2 1,.2 1,.2 1,.3 1,.3 1,.3 1,.4 .9,.5 .9,.5 .9,.5 .9,.5 .9,.5 .9,.6 .9,.5 .8,.6 .9,.6 .8,.6 .8,.7 .7,.7 .8,.7 .7,.7 .8,.7 .8,.7 .8,.6 .9,.6 .8,.6 .9,.7 .8,.6 .8,.7 .8,.7 .7,.8 .6,.8 .6,.8 .6,.9 .5,.8 .6,.8 .6,.9 .6,.8 .6,.9 .5,.9 .5,.9 .4,.9 .4,1 .4,.9 .5,.9 .6,.9 .5,.9 .6,.9 .6,.9 .6,.9 .5,.9 .5,.9 .4,1 .4,1 .4,1 .3,1.1 .3,1 .2,1.1 .3,1.1 .2,1.1 .1,1.1 0,1.1 0,1.1 0,1.1 0,1.2 .1,1.1 .1,1.2 0,1.3-.1,1.2-.1,1.3-.3,1.3-.4,1.3-.7,1.2-.9,1.2-1,1-1,.8-1.1,.8-1,.8-1.1,.7-1.2,.6-1.1,.6-1.2,.4-1.2,.2-1.3,.1-1.2-.1-1.1-.2-1.2-.2-1.1-.2-1-.3-1.1-.2-1-.2-1.1-.1-1-.1-1-.1-1-.1-1-.1-1-.1-1-.1-1.1,0-1,0-1,0-1,0-1-.1-1-.1-1-.3-.9-.3-.9-.6-.9-.5-.8-.6-.9-.6-.9-.5-.9-.6-.9-.4-.9-.4-.9-.3-1-.2-.9-.3-1-.2-.9-.3-1-.3-.9-.3-.9-.3-1-.3-.9-.4-.9-.4-.8-.5-.9-.5-.8-.5-.9-.5-.9-.4-.9-.4-.9-.3-.9-.3-1-.2-1-.2-1-.2-1-.2-1-.3-.9-.4-.9-.4-.9-.5-.9-.5-.9-.4-.9-.4-1-.4-.9-.4-1-.3-1-.3-1-.4-.9-.3-.9-.5-.9-.5-.8-.6-.8-.6-.7-.7-.8-.6-.8-.6-.7-.5-.8-.5-.8-.5-.8-.4-.8-.4-.7-.4-.8-.5-.7-.4-.8-.5-.8-.5-.8-.4-.9-.5-.9-.3-1-.5-1-.4-1.1-.4-1.2-.4-1.2-.5-1.2-.6-1.1-.8-1-.8-.8-1.1-.5-1.2Z M645.6,300.4l.9-1.4 1-.9 1.1-.6 1.2-.5 1.1-.5 1-.3 1-.3 1-.2 1-.2 .9-.2 1-.2 1-.2 1-.2 1.1-.1 1.1-.1 1.1,.1 1.1,.2 1.2,.4 1.1,.4 1.1,.5 .9,.4 .8,.3 .6,0 .3-.1 .3-.4 .3-.7 .2-.9 .2-1.1 .1-1.2 .1-1.1 .2-1.1 .1-1.1 .2-.9 .2-1 .3-.9 .3-.9 .3-.9 .4-.9 .4-.9 .4-.9 .3-.9 .4-1 .5-.9 .5-.9 .5-.9 .7-.9 .7-.7 .9-.7 .8-.6 1-.5 .9-.4 1-.4 .9-.3 1-.4 1-.3 .9-.3 1-.2 1-.2 1-.2 1-.1 1-.2 1-.1 1-.1 1-.1 1-.1 1-.1 1,0 1,.1 1,.1 1,.1 1,.2 1,.2 1,.2 .9,.2 1,.1 1,.1 1.1,0 1,.1 1,.2 1,.2 1,.3 .9,.3 1,.4 .9,.5 .9,.5 .8,.6 .9,.5 .8,.6 .9,.5 .8,.6 .9,.6 .8,.5 .8,.6 .9,.6 .8,.6 .8,.6 .8,.6 .7,.6 .8,.7 .7,.8 .6,.7 .6,.8 .6,.8 .6,.8 .6,.8 .7,.7 .7,.7 .7,.7 .8,.7 .7,.7 .7,.7 .6,.8 .7,.7 .6,.8 .5,.9 .6,.8 .5,.8 .6,.8 .6,.8 .7,.8 .7,.7 .7,.8 .6,.8 .6,.9 .4,.9 .4,.9 .3,1 .2,1 .2,1.1 .2,1 .2,1 .3,.9 .4,.9 .4,.9 .4,1 .4,.9 .4,.9 .4,1 .2,1 .3,1 .2,1.1 .2,1 .2,1 .2,1.1 .1,1.1 .1,1.1-.2,1.2-.2,1.1-.5,1-.5,1-.8,1-.7,.8-.8,.8-.9,.7-.7,.7-.8,.7-.8,.7-.8,.7-.9,.6-.8,.5-1,.5-1,.3-1,.2-1,.2-1.1,.2-1,.1-1,.1-1.1,0-1.1,.1-1,0-1,0-1.1-.1-1-.3-.9-.3-1-.4-.9-.4-1-.3-.9-.2-1-.2-1-.1-1,0-1-.1-1,0-1-.1-1-.1-.9-.1-1-.2-1-.2-1-.2-.9-.3-1-.3-.9-.4-.8-.5-.9-.6-.8-.7-.8-.6-.9-.6-.9-.5-.9-.3-.9-.3-1-.2-1-.2-.9-.1-1-.2-1-.3-.9-.3-.9-.3-.9-.4-.9-.5-.9-.4-.8-.4-1-.4-.9-.3-.9-.2-1-.3-.9-.4-.9-.4-.9-.5-.9-.4-.9-.6-.8-.5-.9-.6-.9-.5-.9-.4-.9-.4-.9-.4-1-.4-.9-.4-.9-.4-.9-.5-.9-.4-.9-.5-.8-.5-.8-.6-.8-.6-.7-.5-.8-.6-.7-.6-.8-.5-.7-.5-.8-.4-.8-.4-.8-.3-.9-.3-.8-.3-.9-.4-.8-.4-.9-.4-.9-.5-.9-.5-.9-.7-1-.7-1.1-.6-1.1-.7-1.1-.7-1.1-.5-1-.6-.9-.5-.6-.8Z M647.6,301l.4-.5 .8-.5 .9-.5 1-.5 1-.5 1-.4 .8-.4 .9-.3 .9-.3 .9-.3 .9-.2 .9-.2 .9-.1 1-.2 1-.1 1.1,0 1.1,0 1.1,.1 1.1,.2 1.1,.4 1,.4 .9,.3 .8,.1 .7-.1 .7-.6 .4-.9 .3-1.1 0-1.1 0-1.2 0-1.2 0-1 0-1.1 .1-1 .2-.9 .2-1 .2-.9 .4-.8 .3-.9 .4-.9 .4-.8 .5-.9 .5-.8 .7-.8 .6-.8 .7-.7 .7-.7 .7-.6 .8-.7 .8-.5 .8-.5 .9-.3 .9-.3 1-.2 .9-.2 1-.2 .9-.2 .8-.4 .9-.4 .9-.4 .9-.5 .9-.4 1-.3 1-.2 1-.1 1,0 1,.1 .9,.2 1,.2 1,.2 .9,.3 1,.2 1,.3 .9,.2 .9,.3 1,.2 1,.1 .9,.1 1,.1 1,.2 1,.1 .9,.2 1,.3 .9,.3 1,.3 .9,.3 .9,.5 .8,.5 .9,.6 .7,.6 .8,.7 .7,.7 .7,.7 .7,.7 .7,.7 .7,.7 .7,.6 .8,.5 .8,.6 .8,.5 .8,.6 .8,.6 .8,.5 .8,.6 .8,.6 .8,.6 .8,.7 .7,.6 .7,.7 .8,.7 .7,.7 .6,.7 .6,.8 .5,.9 .5,.9 .5,.8 .5,.9 .4,.9 .5,.9 .5,.8 .5,.9 .5,.8 .6,.8 .5,.9 .6,.8 .5,.9 .4,.8 .5,.9 .4,.9 .5,.9 .4,.8 .4,1 .4,.9 .4,.9 .3,.9 .3,1 .2,1 .2,.9 .1,1 .2,1 .1,1 .1,1 .1,1 0,1-.1,1.1 0,1-.2,1-.2,1-.3,.9-.4,.9-.4,.9-.4,.9-.4,.8-.4,.8-.5,.8-.6,.8-.6,.8-.6,.8-.7,.7-.8,.7-.8,.6-.9,.6-1,.4-1,.4-1,.2-1,.1-1.1,0-1-.2-1.1-.2-1-.2-1-.3-1-.3-1-.3-.9-.2-1-.3-1-.1-.9-.2-1-.1-1-.2-.9-.1-1-.2-1-.2-.9-.2-.9-.2-1-.3-.9-.3-.9-.3-1-.2-.9-.3-1-.2-1-.1-1-.2-.9-.2-1-.2-.9-.2-1-.3-.9-.4-.9-.4-.9-.5-.8-.5-.9-.4-.9-.4-.9-.3-1-.4-.9-.2-.9-.3-1-.3-.9-.3-.9-.3-1-.2-.9-.3-.9-.3-1-.3-.9-.3-.9-.3-1-.4-.9-.4-.8-.5-.9-.5-.8-.5-.9-.6-.8-.6-.8-.5-.9-.6-.8-.6-.9-.5-.9-.5-.9-.5-.9-.4-.9-.4-.8-.5-.9-.4-.9-.5-.8-.5-.9-.5-.8-.5-.8-.5-.7-.5-.8-.5-.8-.5-.8-.4-.8-.4-.8-.4-.8-.3-.8-.3-.9-.3-.9-.4-.9-.3-.9-.4-.9-.4-1-.5-1-.5-1-.5-1.2-.6-1.2-.5-1.2-.5-1.1-.5-1-.6-.8-.7-.6-.9Z M647.4,301l.5-.7 .8-.5 1-.4 1-.4 1.1-.3 1-.3 .9-.3 .8-.3 .9-.3 .8-.3 .9-.2 .9-.2 1-.1 .9-.1 1,0 1,0 1,.1 1.1,.2 1.1,.2 1.1,.2 1.1,.3 1,.1 .8,.1 .8-.3 .7-.6 .5-.9 .4-1.1 .2-1.2 .1-1.2 .1-1.1 .1-1 .1-1.1 .2-.9 .2-.9 .3-.9 .4-.8 .4-.8 .5-.7 .5-.7 .5-.8 .5-.7 .5-.8 .4-.8 .5-.8 .5-.8 .5-.7 .5-.7 .7-.7 .7-.6 .7-.5 .8-.5 .9-.4 .8-.3 .9-.3 .9-.3 .9-.3 .9-.2 .9-.2 .9-.2 .9-.2 1-.1 .9,0 .9,0 1,.1 .9,.1 1,.2 .9,.3 .9,.2 .9,.3 1,.2 .9,.1 .9,.1 1,.1 .9,.1 1,.1 .9,.1 .9,.2 .9,.2 .9,.3 .9,.3 .9,.3 .9,.2 .9,.2 1,.2 1,.1 .9,.2 1,.2 .9,.3 1,.3 .9,.4 .8,.6 .8,.6 .7,.7 .6,.7 .6,.8 .6,.9 .6,.8 .5,.8 .6,.7 .7,.7 .7,.6 .8,.6 .7,.5 .8,.6 .8,.6 .6,.7 .6,.7 .6,.8 .5,.8 .5,.9 .6,.8 .5,.8 .6,.7 .6,.8 .7,.7 .6,.7 .7,.8 .6,.7 .5,.9 .5,.8 .4,.9 .5,.8 .4,.9 .4,.9 .4,.8 .4,.9 .4,.9 .4,.8 .4,.9 .4,.8 .4,.9 .3,.9 .2,.9 .3,.9 .3,.9 .3,.9 .3,.8 .3,1 .2,.9 .2,.9 0,.9 0,1-.1,1-.1,.9-.2,.9-.1,.9-.2,.9-.1,.8-.1,.9-.2,.8-.2,.7-.3,.8-.3,.7-.4,.7-.5,.7-.6,.6-.7,.6-.6,.6-.7,.5-.8,.4-.7,.3-.9,.3-.9,.1-.8,.1-.9,.1-1,0-.9,0-1,0-.9-.1-1-.1-1-.1-1-.1-.9-.1-1-.1-1-.2-.9-.1-.9-.2-1-.3-.9-.2-.9-.2-1-.2-.9-.2-.9-.2-1-.2-.9-.2-1-.2-.9-.2-1-.2-1-.2-.9-.2-1-.2-.9-.2-1-.2-.9-.2-1-.2-.9-.3-1-.2-.9-.2-1-.3-.9-.2-1-.3-.9-.3-.9-.3-.9-.4-.9-.4-.9-.4-.9-.4-.9-.4-.9-.3-1-.2-1-.2-.9-.1-1-.2-1-.3-.9-.3-.9-.5-.8-.5-.8-.6-.8-.6-.9-.6-.8-.5-.9-.5-.9-.5-1-.3-.9-.4-1-.3-.9-.3-1-.4-.9-.5-.8-.5-.9-.5-.7-.6-.8-.7-.8-.6-.7-.7-.7-.7-.6-.6-.7-.6-.7-.6-.7-.6-.8-.5-.8-.4-.8-.3-.9-.3-.9-.1-1-.2-1-.1-1-.2-1.1-.3-1-.4-1-.5-1-.6-1-.8-1-.9-1-.9-.8-.8-.7-.8-.3-.5 0-.2Z M649.4,301.7l.1,.2 .4-.3 .8-.3 1-.4 .9-.3 .9-.2 .9-.3 .8-.2 .7-.3 .8-.2 .8-.3 .8-.3 .8-.3 .9-.2 .8-.2 1-.1 .9,0 1,.1 1,.3 1.2,.2 1.1,.3 1.2,.1 1.2-.2 1.1-.6 .8-1 .3-1.1 .2-1.2 .1-1.2 .1-1.2 .1-1.1 .2-1 .2-1 .3-.9 .3-.9 .4-.8 .4-.8 .4-.7 .4-.8 .4-.7 .4-.8 .4-.8 .5-.7 .5-.7 .6-.7 .6-.6 .6-.6 .7-.5 .7-.5 .7-.4 .7-.3 .8-.4 .8-.3 .7-.3 .8-.3 .8-.4 .8-.4 .8-.3 .8-.4 .9-.3 .9-.3 .8-.2 .9-.2 1-.2 .9-.1 .9,0 1,0 .9,0 1,.2 .9,.1 .9,.1 1,.1 .9,0 1,.1 1,0 .9,.2 .9,.2 .9,.3 .9,.4 .9,.5 .8,.5 .8,.5 .8,.5 .8,.4 .8,.4 .9,.3 .9,.4 .8,.3 .9,.4 .8,.4 .8,.5 .7,.6 .8,.6 .7,.6 .6,.6 .7,.7 .6,.7 .6,.8 .6,.6 .6,.7 .6,.7 .7,.6 .6,.7 .6,.6 .7,.7 .7,.6 .6,.7 .7,.6 .6,.7 .6,.8 .5,.7 .6,.8 .4,.8 .5,.9 .4,.8 .5,.9 .5,.8 .6,.7 .6,.8 .6,.7 .6,.7 .6,.8 .6,.7 .5,.8 .5,.8 .5,.8 .4,.8 .4,.8 .3,.9 .4,.9 .2,.8 .2,.9 .2,.9 .1,.9 0,.9 .1,.9 .1,.9 .2,.8 .3,.8 .2,.9 .3,.8 .3,.8 .3,.9 .2,.9 .1,.8-.1,.9-.1,.8-.1,.8-.3,.7-.2,.7-.2,.7-.2,.6-.2,.6-.2,.5-.3,.7-.3,.6-.4,.7-.4,.5-.6,.5-.6,.4-.7,.2-.7,.3-.7,.2-.8,.2-.7,.2-.9,.2-.8,.2-.9,.2-.9,.2-1,.1-1,0-.9-.1-1-.1-.9-.2-1-.3-.9-.2-.9-.2-1-.1-.9-.1-1-.1-1,0-1,.1-1,0-.9-.1-1-.2-.9-.3-.9-.4-.9-.4-.8-.6-.9-.5-.8-.5-.9-.5-.9-.4-.9-.3-1-.2-.9-.2-1-.1-1-.2-.9-.2-1-.1-1-.2-.9-.2-1-.3-.9-.2-.9-.3-1-.3-.9-.3-.9-.4-.9-.3-.9-.4-.9-.3-.9-.4-.8-.4-1-.3-.9-.4-.9-.3-.9-.3-.9-.4-.9-.3-.9-.4-.9-.5-.9-.4-.9-.4-.9-.5-.9-.4-.9-.4-.9-.5-.9-.4-.9-.5-.9-.5-.8-.5-.8-.6-.8-.7-.7-.6-.8-.6-.7-.6-.8-.6-.7-.5-.8-.5-.7-.5-.8-.4-.8-.4-.9-.3-.8-.3-.9-.2-.9-.3-.9-.3-.9-.3-1-.4-.9-.5-.9-.5-1-.5-1.1-.6-1.2-.5-1.1-.6-1.1-.5-1-.6-.8-.6-.4-.6-.1-.2Z M650.6,302.1l-.3,.6 .2-.3 .6-.5 .8-.6 .8-.6 .7-.6 .8-.5 .7-.4 .8-.4 .8-.3 .9-.2 .8-.1 .9,0 .9,.1 .8,.1 .9,.2 .9,.2 .9,.4 .9,.4 1.1,.5 1.2,.4 1.4,.3 1.8-.1 1.9-1.1 1.1-1.5 .5-1.5 .3-1.4 .2-1.3 .2-1.2 .2-1.1 .3-1 .3-.9 .4-.8 .2-.8 .3-.7 .2-.7 .2-.8 .1-.7 .2-.8 .2-.8 .2-.8 .3-.8 .3-.8 .4-.8 .4-.7 .5-.7 .6-.6 .6-.6 .7-.4 .8-.4 .8-.2 .8-.3 .8-.2 .8-.1 .9-.2 .8-.1 .8-.2 .9-.1 .8-.3 .8-.2 .9-.2 .8-.2 .9-.2 .9,0 .9-.1 .9,0 .9,.1 .9,0 1,.2 .9,.2 .9,.2 .9,.3 .9,.3 .8,.2 .9,.3 .9,.3 .8,.3 .9,.3 .8,.4 .8,.4 .8,.4 .8,.4 .7,.4 .8,.4 .8,.3 .9,.2 .9,.2 .9,.2 .9,.3 .8,.3 .8,.5 .7,.5 .7,.7 .6,.6 .6,.7 .7,.7 .6,.6 .6,.7 .6,.6 .6,.6 .7,.6 .6,.6 .7,.7 .6,.6 .7,.6 .6,.7 .6,.7 .6,.7 .5,.8 .4,.8 .4,.8 .4,.9 .4,.9 .5,.8 .5,.8 .5,.8 .6,.7 .5,.8 .6,.7 .5,.8 .5,.8 .4,.8 .4,.8 .3,.9 .2,.9 .2,.9 .3,.8 .3,.8 .3,.8 .4,.8 .5,.7 .4,.7 .5,.8 .4,.7 .5,.7 .4,.8 .3,.8 .2,.8 .2,.9 0,.8-.1,.9-.1,.8-.1,.9-.2,.8-.2,.8-.2,.7-.1,.6 0,.7 0,.5 0,.6 0,.5-.1,.5-.1,.5-.2,.5-.3,.5-.3,.5-.3,.5-.4,.6-.4,.5-.5,.5-.5,.4-.6,.5-.7,.3-.8,.3-.8,.2-.8,0-.9,0-.9-.1-.9-.1-1-.1-.9-.1-.9-.1-1-.2-.9-.1-.9-.3-1-.2-.8-.3-.9-.3-.9-.4-.9-.3-.9-.3-.9-.3-.9-.1-1-.1-.9-.1-1,0-1,0-1,0-1-.2-.9-.2-.9-.4-.9-.4-.8-.5-.9-.4-.9-.3-1-.3-.9-.1-1-.1-1-.1-1-.1-1-.1-1-.2-.9-.2-.9-.3-.9-.4-.9-.3-.9-.3-.9-.4-.9-.3-.9-.4-.9-.4-.9-.4-.8-.4-.9-.4-.9-.4-.9-.3-.9-.3-.9-.4-.9-.4-.9-.5-.9-.4-.8-.5-.9-.5-.9-.5-.8-.5-.9-.5-.8-.5-.9-.5-.8-.5-.9-.5-.8-.5-.8-.5-.9-.6-.8-.4-.8-.5-.8-.4-.9-.4-.8-.4-.8-.4-.9-.3-.8-.3-.9-.2-.8-.3-.9-.4-.8-.3-.8-.5-.9-.5-.8-.5-.9-.6-.9-.6-1-.5-1.1-.6-1.1-.6-1.2-.6-1-.6-1-.6-.7-.4-.4-.3 0,.1Z" stroke="#d8000a" stroke-width="0.55" fill="none"/>
<path d="M692.4,263.8 C698,265.5 703,267.8 708.4,270.6" stroke="#f30010" stroke-width="0.8" fill="none"/>
</g>
<clipPath id="cp34"><rect x="630.50" y="378.80" width="149.20" height="99.60"/></clipPath>
<g clip-path="url(#cp34)">
<path d="M649.5,418.8l.8-2.3 1.2-1.7 1.3-1.3 1.3-.9 1.2-.7 1.3-.6 1.2-.6 1.1-.5 1.1-.5 .9-.4 .9-.5 .8-.4 .8-.5 .8-.6 .8-.5 .9-.6 .8-.6 .9-.7 .9-.6 1-.6 1.1-.6 1.1-.6 1.1-.5 1.1-.4 1.1-.4 1.1-.4 1.1-.4 1.1-.3 1.1-.3 1-.2 1.1-.3 1-.3 1-.2 .9-.3 1-.3 1-.3 .9-.2 1-.3 1-.3 1-.3 1-.3 1-.3 1.1-.3 1-.3 1.1-.3 1-.3 1.1-.2 1.1-.3 1.1-.2 1.1-.2 1.1-.2 1.1-.2 1.1-.2 1.2-.1 1.1-.1 1.1-.1 1.1-.1 1.1-.1 1.1,0 1.2,0 1.1,0 1.1,0 1.2,0 1.1,.1 1.1,.1 1.1,.1 1.2,.2 1.1,.2 1.1,.2 1.2,.2 1.1,.3 1.1,.3 1.1,.3 1.1,.3 1.1,.4 1.1,.5 1.1,.4 1.1,.5 1,.5 1.1,.6 1,.5 1,.6 1,.7 1,.7 .9,.7 1,.8 .9,.7 .8,.9 .9,.8 .8,.9 .7,.9 .8,.9 .6,1 .7,.9 .6,1 .6,1 .6,1 .6,1 .5,1 .5,1 .5,1 .4,1.1 .5,1 .4,1 .4,1.1 .4,1 .4,1 .3,1.1 .4,1 .3,1.1 .3,1 .3,1.1 .3,1.1 .2,1 .3,1.1 .2,1 .3,1.1 .2,1.1 .2,1.1 .2,1 .1,1.1 .2,1.1 .2,1.1 .1,1.1 .1,1.1 .1,1.1 .1,1.1 .1,1.1 .1,1.1 0,1.1 0,1.2 0,1.1 0,1.1 0,1.2-.1,1.1-.1,1.2-.1,1.1-.2,1.2-.2,1.1-.2,1.2-.2,1.2-.3,1.1-.4,1.2-.3,1.1-.5,1.2-.4,1.1-.6,1.1-.5,1.1-.7,1.1-.7,1.1-.7,1-.8,1-.9,1-1,.9-1,.9-1,.8-1.2,.8-1.2,.7-1.2,.6-1.4,.4-1.3,.4-1.3,.3-1.3,.1-1.3,.1-1.3,0-1.3-.1-1.3-.1-1.2-.2-1.2-.2-1.2-.3-1.2-.3-1.1-.2-1.2-.4-1.1-.3-1-.3-1.1-.3-1.1-.4-1-.3-1.1-.4-1-.3-1-.4-1-.4-1-.4-1-.4-1-.4-1-.4-1-.5-1-.4-1-.5-.9-.4-1-.5-1-.5-.9-.5-1-.5-.9-.5-.9-.5-1-.6-.9-.5-.9-.6-1-.5-.9-.6-.9-.6-.9-.5-.9-.6-.9-.6-1-.6-.9-.6-.9-.6-.9-.6-.9-.7-.8-.6-.9-.6-.9-.6-.9-.7-.9-.6-.9-.6-.9-.7-.8-.6-.9-.7-.9-.6-.8-.7-.9-.6-.9-.7-.8-.7-.8-.6-.9-.7-.8-.6-.8-.7-.8-.7-.9-.6-.8-.7-.7-.7-.8-.6-.8-.7-.8-.7-.7-.6-.8-.7-.7-.7-.8-.6-.7-.7-.8-.7-.7-.7-.8-.7-.7-.7-.8-.8-.8-.7-.8-.8-.7-.8-.9-.8-.8-.9-.8-.8-.9-.9-.9-1-.9-1.1-1-1.1-.9-1.2-.8-1.4-.7-1.6-.5-2Z M660.4,419.8l-.1-.3 .1,.1 .2,.4 .5,.6 .6,.8 .7,.8 .8,.8 .8,.9 .8,.9 .7,.9 .8,.8 .7,.8 .8,.8 .7,.7 .7,.8 .7,.7 .6,.7 .7,.8 .7,.7 .6,.6 .7,.7 .7,.7 .6,.7 .7,.6 .7,.7 .7,.7 .7,.7 .7,.6 .7,.7 .7,.7 .8,.6 .7,.7 .8,.7 .7,.6 .8,.7 .8,.7 .8,.6 .8,.7 .7,.7 .9,.6 .8,.7 .8,.6 .8,.6 .8,.7 .9,.6 .8,.6 .8,.7 .9,.6 .8,.6 .9,.6 .8,.6 .9,.6 .8,.5 .9,.6 .8,.6 .9,.5 .8,.6 .9,.5 .9,.5 .8,.5 .9,.6 .9,.5 .8,.4 .9,.5 .9,.5 .9,.5 .8,.4 .9,.5 .9,.4 .9,.4 .9,.4 .9,.4 .9,.4 .9,.4 .9,.4 .9,.3 .9,.4 .9,.4 1,.3 .9,.3 1,.4 .9,.3 1,.3 1,.3 1,.3 1,.3 1,.3 1,.2 .9,.3 1,.2 .9,.1 .9,.2 .9,.1 .9,0 .8,0 .7,0 .7-.1 .7-.1 .6-.2 .6-.2 .6-.3 .5-.4 .6-.4 .6-.5 .6-.5 .6-.6 .6-.6 .5-.7 .6-.7 .5-.7 .5-.7 .4-.8 .5-.7 .4-.8 .3-.8 .4-.8 .3-.9 .3-.8 .3-.9 .2-.9 .2-.9 .2-.9 .2-.9 .1-1 .1-.9 0-1 .1-.9 0-1 0-.9-.1-1 0-1-.1-1-.1-.9-.1-1-.2-1-.1-1-.2-1-.1-1-.2-1-.2-1-.2-1-.2-1-.2-.9-.2-1-.3-1-.2-1-.3-.9-.2-1-.3-.9-.3-1-.3-.9-.3-.9-.3-1-.4-.9-.3-.9-.4-.9-.4-.9-.4-.9-.4-.9-.4-.9-.5-.8-.4-.9-.5-.8-.5-.8-.5-.8-.6-.8-.5-.7-.6-.7-.6-.7-.6-.7-.6-.6-.6-.6-.7-.6-.7-.6-.7-.6-.8-.5-.7-.5-.8-.5-.8-.4-.9-.5-.8-.4-.9-.4-.8-.3-.9-.4-.9-.3-.9-.3-.9-.2-.9-.2-1-.3-.9-.1-.9-.2-1-.2-.9-.1-1-.1-.9-.1-1,0-1-.1-.9,0-1,0-1,0-1,0-.9,.1-1,0-1,.1-1,.1-.9,.1-1,.1-.9,.2-1,.2-.9,.2-.9,.2-1,.3-.9,.2-.9,.3-.9,.4-1,.3-.9,.4-1,.3-.9,.4-1,.4-1,.3-1,.4-1,.4-1.1,.3-1,.4-1.1,.3-1.1,.3-1,.3-1.1,.3-1,.3-1,.2-1,.3-.9,.2-.8,.3-.9,.3-.7,.3-.8,.4-.6,.3-.7,.4-.6,.5-.7,.5-.7,.6-.7,.6-.8,.7-.8,.7-.9,.7-1,.8-1.1,.8-1.1,.8-1.2,.7-1.2,.6-1.1,.6-.9,.6-.8,.5-.6,.4-.3,.3 0,.1 .2-.3 .3-.9Z" fill="#bfcbf4" fill-rule="nonzero" stroke="#bfcbf4" stroke-width="0.8"/>
<g fill="#bfcbf4"><circle cx="725.3" cy="477.5" r="1.2"/><circle cx="732.5" cy="396.3" r="1.0"/><circle cx="757.7" cy="450.7" r="0.8"/><circle cx="707.3" cy="460.7" r="0.9"/><circle cx="751.3" cy="471.1" r="1.1"/><circle cx="754.9" cy="465.9" r="1.1"/><circle cx="703.0" cy="392.7" r="0.8"/><circle cx="724.2" cy="476.9" r="1.1"/><circle cx="685.0" cy="408.4" r="0.7"/><circle cx="680.2" cy="440.5" r="0.7"/><circle cx="735.4" cy="398.5" r="0.9"/><circle cx="758.3" cy="443.8" r="1.2"/><circle cx="753.1" cy="422.3" r="1.1"/><circle cx="699.7" cy="455.7" r="1.0"/><circle cx="738.0" cy="411.6" r="0.7"/><circle cx="738.4" cy="400.5" r="1.1"/><circle cx="757.8" cy="446.1" r="1.0"/><circle cx="715.4" cy="475.3" r="1.1"/><circle cx="677.5" cy="411.0" r="0.8"/><circle cx="742.5" cy="417.7" r="1.1"/><circle cx="705.8" cy="470.1" r="0.9"/><circle cx="654.8" cy="432.5" r="0.8"/><circle cx="664.0" cy="420.2" r="1.1"/><circle cx="675.2" cy="401.7" r="0.7"/><circle cx="698.8" cy="394.9" r="1.1"/><circle cx="746.9" cy="408.9" r="1.2"/><circle cx="722.8" cy="477.7" r="0.8"/><circle cx="747.1" cy="435.8" r="1.0"/><circle cx="660.4" cy="408.4" r="0.8"/><circle cx="701.9" cy="393.1" r="1.1"/><circle cx="689.3" cy="396.9" r="1.0"/><circle cx="746.2" cy="428.9" r="1.0"/><circle cx="725.3" cy="477.3" r="1.0"/><circle cx="735.9" cy="397.8" r="1.1"/><circle cx="654.1" cy="412.7" r="0.9"/><circle cx="746.4" cy="462.8" r="0.8"/><circle cx="690.9" cy="461.3" r="1.0"/><circle cx="715.5" cy="391.9" r="0.8"/><circle cx="749.0" cy="443.6" r="1.1"/><circle cx="709.8" cy="392.6" r="0.8"/><circle cx="696.4" cy="394.6" r="1.0"/><circle cx="674.1" cy="412.4" r="1.1"/><circle cx="677.1" cy="438.1" r="1.1"/><circle cx="724.5" cy="402.2" r="1.1"/><circle cx="757.5" cy="445.0" r="0.7"/><circle cx="670.8" cy="403.4" r="1.1"/><circle cx="757.7" cy="453.0" r="1.0"/><circle cx="724.1" cy="466.5" r="0.8"/><circle cx="699.7" cy="393.9" r="0.9"/><circle cx="731.2" cy="478.2" r="1.2"/><circle cx="709.0" cy="470.9" r="1.2"/><circle cx="748.4" cy="473.8" r="1.0"/><circle cx="671.4" cy="430.1" r="1.1"/><circle cx="744.5" cy="477.7" r="0.8"/><circle cx="715.0" cy="473.4" r="0.9"/><circle cx="696.1" cy="463.3" r="0.7"/><circle cx="706.6" cy="471.1" r="0.8"/><circle cx="670.9" cy="430.7" r="0.8"/><circle cx="676.6" cy="449.6" r="0.7"/><circle cx="681.8" cy="441.7" r="1.1"/><circle cx="724.4" cy="394.7" r="0.7"/><circle cx="663.9" cy="440.5" r="1.0"/><circle cx="697.6" cy="453.3" r="0.8"/><circle cx="691.0" cy="395.4" r="1.1"/><circle cx="652.7" cy="429.0" r="0.8"/><circle cx="747.5" cy="474.8" r="0.8"/><circle cx="672.6" cy="401.6" r="1.0"/><circle cx="698.1" cy="466.2" r="1.0"/><circle cx="691.4" cy="462.4" r="1.0"/><circle cx="712.8" cy="473.1" r="1.1"/><circle cx="737.3" cy="468.7" r="1.1"/><circle cx="757.0" cy="458.8" r="1.1"/><circle cx="720.0" cy="466.1" r="1.0"/><circle cx="729.1" cy="395.2" r="0.7"/><circle cx="695.1" cy="394.2" r="0.9"/><circle cx="662.7" cy="420.5" r="0.9"/><circle cx="710.9" cy="392.0" r="1.0"/><circle cx="653.6" cy="411.9" r="1.1"/><circle cx="731.4" cy="396.0" r="1.0"/><circle cx="670.8" cy="414.2" r="1.1"/><circle cx="679.9" cy="409.7" r="0.8"/><circle cx="739.0" cy="479.3" r="1.2"/><circle cx="721.6" cy="402.1" r="0.9"/><circle cx="746.4" cy="433.9" r="1.0"/><circle cx="716.6" cy="393.4" r="1.2"/><circle cx="714.5" cy="464.0" r="1.1"/><circle cx="687.2" cy="458.9" r="1.0"/><circle cx="672.0" cy="403.1" r="1.2"/><circle cx="753.6" cy="423.3" r="1.0"/><circle cx="663.4" cy="438.2" r="0.9"/><circle cx="714.3" cy="392.9" r="1.0"/><circle cx="693.3" cy="463.5" r="1.0"/><circle cx="721.1" cy="393.4" r="0.9"/><circle cx="719.1" cy="465.7" r="1.1"/><circle cx="744.2" cy="423.3" r="0.9"/><circle cx="672.1" cy="446.7" r="1.1"/><circle cx="744.2" cy="477.2" r="0.9"/><circle cx="745.0" cy="423.0" r="0.9"/><circle cx="691.0" cy="448.3" r="1.2"/><circle cx="733.1" cy="397.9" r="0.9"/><circle cx="655.2" cy="432.1" r="0.8"/><circle cx="709.3" cy="461.2" r="0.9"/><circle cx="664.7" cy="439.7" r="0.9"/><circle cx="743.2" cy="419.5" r="0.9"/><circle cx="718.8" cy="393.4" r="0.9"/><circle cx="667.9" cy="405.3" r="1.0"/><circle cx="747.7" cy="456.6" r="1.1"/><circle cx="758.0" cy="455.4" r="1.1"/><circle cx="740.2" cy="402.1" r="1.0"/><circle cx="695.7" cy="463.8" r="1.0"/><circle cx="736.4" cy="399.3" r="1.0"/><circle cx="756.7" cy="435.0" r="1.1"/><circle cx="692.0" cy="448.7" r="1.1"/><circle cx="684.1" cy="409.3" r="0.8"/><circle cx="679.3" cy="438.5" r="1.1"/><circle cx="681.8" cy="455.2" r="0.9"/><circle cx="757.3" cy="447.3" r="1.1"/><circle cx="660.3" cy="419.5" r="1.1"/><circle cx="755.1" cy="429.8" r="1.1"/><circle cx="758.1" cy="446.1" r="1.1"/></g>
<path d="M655.3,420.1l.4-1.1 .5-1 .8-.7 .8-.6 .9-.5 .9-.4 .9-.3 .9-.3 .7-.3 .7-.3 .6-.4 .6-.5 .6-.6 .6-.6 .7-.7 .7-.8 .7-.8 .8-.7 .9-.7 .8-.6 .9-.4 .9-.3 .9-.3 1-.1 1-.2 1.1-.1 1.1-.1 1-.2 1-.3 .9-.3 .9-.4 .8-.4 .8-.4 .8-.4 .8-.3 .8-.4 .9-.3 1-.2 1.2-.2 1.1-.2 1.2-.1 1.2-.2 1.1-.2 1-.2 .8-.2 .8-.1 .7-.2 .7-.1 .6-.1 .7-.1 .8,0 1,.2 1,.2 1.1,.2 1.1,.3 1.2,.3 1.1,.3 1,.3 1,.1 .9,0 .9,0 .9-.1 .9-.1 .9-.1 .9,0 .9,.1 .9,.3 1,.2 .9,.4 1,.4 1.1,.4 1,.3 1,.4 1,.4 1,.3 .9,.4 .8,.4 .8,.5 .8,.5 .8,.4 .8,.5 .8,.5 .8,.4 .8,.4 .8,.5 .7,.5 .7,.7 .7,.8 .5,.8 .5,.9 .5,1 .4,1.1 .5,1 .4,.9 .3,.9 .4,.9 .3,.8 .2,.8 .2,.8 .2,.9 .2,.8 .2,.8 .2,.8 .2,.7 .3,.7 .2,.7 .2,.6 .2,.7 .3,.7 .2,.8 .2,.8 .1,1 .1,.9 .2,1 .2,1 .2,1 .2,1 .2,.9 .2,.9 .1,1 .2,1 .1,1 .1,1.1 0,1.1 0,1.1-.2,1.2-.2,1.1-.3,1-.4,1-.5,1-.5,1.1-.5,1-.5,1-.4,1.1-.4,1-.4,1-.5,1.1-.5,.9-.7,1-.7,.9-.7,.9-.8,.6-.7,.6-.7,.4-.6,.2-.6,.2-.7,.1-.8,0-.9,0-.9,.1-1.1,.2-1.2,.3-1.2,.3-1.1,.3-1.1,.2-.9,0-.8-.1-.7-.3-.6-.4-.6-.4-.6-.4-.6-.4-.7-.4-.8-.4-1-.3-1-.3-1.1-.4-1.2-.3-1.2-.4-1.1-.4-1.1-.3-1.1-.3-1-.1-.9-.1-.9-.2-.8-.1-.9-.2-.8-.3-.9-.3-.8-.5-.8-.6-.9-.6-.8-.8-.9-.8-.8-.8-.8-.9-.8-.7-.8-.7-.7-.5-.8-.5-.9-.4-.9-.4-.8-.5-1-.5-.9-.6-1-.7-1-.7-.8-.7-.9-.7-.7-.5-.6-.4-.6-.3-.7-.3-.7-.4-.7-.4-.8-.5-.8-.7-.8-.7-.8-.7-.8-.8-.8-.7-.8-.6-.8-.5-.8-.4-.8-.3-.8-.3-.7-.4-.7-.4-.6-.5-.5-.7-.5-.7-.6-.8-.7-.9-.7-.8-.8-.9-.7-.8-.8-.8-.8-.7-.7-.7-.8-.7-.6-.6-.7-.6-.6-.6-.6-.6-.6-.7-.6-.7-.6-.9-.4-1-.3-1.1Z M655.5,419.5l.1-.9 .5-.7 .6-.7 .7-.5 .8-.5 .8-.6 .9-.5 .9-.6 .9-.5 .8-.5 .8-.4 .7-.4 .8-.3 .7-.3 .8-.4 .9-.5 1.1-.6 1.1-.7 1.1-.6 1.2-.7 1.1-.6 1.1-.5 1-.5 .9-.3 .9-.3 .7-.2 .7-.1 .7-.3 .7-.4 .7-.5 .7-.5 .8-.4 .9-.3 .9-.2 1-.1 1.1,0 1.1,0 1,0 1-.1 1-.2 .9-.3 1-.4 1-.5 1.1-.4 1.1-.3 1.3-.3 1.2-.2 1.2-.1 1.1-.1 .8-.1 .8-.1 .6-.1 .5-.1 .5-.1 .5,0 .7,0 .9,.2 1.1,.2 1.3,.3 1.3,.3 1.3,.3 1.3,.3 1.3,.3 1.2,.1 1.2,.2 1.1,.1 1.1,.1 1,.1 1.1,.2 .9,.3 1,.4 .9,.5 .9,.5 .8,.6 .8,.5 .7,.6 .7,.5 .7,.6 .6,.6 .6,.6 .6,.7 .7,.7 .6,.6 .7,.6 .7,.6 .8,.4 .8,.5 .8,.4 .8,.5 .7,.5 .8,.6 .6,.8 .6,.9 .6,1 .5,1.1 .5,1 .5,1 .5,.9 .4,.8 .4,.8 .5,.7 .4,.7 .3,.8 .3,.9 .1,1 .1,1.2 .1,1.3 0,1.3 0,1.3 .1,1.3 .2,1.2 .1,1.2 .2,1.1 .2,1 .2,.9 0,.8 0,.8-.2,.8-.2,.9-.3,1-.2,1-.3,.9-.2,1-.2,.9-.2,1.1-.1,1-.1,1.1 0,1.1-.1,1 0,1.1-.1,1.1 0,1-.2,1-.3,.9-.4,.8-.5,.8-.6,.8-.7,.9-.7,.9-.7,.8-.8,.8-.7,.7-.7,.6-.7,.5-.6,.4-.7,.3-.8,.3-.9,.2-.9,.2-1,.2-1,.2-1,.1-1,0-.9,0-1-.2-1-.2-1-.2-1.1-.2-1-.2-1.1-.1-1.1-.1-1.2-.1-1.1-.1-1.2-.1-1-.3-1.1-.3-1-.4-.9-.5-1-.5-.8-.6-.8-.6-.7-.6-.6-.6-.7-.6-.8-.6-.8-.5-.9-.5-1-.4-1.1-.3-1.2-.3-1.2-.2-1.1-.3-1.1-.4-.9-.4-.8-.5-.7-.5-.6-.5-.6-.5-.6-.5-.7-.6-.7-.5-.9-.6-.9-.6-1-.7-.9-.6-.9-.7-.8-.6-.8-.6-.7-.5-.7-.5-.7-.6-.8-.5-.8-.6-.8-.6-.9-.7-.9-.6-.9-.6-.9-.5-.8-.5-.8-.5-.9-.4-.8-.4-.8-.5-.7-.5-.7-.6-.6-.7-.6-.8-.6-.9-.6-1-.5-.9-.6-.8-.6-.7-.7-.7-.7-.5-.8-.5-.9-.4-1-.5-.9-.5-1-.5-.9-.6-.8-.7-.9-.8-.7-.8-.7-.8-.6-.8-.4-.9-.4-.9-.4-1-.3-1Z M656.1,419.5l.4-.9 .5-.7 .6-.5 .6-.4 .6-.3 .6-.2 .5-.3 .6-.3 .7-.3 .7-.3 .8-.3 .8-.4 .8-.5 .8-.4 .6-.5 .6-.4 .5-.4 .5-.3 .4-.4 .4-.3 .4-.2 .4-.2 .4-.2 .6-.1 .7-.1 .8-.1 .8-.1 .9-.3 1-.3 1.1-.4 1-.4 1-.6 .9-.6 .8-.6 .9-.6 .7-.6 .8-.4 .7-.3 .7-.2 .7-.2 .7,0 .7,0 .8,.1 .7,.3 .8,.3 .9,.3 .8,.3 .7,.3 .8,.1 .6,0 .6-.2 .5-.2 .6-.3 .6-.2 .6-.2 .6,0 .6,.1 .7,.2 .8,.2 .8,.2 .9,.2 .9,.1 .9,0 1,0 1-.1 1.1-.1 1-.1 1,0 1,.1 .8,.1 .7,.2 .6,.2 .5,.3 .5,.2 .4,.4 .5,.3 .5,.3 .6,.3 .6,.3 .7,.3 .7,.4 .7,.4 .6,.5 .6,.5 .5,.6 .5,.5 .5,.6 .5,.7 .6,.7 .6,.7 .6,.7 .6,.7 .6,.7 .5,.6 .5,.7 .5,.6 .4,.5 .5,.5 .4,.5 .4,.5 .4,.4 .4,.5 .3,.5 .3,.5 .3,.6 .2,.6 .2,.8 .1,.8 .1,.9 0,1 0,1 0,1-.1,.9-.1,.9 0,.8-.1,.8 0,.7 0,.7 .1,.7 .1,.6 .1,.5 .2,.6 .2,.6 .2,.6 .2,.8 .1,.8 .1,1 0,.9-.1,1-.2,.9-.3,.8-.3,.8-.4,.6-.4,.7-.5,.8-.5,.8-.5,1-.6,1-.5,1-.6,.9-.6,.8-.6,.6-.7,.5-.7,.3-.7,.3-.8,.2-.8,.2-.8,.2-.8,.2-.9,.1-.8,.1-.7,0-.8-.1-.7-.2-.8-.2-.8-.1-.8,0-.7-.1-.8,.1-.7,0-.7,0-.7,0-.7-.1-.7-.1-.8-.2-.7-.3-.8-.2-.9-.2-.8-.2-.8-.2-.8-.3-.8-.2-.7-.3-.8-.3-.7-.4-.7-.5-.8-.5-.8-.5-.8-.5-.8-.5-.8-.5-.8-.5-.8-.5-.8-.5-.8-.4-.7-.5-.7-.5-.7-.6-.6-.5-.5-.5-.5-.5-.4-.4-.5-.3-.6-.3-.5-.3-.6-.2-.6-.1-.6-.1-.7-.2-.6-.3-.7-.5-.6-.5-.7-.8-.6-.8-.7-.9-.8-.9-.9-.8-.8-.7-.7-.5-.7-.4-.7-.3-.7-.1-.8-.2-.7-.1-.7-.2-.7-.3-.7-.4-.6-.4-.7-.5-.6-.5-.5-.5-.4-.4-.4-.4-.3-.5-.4-.5-.5-.5-.5-.7-.5-.6-.7-.6-.5-.7-.6-.6-.6-.6-.5-.6-.6-.6-.5-.5-.4-.6-.5-.6-.4-.6-.3-.8Z M654.6,419.3l.2-.9 .5-.6 .7-.6 .7-.5 .7-.4 .7-.4 .7-.4 .7-.4 .8-.4 .7-.4 .8-.5 .7-.4 .8-.5 .8-.4 .9-.5 .8-.6 .8-.5 .8-.6 .8-.5 .7-.5 .7-.4 .7-.5 .7-.4 .8-.4 .8-.3 .8-.3 .8-.2 .9-.3 .9-.2 .8-.2 .8-.2 .8-.2 .7-.2 .7-.2 .8-.2 .7-.2 .9-.2 .9-.2 .9-.1 1.1-.1 1.1-.1 1.2,0 1.1,0 1,0 .9,0 .8,.1 .7,0 .6-.1 .7,0 .8-.1 .8-.1 1,0 1-.1 1,0 1,0 1,0 .8,.1 .8,0 .8,0 .8-.1 .8-.2 .8-.2 .9-.1 .9-.1 .9,.1 .8,.2 .8,.3 .8,.5 .8,.5 .8,.5 .9,.4 .9,.3 1,.2 .9,.2 .9,.1 .8,.2 .6,.3 .6,.4 .5,.5 .5,.6 .4,.5 .5,.5 .5,.4 .5,.3 .7,.4 .6,.4 .7,.4 .6,.6 .6,.7 .4,.8 .5,.9 .3,.9 .4,.8 .3,.8 .3,.7 .3,.6 .4,.5 .3,.5 .4,.5 .4,.7 .3,.8 .3,.8 .3,1.1 .3,1 .2,1.1 .3,1.1 .3,1.1 .3,1 .3,.9 .4,.8 .2,.9 .3,.8 .2,.8 .1,.8 .1,.8 0,.8 0,.9 .1,.8 0,.9 .1,1 0,1 0,.9 0,1-.1,.9 0,.9 0,.8-.1,.7 0,.8-.1,.8-.1,.8-.2,.8-.2,1-.4,.9-.4,1-.6,.9-.7,.8-.6,.7-.7,.7-.6,.5-.6,.5-.6,.4-.7,.5-.8,.5-.9,.4-1,.4-1.1,.3-1,.2-1.1,.1-.9,.1-.9,.1-.7,0-.6,.1-.6,.1-.5,.1-.6,0-.6,0-.6,0-.7-.2-.7-.2-.7-.2-.6-.1-.6-.2-.6,0-.6-.1-.7,0-.7-.2-.8-.3-.8-.3-1-.3-1-.4-1.1-.4-1.1-.5-1.1-.4-1-.5-1-.4-.9-.5-.9-.4-.7-.4-.7-.4-.7-.3-.6-.4-.7-.4-.7-.4-.9-.4-.9-.4-.9-.4-.9-.4-.9-.4-.9-.4-.8-.5-.8-.5-.8-.5-.6-.4-.6-.4-.5-.3-.6-.2-.6-.2-.6-.2-.6-.2-.7-.3-.7-.4-.8-.6-.7-.8-.7-.8-.7-.8-.6-.8-.6-.6-.5-.6-.6-.4-.7-.5-.7-.5-.7-.6-.8-.7-.8-.6-.8-.6-.8-.5-.7-.6-.7-.5-.6-.5-.6-.5-.5-.5-.5-.6-.5-.6-.5-.6-.5-.8-.5-.8-.6-.8-.6-.8-.7-.7-.8-.7-.9-.7-.9-.6-.8-.6-.7-.6-.7-.4-.6-.5-.5-.6-.4-.6-.2-.6Z M654.2,419.7l.3-.8 .5-.7 .8-.6 .8-.5 .9-.4 1-.4 1-.5 .9-.4 1-.4 .8-.4 .8-.5 .7-.5 .7-.5 .7-.5 .7-.6 .7-.6 .8-.6 .8-.6 .9-.4 .9-.4 1-.4 .9-.3 1-.3 .9-.2 .9-.3 .9-.4 .8-.3 .8-.3 .8-.3 .7-.3 .7-.2 .8-.3 .8-.3 .8-.4 .7-.4 .8-.3 .8-.3 .8-.3 .8-.1 .9-.1 .9-.1 .9-.1 1-.1 1-.1 1-.2 1-.1 1-.2 .9-.1 .8-.1 .8-.1 .8,0 .8-.1 .8,.1 .7,0 .9,.1 .9,.1 .9,.2 1,.2 1.1,.2 1.1,.3 1.1,.2 1.1,.2 .9,.1 .9,.1 .7,.1 .6,.1 .7,.2 .6,.2 .8,.2 .9,.2 1,.2 1.1,.1 1.1,0 1.2,.1 1,.1 1.1,.2 .9,.2 .8,.4 .7,.4 .7,.4 .7,.5 .6,.4 .6,.5 .5,.5 .5,.5 .3,.6 .4,.7 .3,.7 .4,.8 .4,.9 .4,.8 .5,.8 .5,.7 .5,.8 .5,.7 .5,.8 .6,.9 .4,.9 .5,1 .4,1.1 .3,1 .3,1.2 .2,1 .1,1 .1,.9 .2,.8 .1,.9 .2,.8 .2,.9 .2,1 .3,.9 .4,1 .3,.9 .3,.9 .2,.8 .2,.8 .2,.7 .1,.8 .1,.7 0,.9 .1,1 0,1 0,1.1 0,1.1 0,1-.1,1-.2,.9-.3,.8-.3,.8-.4,.8-.4,.7-.3,.7-.3,.7-.3,.8-.2,.7-.3,.7-.3,.8-.4,.6-.6,.7-.7,.6-.8,.6-.9,.5-.9,.4-1,.4-1,.4-1,.4-1,.4-1.1,.5-1.1,.4-1.1,.4-1.2,.3-1.1,.1-1,.1-1-.1-.8-.1-.7-.2-.6-.3-.6-.2-.5-.3-.6-.3-.5-.2-.7-.3-.7-.2-.9-.2-1-.3-1.2-.1-1.2-.2-1.2-.1-1.2-.2-1.1-.1-.9-.3-.7-.3-.6-.5-.4-.5-.4-.5-.5-.5-.5-.5-.7-.5-.9-.4-1-.4-.9-.4-1-.3-.9-.4-.8-.4-.7-.5-.7-.5-.6-.5-.7-.6-.7-.5-.8-.5-.8-.4-.8-.5-.8-.4-.9-.3-.9-.3-.9-.2-.8-.2-.9-.2-.8-.3-.7-.4-.6-.4-.6-.6-.5-.6-.5-.7-.6-.8-.6-.8-.7-.8-.9-.7-.9-.8-1-.6-1-.6-1.1-.5-.9-.6-.8-.5-.7-.6-.6-.5-.5-.7-.4-.6-.3-.8-.4-.6-.4-.6-.5-.5-.6-.5-.7-.4-.8-.4-.9-.5-.9-.6-.9-.6-.9-.6-.8-.6-.7-.6-.7-.5-.6-.5-.6-.5-.4-.6-.5-.6-.4-.8-.3-.9-.3-1Z M655.2,419.6l.1-1 .4-1 .5-.8 .7-.8 .9-.6 1-.5 1-.4 1.1-.3 1-.3 1-.3 .8-.4 .7-.5 .7-.6 .7-.6 .7-.7 .9-.7 1-.6 1-.7 1.1-.5 1.1-.4 1-.3 1-.2 .9-.1 .8-.1 .8,0 .9-.1 .8-.1 1-.1 .9-.2 1.1-.3 1-.5 .9-.5 .9-.5 .8-.5 .7-.5 .7-.5 .8-.4 .8-.3 .9-.2 .9-.1 1-.1 1.1-.1 1.1-.2 1.1-.2 1.2-.2 1-.2 1-.2 1-.2 .9-.1 .9-.1 .9-.1 .9,0 .8,0 .8,.1 .8,0 .9,0 .9,0 1,0 1,0 1.1-.1 1.2,0 1.2-.1 1.2-.1 1.2,0 1,.1 1,.2 .9,.3 .8,.4 .8,.5 .8,.5 .9,.5 1,.4 1.1,.4 1.2,.2 1.2,.3 1.2,.2 1,.3 .9,.4 .8,.6 .6,.7 .6,.8 .6,.9 .6,1 .6,.9 .7,.9 .7,.8 .8,.7 .6,.8 .6,.6 .5,.7 .4,.8 .4,.8 .4,.9 .4,1 .4,1 .4,1.1 .4,1.1 .4,1 .4,1 .4,1 .3,1 .3,.9 .2,.9 .3,.9 .2,.9 .3,.8 .3,.9 .4,.8 .5,.8 .4,.8 .5,.9 .5,.8 .3,.9 .2,.9 0,1-.3,1.1-.3,1.1-.5,1.1-.4,1.2-.4,1.1-.3,1.1-.1,1.1 .1,1 .1,.9 .2,1 .3,.8 .1,.8 .1,.8 0,.9-.2,1-.2,1-.4,1.1-.5,1.1-.5,1-.7,1-.7,1-.8,.8-.8,.7-.8,.7-.7,.5-.7,.6-.6,.5-.7,.6-.6,.7-.7,.6-.8,.6-.9,.5-.9,.4-.9,.2-1,0-.9,0-.9-.2-.9-.2-.9-.2-.9-.1-.9-.1-1,0-1,.1-1,.1-1,.1-.9,0-1-.1-1-.2-1.1-.2-1.1-.3-1.2-.3-1.2-.3-1.2-.4-1.1-.5-1-.4-.8-.5-.7-.6-.6-.7-.7-.7-.7-.8-.8-.7-.9-.7-.8-.6-.9-.6-.9-.4-.8-.5-.8-.4-.8-.3-.8-.4-.9-.5-.9-.4-1.1-.4-1.1-.5-1.1-.4-1-.4-.9-.4-.8-.3-.7-.2-.6-.3-.7-.3-.6-.4-.7-.4-.7-.5-.7-.5-.8-.7-.8-.7-.8-.8-.9-.8-.9-.9-.9-.7-1-.8-.9-.6-.9-.6-.9-.5-.9-.6-.8-.5-.8-.7-.8-.7-.8-.7-.7-.8-.8-.8-.9-.8-.8-.7-.8-.8-.7-.8-.6-.8-.7-.8-.5-.8-.6-.8-.5-.8-.6-.7-.5-.6-.7-.5-.6-.4-.8-.4-.7-.5-.8-.5-.7-.6-.7-.6-.6-.7-.5-.7-.5-.7-.4-.7-.3-.8Z M653.9,418.8l.3-.9 .6-.7 1-.4 1-.3 1.1-.3 1.1-.3 1.1-.4 1-.5 1-.6 .8-.7 .8-.8 .7-.7 .9-.7 .9-.6 .9-.5 1-.5 1-.5 .9-.4 .9-.5 .9-.6 1-.6 .9-.6 .9-.5 1-.6 1.1-.4 1.1-.3 1.1-.2 1.2-.2 1.1-.2 1.1-.2 1-.3 1-.3 .9-.3 1-.4 .9-.4 .9-.5 .8-.5 .8-.4 .8-.4 .8-.2 .8-.1 .8-.1 .9,0 .9,0 1.1,.1 1.2,.1 1.3,0 1.4-.1 1.4-.2 1.5-.2 1.4-.3 1.4-.3 1.3-.2 1.2-.2 1-.2 .9-.1 .8-.1 .9,0 .8,.1 .9,.2 .9,.3 .9,.3 .9,.3 .9,.2 .9,.3 .9,.4 .9,.4 .9,.4 .9,.4 .9,.5 1,.3 1.1,.4 1.2,.3 1.1,.3 1.1,.2 1.1,.3 .9,.3 .9,.4 .8,.5 .6,.6 .6,.6 .5,.7 .4,.7 .5,.8 .5,.9 .6,.8 .5,1 .6,1 .6,1 .5,1 .5,1 .4,1 .4,1 .4,.9 .4,.9 .4,.9 .5,.8 .5,.8 .4,.7 .5,.7 .3,.8 .3,.9 .3,.9 .3,1 .4,1 .4,1.2 .5,1.1 .5,1.1 .6,1.1 .5,1.1 .4,1 .3,1.1 .1,1.1 .1,1.1-.1,1 0,1.1-.1,1.1-.1,1.1-.1,1.1 0,1 0,1.1 .1,1 0,1.1 0,1.1-.1,1.1-.2,1.1-.4,1.1-.3,1.2-.5,1.2-.5,1.1-.5,1.2-.4,1.2-.3,1.1-.3,1-.2,1-.2,.8-.3,.8-.5,.7-.7,.6-.7,.6-.9,.6-.8,.6-1,.6-.8,.5-.8,.6-.7,.5-.6,.5-.6,.4-.7,.3-.9,.2-1.1,.1-1.1,.1-1.2-.1-1.2-.2-1.2-.3-1.2-.4-1.1-.4-1.1-.4-1-.4-.9-.2-1-.2-1-.1-1,0-1,0-1.1-.1-1.2-.1-1.1-.3-1.2-.5-1.2-.5-1.2-.6-1.1-.6-1.1-.6-.9-.5-.9-.5-.8-.4-.8-.4-.8-.4-.7-.3-.9-.3-.9-.4-1-.4-.9-.3-1-.4-.9-.4-.8-.4-.7-.4-.7-.4-.6-.5-.6-.6-.6-.5-.7-.6-.7-.7-.8-.7-.9-.7-1-.8-1-.7-1-.8-1.1-.6-1-.7-1-.5-.9-.5-1-.5-1-.6-1-.6-.9-.6-.9-.8-.7-.7-.7-.8-.6-.8-.6-.8-.6-.7-.5-.8-.5-.7-.6-.7-.6-.7-.7-.7-.8-.7-.9-.7-.8-.6-.9-.6-.8-.6-.8-.6-.9-.5-.8-.6-.9-.6-.8-.6-.8-.6-.9-.7-.8-.7-.7-.7-.8-.8-.8-.8-.7-.9-.8-.9-.7-.9-.7-1-.8-1-.7-1.1-.5-1.1Z M656.4,419.6l.2-.7 .4-.7 .5-.7 .6-.6 .6-.6 .7-.5 .7-.5 .8-.5 .8-.4 .9-.4 .9-.3 .9-.4 .8-.5 .8-.5 .8-.5 .9-.5 .9-.6 .9-.5 .9-.6 .9-.5 .9-.5 .9-.4 .8-.5 .8-.4 .7-.3 .6-.3 .6-.2 .6-.3 .6-.2 .6-.2 .7-.1 .7-.3 .7-.2 .8-.3 .7-.3 .9-.5 .9-.4 .9-.5 1-.4 1.1-.4 1.2-.4 1.2-.3 1.3-.3 1.3-.2 1.3-.1 1.3-.1 1.2,0 1.2,0 1,0 .9,.1 .7,.2 .6,.2 .6,.1 .5,.1 .6,0 .8,0 .8-.2 1-.1 1.1-.1 1.2-.1 1.2-.1 1,0 1,0 1,.1 .9,.2 1,.2 .9,.4 1,.3 .9,.5 .9,.4 .7,.5 .6,.4 .6,.5 .6,.4 .5,.4 .6,.3 .7,.5 .7,.5 .8,.5 .8,.6 .9,.7 .8,.7 .8,.7 .8,.7 .8,.7 .7,.6 .7,.7 .7,.6 .7,.6 .6,.7 .4,.7 .4,.8 .4,.9 .3,.9 .3,1 .4,1 .4,.9 .5,1 .6,1 .5,.9 .6,1 .6,.8 .5,.9 .5,.8 .3,.9 .3,.8 .1,.8 .2,.8 .1,.7 .1,.8 .1,.9 .1,.9 0,.9 .2,1 .1,.9 .2,1 .1,.9 .2,.9 0,.9 0,.9 0,.9 0,1 0,1-.1,1.1-.1,1.1-.1,1.1-.2,1-.2,1.1-.2,1-.2,.9-.3,.8-.3,.9-.3,.8-.3,.7-.4,.8-.4,.7-.6,.8-.5,.6-.7,.7-.7,.5-.8,.5-.9,.5-.8,.5-.9,.3-.8,.4-.9,.3-.9,.2-.9,.2-.9,.2-.8,.2-.8,.2-.7,.1-.8,.1-.8,.1-.8,.1-.8,0-.8-.1-.8-.2-.9-.3-.9-.4-.9-.3-1-.3-.9-.3-.9-.1-1-.1-1.1,0-1,0-1.1-.2-1.1-.2-1-.4-1-.4-1-.6-.8-.6-.8-.5-.8-.6-.7-.5-.7-.5-.6-.3-.7-.3-.7-.3-.8-.3-.8-.4-1-.3-1-.4-1.1-.4-1-.4-.9-.5-.9-.5-.8-.6-.8-.5-.7-.6-.6-.5-.8-.5-.8-.4-.9-.3-1.1-.2-1.1-.3-1.1-.2-1.1-.3-1-.4-.9-.5-.8-.7-.7-.8-.6-.9-.5-.9-.5-.8-.5-.8-.5-.7-.5-.6-.6-.5-.6-.3-.8-.4-.7-.3-.8-.3-.8-.3-.7-.4-.7-.5-.7-.6-.6-.7-.6-.7-.7-.8-.7-.7-.7-.8-.8-.8-.9-.8-.9-.8-.8-.9-.8-.9-.7-1-.6-.9-.6-.8-.6-.7-.5-.6-.6-.5-.5-.5-.5-.4-.5-.5-.4-.6-.2-.7Z M655.3,420.3l.4-1 .7-.9 .8-.8 .8-.8 .7-.7 .6-.6 .5-.5 .4-.4 .4-.4 .4-.4 .5-.4 .7-.4 .8-.4 .9-.4 1-.4 1-.4 1.1-.3 .9-.3 1-.2 .9-.2 1-.1 .9-.2 .9-.1 .8-.2 .8-.2 .8-.4 .7-.4 .6-.4 .6-.5 .6-.4 .7-.4 .8-.3 .9-.4 .9-.3 1.1-.3 1.1-.4 1.1-.5 1.1-.5 1-.5 1.1-.6 1-.5 1-.4 1-.2 .9-.1 1,0 .9,.2 .8,.1 .7,.2 .7,.2 .7,.1 .6,0 .7,0 .7-.1 .8-.2 .8-.2 .8-.1 .9-.1 1,0 1.1,0 1.1,0 1,0 1,.1 1,.2 1,.2 .9,.4 .9,.3 .8,.4 .8,.3 .7,.2 .8,.2 .8,.1 .8,0 .8,0 .9,.2 .8,.2 .8,.4 .8,.5 .8,.6 .9,.6 .8,.5 .8,.5 .8,.5 .8,.5 .8,.6 .6,.6 .6,.7 .5,.8 .3,.8 .4,.8 .2,.7 .4,.7 .3,.7 .4,.8 .4,.7 .4,.8 .4,.9 .5,1 .4,1 .4,1.1 .5,.9 .5,.9 .5,.8 .4,.8 .5,.8 .5,.8 .4,.9 .4,1 .4,.9 .3,1 .3,.9 .2,.9 .2,.9 0,.8 0,.8 0,.8-.1,.8-.1,.8-.1,.9 0,.9 0,1 0,.8 .1,.9 .1,.9 0,.8 0,.9-.1,.8-.1,.8-.2,.8-.3,.8-.5,.9-.5,.9-.6,1-.5,1-.6,1.1-.5,1.1-.4,1.1-.3,1-.3,.9-.2,.8-.3,.7-.3,.6-.4,.5-.6,.5-.6,.4-.7,.5-.8,.4-.7,.4-.8,.4-.7,.3-.8,.1-.7,0-.8-.2-.9-.2-1-.3-1-.4-1.1-.2-1.2-.2-1.2-.2-1.1-.1-1.1,0-1,0-.8,0-.8,0-.8-.1-.8-.2-.9-.3-.9-.3-1-.5-1-.5-1-.5-1-.6-1-.6-1-.5-.8-.4-.9-.4-.8-.2-.9-.2-.8-.1-.9-.2-.9-.3-.8-.4-.8-.5-.8-.5-.7-.6-.8-.5-.8-.6-.7-.6-.8-.6-.8-.7-.9-.6-.8-.6-.8-.6-.8-.5-.8-.4-.6-.5-.6-.4-.6-.4-.6-.4-.7-.3-.7-.4-.8-.5-.9-.5-.9-.6-1-.5-1-.6-.9-.7-.8-.6-.7-.7-.7-.6-.5-.7-.5-.6-.4-.5-.4-.5-.5-.5-.5-.5-.5-.5-.7-.5-.7-.7-.7-.7-.8-.7-.7-.7-.7-.7-.7-.7-.8-.6-.7-.6-.8-.5-.9-.4-.8-.6-.9-.6-.8-.6-.7-.7-.6-.8-.5-.7-.5-.7-.4-.8-.4-.7-.4-.8-.3-.9-.4-.9Z M655.7,419.9l.4-.8 .5-.8 .6-.8 .5-.7 .5-.7 .5-.5 .4-.5 .6-.3 .5-.3 .6-.1 .7-.2 .7-.2 .7-.3 .6-.4 .6-.5 .6-.7 .6-.6 .6-.7 .6-.6 .6-.5 .7-.3 .8-.2 .9-.1 1,0 1.1-.1 1,0 1,0 .9,0 .7-.1 .6-.2 .6-.2 .4-.3 .4-.3 .4-.4 .5-.3 .6-.4 .7-.3 .7-.4 .8-.3 .8-.3 .8-.3 .9-.2 .8-.1 .9-.1 1.1,.1 1,0 1.2,.1 1.1,0 1.1,0 1.1,.1 1.1,0 1,0 .9,0 .9,.1 .9,.2 .7,.1 .7,.1 .7,.2 .6,.1 .6,0 .6,0 .6,0 .5,0 .6,.1 .7,0 .7,.1 .7,.1 .8,.1 .9,0 .9,.1 .8,0 .9,0 .9,0 .8,0 .9,.1 .8,.1 .7,.3 .6,.3 .6,.4 .5,.5 .4,.6 .5,.7 .4,.6 .5,.7 .5,.7 .6,.6 .5,.6 .6,.6 .6,.5 .6,.5 .5,.5 .6,.5 .4,.6 .5,.7 .4,.8 .4,.8 .3,.9 .3,.9 .3,.8 .3,.9 .2,.8 .3,.8 .4,.9 .4,.8 .4,.7 .4,.8 .4,.8 .3,.8 .2,.7 .3,.7 .2,.7 .2,.7 .2,.6 0,.6 0,.6 0,.8-.1,.7 0,.8-.1,.9 0,.8 0,.9 0,.8 .1,.7 .1,.7 .1,.7 0,.7-.1,.6-.2,.7-.3,.8-.4,.7-.4,.8-.4,.7-.4,.8-.4,.7-.4,.8-.3,.7-.3,.7-.4,.7-.4,.7-.5,.7-.5,.6-.6,.5-.6,.5-.6,.5-.7,.4-.8,.4-.7,.4-.8,.4-.8,.4-.8,.3-.8,.3-.7,.3-.8,.2-.7,0-.7,0-.8-.1-.8-.2-.9-.3-.9-.3-1-.4-1-.4-.9-.5-.9-.4-.9-.5-.8-.4-.7-.3-.7-.3-.7-.2-.6-.2-.7-.2-.8-.2-.9-.2-.9-.3-.8-.2-.8-.4-.8-.3-.6-.4-.5-.3-.5-.4-.4-.3-.5-.3-.5-.2-.5-.3-.6-.3-.7-.2-.7-.3-.8-.3-.8-.3-.8-.5-.8-.4-.8-.4-.7-.5-.6-.4-.6-.4-.5-.4-.4-.4-.5-.4-.6-.4-.7-.4-.7-.4-.8-.5-.8-.6-.8-.7-.7-.8-.6-.8-.7-.9-.6-.8-.6-.8-.6-.6-.7-.5-.7-.3-.7-.2-.6-.2-.6-.2-.6-.3-.6-.4-.6-.5-.6-.6-.7-.7-.7-.6-.8-.6-.7-.4-.7-.4-.6-.3-.5-.3-.6-.4-.6-.5-.6-.6-.7-.5-.8-.6-.7-.7-.7-.6-.6-.5-.6-.5-.6-.5-.4-.4-.4-.6-.3-.6-.2-.7Z M654.9,419.7l.2-.6 .2-.5 .4-.5 .5-.5 .5-.5 .8-.4 .8-.5 .8-.4 .9-.5 .8-.4 .9-.4 .9-.4 .8-.4 .8-.4 .8-.3 .8-.4 .7-.3 .7-.4 .6-.4 .7-.3 .6-.4 .5-.3 .5-.3 .6-.2 .5-.2 .5-.3 .5-.2 .5-.3 .5-.2 .5-.3 .6-.3 .6-.4 .7-.3 .6-.3 .7-.3 .7-.3 .6-.1 .7-.1 .7-.1 .8,0 .7,0 .9,0 .8,0 .9,0 .9,0 .8,0 .8-.1 .7,0 .6-.1 .5-.2 .5,0 .6,0 .5,.1 .7,.2 .8,.3 .9,.5 .9,.5 .9,.6 .9,.5 .8,.5 .7,.4 .7,.2 .6,.2 .6,0 .5-.1 .6-.1 .6-.2 .6-.2 .7-.2 .7-.2 .7-.1 .8-.1 .8-.1 .8,.1 .8,0 .8,.1 .8,.1 .7,.1 .7,.2 .6,.2 .6,.3 .5,.4 .5,.3 .5,.4 .4,.5 .5,.6 .4,.5 .3,.5 .4,.5 .4,.5 .5,.4 .5,.5 .6,.4 .7,.5 .6,.4 .6,.5 .6,.5 .6,.6 .6,.7 .5,.8 .4,.9 .3,.9 .2,.9 .3,.9 .2,.8 .2,.7 .2,.7 .2,.6 .2,.6 .3,.7 .2,.6 .2,.7 .2,.7 .1,.8 .1,.8 .1,.8 0,.8 0,.8-.1,.8-.1,.7-.1,.8-.2,.8 0,.8 0,.7 .1,.8 0,.8 .1,.8 0,.8 0,.8-.2,.8-.4,.7-.4,.8-.6,.7-.6,.8-.6,.6-.5,.7-.5,.5-.5,.6-.5,.5-.5,.6-.6,.5-.7,.4-.6,.5-.8,.3-.7,.3-.7,.3-.8,.1-.7,.1-.6,.1-.7,0-.6,.1-.6,0-.7,0-.7-.1-.7-.2-.7-.1-.6-.2-.6-.2-.6-.2-.5-.1-.5-.1-.5,0-.6-.1-.7-.1-.9-.2-.9-.3-1-.4-1-.4-1-.4-.8-.4-.7-.3-.5-.4-.5-.2-.5-.2-.6-.3-.6-.2-.8-.2-.8-.2-.8-.2-.8-.2-.8-.2-.6-.2-.6-.2-.6-.2-.5-.3-.5-.2-.6-.3-.6-.3-.6-.4-.6-.3-.6-.3-.6-.3-.6-.4-.5-.4-.6-.5-.6-.5-.7-.5-.7-.7-.7-.7-.8-.6-.8-.7-.7-.5-.7-.5-.7-.5-.6-.4-.6-.4-.7-.3-.6-.4-.6-.3-.6-.4-.5-.3-.5-.4-.6-.5-.6-.4-.6-.4-.7-.4-.8-.4-.8-.3-.8-.4-.8-.3-.7-.3-.5-.4-.3-.3-.2-.4-.1-.4-.1-.5-.3-.5-.3-.5-.5-.5-.6-.5-.8-.6-.7-.6-.8-.6-.7-.7-.5-.7-.5-.6-.4-.6-.3-.7-.1-.6Z M656.3,421.3l.3-.7 .4-.6 .4-.7 .5-.8 .5-.7 .5-.8 .5-.7 .5-.7 .5-.6 .5-.4 .4-.4 .4-.4 .4-.2 .4-.3 .4-.3 .5-.3 .5-.2 .7-.3 .7-.2 .8-.3 .8-.3 .8-.3 .6-.4 .7-.3 .6-.4 .6-.3 .6-.4 .7-.3 .6-.3 .8-.2 .7-.2 .8-.2 .9-.3 .9-.2 .9-.3 .9-.2 .9-.3 .8-.2 .7-.1 .8-.1 .7-.1 .7,0 .7,0 .7-.1 .6,0 .5,0 .5,.1 .5,0 .4,.1 .5,0 .6,.1 .7,.1 .7,.2 .9,.1 .9,.2 .9,.1 .9,.1 .9,.1 .8,.1 .8,.1 .7,.1 .7,.1 .6,.1 .7,0 .6,.1 .6,.1 .7,.1 .6,.1 .7,.1 .8,0 .8,0 .8-.1 .9,0 .8,0 .8,.1 .8,.2 .7,.3 .7,.4 .5,.5 .5,.5 .4,.7 .4,.6 .3,.7 .3,.6 .3,.5 .3,.4 .5,.3 .5,.2 .6,.3 .6,.3 .7,.4 .6,.4 .6,.5 .6,.6 .6,.6 .5,.7 .5,.7 .5,.7 .4,.6 .4,.5 .4,.5 .3,.5 .3,.4 .3,.5 .2,.5 .3,.6 .2,.6 .3,.7 .2,.7 .3,.8 .2,.7 .2,.8 .2,.7 .1,.8 0,.7 0,.8 0,.8 0,.8 .1,.8 0,.9 .1,.8 .1,.8 .1,.8 .1,.7 0,.7-.1,.8-.2,.7-.2,.8-.3,.8-.3,.7-.4,.6-.3,.5-.3,.5-.3,.4-.3,.4-.4,.3-.5,.4-.5,.5-.5,.4-.6,.6-.6,.7-.7,.6-.6,.8-.7,.7-.8,.7-.7,.7-.8,.4-.7,.3-.7,.1-.7,0-.7-.1-.8-.3-.8-.2-.9-.2-.9,0-.9,0-.9,.2-.8,.2-.7,.1-.6,.2-.5,0-.5,0-.4-.1-.4-.2-.4-.2-.5-.3-.5-.3-.5-.3-.6-.3-.7-.3-.8-.3-.8-.4-1-.4-1-.4-1.1-.4-1-.5-.8-.5-.7-.4-.5-.4-.5-.3-.4-.2-.4-.3-.5-.1-.5-.2-.5-.3-.6-.2-.7-.3-.8-.3-.9-.3-.8-.2-.9-.3-.8-.2-.7-.3-.6-.3-.5-.4-.5-.4-.4-.5-.3-.5-.3-.5-.4-.6-.3-.5-.5-.5-.4-.4-.6-.4-.5-.4-.6-.4-.7-.5-.7-.5-.8-.6-.8-.6-.9-.6-.8-.5-.7-.5-.8-.4-.7-.3-.8-.2-.7-.3-.8-.4-.7-.4-.7-.4-.6-.6-.4-.6-.4-.6-.3-.6-.2-.6-.1-.6-.2-.6-.3-.6-.5-.6-.5-.4-.7-.5-.8-.3-.8-.3-.8-.2-.7-.3-.7-.3-.5-.4-.4-.5-.2-.6Z M655.2,419.2l.3-1 .5-.8 .7-.6 .7-.5 .8-.4 .8-.3 .9-.3 .8-.2 .8-.2 .8-.3 .8-.4 .7-.5 .7-.6 .7-.6 .7-.7 .7-.6 .8-.7 .8-.6 .9-.6 .9-.5 .9-.5 1-.5 .9-.5 1-.6 1-.5 1-.5 1.1-.4 1.1-.3 1.1-.2 .9-.2 .8,0 .7-.1 .6-.1 .6-.2 .6-.2 .6-.3 .8-.3 .9-.2 1-.3 1.2-.2 1.2-.2 1.2-.1 1.1-.2 1-.2 .9-.2 .9-.2 .8-.2 .9-.2 .8-.2 .8-.2 .9-.1 .9,0 .9-.1 .9-.1 .9,0 .9,0 1,.2 .9,.2 1.1,.4 1,.4 1.2,.4 1.2,.3 1.2,.3 1.1,.2 1.2,.1 1,.1 1,.1 .8,.1 .8,.2 .8,.2 .8,.2 .8,.4 .7,.3 .8,.4 .8,.5 .8,.4 .8,.4 .9,.4 .8,.5 .8,.5 .8,.6 .8,.7 .7,.6 .7,.8 .7,.8 .5,.8 .6,.9 .5,.8 .5,.8 .4,.7 .4,.8 .3,.8 .3,.8 .3,.8 .3,.8 .2,.8 .4,.8 .3,.7 .4,.7 .5,.6 .3,.7 .3,.8 .2,1 .1,1 0,1.1 .1,1.1 .2,1.1 .4,1 .3,.9 .5,.9 .6,.8 .5,.7 .5,.8 .4,.8 .2,.8 .1,.9 0,1-.1,1-.2,1-.1,.9-.1,1-.2,.9 0,.9-.1,.9 0,.9 0,.9-.1,.8 0,.9-.1,.8-.2,.9-.2,.8-.3,1-.4,.9-.4,1-.4,.9-.5,1-.5,1-.6,.8-.5,.8-.6,.7-.7,.6-.6,.5-.7,.5-.7,.5-.8,.5-.9,.6-.9,.5-.9,.5-.9,.3-.9,.3-.8,.1-.9,0-.8-.1-.8,0-.9,0-1,0-1,0-1.1,0-1,0-1.1-.1-1.1-.3-1-.3-.9-.3-1-.5-.9-.4-.9-.4-1-.4-1-.4-1-.4-1.1-.4-1.1-.4-1-.4-.9-.4-.9-.4-.7-.4-.7-.4-.6-.3-.6-.3-.5-.3-.6-.4-.7-.3-.8-.4-.9-.4-.9-.4-1-.4-.9-.5-.9-.5-.8-.5-.9-.6-.7-.6-.8-.6-.7-.7-.8-.6-.7-.5-.9-.5-.8-.4-.9-.4-.8-.4-.9-.5-.8-.5-.8-.7-.9-.8-.8-.8-.8-.8-.8-.8-.8-.7-.7-.6-.6-.5-.6-.4-.5-.4-.5-.4-.5-.5-.6-.5-.7-.6-.9-.5-.9-.5-1.1-.6-1.1-.5-1.1-.7-1-.6-.9-.7-.7-.6-.7-.7-.5-.8-.4-.8-.4-.8-.5-.8-.5-.9-.6-.8-.8-.7-.8-.8-.8-.7-.8-.7-.8-.6-.6-.6-.6-.7-.4-.6-.3-.8-.2-.8Z M654.3,419.6l.4-1.2 .8-1 .8-.9 .9-.8 1-.7 .9-.5 .9-.5 .9-.3 .9-.3 .9-.4 .8-.4 .8-.4 1-.6 1-.6 1-.7 1-.6 1.1-.7 1-.6 1.1-.6 1-.5 1.1-.4 1-.4 1-.2 .9-.3 .8-.2 .8-.3 .9-.3 .9-.3 .9-.4 .9-.5 1-.4 1.1-.4 1.1-.3 1.1-.2 1.1-.2 1.1-.2 1-.2 1.1-.2 1-.3 1.1-.4 1.1-.3 1.1-.5 1.1-.4 1.2-.4 1.3-.3 1.2-.3 1.2-.1 1.1,0 1.2,0 1,0 1,.1 1,0 1,.1 .9,0 1,0 1,0 1.1,.1 1,0 1.1,0 1,.1 1.1,0 1,.1 1.1,.1 1,0 1.1,.1 1,.2 1,.1 1,.2 .9,.3 .8,.3 .9,.4 .9,.5 .9,.4 .9,.6 1,.5 1,.7 1,.6 1,.7 .9,.7 .8,.8 .8,.8 .8,.7 .9,.8 .8,.8 .9,.8 .9,.9 .9,.9 .8,.8 .6,.9 .6,.8 .5,.9 .4,.8 .4,.8 .5,.8 .5,.9 .5,.9 .4,.9 .5,1.1 .3,1.1 .3,1.3 .1,1.3 .2,1.3 .1,1.4 .1,1.3 .1,1.2 .3,1.2 .2,1.1 .3,1.1 .2,.9 .3,.9 .2,.8 .2,.9 .2,.8 .2,.9 .2,.9 .1,.9 0,1 0,1.1 0,1.1-.1,1.1-.1,1.2-.1,1.1-.2,1 0,1.1-.1,1 0,1.1 0,1.1-.1,1.1-.1,1.2-.3,1.3-.3,1.3-.3,1.3-.4,1.2-.4,1.1-.3,1-.3,.8-.4,.8-.4,.7-.4,.7-.6,.8-.6,.8-.8,.8-1,.8-1,.7-1.1,.7-1.2,.6-1.1,.5-1.2,.3-1,.1-1,0-1-.1-.9-.2-1-.3-.9-.3-.9-.2-1-.1-1.1-.1-1.1-.1-1.1-.1-1.1-.1-1.1-.2-1.1-.3-1.1-.3-1.1-.4-1.2-.5-1.1-.4-1.2-.5-1.2-.4-1.2-.4-1.1-.5-1-.5-1-.5-.9-.5-.8-.5-.8-.4-.8-.4-.8-.3-.9-.4-.9-.4-1-.4-1-.4-1-.4-.9-.5-1-.5-.8-.6-.8-.4-.8-.5-.7-.4-.8-.5-.7-.5-.8-.5-.8-.6-.8-.6-.9-.7-.8-.7-1-.8-.9-.7-1-.8-.9-.8-1-.7-1-.7-.9-.7-1-.6-1-.7-.9-.6-.9-.7-.8-.7-.8-.7-.8-.6-.8-.6-.8-.6-.8-.6-.8-.6-.9-.6-.9-.7-.9-.8-.9-.8-.9-.9-.9-.9-.9-.8-.8-.7-.7-.7-.7-.7-.6-.6-.6-.8-.5-.8-.6-.9-.6-1-.7-1.1-.8-1-.9-1.1-1.1-.9-1-.8-1-.8-1-.6-.8-.7-.7-.6-.5-.7-.3-.8Z M654.6,417.6l.5-.7 .7-.4 .8-.4 .8-.2 .9-.2 .8-.3 .8-.2 .8-.4 .8-.5 .7-.5 .8-.5 .8-.4 .7-.4 .8-.4 .7-.3 .7-.3 .7-.4 .8-.3 .8-.3 .9-.3 .8-.4 .7-.4 .8-.4 .7-.4 .6-.3 .7-.3 .7-.4 .7-.3 .8-.3 .9-.3 .9-.3 1-.3 1.1-.4 1-.3 1.1-.4 1.1-.5 1-.4 1-.4 .9-.4 .9-.3 .8-.2 .8-.2 .7-.2 .7-.1 .7-.1 .7-.1 .7-.1 .7-.1 .8,0 .8,0 .8,0 .9,0 .8,.1 .8,.1 .8,.2 .8,.2 .8,.2 .8,.2 .8,.1 .9,.2 .9,.1 1,.1 .9,.2 1,.1 .9,.2 .9,.2 .9,.3 .8,.2 .8,.1 .8,.1 .9,0 .8,0 1,.1 1,.2 1,.4 1.1,.5 1.1,.6 1.1,.7 .9,.7 .8,.7 .8,.6 .6,.5 .6,.5 .5,.5 .4,.5 .5,.5 .5,.7 .4,.7 .5,.8 .4,.8 .3,.8 .4,.8 .3,.8 .3,.9 .3,.8 .3,.9 .3,.8 .3,.8 .3,.8 .3,.7 .4,.7 .3,.6 .3,.6 .3,.4 .4,.5 .3,.6 .4,.7 .3,.8 .3,.8 .3,1 .3,.9 .3,.9 .3,.9 .2,.9 .3,.8 .2,.8 .2,.8 .2,.8 .2,.9 .2,1 .1,1 .1,1 0,.9-.1,1-.2,.9-.2,1-.4,1-.4,1-.4,1-.5,1.1-.6,1.1-.5,1-.5,1-.4,.9-.5,.9-.4,.7-.4,.8-.4,.7-.4,.6-.5,.6-.5,.6-.6,.6-.6,.5-.8,.5-.8,.4-.9,.4-.9,.4-1,.3-1,.3-1,.2-.9,.2-1,.1-.9,0-.8,0-.9-.1-.7-.2-.7-.4-.6-.4-.6-.5-.6-.5-.7-.4-.9-.4-1-.1-1.1-.1-1.1,0-1.1,.1-1,0-.8,0-.6-.2-.4-.2-.3-.4-.2-.5-.4-.6-.5-.6-.7-.6-.9-.5-1-.5-1-.4-1-.4-1.1-.4-1-.3-.9-.4-.8-.2-.8-.4-.8-.3-.8-.4-.8-.4-.9-.4-.9-.5-.9-.4-.9-.3-.9-.3-.8-.3-.8-.3-.7-.2-.7-.4-.7-.3-.6-.5-.7-.6-.7-.7-.8-.7-.9-.6-.8-.7-.9-.7-.8-.6-.8-.7-.6-.7-.5-.7-.5-.7-.4-.7-.5-.8-.5-.6-.6-.6-.7-.5-.8-.5-.8-.4-.8-.4-.8-.5-.7-.5-.8-.5-.6-.6-.6-.6-.6-.7-.6-.7-.7-.7-.6-.7-.7-.8-.7-.8-.8-.8-.7-.8-.9-.8-.9-.7-.8-.7-.8-.5-.7-.6-.6-.6-.5-.6-.5-.7-.3-.8Z M655.7,420.2l.2-.6 .4-.4 .6-.5 .6-.5 .6-.5 .7-.6 .6-.5 .6-.6 .5-.5 .5-.4 .5-.5 .3-.4 .4-.4 .3-.3 .4-.3 .4-.3 .4-.3 .4-.2 .5-.2 .6-.2 .7-.1 .7-.1 .8-.2 .8-.1 .8-.3 .8-.2 .9-.3 .7-.3 .8-.3 .7-.4 .7-.4 .5-.4 .5-.4 .5-.3 .5-.4 .5-.2 .6-.3 .7-.1 .7-.2 .9,0 .9-.1 .9-.1 .9-.1 .9,0 .7,0 .7,0 .6,.1 .5,.1 .6,.2 .5,.3 .4,.3 .5,.3 .4,.3 .4,.3 .5,.1 .5,.2 .6,0 .6,.1 .8-.1 .8,0 .9,0 1-.1 .8,0 .9,.1 .7,.1 .7,.1 .6,.1 .5,.1 .6,0 .6,.1 .6,0 .8,.1 .9,0 .9,0 .9,0 .9-.1 .8,0 .8,0 .7,.2 .6,.2 .5,.3 .5,.4 .5,.5 .5,.5 .4,.5 .5,.4 .4,.4 .5,.4 .4,.5 .5,.6 .4,.6 .5,.8 .6,.8 .5,.7 .6,.6 .5,.6 .5,.5 .5,.4 .3,.4 .3,.5 .4,.5 .3,.6 .4,.6 .3,.6 .4,.6 .4,.6 .3,.6 .3,.5 .3,.7 .1,.6 .1,.7 .1,.7 0,.8 0,.6 0,.7-.2,.6-.2,.5-.2,.5-.3,.5-.1,.6-.1,.6-.1,.7 .1,.7 .2,.8 .2,.8 .3,.8 .1,.9 .1,.9-.1,.9-.2,.9-.4,.8-.4,.7-.4,.6-.5,.5-.5,.4-.6,.4-.5,.3-.6,.4-.5,.5-.4,.5-.6,.6-.5,.5-.5,.5-.5,.3-.6,.2-.7,.1-.6,0-.7-.1-.7,0-.6,0-.7,.1-.7,.1-.5,.1-.5,.1-.5,.1-.4,.2-.5,.2-.5,.2-.6,.1-.7,.2-.9,0-1-.1-1.1-.1-1-.3-1-.3-.9-.3-.9-.4-.7-.3-.6-.3-.6-.2-.7-.2-.6-.2-.6-.3-.6-.3-.6-.5-.5-.5-.4-.4-.4-.5-.5-.4-.5-.3-.6-.3-.6-.3-.7-.2-.7-.3-.7-.3-.7-.2-.6-.2-.5-.1-.5-.2-.4-.1-.5-.1-.5-.1-.5-.2-.6-.3-.7-.4-.6-.5-.6-.5-.7-.5-.6-.4-.5-.4-.6-.3-.5-.3-.6-.3-.6-.2-.7-.2-.7-.3-.8-.3-.8-.4-.8-.4-.7-.5-.7-.5-.8-.6-.6-.4-.7-.4-.6-.3-.5-.3-.5-.2-.4-.2-.5-.2-.4-.3-.5-.4-.5-.5-.5-.4-.5-.5-.5-.4-.5-.5-.5-.4-.5-.5-.5-.6-.4-.7-.4-.7-.4-.8-.5-.7-.5-.7-.5-.6-.5-.5-.5-.3-.3-.4-.3-.5Z M655,420l.4-.8 .7-.8 .7-.7 .8-.6 .7-.5 .7-.5 .6-.5 .7-.4 .6-.3 .7-.4 .7-.4 .8-.3 .8-.5 .8-.4 .9-.5 .8-.5 .8-.4 .8-.4 .7-.4 .8-.3 .8-.3 .8-.3 .8-.3 .9-.3 .9-.4 .9-.3 .8-.3 .8-.3 .7-.3 .6-.2 .7-.2 .6-.3 .6-.2 .7-.1 .6-.2 .8-.1 .8-.1 .9-.2 1-.1 .9-.2 1-.2 1-.1 .9-.1 .9,0 .7-.1 .7,0 .6,.1 .5,.1 .5,.1 .5-.1 .6-.1 .7-.2 .8-.2 .8-.2 .8-.2 .8-.2 .8-.1 .8-.1 .8-.1 .8-.1 .9-.1 1,0 1.1,0 1.1,.2 1.2,.1 1.3,.3 1.2,.3 1.1,.3 .9,.3 .9,.3 .7,.2 .7,.1 .7,0 .6,.1 .5,.2 .5,.2 .5,.4 .5,.4 .5,.6 .6,.7 .6,.8 .6,.7 .6,.8 .6,.8 .6,.7 .7,.6 .6,.5 .7,.5 .6,.5 .6,.5 .7,.5 .6,.5 .6,.6 .6,.8 .5,.8 .4,.9 .3,.9 .3,.9 .3,.8 .2,.8 .3,.7 .2,.6 .3,.6 .3,.6 .3,.6 .3,.6 .3,.7 .2,.8 .2,.9 .1,1 .1,1 .1,1 .1,1 0,1 .1,.9 0,.8 .1,.8 .1,.6 0,.6 .1,.6 0,.6 0,.7 0,.8-.1,.8-.1,.8-.1,.9-.2,.9-.1,.9-.2,.9-.2,.9-.2,.9-.2,.8-.3,.9-.4,.9-.4,.8-.5,.9-.6,.7-.6,.8-.6,.7-.6,.6-.6,.7-.7,.5-.7,.6-.7,.4-.7,.4-.7,.4-.7,.2-.7,.2-.6,.2-.5,.1-.5,0-.6,.1-.6,0-.7,0-.8-.1-.9-.2-.9-.2-1-.3-1-.3-1-.2-1-.2-1-.2-1-.2-1-.2-.8-.3-.9-.2-.8-.4-.8-.4-.8-.4-.8-.4-.9-.5-.9-.4-1-.3-.9-.3-.9-.2-.9-.2-.7-.2-.5-.2-.4-.3-.4-.3-.3-.4-.4-.5-.6-.4-.8-.5-.9-.5-1-.3-1-.3-1-.1-1-.2-.8-.1-.8-.2-.6-.4-.6-.5-.6-.7-.6-.7-.7-.8-.7-.9-.7-.7-.7-.7-.7-.6-.7-.5-.7-.4-.7-.3-.6-.2-.7-.3-.6-.3-.6-.3-.5-.4-.6-.4-.7-.4-.6-.5-.6-.5-.7-.5-.8-.5-.9-.5-.8-.6-.9-.5-.8-.5-.8-.6-.8-.5-.7-.6-.7-.6-.7-.6-.6-.6-.7-.6-.7-.6-.6-.7-.6-.7-.5-.7-.4-.7-.3-.7-.2-.7-.2-.7-.3-.6-.3-.5-.4-.5-.4-.5-.5-.5-.5-.6Z M655.3,419.7l.4-1 .6-.8 .7-.6 .7-.6 .8-.4 .8-.4 .9-.5 .9-.4 .9-.5 .9-.6 .9-.7 .8-.7 .8-.7 .8-.6 .8-.6 .9-.6 .9-.5 1-.4 1-.4 1-.3 1-.3 1-.3 .9-.2 .9-.3 1-.3 .9-.2 1.1-.1 1-.2 1.1-.3 1-.3 .9-.3 .9-.5 .8-.4 .7-.5 .7-.5 .8-.5 .8-.4 1-.3 .9-.1 1.1-.1 1-.1 1.1-.1 1.1-.1 1.1-.3 1.1-.3 1.2-.4 1.2-.4 1.2-.5 1.2-.5 1.1-.3 1.1-.4 1-.2 1-.1 1-.1 .9,0 1,.1 .9,.1 1,.1 .9,.2 1,.3 1,.4 .9,.3 .9,.4 .9,.3 .9,.3 .8,.2 .8,.2 .8,.1 .8,.2 .8,.3 .9,.3 .8,.5 1,.5 1.1,.6 1.1,.7 1.2,.7 1.2,.7 1.1,.7 1,.6 .9,.5 .9,.5 .8,.5 .6,.6 .7,.7 .6,.7 .7,.9 .6,.9 .6,.9 .6,.8 .4,.8 .4,.7 .4,.5 .4,.6 .4,.6 .4,.6 .3,.9 .4,.9 .4,1.1 .3,1.2 .4,1.3 .4,1.2 .3,1.2 .3,1.1 .3,1 .2,1 .2,.9 .2,.9 .1,.8 .1,.9 0,.9 .1,.9 .1,1 .2,1.1 .2,1.1 .3,1.2 .3,1.1 .2,1.2 .3,1.1 .3,1 .2,1 .2,1 0,.9 0,.9 0,1-.1,1-.2,1-.2,1.1-.4,1.2-.4,1.1-.3,1.1-.4,1.1-.3,1.1-.3,1-.4,1-.4,.9-.5,.9-.6,.8-.6,.8-.7,.8-.7,.7-.8,.6-.8,.6-.7,.5-.6,.4-.7,.5-.6,.4-.7,.5-.8,.4-.8,.4-.9,.4-1,.3-1,.1-.9,0-1.1-.2-1-.3-1.1-.4-1.2-.5-1.2-.5-1.3-.6-1.3-.4-1.2-.4-1.2-.3-1.1-.2-1-.1-.9-.1-.8,0-.7-.1-.7-.1-.8-.2-.8-.2-.9-.4-.9-.4-1-.5-1-.5-1-.6-1.1-.6-1-.5-1-.5-1-.5-.9-.4-1-.3-.9-.4-1-.4-1-.5-1-.5-.9-.6-.9-.7-.8-.6-.9-.6-.7-.6-.6-.6-.7-.5-.7-.5-.7-.4-.9-.5-.9-.5-.9-.5-1-.5-.9-.6-1-.7-.9-.7-.9-.7-.8-.8-.9-.8-.9-.7-1-.7-1-.7-1-.6-1-.6-.9-.6-.8-.5-.7-.6-.5-.5-.4-.5-.5-.6-.4-.6-.5-.6-.6-.7-.7-.6-.8-.8-.9-.9-1-.9-.9-.9-.9-.8-.7-.8-.7-.8-.5-.7-.5-.7-.4-.8-.6-.8-.6-.9-.7-.9-.7-1-.9-1-.9-.9-.8-1-.8-.9-.5-1-.4-1Z M654.8,421l.2-.5 .5-.5 .6-.4 .5-.5 .6-.5 .5-.6 .4-.7 .5-.8 .4-.8 .5-.8 .6-.7 .6-.6 .6-.5 .7-.4 .8-.3 .7-.2 .8-.2 .7-.2 .7-.2 .7-.3 .7-.1 .7-.2 .7-.1 .8,0 .7-.1 .8-.1 .7-.1 .7-.2 .6-.3 .6-.3 .4-.5 .3-.4 .4-.5 .3-.4 .5-.2 .6-.2 .7-.1 .8-.1 .9,0 .9,0 .8,.1 .7,0 .7,0 .5,0 .5,.1 .5-.1 .6,0 .6,.1 .7,.1 .8,.2 .8,.2 .8,.2 .8,.2 .7,.2 .7,.2 .6,.1 .7,.1 .6,0 .7-.1 .6-.1 .7-.2 .8,0 .7-.1 .8,.1 .8,.1 .7,.1 .7,.2 .6,.3 .6,.4 .5,.3 .5,.2 .4,.2 .5,0 .6,0 .7-.1 .8,0 .9,0 .9,0 .8,.2 .7,.1 .6,.3 .4,.4 .3,.3 .3,.4 .2,.3 .3,.4 .4,.4 .5,.4 .6,.5 .7,.6 .6,.5 .7,.5 .5,.4 .6,.4 .5,.4 .5,.3 .4,.2 .4,.3 .4,.4 .4,.6 .3,.7 .2,.9 .2,1 .1,1.1 .1,1 .2,.9 .1,.8 .2,.7 .3,.5 .3,.5 .2,.3 .3,.4 .2,.4 .1,.4 .1,.6 0,.7 0,.7 0,.8 0,.8-.1,.8-.1,.8 0,.7-.1,.7 .1,.7 .1,.6 .1,.5 0,.6 0,.6-.1,.7-.2,.7-.2,.8-.3,.7-.3,.7-.4,.6-.5,.5-.4,.4-.5,.3-.5,.3-.4,.4-.5,.5-.6,.4-.5,.6-.6,.5-.7,.6-.6,.6-.7,.5-.7,.5-.6,.3-.6,.3-.6,.1-.5,.2-.5,.1-.5,.1-.6-.1-.7-.1-.7-.1-.8-.2-.9-.2-.9-.2-.9-.2-.8-.1-.8-.1-.6,0-.7,0-.7-.1-.7-.1-.7-.1-.7-.3-.7-.3-.7-.5-.7-.6-.6-.5-.6-.6-.4-.5-.4-.4-.4-.4-.4-.2-.5-.2-.5-.2-.5-.1-.6-.1-.6-.2-.7-.2-.7-.2-.8-.2-.7-.1-.7-.2-.6-.1-.6-.2-.6-.1-.6-.2-.7-.2-.6-.3-.6-.3-.6-.4-.6-.5-.7-.4-.7-.5-.7-.4-.6-.5-.6-.4-.5-.4-.5-.5-.5-.5-.5-.4-.4-.5-.5-.4-.5-.4-.5-.4-.6-.3-.7-.2-.7-.3-.7-.2-.8-.2-.8-.2-.7-.3-.7-.3-.7-.4-.7-.4-.5-.5-.4-.5-.4-.5-.4-.6-.3-.6-.3-.7-.2-.7-.3-.5-.4-.5-.4-.4-.4-.4-.5-.3-.6-.3-.5-.2-.6-.2-.5-.1-.5-.2-.4-.2-.3-.4-.3-.5Z M655.3,420.2l.3-1 .6-.8 .7-.7 .9-.7 .8-.6 .8-.6 .8-.6 .7-.5 .8-.5 .7-.5 .8-.4 .8-.4 .7-.5 .8-.5 .7-.6 .7-.6 .6-.8 .7-.8 .8-.8 .8-.7 .9-.5 .9-.3 1-.2 1,0 1,.1 .9,.1 1-.1 .9-.1 .9-.2 1-.4 1.1-.5 1-.6 .9-.5 .9-.5 .7-.3 .7-.3 .8-.2 .7-.1 .9-.1 1-.1 1.1-.1 1.2-.1 1.2-.1 1.3-.1 1.2,0 1-.1 .9,0 .8,0 .8,0 .7,.1 .7,.1 .8,.2 .7,0 .8,0 .8,0 .8-.3 .9-.2 .9-.3 .9-.3 1-.1 1,0 1,.1 1,.3 .9,.5 .9,.5 .9,.4 .8,.4 .8,.3 .8,.3 .9,.2 .9,.2 .9,.3 .9,.3 .8,.4 .8,.4 .7,.5 .6,.4 .6,.4 .6,.4 .6,.3 .6,.3 .6,.4 .6,.5 .6,.5 .6,.7 .7,.8 .7,.8 .6,.9 .6,.9 .7,.9 .7,.8 .7,.8 .6,.7 .6,.7 .4,.7 .3,.8 .2,.8 .2,.9 .2,.8 .1,.8 .2,.9 .2,.9 .4,.8 .4,.9 .6,.9 .6,.9 .7,1 .6,1.1 .4,1.1 .4,1 .3,1.1 .2,.9 .1,.9 .2,.8 .1,.7 .1,.7 0,.7 .1,.6 0,.7 0,.7 0,.8-.1,.9-.1,.9-.2,1-.1,1-.2,1.1-.1,1.2-.1,1.1-.1,1.1-.1,1-.1,1-.2,.9-.2,.8-.3,.8-.4,.7-.5,.8-.6,.9-.7,.9-.8,.9-.8,.9-.8,.8-.8,.7-.9,.7-.9,.5-1,.5-.9,.4-1,.4-.9,.4-.9,.3-.9,.3-.9,.2-.9,0-1.1-.2-1-.3-1.1-.3-1-.4-1.1-.4-1-.2-.9-.3-.8-.2-.7-.1-.6-.2-.7-.2-.7-.4-.7-.4-.8-.4-.7-.4-.8-.3-.8-.3-.9-.2-.9-.2-.9-.1-1-.2-.9-.3-1-.3-.9-.4-1-.5-.9-.6-.9-.5-1-.6-.9-.5-.8-.5-.8-.5-.8-.6-.7-.6-.6-.5-.7-.5-.6-.5-.7-.5-.7-.5-.8-.5-.9-.4-1-.4-1-.4-1-.4-1-.4-.8-.5-.9-.4-.7-.4-.8-.3-.8-.4-.7-.5-.7-.5-.8-.6-.7-.7-.6-.8-.7-.8-.6-1-.6-.9-.6-.9-.6-.8-.7-.6-.7-.6-.7-.4-.8-.4-.7-.3-.6-.3-.6-.4-.6-.4-.6-.5-.6-.6-.7-.7-.7-.7-.7-.8-.8-.8-.9-.9-.8-.8-.8-.7-.7-.7-.6-.6-.5-.5-.5-.3-.5-.3-.6-.4-.6-.4-.7-.5-.7-.7-.8-.9-.6-1Z M655.4,419.8l.2-.9 .5-.7 .6-.6 .7-.4 .8-.4 1-.4 1-.4 1.2-.4 1.3-.6 1.2-.5 1.1-.6 1-.7 .8-.7 .6-.7 .5-.7 .4-.8 .4-.7 .5-.6 .7-.6 .7-.5 1-.5 1-.3 1.2-.3 1.2-.2 1.2-.1 1.3-.2 1.1-.1 1-.2 1-.3 .9-.2 .9-.3 1-.3 .8-.2 .9-.3 .9-.3 .8-.3 .9-.4 1-.3 .9-.4 1-.4 1-.3 .9-.4 1-.4 1-.3 1-.3 1-.3 1-.2 1-.2 1.1-.2 1.1-.2 1.1-.2 1,0 1,0 .9,.1 .9,.1 1,.3 .9,.2 1,.2 1,.2 1,.1 1.1,0 1.1,0 1,.1 1,0 .9,.2 .9,.2 .9,.3 .9,.4 1,.4 1.1,.6 .9,.6 1,.6 .9,.6 .9,.6 .8,.5 .8,.5 .8,.5 .7,.3 .7,.4 .6,.4 .7,.4 .7,.5 .7,.6 .7,.6 .7,.8 .6,.7 .7,.8 .7,.8 .7,.8 .6,.8 .6,.9 .5,.9 .4,1 .5,.9 .3,.9 .4,.9 .3,.9 .4,.9 .3,.9 .3,.9 .4,.9 .4,.9 .4,1 .3,.9 .3,1.1 .3,1.1 .2,1.1 .1,1.1 .1,1.2 .1,1.1 .1,1.1 0,1 .1,.9 .1,.9 .1,.8 .1,.9 .1,.9 .1,.9 .2,1 .2,1.1 .2,1.1 .2,1 .2,1.1 .2,1.1 .1,1 0,1-.2,1-.3,1-.4,1.2-.4,1.2-.4,1.2-.4,1.2-.4,1.2-.3,1-.3,1-.4,.9-.4,.9-.4,.7-.6,.6-.6,.6-.6,.6-.7,.6-.7,.5-.8,.5-.9,.5-.9,.4-1.1,.4-1.1,.4-1.1,.2-1.2,0-1.1,0-1.1-.1-1.1-.2-1-.1-.9-.1-1,0-.9-.1-.9,0-1-.1-1-.1-1-.3-1-.3-1-.4-.9-.5-.9-.5-.9-.4-.8-.4-.8-.3-.8-.3-.7-.2-.8-.1-.7-.1-.8-.1-.9-.2-.9-.3-1-.4-1.1-.5-1.2-.7-1.2-.7-1.1-.8-1.2-.7-1.1-.8-1-.6-1-.6-.8-.5-.9-.4-.8-.3-.7-.3-.8-.4-.7-.4-.8-.4-.7-.6-.7-.6-.8-.7-.7-.8-.8-.8-.8-.8-.8-.8-.8-.7-.9-.8-.9-.7-.8-.8-.8-.7-.8-.8-.8-.7-.7-.7-.7-.6-.8-.6-.9-.5-.8-.6-.8-.5-.9-.6-.9-.6-.8-.6-.8-.6-.8-.7-.8-.7-.7-.6-.7-.7-.7-.6-.8-.6-.9-.7-.9-.7-.9-.7-1-.7-.8-.7-.8-.8-.7-.6-.5-.7-.5-.6-.4-.6-.4-.7-.5-.6-.5-.7-.5-.8-.6-.8-.7-.9-.6-.9-.6-1Z M654,419.1l.1-.7 .2-.5 .5-.5 .5-.5 .7-.5 .6-.4 .7-.4 .6-.4 .6-.4 .6-.3 .5-.2 .5-.1 .4-.1 .5,0 .4,0 .5-.1 .5-.1 .6-.2 .6-.3 .6-.3 .7-.4 .6-.4 .6-.4 .6-.4 .7-.3 .7-.2 .7-.3 .8-.2 .8-.3 .8-.3 .9-.3 .8-.3 .8-.3 .7-.2 .6-.1 .5-.1 .5,0 .5,.1 .4,.1 .5,0 .5,0 .6,0 .5,0 .7,.1 .6,0 .7,.1 .7,.1 .7,.1 .7,.1 .7,.1 .7,.1 .7,0 .7,.1 .7,0 .7,0 .6,.1 .6,.1 .6,.1 .5,.2 .6,.1 .6,.1 .6,0 .6,.1 .6,.1 .5,0 .6,.1 .7,.1 .6,0 .7,.1 .6,.1 .7,.1 .6,.1 .6,.1 .6,.1 .5,.2 .6,.1 .5,.1 .5,.1 .5,0 .7,.1 .7,.1 .9,0 .8,.2 .8,.2 .8,.3 .7,.4 .6,.4 .5,.5 .4,.4 .3,.4 .3,.4 .3,.4 .3,.4 .4,.4 .4,.5 .4,.4 .3,.5 .2,.4 .3,.5 .1,.5 .2,.5 .2,.5 .2,.5 .3,.6 .2,.7 .3,.6 .4,.6 .3,.6 .3,.6 .2,.7 .2,.6 .1,.7 0,.6 0,.7 .1,.7 0,.7 .1,.7 .2,.7 .2,.6 .2,.6 .3,.6 .2,.7 0,.7 0,.6-.2,.7-.1,.6-.1,.7-.1,.6 0,.6-.1,.5-.1,.5-.1,.4-.3,.5-.4,.6-.5,.5-.5,.7-.6,.7-.7,.6-.5,.7-.6,.6-.5,.6-.6,.4-.5,.3-.6,.1-.5,0-.5,.1-.5,0-.5,.1-.5,.2-.5,.2-.6,.3-.7,.3-.7,.3-.7,.1-.8,.1-.8,0-.7-.2-.7-.3-.5-.3-.6-.3-.5-.2-.4-.3-.6-.2-.6-.1-.6-.2-.8,0-.9-.1-.9-.1-.9-.1-.9-.2-.8-.2-.7-.2-.5-.3-.5-.4-.5-.3-.5-.4-.5-.3-.4-.3-.5-.3-.5-.2-.5-.3-.5-.3-.5-.2-.6-.3-.6-.3-.7-.3-.7-.4-.8-.3-.7-.3-.7-.3-.7-.3-.5-.2-.5-.1-.4-.1-.3,0-.3,0-.4-.1-.4,0-.4-.2-.6-.2-.6-.3-.7-.4-.7-.4-.6-.5-.6-.5-.5-.4-.4-.4-.4-.4-.4-.4-.4-.4-.5-.3-.6-.4-.8-.4-.8-.4-.8-.5-.8-.5-.7-.5-.5-.5-.5-.5-.4-.4-.3-.4-.3-.3-.4-.2-.4-.3-.6-.2-.6-.2-.6-.2-.6-.3-.6-.3-.5-.5-.5-.5-.5-.5-.6-.6-.5-.7-.5-.6-.5-.5-.5-.5-.4-.5-.2-.4Z M655.6,418.9l.4-.9 .7-.8 .6-.6 .7-.6 .6-.6 .7-.5 .6-.5 .8-.4 .8-.4 .8-.4 .9-.3 .9-.4 .8-.4 .8-.4 .9-.5 .8-.6 .8-.6 .9-.7 .9-.6 1-.5 1-.4 1.1-.5 1.1-.4 1.1-.4 1.1-.4 .9-.3 .9-.3 .8-.3 .6-.2 .6-.3 .5-.3 .5-.3 .5-.3 .7-.2 .7-.4 .9-.4 1.1-.4 1.2-.4 1.2-.3 1.3-.3 1.2-.1 1.2-.1 1.2-.1 1.1,0 1.2,0 1.1,0 1,0 .9-.1 .8-.1 .8-.2 .7-.1 .8,0 .8,.1 .8,.1 .9,.1 .9,.1 1.1,0 1.2-.1 1.3,0 1.3,0 1.3,.1 1.2,.2 1.2,.3 1,.4 1,.4 .8,.4 .8,.3 .7,.1 .8,0 .8,0 .9-.1 1,.1 1,.2 .9,.4 .9,.5 .8,.5 .6,.7 .6,.5 .5,.6 .5,.5 .6,.5 .7,.4 .8,.4 .8,.4 .9,.4 .8,.5 .7,.6 .6,.7 .6,.8 .5,.9 .4,1 .4,1 .5,1.1 .4,1.1 .5,1 .4,1 .4,.9 .4,.8 .2,.8 .3,.8 .2,.9 .1,.9 .2,1 .1,1 .2,1 .2,1 .2,1 .3,1 .3,1 .3,1 .4,1 .4,1 .5,1 .5,1 .4,1.1 .3,1.1 .3,1 .2,1 .1,1 0,.9 0,1-.2,1-.2,1-.2,1-.3,1-.2,1-.4,1-.3,.9-.5,1-.4,.8-.5,.9-.4,1-.4,.9-.4,.9-.4,.9-.4,.9-.5,.8-.6,.9-.7,.8-.7,.7-.8,.7-.8,.6-.7,.6-.8,.6-.7,.5-.7,.5-.7,.4-.7,.4-.8,.2-.9,.2-.9,.1-1,.1-1.1,0-1,0-1-.1-1-.1-1-.2-.9-.2-.8-.2-.8-.2-.7-.4-.8-.4-.8-.4-1-.4-1-.3-1.1-.3-1.1-.3-1.2-.3-1.2-.3-1.1-.3-1-.3-1-.4-.9-.4-.9-.6-.8-.5-.8-.5-.9-.5-.9-.5-.9-.4-1-.4-.9-.5-.9-.5-.8-.5-.8-.6-.6-.6-.6-.5-.6-.6-.6-.5-.6-.4-.7-.5-.8-.4-.9-.4-1.1-.3-1-.4-1-.4-.9-.4-.8-.4-.7-.4-.7-.4-.6-.5-.7-.5-.7-.6-.7-.7-.7-.6-.9-.7-.9-.6-.9-.7-.9-.7-.8-.6-.9-.7-.7-.6-.8-.7-.7-.6-.7-.6-.7-.6-.7-.7-.7-.6-.7-.6-.8-.7-.7-.7-.8-.7-.8-.8-.8-.7-.8-.7-.8-.8-.7-.8-.8-.7-.7-.8-.7-.6-.7-.7-.6-.6-.5-.5-.5-.6-.6-.6-.5-.6-.5-.6-.5-.6-.5-.7-.4-.9Z M654.4,419.3l0-.9 .2-.9 .5-.7 .7-.6 .9-.5 1.1-.5 1.1-.3 1.2-.3 1.1-.3 1.1-.3 1.1-.4 1-.5 .9-.5 .9-.5 .7-.5 .7-.5 .7-.4 .6-.3 .6-.2 .6-.3 .6-.1 .6-.2 .7-.2 .8-.3 .8-.3 .9-.5 .9-.5 1-.5 1-.5 1.1-.4 .9-.3 1-.3 1-.3 1-.2 1-.3 1-.2 1-.3 .9-.3 .8-.3 .7-.4 .7-.3 .7-.2 .7-.3 .7-.1 .9-.1 .9-.2 1-.1 1.1-.2 1.1-.2 1.1-.2 1-.2 .9-.2 .8-.1 .8-.1 .8,0 .9,.1 .9,.1 .9,.1 1.1,.2 1,.2 1,.1 .9,.2 .9,.3 .8,.2 .7,.4 .7,.3 .7,.3 .7,.3 .7,.4 .8,.3 .9,.4 1,.2 1,.3 1,.3 .9,.4 .8,.3 .7,.4 .7,.4 .5,.5 .5,.4 .5,.6 .5,.5 .6,.5 .7,.6 .9,.5 1,.5 1,.5 1,.6 .9,.6 .8,.6 .6,.7 .5,.8 .3,.8 .1,1 .1,1 .1,1 .2,1.1 .1,1 .2,.9 .3,.9 .3,.9 .4,.8 .4,.9 .6,.8 .6,.8 .5,.8 .6,.8 .5,.8 .4,.8 .4,.8 .2,.8 .2,.9 .3,.9 .2,.9 .2,.9 .1,.9 .2,.9 0,.9 0,.8-.1,.7-.1,.9-.2,.8-.2,1-.2,1-.2,1.1-.1,1.2-.3,1.1-.2,1.2-.3,1.2-.3,1-.3,1-.4,.8-.3,.7-.3,.7-.4,.5-.4,.6-.4,.6-.6,.7-.5,.7-.7,.8-.7,.8-.8,.8-.7,.8-.8,.8-.8,.6-.8,.5-.8,.4-.7,.3-.7,.2-.8,.2-.9,.1-.9,0-.9,.1-.9,.1-.9,.1-.9,0-.9,0-.8-.1-.8-.3-.7-.3-.8-.5-.9-.6-1-.6-1-.4-1.1-.4-1.1-.3-1-.2-1-.1-.8,0-.7-.1-.6-.1-.6-.2-.6-.2-.7-.3-.8-.5-.9-.4-1-.5-1-.5-1-.6-.9-.5-.9-.6-.9-.8-.8-.7-.8-.9-.9-.8-.8-.8-.9-.8-.9-.6-.9-.6-.8-.6-.9-.4-.8-.3-.8-.2-.8-.3-.8-.3-.8-.4-.7-.3-.7-.4-.7-.3-.6-.4-.7-.3-.7-.3-.7-.3-.8-.4-.7-.4-.8-.4-.9-.6-.8-.6-.9-.8-.8-.7-.8-.8-.7-.8-.8-.8-.7-.7-.8-.6-.7-.7-.7-.6-.7-.7-.7-.7-.6-.6-.5-.6-.4-.6-.3-.5-.4-.4-.4-.3-.4-.4-.6-.4-.7-.4-.7-.6-.9-.7-.8-.8-.8-.8-.8-.8-.8-.8-.7-.8-.6-.7-.6-.8-.5-.8-.4-.8Z M655.2,420.3l.3-1.1 .6-1 .8-.9 1-.7 1-.6 1.2-.5 1.1-.5 1.2-.5 1-.5 .9-.4 .7-.4 .6-.4 .5-.4 .3-.4 .5-.5 .5-.4 .7-.5 .9-.6 1.1-.5 1.3-.4 1.3-.5 1.2-.4 1.1-.3 1.1-.3 1-.2 .8-.3 .8-.2 .8-.2 .7-.2 .6-.3 .7-.3 .6-.3 .6-.3 .6-.5 .6-.5 .7-.7 .8-.6 1-.7 1.1-.7 1.2-.5 1.1-.5 1-.3 .9-.2 .9-.1 .9,0 .8,.1 .9,.1 1,.1 1,.2 1.1,.1 1.1,.2 1.2,.2 1.2,.2 1.1,.2 1,.2 1,.2 .8,.2 .9,.1 .9,.1 .8,.1 1,.1 1,0 1,0 1.1,0 1.2,0 1.2,0 1.1,0 1.1,.2 .9,.3 1,.4 .8,.5 .9,.4 .8,.4 .9,.4 .8,.4 .8,.4 .9,.3 .8,.3 .8,.4 .8,.4 .7,.5 .8,.5 .7,.5 .7,.5 .7,.6 .6,.6 .6,.6 .6,.8 .6,.9 .6,.9 .6,1 .6,1.1 .5,1 .4,1 .3,1 .2,.9 .2,.9 .1,.9 .2,.8 .1,.9 .3,.8 .3,1 .4,.9 .5,.9 .5,.9 .4,.9 .4,.8 .3,.8 .2,.8 .2,.7 .2,.8 .1,.8 0,.8 .1,.8 0,.9 .1,1 .1,1.1 .1,1.1 0,1.2 .1,1.1 0,1.1-.1,1.2 0,1.1-.1,1 0,1-.1,1.1 0,1.1-.1,1 0,1.2-.1,1.1-.2,1.1-.3,1.1-.4,1-.4,1-.5,.9-.6,.9-.6,.8-.7,.8-.9,.8-.8,.7-.9,.6-.9,.5-1,.5-.9,.3-.9,.3-1,.3-.8,.3-.9,.3-.9,.3-.8,.3-.9,.2-1,.1-.9,.1-.9-.1-.9-.1-.9-.2-.9-.2-.9-.2-.9-.2-1-.2-.9-.1-.8-.2-.8-.2-.8-.2-.8-.3-.8-.3-.9-.3-1-.3-1-.3-1.1-.3-1.1-.3-1.1-.4-1-.4-1.1-.5-1-.5-.9-.5-.9-.5-1-.5-.9-.4-.8-.4-.8-.3-.8-.3-.7-.4-.7-.3-.7-.5-.7-.5-.8-.7-.8-.8-.9-.7-.9-.9-.9-.8-1-.8-.8-.7-.9-.7-.8-.6-.9-.5-.8-.4-.8-.4-.8-.4-.8-.3-.9-.4-.7-.4-.7-.5-.7-.4-.6-.4-.5-.5-.6-.4-.7-.5-.7-.5-.8-.4-.9-.6-.8-.5-.8-.6-.8-.7-.8-.7-.7-.7-.6-.8-.5-.8-.6-.8-.6-.9-.7-.8-.7-.8-.8-.8-.8-.7-.8-.7-.8-.6-.9-.6-.8-.7-.8-.7-.8-.7-.8-.8-.7-.8-.7-.8-.7-.7-.7-.7-.5-.6-.6-.7-.4-.8-.3-.9Z M655.3,420.8l.3-1 .6-1 .7-.9 .7-.8 .8-.6 .8-.6 .8-.4 .8-.4 .9-.3 .9-.3 .8-.4 .8-.5 .8-.5 .7-.7 .7-.6 .7-.7 .8-.7 .9-.5 .9-.4 1-.4 1.1-.3 1.1-.2 1.1-.3 1-.4 1-.4 .9-.4 1-.5 .9-.5 .9-.4 1-.4 1.1-.3 1-.3 1.1-.3 1.1-.4 1.1-.5 1-.5 .9-.5 .9-.5 .8-.4 .8-.5 .8-.4 .8-.3 .8-.3 .8-.2 .9-.2 .9-.2 .8-.2 .9-.1 .8,.1 .9,.2 1,.1 1,.2 1.1,.2 1.2,.1 1.3,0 1.3-.1 1.2,0 1.1-.1 1.1-.1 1,.1 .9,.2 1,.3 .9,.3 .9,.4 .8,.4 .8,.3 .8,.3 .8,.3 .8,.2 .9,.1 1,.2 1,.2 1.1,.4 1.2,.4 1.1,.5 1.1,.6 1,.7 1,.7 .8,.7 .7,.7 .8,.7 .7,.6 .8,.5 .8,.6 .8,.7 .7,.7 .6,.8 .5,.9 .4,.9 .5,1 .5,.9 .5,.8 .5,.8 .5,.9 .6,.8 .6,.8 .5,.9 .5,.8 .4,.8 .3,.9 .3,.8 .2,.8 .2,.8 .3,.9 .2,.8 .2,.9 .2,1 .3,1.1 .2,1.1 .2,1.1 .1,1.1 .2,1.1 .2,1 .2,1.1 .3,1.1 .2,1.1 .2,1.1 .1,1.2 0,1.1 0,1.2 0,1.1 0,1.1 0,1 0,1 0,1 .1,1 0,.9 0,.9-.1,.9-.1,.8-.4,.8-.4,.8-.5,.9-.5,.8-.5,.8-.6,.9-.6,.9-.7,.9-.6,.9-.7,.8-.8,.9-.7,.8-.9,.7-1,.7-1,.6-1.2,.6-1.2,.4-1.2,.3-1.2,.1-1-.1-.9-.1-.8-.1-.7-.2-.7-.2-.6-.2-.7-.1-.8-.1-.8-.1-1-.1-1.2-.1-1.1-.1-1.2-.1-1.1-.2-1-.2-1-.4-.9-.4-.8-.4-.8-.5-.9-.5-.8-.4-1-.4-1-.3-1-.3-1.2-.3-1.1-.4-1.1-.5-1-.5-1-.5-1-.5-.9-.5-.8-.5-.9-.4-.8-.3-.9-.3-.8-.2-.9-.4-.9-.3-.9-.5-1-.6-1-.6-1-.7-.9-.7-1-.8-.8-.7-.9-.8-.8-.7-.7-.8-.7-.9-.6-.8-.5-.9-.6-.7-.7-.7-.7-.6-.7-.4-.8-.4-.9-.3-.8-.3-.9-.3-.9-.3-.9-.5-.9-.5-.9-.6-.8-.7-.9-.7-.8-.7-.9-.8-.8-.8-.9-.8-.8-.8-.9-.8-.8-.8-.9-.7-.9-.7-.9-.6-.9-.7-.7-.6-.8-.6-.7-.7-.6-.7-.6-.8-.6-.8-.7-.8-.7-.7-.7-.7-.7-.7-.6-.8-.4-.9-.4-1-.2-1Z M654.8,420.5l.1-1 .3-1 .5-.8 .6-.7 .7-.7 .7-.5 .8-.5 .7-.5 .8-.4 .7-.5 .8-.3 .7-.3 .7-.3 .8-.4 .8-.3 1-.5 1-.5 1.1-.5 1.1-.6 1.1-.6 1.1-.5 1.1-.6 1-.5 1.1-.4 1-.2 1-.2 1.1-.1 1-.1 .9,.1 .9-.1 .8,0 .8-.2 .6-.4 .7-.5 .7-.6 .6-.7 .7-.6 .8-.7 .8-.5 .9-.3 .9-.3 1-.2 1.1-.2 1.1-.1 1.3-.1 1.2-.1 1.2,0 1.1,0 1,.1 1,0 .9,.1 .8,0 .8-.1 .7,.1 .7,0 .6,.1 .6,.2 .7,.3 .7,.2 .8,.2 .8,.1 1,0 1.1-.1 1.1-.1 1.1-.1 1,0 1.1,.1 1,.2 1,.3 .9,.5 1,.5 .8,.5 .9,.4 .9,.3 .9,.3 .8,.2 .7,.1 .7,.3 .6,.3 .7,.5 .6,.5 .7,.7 .6,.9 .7,.9 .6,.9 .6,1 .7,.9 .8,.9 .7,.7 .7,.8 .7,.6 .6,.7 .5,.5 .5,.6 .4,.5 .4,.5 .3,.6 .3,.8 .2,.8 .3,.8 .4,.9 .3,1 .4,1 .3,1 .3,1.1 .3,1 .2,1.1 .1,1 .1,1 .1,1 .1,.9 .2,1 .2,.8 .3,.9 .3,.8 .2,.9 .2,.9 0,1 0,1-.1,1.1-.2,1.1-.3,1.1-.2,1.1-.1,1.1-.1,1 .1,.9 0,.9 0,.8 0,.8 0,.7-.1,.7-.2,.7-.3,.8-.4,.8-.3,.8-.4,.9-.5,.9-.6,.9-.7,.9-.7,.8-.9,.9-1,.8-1,.9-1,.7-1.1,.8-1,.5-.9,.5-.9,.2-.8-.1-.7-.1-.8-.3-.8-.4-.8-.4-.9-.3-.9-.3-.9-.3-1-.1-1.1-.1-1.1-.1-.9,.1-.9,0-.7,0-.7-.1-.7-.3-.6-.3-.7-.5-.8-.6-.9-.6-1-.6-1-.5-1-.4-1-.2-.9-.1-.9,.1-.8,.1-.8,0-.9-.2-.9-.3-.9-.5-.9-.6-.9-.7-.8-.7-.9-.7-.9-.6-.8-.6-.9-.4-.7-.4-.8-.3-.6-.4-.7-.5-.6-.5-.7-.6-.7-.6-.7-.5-.8-.5-.8-.5-.9-.5-.9-.4-.9-.3-.8-.4-.8-.4-.8-.4-.8-.4-.8-.5-.8-.5-.9-.6-.8-.7-.7-.8-.8-.8-.7-.7-.7-.8-.6-.7-.7-.7-.7-.7-.6-.7-.7-.6-.8-.7-.7-.7-.7-.6-.8-.7-.8-.6-.8-.6-.7-.6-.9-.6-.8-.6-.9-.7-.9-.7-.8-.7-.9-.7-.8-.7-.8-.7-.6-.6-.5-.6-.4-.6-.3-.5-.2-.5-.3-.6-.2-.6-.2-.8Z M654.9,419.6l.3-.5 .4-.6 .5-.4 .4-.5 .3-.4 .4-.3 .3-.4 .4-.3 .4-.4 .5-.4 .5-.4 .5-.4 .6-.4 .6-.4 .6-.4 .5-.3 .5-.2 .5-.2 .6-.2 .5-.1 .7-.2 .6-.3 .7-.3 .7-.3 .7-.3 .6-.3 .7-.3 .6-.2 .6-.1 .5-.1 .5,0 .5,0 .5-.1 .6-.1 .6-.2 .7-.1 .7-.2 .8-.2 .8-.1 .8-.1 .8,0 .7-.1 .7,.1 .5,0 .5,.2 .4,.1 .4,.2 .5,.1 .5,.1 .6,0 .6-.1 .8-.1 .8-.1 .9-.1 .9,0 .7,0 .7,.1 .5,.1 .5,.1 .5,.1 .5,.1 .4,.1 .6,.1 .5,.1 .6,.2 .7,.3 .7,.2 .6,.3 .8,.3 .7,.2 .7,0 .8,0 .7-.1 .7-.1 .7,0 .6,0 .5,0 .4,.1 .4,.1 .4,.1 .5,.1 .6,.1 .6,.1 .8,.1 .8,.1 .7,.2 .7,.4 .6,.4 .5,.6 .2,.6 .2,.6 .2,.6 .2,.6 .3,.5 .3,.4 .5,.4 .4,.3 .4,.4 .4,.4 .3,.4 .3,.5 .3,.5 .2,.5 .2,.5 .2,.5 .3,.4 .4,.5 .3,.5 .4,.5 .3,.6 .3,.6 .3,.7 .2,.9 .2,.9 .1,1 0,.8 0,.9 0,.7-.1,.7 0,.6 0,.6 0,.6-.2,.6-.2,.5-.3,.6-.3,.7-.3,.7-.3,.5-.3,.5-.2,.5-.2,.4-.1,.4-.1,.5-.1,.4-.1,.4-.2,.6-.3,.5-.3,.6-.3,.6-.3,.7-.5,.5-.5,.5-.5,.5-.6,.3-.7,.3-.6,.1-.7,0-.6,0-.7-.1-.8,0-.8-.1-.7,0-.7-.1-.7,0-.6,0-.6,.1-.6,.1-.6,.2-.6,.2-.7,.2-.7,.2-.7,.2-.7,.1-.7,.1-.7,0-.5-.1-.4-.1-.4-.3-.4-.3-.5-.4-.4-.4-.5-.5-.5-.4-.4-.4-.5-.3-.5-.3-.5-.3-.5-.3-.5-.3-.5-.3-.5-.3-.6-.3-.6-.2-.7-.3-.7-.3-.7-.2-.8-.2-.7-.1-.8-.2-.7-.2-.7-.2-.6-.2-.4-.2-.4-.3-.3-.3-.3-.3-.2-.3-.4-.5-.4-.5-.6-.5-.6-.5-.7-.5-.7-.5-.7-.4-.7-.4-.7-.3-.5-.4-.6-.3-.5-.3-.5-.2-.5-.3-.5-.3-.5-.4-.6-.4-.6-.4-.6-.4-.7-.3-.8-.4-.7-.3-.6-.2-.5-.2-.5-.2-.4-.2-.4-.2-.4-.3-.4-.3-.6-.3-.7-.3-.7-.4-.7-.3-.7-.4-.7-.5-.5-.5-.4-.7-.3-.7-.2-.8-.1-.8-.2-.8-.1-.8Z M655,419.7l.4-.9 .7-.7 .9-.5 .9-.4 1-.3 .9-.4 .9-.3 .9-.4 .8-.5 .8-.6 .7-.7 .7-.8 .6-.8 .7-.8 .7-.7 .7-.7 .7-.6 .8-.6 .9-.4 .9-.5 1-.3 1-.3 .9-.3 .9-.4 .8-.3 .9-.3 .8-.2 1-.3 .9-.3 1-.3 1-.3 1-.4 1-.4 .8-.3 .9-.4 .8-.3 .8-.3 .8-.2 .9-.1 .9,0 1-.1 1,0 1-.1 1.1-.1 1,0 1-.1 1-.2 .9-.1 .9-.1 .9-.2 .9-.1 .8-.1 .9-.1 .8-.1 .9,0 .9,.1 .8,.1 .9,.1 .9,0 .9,.1 .8,0 .9,0 .9,0 1,0 1.1,.1 1.1,.2 1.2,.3 1.3,.4 1.2,.5 1.1,.5 1.1,.5 1.1,.5 .9,.3 .9,.4 .8,.3 .6,.3 .7,.3 .5,.3 .6,.4 .5,.4 .5,.5 .6,.5 .7,.5 .8,.6 .8,.7 .8,.7 .8,.7 .5,.8 .4,.8 .3,.8 .2,.8 .2,.8 .3,.8 .5,.7 .5,.9 .7,.9 .7,1 .6,1.2 .5,1.1 .4,1.2 .2,1.1 .1,1.1 .1,.9 .2,.9 .2,.9 .4,.8 .5,.8 .5,.7 .5,.9 .5,.9 .5,1 .3,1 .3,1 .3,.9 .1,1 .1,1.1 0,1.1 0,1.2 0,1.2-.1,1.1-.1,1.1 0,.9-.1,.9-.1,.8-.1,.7-.1,.6-.3,.7-.2,.6-.2,.8-.3,.8-.3,.9-.2,.9-.3,.9-.3,.9-.3,.8-.4,.9-.6,.9-.6,.8-.7,.8-.9,.8-1,.8-1.1,.7-1,.7-1,.5-1,.6-.8,.5-.8,.4-.7,.5-.6,.3-.8,.3-.7,.2-.9,.2-.9,.1-.9,0-1,0-1-.1-.9-.3-.9-.3-.9-.4-1-.4-1-.5-1-.5-1.1-.6-1.1-.5-1-.5-1-.4-.9-.4-.8-.3-.7-.3-.8-.4-.7-.3-.8-.3-.9-.2-.8-.2-.9-.2-.9-.2-1-.2-.9-.2-.8-.3-.9-.4-.8-.4-.8-.5-.9-.4-.8-.5-.8-.4-.8-.5-.9-.4-.9-.4-1-.4-1-.6-1-.6-.9-.6-.9-.7-.9-.6-.8-.6-.8-.6-.7-.5-.7-.5-.6-.5-.6-.6-.7-.6-.6-.7-.8-.7-.7-.7-.7-.7-.8-.7-.8-.7-.8-.6-.9-.7-1-.7-.9-.7-.9-.7-1-.7-.9-.7-.8-.7-.8-.6-.7-.5-.6-.6-.6-.5-.6-.5-.6-.5-.6-.6-.6-.7-.7-.6-.7-.7-.7-.6-.7-.6-.8-.6-.8-.6-.7-.7-.8-.6-.7-.8-.7-.7-.6-.8-.5-.8-.5-.8-.3-.8-.3-.8-.1-.8Z M654.6,419.9l.4-.8 .6-.7 .8-.7 1-.5 1-.6 1.1-.5 1.1-.5 .9-.4 .9-.5 .7-.5 .6-.5 .6-.6 .5-.6 .5-.7 .6-.6 .7-.6 .7-.5 .8-.4 .8-.4 .9-.3 .9-.2 .9-.3 1-.2 1-.3 .9-.3 1-.3 1.1-.3 1-.2 1-.2 1-.1 1-.1 1,0 .9-.1 .9-.1 .9-.2 .9-.3 .8-.4 .9-.4 .7-.5 .8-.4 .8-.4 .8-.4 .8-.3 .8-.2 .9-.2 1-.1 .9-.2 1-.1 1.1-.2 1-.2 1-.1 1.1,0 1,0 1,.1 .9,.2 1,.1 1,.2 1,.2 1.1,.1 1,.1 1,0 1.1-.1 1,0 1.1,0 1.1,.1 1,.2 1,.3 .9,.3 .8,.3 .7,.4 .7,.3 .6,.3 .5,.3 .6,.3 .6,.3 .6,.4 .7,.3 .8,.4 .8,.4 .9,.4 1,.5 .9,.5 .9,.6 .9,.6 .8,.7 .7,.6 .6,.8 .4,.7 .4,.8 .4,.8 .3,.8 .4,.9 .5,.9 .5,1 .5,.9 .5,1 .4,.9 .5,.8 .3,.9 .3,.8 .3,.8 .2,.8 .3,.9 .3,.8 .2,.8 .3,.7 .1,.8 .1,.7 .1,.7 .1,.7 .2,.7 .3,.8 .3,.8 .4,.9 .4,1 .4,1 .5,1.2 .3,1.1 .3,1 .1,1.1 .1,1 0,.9-.1,.8-.3,.8-.3,.8-.4,.8-.4,.9-.4,.9-.4,1.1-.3,1.1-.3,1.1-.2,1.2-.2,1.1-.3,1.2-.2,1-.4,.9-.5,.8-.6,.7-.5,.8-.7,.7-.7,.7-.7,.7-.9,.7-.9,.6-.9,.5-1.1,.5-1,.3-1.1,.3-1.1,.3-1.1,.2-1,.1-1,.2-.9,.1-.9,0-.9-.1-.8-.2-.8-.4-.8-.4-.7-.4-.8-.4-.7-.4-.9-.4-.9-.2-1-.2-1.1-.2-1.1-.1-1.1-.2-1-.1-1-.1-.9-.2-.8-.1-.7-.3-.7-.3-.7-.4-.8-.5-.8-.5-.9-.7-.9-.6-1-.7-1-.6-1-.5-.9-.5-.9-.5-.8-.4-.8-.4-.6-.5-.7-.5-.6-.5-.6-.5-.7-.5-.6-.6-.8-.5-.7-.5-.7-.6-.8-.5-.7-.5-.8-.5-.8-.5-.8-.5-.8-.4-1-.4-1-.4-1.1-.5-1.2-.5-1.1-.6-1-.6-.9-.7-.9-.7-.7-.7-.6-.7-.6-.7-.6-.8-.6-.7-.7-.7-.7-.7-.7-.8-.8-.8-.8-.8-.8-.7-.6-.7-.6-.7-.6-.7-.5-.6-.5-.6-.5-.5-.4-.7-.5-.7-.4-.7-.5-.7-.6-.8-.7-.7-.8-.7-.8-.7-.8-.6-.9-.5-.7-.6-.7-.7-.4-.6-.3-.8Z M654.2,419.8l.3-.5 .6-.5 .8-.5 .9-.7 1.1-.7 1.1-.7 1-.8 1.1-.6 .9-.7 1-.5 .8-.5 .9-.4 .8-.5 .8-.4 .8-.5 .7-.5 .7-.6 .7-.5 .7-.5 .8-.5 .8-.3 .8-.3 .9-.1 1.1-.2 1.2-.3 1.3-.3 1.3-.4 1.3-.4 1.2-.3 1.1-.3 1.1-.3 .9-.2 .8-.3 .8-.2 .8-.3 .7-.2 .8-.4 .8-.3 .9-.5 .9-.4 .9-.4 .9-.4 1-.3 1-.2 .9-.3 1-.2 1-.2 .9-.2 1-.1 .9,0 .9,0 .8,.1 .9,0 .9,0 .9,0 .9,0 1,0 1,0 1,0 1.1,.1 1.1,.1 1.1,.2 1,.2 .9,.3 1,.3 1,.3 1.1,.3 1,.3 1.1,.4 1,.3 1,.2 .9,.2 .9,.1 .8,.1 .7,.1 .7,.2 .8,.4 .7,.4 .8,.5 .8,.7 .8,.7 .7,.8 .8,.7 .7,.7 .7,.8 .7,.7 .7,.7 .7,.7 .8,.7 .7,.8 .7,.8 .6,.8 .6,1 .4,1 .4,1.1 .3,1.2 .2,1.2 .2,1.3 .2,1.3 .2,1.3 .3,1.2 .3,1.1 .5,1.1 .4,1.1 .5,.9 .4,1 .4,.8 .4,.9 .3,.8 .2,.9 .2,.8 .1,.8 .1,.8 .1,.8 0,.8 0,.9 0,.9-.1,1 0,1 0,1.1 .1,1.1 .2,1.1 .1,1 .1,1 .1,1 0,1-.1,1-.1,1-.2,1-.3,1-.2,.9-.3,.8-.4,.7-.3,.6-.4,.6-.5,.5-.5,.7-.7,.7-.7,1-.8,1-.8,1.1-.9,1.1-.8,1.1-.9,.9-1,.7-1,.5-1,.3-1,.1-.9,.1-1-.1-.9-.1-1-.1-.9,0-1-.1-1,0-1,0-1.1,0-1.2-.1-1.1-.1-1.1-.1-1.1-.2-1.1-.1-1.1-.3-1-.2-1-.2-.9-.2-.9-.2-.9-.3-.9-.3-1-.3-.9-.4-.8-.4-.9-.4-.9-.6-.9-.6-.8-.6-.7-.7-.8-.7-.7-.7-.7-.7-.7-.7-.8-.5-.8-.5-.8-.4-.8-.2-.8-.3-.8-.4-.9-.4-.9-.5-1-.6-1-.6-1-.6-1-.6-.9-.5-.9-.6-.9-.6-.8-.6-.9-.6-.8-.5-.8-.5-.8-.4-.8-.5-.9-.5-.8-.6-.7-.5-.8-.7-.8-.6-.8-.7-.8-.7-.9-.7-.9-.6-.8-.5-.8-.4-.6-.5-.6-.4-.6-.5-.5-.5-.5-.7-.5-.8-.5-.8-.5-1-.5-1-.7-1-.7-.9-.8-.9-.8-.8-.8-.8-.8-.8-.8-.8-.8-.8-.8-.8-.8-.9-.7-.7-.7-.6-.7-.5-.8-.4-.7-.5-.7-.5-.5-.8Z M655.4,419.6l0-.5 .3-.5 .4-.3 .6-.4 .6-.3 .7-.4 .8-.5 .8-.5 .8-.5 .8-.6 .8-.6 .7-.6 .7-.6 .7-.6 .7-.5 .7-.6 .8-.5 .7-.5 .9-.5 .8-.5 1-.4 1-.4 .9-.4 .9-.3 .8-.2 .7-.2 .6-.2 .6-.1 .6,0 .5-.1 .6-.1 .6,0 .7-.1 .9-.1 .9-.2 1-.1 1.1-.3 1-.2 .9-.4 .8-.3 .8-.4 .7-.4 .8-.4 .7-.4 .8-.3 .9-.2 1-.2 .9,0 1,0 1,.2 .9,.2 .7,.2 .6,.3 .5,.3 .5,.2 .5,.2 .5,.1 .7,0 .7-.1 .8-.1 .9,0 .9,0 .9,0 1,.1 .9,.1 .9,.1 .9,.1 .9,0 .9,.1 .9,0 1,.2 1,.2 .9,.3 1,.4 .8,.5 .8,.5 .7,.4 .7,.4 .6,.3 .6,.4 .6,.5 .6,.5 .5,.6 .5,.7 .6,.7 .5,.8 .6,.7 .6,.6 .7,.5 .7,.5 .7,.4 .7,.5 .8,.6 .6,.6 .4,.6 .4,.8 .2,.8 .1,.8 .2,.8 .1,.8 .2,.8 .3,.7 .4,.7 .3,.7 .3,.7 .3,.8 .1,.8 .1,.8 0,.9-.1,.7-.1,.7 0,.7 0,.7 0,.8 0,.8 0,1 0,1 0,1.1 0,1.1-.1,1 .1,1 0,.8 .1,.8 .1,.7 .1,.7 .1,.7 .1,.8 .1,.8 0,.8 0,.8-.1,.7-.2,.7-.3,.7-.3,.7-.5,.7-.5,.8-.4,.7-.4,.8-.4,.8-.3,.7-.4,.7-.5,.7-.5,.6-.6,.6-.8,.5-.8,.4-.9,.4-1,.3-1,.3-.9,.2-1,.1-.9,0-1,0-1-.2-1.2-.3-1.1-.4-1.2-.5-1.2-.4-1.1-.5-1.1-.4-.9-.3-.8-.1-.7,.1-.7,.1-.6,.1-.6,.1-.6-.1-.6-.3-.7-.4-.7-.5-.7-.5-.7-.5-.8-.4-.8-.2-.8-.1-.8,0-.8,.1-.8,0-.8-.1-.7-.2-.7-.3-.6-.5-.6-.6-.5-.5-.5-.5-.5-.4-.6-.4-.8-.3-.8-.4-.9-.4-.9-.4-1-.5-.9-.5-.8-.5-.7-.6-.7-.5-.5-.6-.5-.6-.4-.6-.5-.5-.6-.6-.6-.4-.6-.5-.7-.4-.8-.4-.8-.4-.9-.4-.8-.6-.9-.6-.8-.6-.7-.5-.7-.6-.5-.5-.3-.5-.4-.5-.3-.7-.4-.6-.6-.6-.7-.6-.8-.6-.9-.5-.9-.4-.8-.5-.8-.5-.7-.5-.8-.7-.7-.7-.7-.9-.8-.8-.7-.7-.7-.7-.5-.6-.5-.4-.5-.3-.4-.3-.3-.5-.3-.5-.3-.6-.3-.7Z M655,418.9l.4-.8 .6-.7 .8-.5 .7-.4 .8-.3 .8-.3 .6-.3 .7-.3 .6-.4 .6-.3 .6-.4 .7-.4 .7-.3 .8-.3 .9-.2 1-.4 .9-.3 1-.4 .9-.5 .9-.5 .8-.5 .8-.5 .8-.4 .8-.5 .7-.3 .7-.3 .7-.2 .6-.2 .7-.1 .7-.1 .8-.1 .8-.2 .9-.1 .9-.3 .9-.2 .7-.3 .7-.3 .6-.2 .6-.2 .6-.2 .6-.2 .9-.1 .9-.2 1.1-.2 1.1-.1 1.1-.2 1.1-.1 .9-.1 .9-.2 .7-.1 .7-.2 .6-.2 .6-.2 .7-.1 .6-.1 .8-.1 .8,0 1,.1 1,.3 1.1,.3 1.2,.3 1.1,.3 1,.3 .8,.3 .8,.2 .7,.2 .6,.1 .6,.1 .6,0 .7,0 .7,0 .9,0 .9,0 .9,.1 .9,0 .8,.1 .8,.2 .7,.3 .6,.4 .5,.5 .5,.7 .5,.7 .5,.8 .5,.9 .5,.9 .6,.9 .7,.8 .7,.7 .8,.6 .6,.5 .6,.5 .5,.5 .3,.4 .3,.5 .1,.6 .1,.6 .1,.7 .2,.8 .4,.8 .4,.8 .5,.8 .5,.7 .4,.7 .3,.7 .3,.8 .3,.7 .1,.8 .2,.9 0,.9 .1,1 .1,1.1 .1,1.1 .2,1 .1,.9 .2,.8 .2,.6 .2,.6 .3,.6 .1,.5 .1,.6 0,.6-.1,.7-.1,.8 0,1 0,1.1 .1,1.2 0,1.2 0,1.1-.1,1.1-.3,.9-.3,.9-.4,.7-.5,.7-.3,.5-.4,.6-.3,.6-.4,.7-.3,.8-.5,.8-.4,.8-.6,.8-.6,.7-.6,.6-.6,.5-.6,.4-.6,.3-.7,.3-.8,.2-.9,.2-.9,.1-1.1,.1-1.1,.1-1,0-.9,.1-.9,0-.7,0-.7-.1-.7,0-.8-.2-.9-.1-.9-.2-1-.3-.9-.3-.9-.2-.8-.3-.8-.2-.7-.2-.7-.3-.7-.2-.7-.3-.7-.4-.9-.5-.9-.6-.9-.7-.9-.7-.8-.7-.8-.7-.6-.6-.6-.5-.6-.4-.6-.4-.7-.3-.7-.2-.7-.2-.9-.2-.9-.2-1-.1-1.1-.1-.9-.2-.9-.2-.9-.3-.7-.5-.7-.5-.6-.6-.6-.6-.5-.6-.5-.7-.5-.6-.5-.5-.5-.6-.5-.4-.5-.5-.5-.5-.6-.6-.6-.5-.7-.6-.7-.6-.7-.5-.8-.4-.8-.4-.8-.4-.8-.3-.8-.3-.9-.4-.8-.4-.7-.5-.8-.7-.7-.7-.7-.7-.7-.7-.6-.6-.6-.6-.6-.6-.5-.5-.6-.4-.6-.5-.6-.4-.6-.4-.7-.4-.8-.4-.7-.5-.7-.4-.7-.5-.7-.6-.6-.8-.7-.9-.5-.9-.5-.8-.4-.9Z M655.6,420.2l0-.8 .3-.7 .5-.6 .6-.5 .8-.5 .8-.5 1-.5 1-.5 1-.6 1.1-.6 1.1-.6 1-.7 1-.6 .9-.7 .7-.6 .7-.7 .7-.7 .6-.7 .6-.6 .6-.5 .7-.5 .7-.4 .9-.3 .9-.3 1-.4 1.1-.3 1-.4 1.2-.3 1.1-.4 1.1-.3 1.2-.3 1.2-.2 1.1-.2 1.2-.2 1.1-.3 1-.3 1-.3 .9-.4 .8-.3 .8-.4 .7-.3 .8-.2 .9-.2 1-.1 1,0 1.1,.1 1.2,0 1.2,.1 1.2-.1 1.3-.1 1.1-.2 1.1-.3 .9-.2 1-.1 .9-.1 .9,0 .8,.1 .8,.2 .9,.3 .9,.4 1,.3 1,.2 1.1,.2 1.2,0 1.2,.1 1.2,0 1.2,.1 1.1,.1 1.1,.1 .9,.2 .8,.3 .7,.3 .8,.4 .8,.6 .8,.6 1,.7 .9,.7 1,.8 1,.7 .9,.7 .9,.8 .7,.7 .7,.8 .6,.7 .7,.8 .6,.8 .6,.8 .6,.8 .5,.7 .4,.7 .4,.7 .3,.6 .3,.6 .3,.6 .4,.8 .4,.8 .4,.9 .6,.9 .5,1.1 .4,1 .3,1.1 .2,1.1 .2,1.1 .1,1.1 .2,1 .2,1 .2,.9 .2,.9 .3,1 .3,1 .3,1 .3,.9 .3,.9 .3,1 .2,1.1 .1,1.1 .1,1.2 0,1.1-.1,1.2-.2,1.1-.3,1.1-.2,1-.2,.9-.1,.8-.1,.7 0,.6-.1,.8-.1,.8-.1,.9-.2,1-.3,1.1-.3,1.2-.5,1.1-.5,1.1-.5,1-.6,.9-.6,.9-.6,.8-.7,.8-.6,.7-.7,.7-.7,.7-.6,.6-.7,.5-.8,.4-.8,.3-.8,.2-1,.3-.9,.3-.9,.3-1,.3-1.1,.4-1,.2-1.1,.2-1,0-.9-.1-1-.2-1-.2-1-.4-1-.3-.9-.2-1-.2-1-.1-1-.2-1-.2-1-.2-.9-.4-.9-.4-.8-.6-.8-.7-.7-.6-.8-.7-.7-.7-.7-.7-.8-.6-.9-.5-.9-.4-1-.4-1-.4-.9-.4-.9-.6-.9-.6-.9-.6-.9-.5-.8-.5-1-.5-.9-.3-1-.3-1-.1-1-.2-.9-.1-.9-.3-.8-.5-.8-.6-.9-.8-.9-.8-.9-.8-.8-.8-.9-.8-.8-.7-.8-.6-.8-.6-.7-.6-.7-.5-.8-.5-.8-.5-.8-.6-.9-.6-.9-.6-1-.6-.9-.6-.8-.5-.8-.5-.7-.5-.7-.5-.6-.5-.6-.6-.5-.5-.5-.7-.6-.7-.6-.8-.7-.8-.7-.8-.8-.9-.7-.7-.8-.8-.7-.7-.8-.7-.7-.7-.7-.6-.7-.6-.8-.7-.7-.7-.8-.7-.8-.8-.7-1-.6-1-.6-1.1-.4-1.3Z M655.1,420.9l.2-.6 .5-.6 .7-.6 .7-.5 .7-.6 .7-.5 .7-.6 .6-.5 .6-.5 .5-.3 .4-.3 .4-.3 .4-.3 .5-.3 .5-.5 .7-.5 .8-.6 .8-.6 .9-.6 .8-.6 .9-.5 .8-.4 .7-.4 .8-.2 .7-.2 .6-.1 .7-.1 .6-.2 .6-.2 .6-.2 .5-.3 .6-.3 .5-.3 .5-.3 .5-.1 .5-.1 .5,0 .5-.1 .7-.1 .7-.1 .8-.1 .9-.2 .8-.1 .9-.2 .9-.1 .9-.1 1,0 .9,0 .8,.1 .7,.1 .6,.1 .6,.1 .6,.1 .6,.1 .5,.2 .5,.1 .6,.2 .7,.2 .8,.2 .7,.2 .8,.2 .7,0 .7-.1 .7-.1 .8-.2 .9-.2 1-.2 1-.1 1,0 .9,0 .9,.1 .8,.3 .6,.2 .6,.3 .5,.4 .4,.3 .4,.3 .4,.3 .4,.4 .4,.3 .4,.4 .5,.3 .6,.4 .7,.3 .7,.4 .8,.4 .7,.5 .6,.5 .6,.6 .4,.7 .4,.7 .4,.7 .4,.8 .4,.8 .5,.7 .4,.6 .5,.6 .3,.5 .3,.5 .3,.5 .3,.5 .3,.5 .3,.5 .4,.6 .5,.5 .5,.4 .5,.5 .5,.4 .4,.5 .3,.5 .2,.6 .2,.7 .2,.9 .1,.9 0,1.1 0,1.1 0,1 0,1-.1,.8 0,.8 0,.7 0,.7 .1,.7 0,.6 .1,.6 0,.7-.1,.6-.3,.6-.3,.5-.4,.6-.5,.5-.5,.6-.5,.7-.6,.7-.7,.7-.6,.6-.5,.7-.5,.7-.4,.7-.5,.6-.4,.5-.4,.6-.4,.6-.4,.5-.5,.5-.6,.5-.6,.4-.6,.3-.7,.2-.7,.1-.8,0-.9,0-.8-.1-.9-.1-.8-.1-.7-.2-.7-.1-.5-.2-.6-.1-.5,0-.6,0-.6,0-.8,0-.8,0-.9-.1-.8-.1-.8-.3-.8-.3-.7-.4-.6-.4-.6-.5-.6-.4-.7-.4-.7-.3-.7-.3-.7-.3-.7-.2-.7-.2-.7-.1-.8-.1-.7-.1-.8-.1-.7-.2-.8-.2-.7-.3-.7-.3-.7-.4-.7-.5-.7-.4-.6-.5-.5-.5-.4-.4-.3-.5-.2-.5-.3-.6-.3-.6-.4-.6-.5-.6-.7-.6-.8-.5-1-.5-1-.5-1-.5-.9-.3-.8-.4-.7-.4-.5-.3-.6-.2-.5-.2-.5-.2-.5-.2-.5-.2-.6-.3-.6-.3-.6-.5-.7-.5-.6-.6-.6-.6-.6-.6-.5-.6-.5-.7-.4-.6-.4-.5-.5-.4-.5-.4-.5-.4-.6-.4-.7-.4-.7-.5-.7-.6-.6-.6-.7-.6-.5-.5-.5-.4-.3-.4-.4-.3-.3-.3-.3-.4-.2-.5Z M654.5,420.4l.5-.8 .8-.7 .9-.5 1-.5 1-.4 1-.4 .9-.4 .9-.4 .7-.4 .6-.5 .7-.5 .6-.6 .5-.7 .6-.7 .6-.6 .7-.5 .7-.6 .7-.5 .8-.5 .8-.4 .9-.4 1-.4 1-.4 1-.3 1-.4 1-.4 1-.3 .9-.3 1-.2 .9-.2 .8-.3 .9-.3 .8-.3 .9-.3 .9-.3 .8-.3 .9-.3 .8-.3 .8-.2 .9-.1 .9,0 .9,0 .9,.1 1-.1 1.1-.1 1-.1 1.1-.2 1.1-.3 1.1-.2 1-.3 .9-.3 .9-.2 .9-.2 .8-.1 .8,0 .7,0 .8,0 .7,0 .8-.1 .9,.1 .8,.1 .9,.2 1,.2 1,.1 1,.2 1.1,.2 1,.2 .9,.2 .9,.2 .9,.4 .9,.3 .9,.5 .8,.5 .8,.5 .8,.6 .7,.5 .9,.4 .8,.5 .8,.3 .8,.4 .8,.4 .7,.4 .7,.6 .7,.7 .7,.8 .6,.8 .6,.9 .5,.8 .4,.8 .4,.8 .3,.7 .3,.8 .4,.7 .4,.7 .4,.7 .5,.7 .5,.7 .6,.7 .7,.7 .6,.8 .6,.8 .6,.9 .5,.9 .4,1 .4,1 .3,1 .2,1 .1,1 0,.8 0,.8-.1,.8 0,.8 .1,.8 .1,.8 .2,.9 .2,.9 .1,1.1 0,1 0,1.2-.1,1.2-.2,1.1-.2,1-.3,.9-.2,.7-.1,.7 0,.6 0,.6 0,.7 0,.8-.1,.9-.1,.9-.3,1.1-.4,1.1-.4,1.1-.5,1.1-.5,1-.6,1-.5,.9-.6,.8-.6,.7-.7,.7-.7,.6-.8,.6-.8,.6-.9,.5-.9,.4-.8,.3-.8,.3-.8,.2-.8,.1-.8,.1-.8-.1-.9,0-1-.1-1.1-.1-1.1-.1-1.1-.1-1-.1-1-.2-1-.2-1-.2-1-.3-.9-.3-.8-.3-.8-.3-.7-.3-.6-.2-.6-.2-.6-.3-.6-.3-.6-.4-.7-.5-.8-.5-.9-.6-1.1-.5-1.1-.5-1.1-.4-1-.3-1-.2-1-.2-.9-.1-.8-.2-.8-.3-.8-.4-.9-.4-.8-.5-.9-.6-.9-.5-.9-.6-.8-.5-.8-.6-.8-.6-.8-.5-.7-.6-.8-.5-.8-.6-.7-.5-.8-.5-.8-.4-.8-.4-.8-.4-.8-.4-.9-.5-.8-.5-.7-.6-.8-.5-.7-.6-.6-.7-.5-.6-.5-.7-.5-.8-.6-.7-.6-.8-.7-.8-.7-.7-.9-.7-.8-.7-.8-.6-.8-.6-.7-.5-.6-.5-.6-.5-.5-.6-.6-.6-.6-.7-.6-.7-.8-.8-.9-.7-.9-.8-.9-.7-.9-.7-.9-.7-.7-.7-.7-.6-.6-.6-.6-.8-.6-.8-.4-1-.4-1Z M654.6,419.8l.3-1 .5-.8 .6-.7 .7-.6 .7-.5 .7-.4 .8-.3 .8-.2 .7-.2 .8-.1 .7-.1 .8-.2 .7-.1 .7-.3 .7-.4 .8-.6 .7-.7 .8-.8 .8-.9 .9-.9 .8-.8 .9-.7 .9-.6 .8-.4 .8-.3 .7-.2 .8-.1 .7-.1 .8,0 .8-.1 .8-.1 .9-.2 .9-.2 .9-.2 .8-.3 .9-.3 .8-.2 .8-.3 .7-.1 .7-.2 .7,0 .8-.1 .8,0 .8,0 .9,.1 .8,0 .9-.1 .8,0 .9-.1 .9,0 .9,0 .8,.1 .9,.1 .9,.1 .9,.1 .8,.1 .8,.1 .7,0 .6,.1 .5,0 .5,0 .6,.1 .6,.1 .8,.2 .9,.3 .9,.2 1,.3 .9,.2 1,.1 1,0 .9,.1 1,.1 .8,0 .9,.1 .7,.1 .7,.1 .7,.3 .7,.3 .6,.3 .5,.4 .6,.5 .6,.5 .7,.4 .7,.6 .8,.5 .6,.6 .6,.5 .5,.6 .4,.6 .4,.6 .4,.7 .3,.6 .4,.6 .4,.7 .4,.6 .5,.7 .5,.7 .5,.7 .4,.8 .5,.9 .4,.8 .3,.9 .4,.8 .3,.9 .4,.9 .3,.8 .3,.9 .4,.9 .3,.9 .3,.8 .4,.9 .3,.7 .3,.7 .2,.6 .2,.7 .1,.7 0,.8 0,.8 0,1-.1,1-.1,1-.1,1.1-.1,1-.1,.9-.2,.9-.2,.7-.2,.7-.4,.6-.5,.7-.4,.8-.5,.9-.5,.8-.4,.8-.3,.8-.3,.8-.2,.8-.3,.8-.3,.7-.4,.8-.4,.8-.5,.8-.5,.8-.6,.7-.6,.7-.7,.5-.7,.3-.8,.2-.9,0-.8,0-.9-.1-1,0-.9,0-.9-.1-.8,0-.7,0-.8-.1-.8-.1-.8-.1-.9-.3-1-.3-1.1-.2-1.1-.3-1.2-.2-1-.1-1-.1-.9-.2-.8-.2-.8-.2-.7-.4-.7-.4-.6-.4-.7-.5-.6-.5-.7-.3-.7-.4-.7-.2-.8-.2-.8,0-.9-.1-.9,0-.9-.1-1-.2-.8-.4-.7-.5-.5-.6-.5-.7-.5-.7-.5-.7-.5-.6-.7-.6-.7-.4-.7-.3-.8-.4-.8-.4-.8-.4-.7-.5-.6-.5-.6-.5-.5-.6-.6-.6-.7-.6-.7-.5-.7-.5-.8-.4-.8-.4-.8-.4-.8-.4-.8-.4-.8-.4-.8-.4-.8-.4-.7-.4-.5-.5-.6-.5-.4-.5-.5-.5-.5-.5-.6-.4-.6-.5-.7-.4-.6-.5-.7-.6-.7-.6-.7-.7-.7-.8-.6-.7-.5-.8-.5-.8-.5-.7-.5-.7-.5-.6-.4-.6-.5-.6-.6-.6-.6-.7-.6-.8-.6-.8-.5-.9-.4-.8Z M654.8,419.6l.4-.9 .6-.7 .8-.6 .9-.5 1.1-.5 1-.5 1.1-.5 1-.6 .9-.5 .7-.5 .7-.5 .7-.5 .6-.4 .7-.5 .7-.5 .7-.4 .7-.5 .8-.5 .9-.6 .9-.6 .9-.5 .9-.6 1.1-.5 1.2-.4 1.2-.4 1.3-.2 1.2-.2 1.2-.2 1.1-.2 .9-.2 .8-.3 .7-.4 .7-.5 .8-.5 .9-.6 .9-.6 1.1-.5 1.2-.4 1.2-.3 1.2-.2 1.1-.2 1.1-.2 1-.1 1,0 1,0 .9-.1 .9,0 1-.1 1,0 1-.1 1.1-.1 1-.1 1.1-.1 1,0 1,0 .9,0 1,.1 .9,.1 .8,0 .8-.1 .7-.1 .8-.1 .9-.1 .9,0 1,.1 1.1,.3 1.1,.4 1.2,.5 1.2,.6 1.3,.6 1.2,.6 1.2,.5 1.2,.5 1,.4 1,.5 .9,.5 .8,.6 .7,.6 .6,.6 .5,.6 .5,.6 .5,.6 .6,.5 .6,.5 .7,.6 .7,.6 .8,.6 .7,.8 .7,.8 .7,.9 .6,1 .6,1 .5,1 .6,1.1 .5,1 .6,1.1 .5,.9 .5,.9 .4,.9 .4,.9 .3,.9 .3,.9 .1,.9 .2,1 .1,1 .1,1 .1,1.1 .1,1.1 .2,1.2 .2,1.1 .3,1.2 .3,1.1 .2,1.1 .2,1.1 .1,.9 0,.9 0,.8-.1,.7 0,.9-.1,.8 0,1-.1,1-.1,1.1 0,1.1-.1,1.1-.1,1.1-.1,1-.1,1 0,.9-.1,.9 0,.9-.1,.9-.1,1-.3,1.1-.3,1.2-.4,1.2-.4,1.2-.5,1.1-.5,1-.5,1-.7,.8-.7,.7-.9,.6-1,.4-1.2,.3-1.4,.2-1.3,.1-1.2,0-1.1-.1-1-.2-.8-.1-.8-.1-.8,0-.8,.1-.8,0-1,.1-1,0-1.1-.1-1.1-.1-1.2-.3-1.1-.2-1.1-.3-1-.2-1.1-.2-1.2-.2-1.1-.1-1.2-.2-1.1-.2-1.1-.3-1-.3-1-.4-.9-.4-.8-.4-.8-.5-.7-.6-.8-.5-.8-.6-.9-.6-.8-.6-.9-.6-.8-.7-.9-.7-.8-.6-.9-.7-.8-.6-.9-.6-1-.6-.9-.4-.9-.4-1-.4-.9-.4-.9-.4-.8-.4-.9-.5-.8-.7-.8-.6-.9-.7-.9-.5-.9-.6-.9-.4-.8-.4-.8-.4-.7-.5-.7-.6-.8-.6-.7-.7-.8-.7-.9-.8-.8-.7-.9-.7-.8-.8-.8-.7-.7-.8-.7-.9-.7-.8-.8-.9-.8-.8-.8-.8-.8-.6-.8-.5-.9-.5-.8-.4-.7-.4-.7-.5-.7-.7-.7-.7-.8-.8-.8-.9-.7-1-.8-.9-.7-1-.6-.8-.7-.8-.7-.6-.6-.7-.6-.6-.6-.6-.5-.7-.5-.8Z M655.2,420.9l.4-.9 .5-.9 .7-.8 .6-.9 .6-.7 .5-.7 .4-.6 .4-.4 .3-.4 .4-.4 .5-.4 .6-.4 .7-.5 .8-.4 .9-.4 .9-.4 .7-.3 .7-.3 .6-.2 .5-.3 .5-.2 .5-.3 .5-.2 .7-.2 .7-.2 .9-.3 .9-.3 1-.2 1.1-.2 1-.2 1-.1 .9-.2 .8-.2 .7-.2 .8-.2 .8-.1 .9-.2 .9-.1 1-.2 .9-.1 .9-.2 .8-.2 .7-.1 .6-.2 .5-.2 .5,0 .6,0 .6,.1 .6,.3 .7,.3 .7,.4 .8,.4 .8,.3 .7,.2 .8,0 .8-.1 .8-.1 .8-.2 .9-.2 .9-.1 .9-.2 .9-.1 .8,0 .8,0 .7,.1 .7,.1 .7,.3 .7,.3 .7,.4 .8,.3 .8,.3 .8,.2 .9,.1 1,.1 .9-.1 .9,0 .8,0 .7,.1 .6,.2 .5,.4 .4,.4 .3,.4 .4,.5 .3,.5 .4,.5 .4,.5 .5,.5 .5,.5 .6,.6 .6,.6 .6,.7 .6,.7 .5,.8 .4,.7 .4,.6 .3,.7 .3,.6 .2,.6 .2,.6 .2,.6 .1,.5 .2,.6 .2,.6 .4,.7 .3,.7 .4,.7 .5,.8 .5,.7 .5,.7 .4,.8 .3,.8 .2,.8 .2,.8 0,.8 0,.8 .1,.7 0,.7 .1,.6 .2,.7 .1,.6 .1,.7-.1,.8-.1,.9-.2,1-.2,1-.2,1.1-.2,1-.1,1-.2,.9-.1,.8-.2,.8-.1,.7-.2,.7-.2,.6-.3,.6-.4,.6-.5,.5-.5,.5-.5,.5-.5,.4-.6,.5-.6,.5-.6,.5-.6,.5-.5,.6-.6,.5-.6,.4-.7,.4-.8,.3-.8,.2-.9,.1-.9,0-.9-.1-.9-.2-.8-.2-.7-.3-.6-.3-.6-.3-.6-.3-.5-.2-.7-.2-.7-.1-.8-.2-.8-.1-.9-.1-.9-.2-.9-.2-.9-.2-.8-.3-.9-.3-.8-.3-.8-.4-.6-.3-.7-.4-.6-.3-.6-.2-.6-.3-.6-.2-.6-.2-.7-.1-.7-.1-.8-.2-.8-.2-.8-.3-.7-.5-.8-.5-.7-.6-.8-.6-.7-.6-.8-.6-.7-.4-.8-.4-.9-.4-.8-.3-.8-.3-.8-.3-.7-.5-.8-.5-.7-.6-.6-.6-.6-.7-.6-.6-.4-.5-.4-.5-.3-.5-.3-.4-.4-.3-.4-.3-.5-.3-.6-.3-.6-.3-.7-.5-.7-.5-.7-.5-.6-.5-.6-.4-.6-.5-.6-.5-.5-.5-.6-.5-.7-.4-.7-.4-.8-.4-.8-.4-.9-.5-.8-.5-.7-.5-.8-.6-.6-.6-.5-.6-.5-.7-.4-.6-.4-.7-.3-.6-.5-.7-.4-.7-.4-.6-.4-.7-.3-.7Z M656,418.8l.2-.6 .4-.5 .5-.4 .5-.3 .5-.5 .5-.4 .5-.5 .6-.4 .6-.4 .6-.4 .7-.3 .6-.4 .6-.3 .7-.4 .6-.4 .7-.5 .6-.5 .7-.5 .7-.5 .8-.4 .7-.3 .9-.1 .8,0 .8,.1 .9,.1 .8,.1 .8,0 .8,0 .8-.1 .7-.3 .8-.3 .7-.4 .9-.4 .8-.4 .9-.3 .9-.4 .9-.4 .9-.4 .9-.5 .9-.4 .8-.3 .8-.2 .7-.2 .6-.1 .6,.1 .6,.1 .6,.2 .6,.1 .5,.1 .6-.1 .6-.1 .7-.1 .7,0 .8,0 .8,.1 .8,.1 .8,.3 .9,.3 .9,.3 .9,.4 .9,.3 .9,.2 .8,.2 .8,0 .7-.1 .7-.2 .6-.2 .7-.3 .7-.2 .6-.1 .7,0 .7,.1 .7,.2 .8,.2 .8,.4 .8,.4 .9,.4 .8,.4 .9,.4 .8,.3 .7,.3 .7,.2 .5,.2 .5,.3 .5,.2 .4,.3 .5,.4 .5,.6 .5,.7 .6,.8 .7,.8 .6,.8 .5,.9 .5,.8 .4,.8 .2,.8 .3,.7 .3,.8 .4,.8 .4,.8 .4,.8 .6,.8 .5,.8 .4,.8 .3,.7 .3,.8 .1,.7 .1,.7-.1,.7 0,.7-.1,.7 0,.7 .1,.8 .1,.9 0,.9 .1,.9 .1,1 .1,.9 .1,.9 .1,.7 .2,.8 .2,.7 .1,.6 0,.6 0,.7 0,.6-.1,.7-.1,.7-.2,.7-.2,.7-.2,.7-.3,.7-.2,.6-.3,.6-.3,.7-.4,.7-.6,.6-.6,.7-.6,.8-.6,.7-.7,.8-.7,.8-.7,.8-.7,.6-.7,.6-.7,.4-.8,.3-.8,.1-.8,.1-.9,0-1-.1-1-.2-.9-.2-.8-.3-.9-.3-.8-.2-.7-.1-.6-.1-.7-.1-.6-.1-.7-.1-.7-.1-.8-.1-.8-.2-.8-.2-.8-.2-.7-.3-.8-.2-.7-.2-.8-.2-.8-.2-.8-.2-.8-.3-.9-.4-.8-.4-.7-.4-.7-.4-.6-.5-.6-.4-.6-.4-.6-.3-.5-.2-.6-.3-.7-.2-.7-.2-.6-.2-.7-.2-.7-.2-.6-.3-.6-.3-.7-.3-.7-.3-.7-.4-.7-.4-.8-.5-.7-.6-.7-.7-.7-.8-.7-.8-.6-.7-.7-.6-.7-.5-.8-.4-.7-.3-.7-.2-.7-.2-.6-.2-.6-.4-.6-.4-.6-.5-.5-.5-.5-.6-.6-.6-.5-.5-.6-.4-.6-.4-.5-.4-.5-.4-.5-.4-.5-.5-.6-.7-.6-.6-.6-.7-.5-.7-.5-.8-.5-.6-.5-.7-.7-.5-.7-.6-.7-.4-.9-.5-.8-.4-.8-.5-.8-.4-.6-.5-.5-.5-.4-.6-.3-.6-.2-.6Z M655,419.7l.4-1 .7-.7 .8-.6 .8-.5 .9-.5 .8-.5 .8-.5 .7-.6 .8-.6 .7-.7 .8-.7 .7-.7 .9-.8 .9-.7 .9-.6 1-.6 1-.6 .9-.7 .9-.5 1-.6 1-.5 1-.4 1.1-.4 1-.4 1.1-.3 1.1-.3 1.1-.3 1.1-.3 1.1-.2 .9-.2 1-.1 1-.2 1-.1 1.1-.1 1.1-.2 1.1-.2 1.1-.3 1.1-.3 1.2-.4 1.1-.4 1-.4 1-.4 .9-.3 .9-.3 .9-.4 .8-.3 .9-.3 .9-.2 .9-.3 1-.1 1-.1 1,0 1,.1 1.1,.2 1.1,.3 1.1,.3 1.2,.3 1.2,.2 1.2,.3 1.3,.2 1.3,.2 1.3,.2 1.3,.1 1.1,.1 1.1,0 1,0 .9,0 1-.1 1,0 .9,.1 .9,.1 1,.3 .8,.4 .8,.5 .8,.7 .7,.7 .6,.7 .6,.7 .6,.7 .6,.7 .6,.7 .7,.6 .8,.7 .9,.6 .9,.7 1,.7 .8,.8 .8,.8 .6,.8 .6,1 .4,1 .4,1 .3,1.1 .2,1 .2,1.1 .2,1.1 .4,1 .4,1 .3,1.1 .4,1.1 .5,1.1 .4,1.1 .5,1.1 .6,1.1 .5,1 .6,1 .6,1 .5,.9 .4,.9 .5,.8 .3,.9 .3,1 .2,1 .1,1.1 0,1 0,1.1-.1,1 0,.9-.1,1-.1,.9-.1,.8-.1,.9-.2,1-.1,1-.2,1-.3,1.2-.3,1.1-.3,1.2-.3,1.2-.3,1.1-.2,1.1-.3,1-.2,1.1-.3,1-.3,1.1-.5,1-.5,1-.5,.9-.6,1-.7,.9-.6,.8-.7,.8-.6,.8-.6,.7-.6,.7-.8,.6-1,.5-1.1,.4-1.3,.3-1.3,.2-1.4,.1-1.3-.1-1.2-.1-1.1-.2-1-.2-.9-.2-.8-.3-.8-.2-.8-.2-.8-.3-.9-.2-1-.3-1.1-.4-1.1-.3-1.1-.3-1.1-.3-1.1-.4-1-.2-.9-.3-1-.1-.9-.2-.9-.3-.8-.5-.8-.6-.8-.6-.8-.7-.8-.8-1-.6-1-.7-1-.6-1-.6-1.1-.5-1.2-.5-1.1-.5-1.2-.5-1-.6-1.1-.6-1-.6-1-.5-1-.4-1-.5-1.1-.4-1-.5-1.1-.5-1-.5-1.1-.5-1-.6-1.1-.5-.9-.7-1-.7-.8-.8-.8-.9-.6-.8-.4-.9-.4-.8-.3-.6-.3-.6-.4-.4-.5-.5-.7-.4-.8-.6-.9-.7-1.1-.8-1.1-.9-1.1-1-1.1-1-1-1.1-.9-.9-.8-.8-.8-.8-.7-.7-.7-.7-.7-.7-.7-.7-.8-.8-.6-.8-.7-.8-.6-.7-.6-.8-.7-.6-.7-.6-.8-.6-.8-.6-.8-.5-.9-.6-.9-.7-.8-.8-.7-.9-.5-1.1Z M654.2,420l.7-.9 .8-.8 1-.6 .9-.6 1-.6 .9-.5 .9-.6 .9-.5 .9-.6 1-.7 .9-.7 .9-.7 .9-.7 .8-.6 .8-.6 .7-.5 .6-.4 .7-.4 .7-.4 .7-.4 .8-.3 .8-.3 .9-.3 .9-.3 .9-.3 1-.2 .9-.1 1-.2 1-.2 .9-.3 1-.3 1-.4 1-.5 1.1-.5 1-.5 1-.5 1-.5 1-.5 1-.5 1-.5 1-.3 1.1-.4 1.1-.3 1.1-.3 1.1-.2 1.2-.1 1.2,0 1.1,0 1,.1 1.1,.1 1,.1 1,0 1.2,0 1.1,0 1.1,0 1.2-.1 1.1-.1 1,0 1.1-.1 1,.1 1,.1 1,.1 .9,.2 .8,.2 .9,.3 .8,.3 .8,.2 .9,.4 .9,.4 1,.4 1.1,.6 1.2,.7 1.2,.7 1.2,.8 1.1,.7 1.1,.6 .9,.5 .7,.5 .7,.5 .6,.5 .5,.5 .6,.6 .5,.7 .6,.8 .6,.8 .6,.8 .6,.8 .6,.7 .6,.7 .6,.6 .6,.6 .4,.7 .4,.6 .4,.8 .4,.8 .3,.9 .3,1.1 .3,1.1 .4,1.3 .4,1.2 .5,1.1 .4,1.1 .4,.9 .4,.8 .4,.7 .3,.8 .3,.7 .2,.9 .3,.9 .2,1.1 .3,1.2 .4,1.3 .4,1.2 .5,1.2 .3,1.2 .3,1.2 .2,1.1 0,1.1-.1,1.2-.2,1.1-.3,1.2-.3,1.1-.3,1.2-.3,1.1-.2,1-.1,1 0,.9 .1,.9 .1,.8 0,.8 0,.7-.2,.8-.4,.9-.5,.8-.6,.9-.6,.9-.7,.9-.7,.8-.6,.7-.6,.8-.5,.7-.6,.7-.6,.7-.8,.6-.9,.6-1.1,.5-1.1,.4-1.2,.3-1.2,.1-1.1,.2-1.1,0-1.1,0-1-.1-1-.2-1-.2-1-.2-1-.2-1-.2-1-.1-1-.1-.9-.1-1-.1-.9-.1-.9-.2-1-.2-1-.4-1-.4-1.1-.4-1-.4-1.1-.5-1.1-.3-1-.4-.9-.3-1-.4-1-.4-.9-.4-.9-.4-.9-.4-.9-.4-.9-.5-.9-.4-.9-.6-.9-.5-.9-.6-.9-.5-.9-.6-.9-.7-.9-.6-.8-.6-.7-.6-.8-.7-.6-.7-.7-.7-.6-.7-.7-.7-.9-.7-.8-.7-1-.6-1.1-.6-1.1-.5-1.1-.6-1.1-.6-1-.5-.9-.6-.8-.6-.7-.6-.7-.6-.8-.6-.8-.6-.8-.6-.8-.6-.7-.5-.8-.5-.7-.5-.7-.6-.7-.6-.5-.6-.6-.6-.5-.7-.7-.8-.7-.7-.9-.7-.8-.6-1-.6-.9-.7-.9-.6-.8-.8-.8-.8-.7-1-.6-1-.5-1.1-.4-1-.4-1-.5-.9-.4-.9-.4-.8-.4-.9-.5-.8-.4-1Z M655,419.6l0-.6 .4-.4 .5-.3 .7-.4 .6-.3 .6-.5 .6-.5 .6-.6 .5-.6 .5-.5 .6-.4 .6-.3 .6-.3 .7-.2 .7-.2 .8-.2 .7-.2 .6-.4 .5-.4 .4-.5 .5-.5 .5-.4 .6-.5 .6-.3 .8-.3 .7-.3 .8-.1 .8-.1 .8-.1 .7-.1 .7-.2 .6-.2 .6-.2 .6-.3 .7-.2 .7-.1 .8-.2 .8-.1 .8,0 .8,0 .8,0 .8-.1 .8-.1 .7-.1 .7-.1 .7-.1 .6,0 .6,0 .7,0 .6,.1 .7,0 .6,.1 .5,0 .5,0 .4-.1 .4-.1 .5-.1 .4-.1 .6,0 .6,0 .8,.1 .8,.1 1,.2 1,.3 1,.2 .9,.3 .8,.3 .8,.2 .7,.3 .8,.3 .7,.3 .8,.3 .8,.2 .7,.2 .8,.1 .7,0 .7,0 .6,0 .6,0 .5,.1 .4,.2 .5,.3 .4,.4 .5,.5 .5,.6 .6,.6 .5,.5 .6,.6 .5,.6 .6,.6 .7,.6 .6,.6 .6,.5 .6,.6 .5,.4 .5,.5 .3,.5 .3,.6 .3,.5 .3,.5 .3,.7 .3,.6 .2,.8 .2,.7 .1,.7 .2,.7 .2,.6 .2,.6 .1,.6 .2,.6 .2,.6 .3,.6 .3,.6 .2,.6 .2,.6 .1,.7 .1,.7 0,.6 .1,.6 0,.7 0,.7-.1,.7-.1,.9 0,.9-.1,.9-.1,.9 0,.9-.1,.8-.1,.7-.1,.5-.2,.3-.4,.3-.4,.2-.6,.3-.6,.3-.6,.4-.6,.6-.5,.7-.4,.9-.4,.9-.4,.9-.3,.8-.4,.8-.4,.6-.5,.5-.6,.4-.6,.2-.7,.1-.8,.2-.8,0-.8,.1-.9,.1-.9-.1-.8-.1-.8-.2-.7-.2-.7-.4-.6-.3-.5-.4-.5-.4-.5-.4-.4-.3-.5-.2-.5-.1-.6,0-.7,0-.7,.2-.9,.1-.9,0-.8,0-.9,0-.8-.2-.8-.3-.8-.5-.8-.4-.8-.5-.7-.4-.8-.4-.7-.3-.7-.3-.6-.4-.5-.3-.5-.3-.4-.3-.5-.4-.4-.3-.6-.4-.7-.2-.7-.2-.9-.1-.8,0-.9-.1-.8-.1-.8-.2-.8-.3-.6-.4-.6-.5-.5-.5-.4-.6-.4-.6-.3-.6-.4-.5-.5-.5-.5-.4-.6-.5-.7-.5-.8-.5-.8-.6-.8-.5-.7-.4-.7-.5-.6-.3-.5-.3-.5-.3-.3-.2-.4-.3-.4-.3-.5-.4-.4-.4-.5-.5-.5-.6-.5-.6-.6-.5-.5-.5-.6-.5-.5-.4-.6-.4-.6-.4-.5-.4-.6-.4-.4-.4-.5-.5-.5-.5-.4-.5-.5-.5-.4-.6-.5-.7-.5-.7-.6-.8Z M654.8,419.8l.3-1 .5-.9 .8-.8 .8-.7 .9-.6 .9-.5 1-.4 1-.4 1-.4 .9-.4 .9-.4 .8-.4 .7-.5 .7-.4 .7-.4 .7-.4 .8-.3 .8-.4 .9-.3 1-.4 1.1-.4 1-.5 1-.6 1-.6 .8-.6 .8-.4 .7-.3 .6-.2 .7,0 .6,0 .7,.1 .8,.1 .8,0 1-.2 1-.2 1-.4 1.1-.4 1.1-.4 1.2-.5 1.1-.5 1-.4 1.1-.5 .9-.4 .9-.3 .8-.2 .6-.2 .6-.1 .7-.1 .6,0 .8,0 .8,0 .9,0 1,0 1,0 1,.1 1.1,.1 1.2,.2 1.1,.3 1.1,.2 1.1,.3 1,.2 1,.2 .9,0 .9,0 1-.1 .9-.1 .9,0 1,0 1.1,.1 1,.1 1,.2 1,.2 .9,.3 .8,.3 .8,.3 .8,.3 .8,.5 .9,.5 .9,.6 .8,.6 .8,.7 .7,.7 .7,.7 .5,.7 .4,.7 .4,.6 .4,.7 .4,.6 .5,.7 .5,.7 .5,.8 .6,.8 .6,.9 .5,.9 .5,1 .5,1 .5,.9 .4,1 .4,.9 .4,.9 .4,.8 .4,.9 .4,.9 .3,.9 .4,.8 .3,.9 .3,.8 .3,.8 .2,.8 0,.8 .1,.8-.1,.9 0,1 0,1.1 .1,1.2 .2,1.2 .1,1.2 .2,1.2 .2,1.1 .1,1-.1,.9-.1,.9-.1,.7-.3,.8-.2,.7-.3,.7-.2,.8-.3,.8-.2,.9-.2,.9-.1,1-.1,1-.1,.9 0,1-.2,.9-.2,.9-.4,.9-.5,.8-.7,.7-.8,.7-.9,.6-1,.5-.9,.6-1,.5-.9,.6-.9,.5-.9,.5-.9,.4-.9,.4-1,.3-.9,.3-1,.1-.9,.1-.9,.1-.8,0-.9-.1-1-.1-.9-.1-1.1-.3-1-.3-1-.5-1-.4-1-.4-.9-.4-.8-.3-.7-.3-.6-.2-.7-.2-.6-.1-.7-.2-.8-.3-.8-.3-.8-.4-.9-.5-.9-.4-.8-.5-.9-.4-.8-.4-.8-.4-.7-.4-.8-.5-.9-.4-.8-.5-.9-.6-1-.5-.9-.6-.9-.5-1-.5-.9-.5-.8-.6-.9-.6-.8-.6-.8-.6-.9-.6-.9-.7-.9-.6-.9-.7-.9-.6-.8-.6-.8-.6-.8-.5-.8-.5-.7-.5-.7-.5-.7-.4-.7-.5-.7-.5-.8-.5-.9-.6-.9-.6-.8-.6-1-.6-.9-.5-.8-.4-.8-.5-.8-.3-.6-.5-.6-.4-.6-.5-.5-.7-.6-.8-.5-.8-.5-.9-.6-.9-.6-.7-.6-.8-.8-.6-.8-.6-.8-.6-.9-.6-.9-.6-.8-.6-.7-.7-.7-.7-.5-.8-.4-.8-.4-.9-.4-1-.3-1Z M657.5,420.8l.1-.3 .1-.4 0-.3 0-.4-.1-.5 .1-.5 .1-.5 .4-.5 .5-.5 .7-.5 .7-.4 .8-.5 .8-.5 .7-.4 .6-.4 .6-.3 .6-.3 .7-.2 .7-.3 .7-.3 .7-.4 .7-.3 .7-.5 .7-.5 .6-.4 .4-.3 .4-.3 .3-.1 .3,0 .3,.1 .3,.1 .5,.1 .5,.1 .5-.1 .6-.1 .6-.3 .6-.2 .7-.2 .7-.2 .7-.1 .8,0 .7,.1 .8,0 .7,.1 .8,0 .7,0 .6,0 .6,0 .5-.1 .5,0 .5,.1 .6,.1 .5,.1 .6,.2 .6,.1 .6,.1 .6,0 .7,0 .6-.1 .7,0 .7,.1 .6,0 .7,.1 .6,.1 .7,.2 .7,.1 .8,0 .8,.1 .7,0 .8,0 .7-.1 .7,.1 .5,0 .6,.1 .4,.1 .5,.2 .5,.1 .6,.1 .6,.1 .7,.1 .7,0 .6,.1 .6,0 .5,.1 .5,.1 .4,.2 .4,.3 .4,.5 .5,.6 .4,.7 .4,.8 .4,.7 .4,.7 .4,.5 .4,.5 .3,.4 .4,.3 .4,.3 .4,.2 .4,.4 .4,.3 .3,.4 .2,.5 .1,.5 .1,.5 0,.5 .1,.7 .2,.6 .2,.7 .3,.8 .3,.7 .4,.7 .3,.6 .2,.6 .2,.5 .1,.6 .1,.6 0,.7-.1,.7 0,.7 0,.7 0,.6-.1,.6 0,.5-.2,.4-.2,.4-.3,.5-.3,.6-.4,.7-.4,.8-.2,.9-.3,1-.2,.9-.1,.8-.1,.7-.2,.5-.2,.5-.2,.4-.2,.5-.3,.4-.3,.4-.4,.5-.3,.5-.5,.4-.5,.4-.7,.3-.8,.3-1,.1-.9,.1-1,.1-.8,.1-.8,.1-.7,.2-.6,.1-.5,.1-.5,.1-.5-.1-.5-.1-.6-.3-.5-.3-.6-.3-.6-.3-.7-.3-.6-.2-.7-.2-.6,0-.7-.1-.6,0-.6-.1-.6-.1-.6-.2-.6-.2-.6-.3-.7-.3-.7-.4-.7-.4-.6-.5-.5-.5-.6-.3-.4-.3-.5-.2-.4-.2-.5-.1-.6-.2-.6-.2-.6-.3-.6-.3-.7-.3-.8-.3-.8-.3-.8-.3-.8-.2-.8-.3-.7-.2-.7-.4-.5-.3-.4-.4-.3-.4-.4-.5-.3-.3-.4-.3-.4-.2-.5-.3-.5-.1-.5-.2-.4-.3-.4-.3-.4-.5-.4-.6-.4-.6-.5-.7-.5-.6-.6-.6-.6-.5-.6-.4-.7-.2-.6-.3-.5-.2-.6-.2-.6-.3-.6-.4-.6-.3-.6-.4-.6-.3-.5-.2-.6-.1-.4-.1-.5-.1-.4-.2-.4-.2-.5-.2-.5-.4-.6-.4-.5-.5-.6-.6-.5-.7-.5-.6-.4-.7-.3-.8Z M656,419.2l.1-.9 .4-.7 .6-.7 .7-.6 .7-.5 .8-.5 .8-.4 .7-.2 .7-.3 .7-.2 .7-.2 .6-.3 .6-.4 .7-.4 .8-.4 .8-.4 .9-.5 .9-.6 .9-.5 .8-.6 .8-.5 .7-.6 .8-.5 .8-.4 .8-.3 .9-.3 .9-.2 .9-.1 .9,0 1,0 1,0 .9,0 .9-.1 .9-.1 .9-.2 .8-.3 .8-.3 .8-.4 .7-.5 .8-.4 .8-.3 .8-.3 .9-.2 .9-.2 .8-.1 .8,0 .8,0 .8,0 .8,0 .8-.1 .8-.1 .9-.2 1-.2 .9-.1 .9-.2 .9-.1 .9,0 .8,.1 1,.3 .9,.2 1.1,.3 1.1,.2 1.1,0 1.2,0 1.1-.1 1-.1 .8,0 .8,0 .6,.2 .5,.2 .5,.3 .5,.4 .5,.4 .5,.4 .6,.3 .6,.3 .6,.4 .7,.4 .8,.6 .9,.6 .9,.7 1,.7 1,.7 1,.7 1.1,.6 1,.5 .9,.5 .8,.5 .7,.5 .7,.6 .5,.7 .4,.8 .3,1 .3,1.1 .2,1 .3,1 .2,1 .2,.9 .1,.7 .2,.7 .2,.5 .2,.5 .2,.5 .2,.6 .3,.7 .2,.8 .3,.9 .3,1 .3,.9 .3,1 .2,1 .2,.9 .1,1 .1,1.1 0,1 0,1-.1,.9-.1,.9-.1,.9-.1,.8 0,.7 .1,.7 .2,.8 .3,.7 .3,.9 .3,.9 .2,.9 .1,.9-.1,.9-.2,.8-.3,.8-.5,.9-.6,.8-.6,.9-.6,1-.7,1.1-.8,1.1-.7,1.1-.8,1-.7,.8-.7,.7-.6,.4-.6,.2-.6,.2-.5,.1-.5,.1-.5,.1-.7,.2-.7,.2-.9,.2-.9,.3-.9,.2-1,.1-1,.1-1,0-1.1,.1-.9,0-.9,.1-.9,0-.8-.1-1-.2-.9-.3-.9-.4-.9-.5-1-.6-1-.6-1-.7-.9-.5-.9-.4-.9-.3-.8-.2-.9-.1-.8-.2-.8-.2-.9-.3-.7-.4-.8-.5-.7-.5-.7-.7-.7-.7-.7-.6-.6-.5-.7-.3-.7-.4-.7-.2-.7-.3-.8-.3-.8-.3-.8-.4-.8-.4-.9-.4-.8-.5-.9-.5-.8-.5-.8-.5-.8-.4-.8-.4-.8-.4-.8-.5-.8-.4-.7-.5-.8-.4-.7-.5-.7-.6-.8-.5-.7-.7-.8-.6-.8-.7-.9-.7-.8-.6-.8-.7-.7-.8-.6-.7-.6-.7-.4-.7-.4-.7-.5-.7-.5-.6-.6-.6-.6-.5-.6-.6-.8-.5-.7-.4-.7-.5-.7-.4-.6-.5-.7-.6-.6-.5-.7-.6-.6-.5-.7-.5-.7-.5-.7-.6-.6-.6-.7-.6-.6-.7-.5-.7-.4-.9-.3-.9Z M654.6,420.1l.1-.6 .5-.6 .7-.4 .9-.5 1-.4 1.1-.4 1.1-.4 1.1-.3 1.1-.3 1-.4 .9-.5 .8-.5 .7-.5 .6-.6 .6-.6 .6-.6 .6-.6 .6-.6 .6-.4 .7-.5 .7-.3 .7-.3 .7-.2 .7-.3 .8-.4 .8-.3 .8-.4 .7-.2 .8-.3 .8-.2 .9-.3 .9-.2 .9-.3 .9-.3 1-.4 .8-.4 .8-.4 .7-.5 .6-.4 .6-.4 .6-.2 .6-.2 .8,0 .8,0 1,0 1,.1 1.1,.1 1,.1 .9,.1 .9,0 .8-.1 .9-.1 .8-.1 .9-.1 .9,0 .9,0 1,0 .9,.1 .9,.2 .9,.3 .8,.2 .7,.2 .6,.2 .6,0 .6,.1 .5,0 .6,.2 .8,.2 .8,.3 .9,.3 .9,.3 1,.4 .9,.4 .9,.3 .9,.1 .7,.2 .7,.1 .7,.2 .6,.3 .7,.4 .7,.5 .8,.5 .9,.7 .9,.7 .8,.6 .8,.6 .8,.6 .6,.4 .6,.4 .5,.4 .4,.5 .3,.5 .4,.7 .3,.7 .5,.8 .5,.8 .5,.9 .5,.9 .4,.9 .5,.8 .4,.8 .3,.8 .3,.8 .2,.8 .2,.7 .2,.7 .2,.8 .2,.7 .2,.7 .1,.8 .2,.8 .2,.9 .1,1 .2,1.1 .1,1.2 0,1.1 .1,1.1 0,1 .1,1 0,.9 .2,.9 .1,1 .1,1 .1,1 .1,.9-.1,.9-.2,.9-.3,.8-.3,.8-.5,.7-.4,.6-.5,.6-.4,.5-.3,.6-.3,.4-.4,.5-.4,.4-.4,.4-.6,.4-.6,.5-.7,.5-.7,.6-.8,.6-.8,.6-.9,.6-.8,.6-.8,.4-.8,.5-.9,.4-1,.4-1,.4-1.2,.4-1.1,.3-1,.3-1,.2-.9,.2-.8,0-.7,0-.7-.2-.6-.2-.7-.3-.6-.4-.8-.3-.8-.3-.8-.3-.8-.3-.8-.2-.7-.3-.8-.2-.8-.4-.8-.4-.9-.4-.8-.5-.8-.4-.8-.4-.7-.2-.8-.3-.7-.2-.7-.3-.8-.3-.7-.4-.8-.5-.8-.6-.9-.5-.9-.6-1-.4-1-.4-.9-.4-1-.4-.9-.5-.7-.4-.6-.6-.6-.5-.4-.5-.4-.5-.3-.5-.5-.5-.5-.5-.6-.6-.7-.5-.9-.6-1-.6-1.1-.5-1.1-.6-1.1-.4-1-.4-.9-.4-.8-.4-.7-.4-.5-.5-.5-.6-.5-.6-.4-.7-.5-.7-.5-.7-.5-.6-.6-.5-.6-.6-.6-.5-.6-.5-.6-.4-.6-.5-.6-.5-.5-.5-.6-.5-.4-.5-.5-.5-.5-.5-.5-.5-.6-.6-.7-.6-.7-.8-.8-.8-.7-.9-.7-1-.7-.9-.6-1-.4-.9-.3-.9Z M656.3,419.7l0-.4 .1-.5 .2-.3 .1-.3 .2-.3 .3-.3 .5-.4 .5-.5 .7-.4 .7-.4 .7-.4 .7-.3 .7-.3 .7-.3 .6-.2 .6-.3 .6-.3 .6-.2 .6-.2 .6-.3 .6-.2 .7-.2 .6-.2 .6-.2 .6-.3 .6-.4 .5-.4 .6-.3 .6-.4 .6-.3 .6-.3 .6-.2 .6-.2 .5-.1 .6-.1 .5-.2 .5-.3 .6-.2 .4-.3 .5-.3 .4-.2 .4-.1 .4,0 .4,.2 .5,.4 .4,.4 .6,.6 .6,.5 .8,.3 .8,.3 .8,.1 .7,.1 .7-.1 .7-.2 .6-.2 .7-.2 .6-.1 .6,0 .7,.1 .7,.1 .7,.1 .6,.2 .6,.2 .5,.2 .4,.1 .3,0 .3,0 .4-.2 .4-.1 .5-.2 .7-.1 .7-.1 .8-.1 .9-.1 .7-.1 .7-.1 .6,.1 .5,.2 .6,.3 .5,.4 .6,.4 .6,.5 .7,.5 .7,.4 .7,.4 .7,.3 .6,.1 .6,.1 .5,.1 .4,.2 .4,.3 .3,.5 .4,.7 .4,.7 .4,.9 .4,.9 .4,.9 .3,.8 .3,.8 .1,.6 .1,.5 0,.5 .1,.4 .1,.4 .1,.3 .3,.3 .4,.3 .5,.2 .6,.2 .5,.2 .5,.3 .4,.4 .3,.4 .3,.5 .3,.7 .2,.7 .1,.8 .1,.7 .1,.8-.1,.7 0,.7-.1,.6-.1,.7-.2,.6-.3,.8-.3,.7-.4,.8-.4,.8-.4,.8-.5,.7-.4,.7-.4,.6-.3,.6-.3,.7-.2,.6-.2,.7-.1,.6-.2,.5-.2,.5-.3,.4-.4,.3-.4,.3-.5,.3-.6,.2-.7,.3-.8,.3-.8,.3-.8,.3-.8,.4-.8,.2-.6,.2-.7,.1-.6,0-.6-.2-.5-.2-.6-.2-.5-.3-.5-.2-.4-.2-.4,0-.4,0-.4,.1-.3,.2-.4,.1-.5,.1-.5,0-.7-.2-.7-.3-.8-.4-.7-.6-.6-.6-.6-.6-.6-.6-.6-.6-.6-.4-.5-.3-.6-.3-.6-.1-.7-.1-.7-.1-.7,0-.7,0-.6,0-.7-.1-.6,0-.7-.1-.7-.1-.6-.1-.7-.2-.7-.2-.6-.2-.5-.3-.4-.3-.3-.4-.3-.5-.2-.5-.2-.6-.4-.6-.5-.5-.7-.5-.7-.3-.8-.3-.9-.2-.8-.2-.7-.1-.6-.2-.6-.1-.5-.2-.4-.3-.4-.3-.4-.4-.4-.5-.5-.4-.5-.3-.5-.3-.6-.3-.7-.2-.7-.1-.7-.1-.7-.1-.7-.2-.6-.4-.5-.6-.4-.6-.3-.8-.2-.9-.2-.8-.1-.9-.2-.7-.2-.7-.3-.4-.4-.4-.5-.3-.5-.2-.5-.3-.6-.3-.5-.4-.4-.5-.3-.5Z M654.8,419.1l.4-.7 .6-.6 .7-.5 .8-.3 .8-.2 .7-.1 .7-.2 .7-.1 .7-.2 .7-.3 .6-.3 .6-.3 .7-.3 .6-.4 .6-.5 .6-.5 .6-.5 .7-.6 .6-.7 .7-.6 .7-.6 .7-.5 .8-.5 .8-.4 .9-.4 1-.3 1.1-.4 1.1-.3 1.1-.3 .9-.3 .9-.3 .7-.3 .7-.2 .7-.2 .6-.2 .8-.3 .8-.2 .9-.3 1-.2 .9-.3 1-.2 1-.2 .9-.2 1,0 .9,0 1,0 1,0 .9-.1 .8,0 .9,0 .7-.1 .7,0 .7,0 .6,0 .6,.1 .6,0 .6,.1 .7,0 .7,.1 .8,0 .9,.1 .8,.1 .8,0 .9,.2 .8,.1 .8,.2 .8,.3 .7,.3 .7,.4 .6,.3 .6,.3 .5,.3 .5,.3 .6,.3 .6,.3 .7,.4 .7,.3 .9,.4 1,.3 1,.3 1,.3 1,.4 .9,.2 .8,.2 .6,.2 .6,.2 .6,.3 .6,.4 .5,.6 .6,.6 .6,.8 .6,.9 .5,.9 .5,1.1 .5,1.1 .4,1.2 .3,1.1 .5,1 .4,.9 .5,.9 .6,.7 .6,.7 .6,.6 .5,.6 .4,.7 .2,.7 .2,.8 0,.8 0,.8-.2,.8-.2,.8-.3,.7-.3,.6-.3,.7-.2,.7-.2,.8-.2,.9-.1,1-.1,1.1 .1,1.1 .1,1.2 .3,1.2 .2,1.1 .2,.9 .1,.9 0,.7 0,.6-.1,.7-.1,.7-.3,.8-.3,.8-.3,.8-.5,.7-.5,.7-.5,.7-.6,.5-.5,.5-.6,.5-.7,.5-.6,.5-.5,.6-.6,.7-.6,.6-.6,.6-.7,.5-.7,.5-.8,.3-.8,.3-.8,.2-.8,.1-.7,.1-.8,.1-.7,.1-.8,.1-.9,0-.8,.1-.9-.1-.8-.1-.9-.1-.9-.3-.8-.3-.8-.3-.9-.4-.8-.3-.9-.4-1-.3-.9-.3-.9-.2-.9-.1-.7-.1-.7-.1-.5-.2-.6-.2-.5-.2-.5-.4-.6-.4-.6-.5-.6-.5-.7-.5-.7-.5-.7-.4-.7-.4-.8-.4-.8-.3-.8-.3-.8-.4-.9-.3-.8-.4-.9-.5-.7-.5-.7-.4-.6-.5-.5-.4-.5-.5-.5-.5-.5-.5-.5-.6-.5-.5-.7-.5-.7-.4-.9-.4-.9-.4-1-.3-1-.4-1-.4-.9-.5-.8-.5-.7-.7-.7-.7-.6-.8-.5-.7-.5-.7-.5-.5-.4-.5-.5-.4-.5-.4-.5-.5-.5-.4-.6-.5-.7-.6-.6-.7-.8-.7-.7-.7-.8-.6-.8-.6-.7-.5-.8-.5-.7-.6-.8-.5-.8-.6-.9-.6-.9-.6-.9-.6-.8-.5-.8-.5-.7-.5-.5-.4-.3-.5-.1-.6Z M655.4,419.9l.1-.9 .3-.7 .5-.7 .7-.5 .8-.6 .9-.5 1.1-.6 1.2-.5 1.2-.7 1.2-.6 1.1-.7 1.1-.7 1.1-.7 1-.7 1-.7 .9-.5 .9-.5 .8-.4 .7-.3 .6-.2 .6-.3 .6-.2 .6-.3 .7-.3 .8-.3 1-.4 1.1-.4 1.2-.5 1.4-.5 1.3-.5 1.4-.4 1.1-.4 1.1-.4 .9-.4 .7-.4 .7-.3 .7-.2 .8-.2 .9-.3 1-.2 1.1-.3 1.2-.3 1.2-.3 1.1-.3 1.2-.3 1.1-.2 1-.2 1,0 .9,0 1,0 1,0 .9,.1 .9,0 .9-.1 .8-.1 .8-.1 .9-.1 .9-.1 .9-.1 1.1,0 1.1,.1 1.3,.1 1.3,.1 1.5,.1 1.4,.2 1.3,.3 1.2,.3 1,.3 1,.4 .7,.5 .7,.5 .6,.4 .7,.5 .7,.5 .9,.5 1,.6 1.1,.5 1,.6 .9,.5 .8,.6 .7,.7 .6,.6 .4,.8 .5,.8 .5,.8 .7,.8 .8,.8 1,.9 1,.8 .9,.8 .8,.7 .7,.8 .5,.6 .3,.7 .2,.8 .2,.7 .1,.9 .2,.9 .4,1 .4,1 .5,1.1 .5,1 .5,1.1 .5,1 .4,1 .4,1 .2,1.1 .2,1.2 .2,1.1 .2,1.2 .1,1.1 0,1.2 .1,1.1 .1,1.1 0,1.1 0,1 0,1.1-.1,1-.1,1.1-.1,1.1-.1,1.1 0,1.2 0,1.1 .1,1.1 .1,1.1 .1,1 0,1-.1,.9-.2,1-.3,1-.4,1-.4,1-.5,1-.4,.9-.4,1-.5,.9-.5,.9-.6,.8-.7,.8-.8,.8-.8,.7-.8,.7-.9,.8-.8,.6-.9,.6-1,.5-.9,.4-1,.4-1.1,.3-1.1,.3-1.2,.2-1.2,.2-1.1,.2-1,.1-.9,0-.9-.1-.8-.2-.7-.3-.7-.5-.7-.5-.8-.5-.8-.5-1-.6-1-.5-1.2-.4-1.1-.4-1.2-.4-1.1-.3-1-.4-.9-.3-1-.4-.8-.3-.9-.3-.9-.3-1-.4-1-.5-1-.6-1-.7-1-.7-1-.6-.9-.6-.9-.5-.8-.4-.9-.3-.8-.3-.9-.2-.8-.3-.9-.3-.9-.4-1-.4-.9-.5-.9-.6-.9-.7-.9-.6-.8-.8-.9-.7-.9-.7-.9-.8-1-.6-.9-.6-.9-.5-.9-.5-.9-.5-.9-.6-.8-.5-.7-.7-.7-.8-.7-.8-.6-.8-.6-.9-.6-.8-.6-.9-.7-.7-.7-.7-.9-.7-.8-.6-.9-.6-.9-.6-.9-.6-.8-.7-.7-.6-.7-.6-.7-.6-.7-.6-.7-.6-.8-.5-.8-.5-.7-.6-.8-.7-.7-.7-.7-.8-.7-.9-.8-.9-.7-.9-.8-.9-.8-.9-.8-1-.7-1.1-.6-1Z M654.7,420l.2-.4 .4-.3 .5-.2 .6-.3 .5-.3 .6-.4 .7-.5 .6-.5 .7-.5 .6-.5 .6-.6 .6-.5 .5-.6 .5-.5 .5-.4 .4-.4 .5-.3 .5-.4 .6-.3 .6-.3 .6-.4 .6-.3 .7-.3 .6-.3 .6-.2 .7-.3 .7-.4 .7-.3 .7-.3 .7-.3 .6-.3 .7-.2 .7-.3 .7-.3 .8-.3 .7-.1 .6-.2 .7,0 .6,0 .6,0 .6,.1 .6,.3 .7,.3 .7,.3 .9,.3 1,.2 1,.1 .9-.1 .8-.2 .8-.2 .6-.3 .5-.2 .4,0 .5,0 .5,.1 .5,.2 .6,.3 .8,.4 .7,.3 .8,.3 .9,.2 .7,.2 .8,.1 .7,0 .6-.1 .7-.2 .5-.1 .6-.2 .5,0 .5,.1 .6,.1 .6,.3 .6,.2 .6,.3 .7,.2 .8,.1 .7,.1 .8,.1 .9,0 .8,.1 .8,.1 .7,.2 .7,.3 .6,.4 .5,.5 .4,.5 .4,.6 .3,.6 .4,.6 .4,.6 .4,.5 .5,.5 .5,.5 .5,.4 .5,.4 .3,.4 .3,.4 .2,.5 .2,.6 .2,.5 .2,.6 .2,.7 .3,.6 .4,.7 .5,.7 .5,.7 .5,.6 .5,.6 .4,.6 .3,.6 .3,.5 .2,.5 .1,.6 .1,.6 .1,.7 0,.7 .1,.7 .1,.8 .1,.8 .1,.8 0,.7-.1,.8-.1,.7-.3,.7-.2,.6-.3,.7-.3,.6-.2,.7-.3,.8-.3,.7-.2,.8-.3,.8-.2,.8-.3,.6-.4,.6-.3,.6-.4,.5-.4,.5-.4,.5-.4,.4-.4,.5-.5,.4-.5,.5-.6,.4-.7,.4-.7,.4-.7,.3-.8,.3-.7,.1-.6,.1-.5,0-.5,0-.5-.2-.5-.1-.6-.1-.7-.1-.8,0-.9,0-.9,0-.9,0-.8,.1-.8-.1-.7,0-.6-.2-.6-.3-.7-.4-.6-.3-.8-.4-.9-.4-.9-.3-.8-.2-.7-.2-.5-.1-.5,0-.3,0-.4-.1-.2-.2-.4-.2-.4-.3-.5-.4-.5-.4-.7-.4-.7-.4-.7-.5-.6-.4-.5-.5-.5-.4-.5-.4-.7-.3-.7-.3-.8-.2-.7-.2-.8-.2-.7-.2-.6-.3-.6-.4-.5-.4-.4-.5-.5-.5-.5-.6-.7-.5-.8-.4-.8-.5-.9-.3-.8-.4-.9-.2-.6-.3-.6-.2-.4-.3-.4-.2-.3-.3-.3-.3-.4-.3-.4-.4-.4-.4-.4-.4-.5-.4-.5-.5-.5-.4-.5-.5-.5-.4-.6-.5-.6-.5-.7-.6-.7-.6-.6-.6-.7-.6-.7-.6-.6-.7-.6-.6-.5-.5-.6-.6-.5-.5-.4-.5-.4-.4-.4-.4-.3-.5-.3-.4-.3-.5Z M655.4,420.2l.1-.9 .4-.9 .4-.6 .6-.6 .6-.4 .6-.3 .6-.2 .7-.1 .6-.3 .6-.3 .6-.5 .4-.5 .4-.6 .4-.5 .3-.5 .4-.3 .4-.3 .5-.2 .6-.1 .7-.1 .7-.1 .7-.2 .6-.3 .5-.2 .4-.2 .3-.2 .4-.1 .3-.1 .4-.1 .4-.1 .6-.1 .7-.1 .8-.1 .8-.1 .9-.2 .9,0 .9,0 .9,0 .8,.1 .8,0 .7-.1 .7-.2 .6-.2 .5-.3 .5-.3 .5-.2 .6-.2 .6-.1 .7,0 .7,.2 .8,.3 .7,.4 .7,.2 .7,.2 .7,.1 .7,0 .6-.2 .5-.3 .5-.3 .6-.2 .5-.2 .5,0 .6,.1 .5,.1 .5,.2 .5,.3 .6,.2 .5,.1 .5,.2 .6,0 .6,.1 .6,0 .7,.1 .8,0 .7,.2 .8,.1 .9,.3 .7,.4 .7,.4 .5,.5 .4,.5 .3,.4 .4,.4 .4,.3 .4,.1 .5,.1 .5-.1 .6,0 .6,.1 .7,.2 .5,.3 .5,.4 .4,.5 .3,.6 .3,.6 .4,.6 .4,.5 .4,.5 .3,.4 .4,.4 .3,.5 .2,.6 .2,.6 .2,.7 .1,.7 .1,.7 .1,.6 .2,.5 .2,.4 .3,.4 .2,.4 .3,.4 .2,.5 .1,.6 .1,.7 0,.9 0,.8-.1,.9-.2,.9-.2,.9-.2,.9-.1,.7 0,.7 .1,.6 .1,.6 .1,.6 .2,.7 .1,.7 0,.8-.1,.8-.2,.7-.3,.7-.4,.6-.5,.6-.4,.4-.4,.2-.3,.3-.4,.1-.3,.1-.3,.2-.3,.2-.3,.2-.5,.3-.5,.4-.6,.3-.7,.3-.8,.3-.8,.3-.8,.2-.8,.3-.8,.2-.6,.1-.6,.2-.5,.1-.5,.2-.4,0-.5,0-.5-.2-.6-.1-.6-.2-.7-.2-.6-.2-.6-.3-.6-.3-.5-.3-.6-.4-.5-.3-.6-.2-.6-.2-.6-.1-.6-.1-.7,0-.6,0-.6,0-.5-.1-.6-.2-.5-.2-.5-.3-.5-.3-.6-.3-.6-.2-.6-.2-.7-.2-.7-.2-.8-.3-.7-.4-.8-.5-.7-.5-.7-.4-.7-.4-.7-.4-.5-.2-.6-.1-.5,0-.4,0-.4-.1-.4-.1-.4-.2-.5-.2-.5-.3-.6-.3-.6-.3-.7-.3-.7-.3-.8-.3-.7-.3-.7-.2-.7-.3-.7-.4-.6-.4-.5-.4-.5-.5-.5-.5-.5-.5-.4-.6-.4-.5-.3-.6-.3-.5-.4-.4-.3-.3-.4-.2-.4-.1-.4-.1-.5-.2-.6-.1-.7-.2-.8-.4-.9-.4-.9-.5-.8-.6-.7-.6-.6-.5-.4-.5-.3-.3-.2-.3-.1-.2-.1-.2-.1-.4-.1-.4Z M655.2,419.9l.5-.7 .8-.5 .8-.4 .8-.3 .8-.3 .7-.3 .6-.3 .6-.3 .4-.3 .4-.4 .3-.4 .2-.4 .2-.4 .3-.5 .4-.5 .5-.5 .6-.6 .9-.5 .9-.6 1-.5 .9-.5 .9-.4 .7-.4 .6-.4 .6-.4 .6-.3 .6-.3 .6-.4 .7-.3 .9-.3 1-.2 1.1-.2 1-.1 .9-.2 .9-.1 .9-.2 .9-.2 .8-.3 .8-.4 .7-.3 .7-.4 .6-.3 .6-.2 .6-.1 .6,0 .7,.2 .6,.2 .7,.2 .8,.3 .8,.3 .7,.2 .8,.1 .6,.1 .7,.1 .5,0 .6,0 .6,0 .6,0 .7,.1 .8,0 .8,0 .9,.1 .8,.1 .9,0 1,.1 .9,.1 1,.1 1,.2 1.1,.2 .9,.1 .9,.2 .7,.2 .7,.3 .6,.2 .6,.3 .5,.2 .5,.3 .6,.4 .7,.3 .8,.3 .8,.4 .8,.3 .6,.3 .6,.3 .5,.3 .4,.3 .4,.3 .4,.3 .4,.4 .4,.5 .5,.5 .5,.5 .5,.6 .5,.6 .5,.7 .5,.8 .5,.8 .5,.9 .6,.8 .5,.9 .5,.8 .4,.7 .4,.6 .3,.6 .3,.6 .2,.6 .3,.7 .3,.7 .3,.7 .2,.8 .2,.9 0,.9 0,.9-.1,.8-.2,.8-.1,.8-.2,.8 0,.9 0,.9 0,.9 .1,1 .1,.9 0,.9 0,.9 0,.7 0,.7-.1,.6-.1,.5-.2,.5-.2,.5-.2,.5-.3,.5-.3,.6-.4,.7-.4,.7-.5,.8-.4,.8-.4,.9-.5,.9-.6,.8-.6,.7-.7,.7-.7,.5-.7,.4-.7,.4-.6,.3-.7,.2-.6,.2-.7,.1-.6,.2-.6,.2-.7,.1-.6,.1-.7,.1-.7,.1-.8-.1-.9-.1-.9-.2-1-.3-1-.3-1-.4-.9-.4-.9-.3-.9-.3-.8-.3-.8-.1-.8-.2-.7-.1-.7-.1-.7-.1-.7-.1-.6-.2-.7-.2-.7-.4-.6-.4-.8-.4-.7-.5-.7-.5-.7-.4-.6-.3-.7-.3-.6-.2-.7-.3-.7-.3-.7-.3-.7-.4-.7-.3-.6-.3-.6-.3-.5-.4-.4-.4-.5-.5-.5-.5-.6-.6-.8-.5-.8-.6-.9-.7-1-.5-.9-.6-.9-.4-.8-.4-.8-.3-.6-.3-.6-.4-.4-.4-.4-.5-.4-.5-.3-.5-.3-.5-.4-.6-.6-.5-.7-.6-.8-.5-.9-.5-.9-.4-.9-.5-.8-.4-.7-.6-.5-.5-.4-.5-.2-.4-.2-.3-.2-.4-.3-.3-.4-.3-.5-.4-.6-.4-.7-.6-.8-.6-.8-.7-.9-.7-.9-.6-.9-.5-.8-.4-.8-.4-.8-.4-.7-.5-.6-.6-.4-.7Z M655.6,418.6l.1-.8 .3-.5 .4-.5 .6-.3 .6-.2 .6-.2 .6-.1 .6-.2 .4-.2 .4-.2 .4-.2 .3-.3 .4-.3 .5-.4 .6-.4 .7-.3 .7-.4 .7-.3 .7-.2 .6-.3 .6-.2 .5-.2 .5-.2 .5-.2 .6-.2 .8-.2 .8-.1 .9-.1 .9-.2 .9-.1 .9-.1 .8-.2 .8-.3 .8-.3 .7-.3 .7-.2 .6-.2 .5-.1 .5-.1 .4,0 .4,0 .5,0 .5,0 .6-.1 .6-.2 .7-.3 .6-.4 .6-.3 .6-.2 .5,0 .5,0 .5,.2 .5,.3 .5,.4 .6,.3 .7,.3 .7,.1 .8,0 .8-.1 .7-.1 .7-.1 .8,0 .7,.1 .7,.2 .6,.2 .6,.2 .6,.3 .6,.3 .6,.1 .6,.1 .6,.1 .7-.1 .7-.1 .9-.1 .8,0 .9,0 .9,0 .9,.2 .8,.2 .7,.4 .7,.3 .6,.4 .5,.3 .3,.4 .4,.5 .3,.5 .4,.5 .4,.5 .4,.4 .5,.4 .5,.3 .5,.2 .6,.2 .6,.1 .7,.2 .5,.3 .5,.3 .4,.5 .3,.5 .2,.5 .2,.5 .1,.5 0,.5 0,.6 0,.7 .2,.9 .2,1 .3,1 .4,1.1 .5,1 .4,1 .5,.9 .5,.9 .5,.8 .3,.7 .3,.6 .1,.5 0,.5-.2,.5-.2,.4-.3,.5-.4,.4-.3,.5-.3,.5-.2,.7-.3,.7-.2,.8-.3,.8-.2,.8-.3,.7-.3,.6-.2,.7-.3,.6-.3,.6-.3,.6-.4,.5-.3,.5-.4,.5-.4,.4-.4,.3-.5,.3-.5,.2-.5,.3-.5,.4-.6,.4-.6,.5-.6,.5-.6,.5-.6,.4-.6,.4-.6,.4-.6,.2-.7,.1-.6,.1-.7,0-.7,0-.7,0-.7,0-.7-.2-.7-.2-.6-.2-.6-.4-.6-.3-.6-.5-.7-.4-.7-.4-.7-.5-.6-.3-.7-.3-.6-.2-.6-.1-.6-.1-.5-.1-.6-.1-.5-.1-.6-.1-.7-.1-.7-.2-.7-.3-.7-.3-.6-.3-.6-.3-.5-.3-.6-.2-.6-.2-.7-.2-.6-.3-.6-.4-.7-.4-.7-.4-.6-.4-.6-.5-.6-.4-.6-.5-.5-.4-.5-.3-.5-.4-.4-.4-.5-.4-.4-.5-.5-.4-.5-.5-.7-.4-.8-.4-.9-.3-.9-.2-.9-.3-.8-.2-.7-.2-.6-.2-.5-.2-.4-.3-.3-.3-.4-.3-.3-.3-.4-.4-.5-.5-.5-.5-.6-.5-.6-.5-.7-.5-.6-.5-.7-.5-.7-.4-.6-.4-.6-.3-.6-.2-.4-.3-.4-.3-.4-.3-.5-.5-.5-.5-.6-.5-.6-.6-.7-.5-.7-.6-.5-.6-.4-.6-.2-.6Z M655.6,421.1l0-.9 .3-.9 .6-.8 .7-.8 .9-.7 1-.6 1.1-.6 1-.5 1.1-.5 1-.5 .9-.6 .8-.8 .9-.7 .7-.8 .8-.6 .7-.6 .9-.5 .9-.4 .9-.4 .9-.4 1-.4 1-.4 1-.5 1-.5 1-.5 1-.4 1-.4 1-.3 1-.4 1-.3 1-.5 .9-.5 1-.5 .9-.4 .9-.4 .8-.3 1-.1 1-.1 1,0 1.1,.1 1.1,.1 1.1,0 1.2-.1 1.1-.1 1.2-.1 1.1-.2 1-.1 .9-.2 .9-.2 .9-.2 .9-.1 .9-.1 1-.1 1-.1 1,0 1-.1 1-.1 1,0 .9-.1 1,.1 1,0 1,.1 1.1,.2 1.1,.2 1.1,.3 1.2,.3 1,.2 1.1,.2 .9,.1 .9,.2 .8,.1 .8,.3 .8,.3 .8,.3 .8,.5 .7,.6 .8,.6 .7,.7 .8,.6 .7,.7 .8,.8 .7,.8 .7,.9 .8,1 .7,1.1 .8,1.1 .7,1.1 .7,1.1 .8,1.1 .6,1.1 .7,1 .6,.9 .5,.8 .4,.7 .3,.7 .3,.5 .3,.6 .3,.6 .3,.5 .3,.6 .4,.7 .3,.8 .5,.8 .4,1 .5,1 .5,1 .5,1.1 .4,1 .4,1.1 .3,1.1 .1,1.1 0,1.1 0,1.1-.2,1.1-.2,1.1-.2,1 0,1-.1,.9 0,.9 .1,.9 .1,.9 0,.9 .1,1-.1,1.1-.1,1.1-.1,1-.2,1.1-.3,1-.2,1-.3,.9-.3,1-.3,.9-.3,1-.3,1-.3,1-.4,1-.4,1-.6,1-.7,1-.7,1-.7,.9-.7,.9-.6,.8-.6,.7-.6,.6-.6,.5-.8,.4-.9,.4-1,.2-1.3,.1-1.3,.1-1.4,0-1.3-.1-1.2-.1-1.1-.2-1.1-.3-.9-.3-.9-.3-.9-.4-.8-.5-.9-.4-.9-.5-1-.5-.9-.4-1-.4-.9-.4-1-.3-1-.4-1-.3-1-.3-1-.2-1-.3-1-.3-1-.2-1-.3-1-.3-1.1-.3-.9-.5-.9-.4-.8-.5-.8-.5-.7-.4-.6-.3-.7-.4-.7-.4-.7-.3-.9-.4-1-.4-1-.5-1-.5-1-.6-.9-.6-1-.6-.9-.6-.9-.7-.9-.6-.9-.7-.8-.7-.9-.6-.9-.6-.9-.6-1-.6-1-.7-.9-.6-.9-.7-.9-.6-.9-.7-.7-.7-.8-.7-.6-.8-.7-.7-.6-.8-.6-.7-.7-.7-.7-.8-.7-.9-.8-.8-.7-.8-.9-.8-.9-.8-.9-.7-.9-.7-.9-.7-.8-.6-.8-.7-.7-.6-.6-.6-.5-.6-.5-.6-.4-.6-.5-.6-.5-.7-.6-.7-.7-.8-.8-.8-.7-.9-.7-.9-.6-1-.4-1Z M655.6,420.4l.4-.9 .6-.7 .7-.6 .7-.5 .7-.5 .7-.5 .8-.6 .8-.6 .8-.6 .8-.7 .8-.7 .9-.7 .9-.8 1-.7 1-.6 .9-.6 .9-.4 .9-.3 .8-.3 .9-.2 .9-.2 .9-.2 .9-.3 .9-.3 .9-.5 .8-.5 .9-.5 1-.5 .9-.5 1-.3 .9-.3 1-.3 .9-.2 1-.1 1-.2 .9-.2 .9-.1 .9-.2 .9-.1 .8-.2 .8-.3 .9-.2 .8-.3 .8-.2 .9-.3 .9-.1 .8-.2 .9-.2 1-.1 .9-.1 1-.1 .9-.1 1-.1 1.1-.2 1-.1 1.2,0 1.1,.1 1.1,.2 1.1,.2 1,.4 1,.3 1,.3 .9,.3 .9,.2 .9,.1 .9,0 .9,.1 1,.1 1,.2 1,.3 .9,.3 1,.4 .8,.3 .9,.4 .8,.3 .8,.3 .8,.3 .8,.4 .9,.4 .9,.5 .9,.6 1,.7 .9,.7 .8,.8 .8,.7 .7,.7 .6,.7 .5,.7 .6,.7 .4,.7 .4,.9 .4,.9 .3,1 .4,1 .4,1 .4,1.1 .5,.9 .6,.9 .6,.8 .7,.7 .6,.8 .5,.8 .4,.9 .2,1 .2,.9 .1,1 .1,1 .2,1 .2,1 .2,1 .3,.9 .2,1 .1,1.1 .1,1.1 0,1.2-.1,1.1-.2,1.2-.1,1.1-.2,.9-.2,.9-.3,.8-.2,.7-.2,.6-.1,.7-.1,.8 0,.8 0,1 .1,1-.1,1.1 0,1.2-.2,1.1-.3,1.2-.4,1.1-.4,.9-.5,.8-.5,.8-.5,.7-.5,.8-.6,.7-.6,.9-.6,.9-.7,.8-.7,.8-.8,.7-.8,.6-.8,.4-.9,.2-.9,.1-1,.1-1.1,0-1.2,0-1.2,.1-1.2,.1-1.2,.1-1.1,.1-1,0-.9-.1-.8-.1-.7-.3-.6-.2-.7-.3-.7-.3-.7-.4-.7-.4-.9-.4-1-.4-1.1-.3-1.1-.3-1.2-.3-1.2-.3-1.2-.2-1.2-.2-1.1-.2-1.1-.3-1-.2-.9-.3-.9-.3-.9-.4-1-.4-.8-.5-.9-.5-.7-.6-.7-.7-.7-.7-.7-.8-.7-.7-.8-.7-.8-.7-.8-.5-.9-.5-1-.5-.9-.4-1-.4-1-.5-.9-.5-.9-.5-.8-.6-.7-.6-.8-.6-.7-.7-.8-.6-.6-.6-.7-.6-.7-.7-.7-.6-.8-.6-.9-.6-.8-.6-.8-.6-.8-.6-.7-.6-.7-.6-.8-.5-.7-.6-.7-.6-.7-.6-.7-.6-.7-.6-.7-.6-.7-.7-.7-.8-.7-.8-.8-.8-.8-.7-.8-.7-.9-.7-.9-.7-.7-.6-.7-.7-.6-.6-.5-.5-.5-.7-.6-.7-.5-.7-.7-.8-.6-.8-.8-.9-.7-.9-.5-1Z M655.9,420.3l.4-.7 .5-.7 .6-.5 .5-.5 .5-.4 .5-.4 .5-.4 .6-.4 .7-.5 .7-.5 .7-.6 .6-.5 .8-.7 .7-.6 .8-.7 .7-.7 .7-.8 .8-.7 .8-.7 .9-.6 1-.4 1-.4 1.1-.3 1-.2 1-.1 .9-.1 1-.1 .9-.1 .9-.1 .8-.1 .8-.1 .8,0 .8-.1 .7-.1 .7-.1 .7-.2 .7-.3 .8-.2 .8-.3 .8-.3 .9-.3 .9-.3 1-.3 .9-.3 1-.3 1.1-.2 1-.2 1-.1 1-.1 .9,0 .9,.1 .8,.1 .7,.1 .7,0 .6,.1 .7,0 .6,.1 .7,0 .7,0 .9,.1 .9,.1 1,.3 1.1,.3 1.1,.3 1.1,.3 .9,.4 1,.4 .8,.2 .9,.2 .9,.1 .8,0 .9-.1 .9-.1 .9-.1 .9,.1 .8,.1 .8,.4 .8,.5 .7,.6 .7,.8 .6,.8 .8,.7 .7,.7 .7,.7 .6,.6 .6,.5 .6,.4 .4,.5 .4,.5 .3,.5 .3,.6 .3,.6 .3,.8 .3,.7 .4,.9 .4,.8 .5,.9 .5,.9 .5,.8 .5,.7 .5,.7 .4,.6 .3,.7 .3,.6 .2,.7 .1,.7 .2,.9 .1,.9 .2,1 .1,1 .2,1.1 .2,1 .2,1 .1,.9 .1,.8 .1,.7 0,.8-.1,.8 0,.8-.1,.9-.1,.8-.1,.9-.1,.9-.1,.9-.1,.9 0,.9-.1,.9-.1,.9-.1,1-.2,1.1-.3,1-.3,1.1-.4,.9-.4,.8-.4,.8-.4,.7-.4,.6-.4,.5-.4,.6-.4,.6-.4,.7-.5,.7-.5,.8-.7,.8-.7,.7-.7,.5-.8,.4-.8,.2-.9,.1-.9,0-.8-.1-.9-.1-.8,0-.9,0-.9,0-1,.1-1,.1-1,0-1.1-.1-1-.1-.9-.1-1-.2-.9-.1-.8-.1-.8-.2-.8-.2-.9-.3-.8-.3-1-.3-1-.5-1-.4-1.1-.6-1.1-.5-1-.6-1-.5-.8-.5-.8-.5-.6-.5-.7-.5-.6-.4-.6-.4-.6-.4-.6-.3-.6-.3-.5-.3-.6-.2-.6-.3-.7-.3-.7-.4-.7-.4-.8-.4-.9-.5-.9-.6-.8-.7-.9-.6-.8-.6-.8-.6-.9-.6-.9-.6-.8-.6-.8-.5-.7-.6-.6-.6-.6-.5-.6-.5-.6-.5-.6-.6-.6-.5-.8-.5-.7-.5-.8-.5-.8-.4-.7-.5-.7-.5-.6-.5-.6-.5-.6-.5-.6-.7-.6-.6-.5-.7-.4-.7-.5-.6-.4-.6-.5-.6-.5-.6-.7-.6-.7-.6-.9-.7-.9-.7-.8-.7-.9-.8-.7-.7-.6-.8-.5-.7-.6-.7-.4-.6-.5-.7-.3-.7-.3-.7Z M655.3,419.7l.2-.5 .4-.4 .4-.4 .6-.4 .6-.5 .7-.3 .6-.4 .7-.3 .6-.3 .6-.3 .5-.3 .5-.2 .4-.2 .5-.3 .3-.3 .4-.3 .4-.4 .5-.5 .7-.5 .7-.4 .8-.5 .8-.3 .7-.3 .7-.2 .7-.1 .5-.1 .5-.1 .5-.2 .4-.2 .5-.2 .6-.2 .7-.1 .6-.2 .7-.1 .6,0 .6-.1 .5,0 .6-.1 .5-.1 .7-.3 .7-.2 .9-.3 .8-.4 .9-.3 .8-.2 .7-.3 .7-.3 .5-.1 .4-.2 .4,0 .4,.2 .4,.2 .5,.4 .5,.4 .6,.5 .7,.5 .7,.5 .7,.4 .9,.2 .8,.2 1,0 .8-.1 .8-.1 .8-.1 .6-.1 .7,0 .5,0 .5,.2 .5,.1 .6,.2 .6,.2 .6,.1 .7,.1 .6,0 .6,0 .6,0 .4-.1 .4,0 .4,.1 .4,.1 .5,.2 .4,.2 .6,.3 .6,.4 .7,.4 .8,.5 .8,.4 .8,.5 .7,.4 .6,.4 .5,.3 .4,.3 .3,.3 .3,.3 .2,.3 .3,.4 .3,.5 .4,.5 .4,.6 .4,.5 .5,.6 .4,.5 .4,.4 .4,.5 .4,.5 .3,.5 .2,.5 .3,.7 .2,.7 .1,.9 .2,.8 0,.8 0,.9 0,.8 0,.8 0,.9 .1,.8 0,.7 .1,.8 .1,.7 .1,.7 .2,.6 0,.6 .1,.5 0,.4-.1,.5 0,.4-.1,.5-.1,.5 0,.6-.1,.6-.2,.7-.2,.6-.3,.6-.3,.7-.5,.6-.6,.7-.5,.6-.6,.6-.6,.6-.7,.6-.6,.5-.6,.5-.6,.5-.7,.5-.7,.3-.8,.3-.9,.2-.9,.1-.8,0-.8-.1-.7-.1-.6-.1-.6-.2-.6-.1-.5-.1-.6,0-.6,0-.7,0-.7,0-.6-.2-.7-.2-.6-.2-.5-.3-.4-.2-.4-.2-.5-.1-.4-.2-.6-.1-.5,0-.5-.1-.6-.2-.5-.1-.6-.2-.7-.1-.8-.2-.8-.2-.9-.2-.8-.3-.8-.3-.7-.3-.7-.4-.6-.3-.4-.4-.5-.3-.4-.2-.5-.3-.6-.2-.6-.2-.6-.3-.6-.3-.6-.3-.6-.4-.6-.3-.6-.3-.6-.3-.7-.3-.6-.3-.7-.4-.7-.4-.6-.4-.7-.3-.5-.3-.5-.2-.5-.2-.5-.1-.4-.1-.5-.3-.6-.3-.5-.5-.6-.6-.7-.7-.6-.7-.6-.8-.7-.6-.5-.6-.5-.5-.5-.5-.5-.4-.5-.5-.4-.5-.4-.5-.4-.5-.3-.5-.3-.5-.4-.5-.3-.6-.2-.5-.4-.5-.3-.5-.5-.5-.5-.4-.7-.4-.7-.2-.8-.2-.8-.2-.8-.1-.6-.2-.4-.3Z M654,419.4l.3-.8 .7-.8 1-.5 1.1-.5 1.2-.5 1.1-.5 1.2-.5 1-.5 1-.4 1-.6 .9-.6 .8-.7 .8-.9 .7-.8 .9-.9 .9-.9 1-.8 1.1-.7 1.2-.7 1.2-.7 1.2-.6 1.2-.5 1.1-.5 1-.4 1-.4 1-.4 1.1-.2 1.2-.2 1.2,0 1.3,.1 1.2,0 1.2,0 1.1-.2 .9-.4 .9-.5 .9-.5 .9-.7 1-.6 1.1-.5 1.2-.6 1.3-.4 1.2-.3 1.3-.3 1.1-.3 1.2-.2 1.1-.3 1-.2 1.1-.2 1.1-.1 1.1,0 1.2,0 1.2,.1 1.2,.1 1.2,.1 1.2,.1 1.1,0 1.2,0 1.2-.1 1.1,0 1.2,0 1.1,0 1.1,.1 1.1,.2 1.1,.3 1,.3 1.1,.3 1.1,.3 1.1,.4 1.1,.3 1,.4 1.1,.4 1.1,.5 1.2,.5 1.1,.5 1.1,.6 1,.6 1,.7 .9,.7 .8,.8 .8,.8 .6,.8 .5,.9 .5,.8 .6,.7 .6,.8 .7,.7 .8,.8 .7,.8 .8,.8 .8,.9 .7,1 .7,1 .6,1.1 .5,1.1 .4,1 .3,1.1 .3,1 .2,1.2 .3,1.2 .2,1.3 .3,1.3 .2,1.4 .2,1.4 .3,1.4 .3,1.2 .2,1.1 .2,1 .2,.8 .2,.8 .1,.8 .1,.9-.1,1 0,1.1-.1,1.2-.2,1.4-.1,1.3-.1,1.4 0,1.3 0,1.2 .1,1 .2,1 .2,.8 .2,.9 .2,.9 .1,1 0,1.1-.1,1.2-.1,1.3-.2,1.3-.3,1.3-.3,1.2-.3,1.2-.3,1-.3,1-.2,.9-.3,.9-.4,.9-.3,.8-.5,.9-.5,.8-.7,.8-.8,.7-.9,.6-1,.6-1.3,.5-1.3,.6-1.3,.7-1.4,.6-1.3,.6-1.2,.5-1.1,.3-1,.3-.9,0-.8-.1-.8-.2-.9-.2-1-.4-1.1-.3-1.3-.4-1.4-.3-1.4-.3-1.5-.3-1.5-.3-1.4-.3-1.3-.2-1.3-.3-1.2-.3-1.2-.3-1.2-.4-1-.4-1-.6-.8-.6-.8-.7-.7-.7-.6-.7-.6-.6-.7-.6-.7-.4-.7-.4-.9-.3-.9-.4-1-.5-1.1-.5-1.2-.5-1.1-.6-1.2-.6-1.1-.6-1.2-.5-1-.6-1-.5-1-.5-.9-.5-.9-.6-1-.5-.9-.7-1.1-.7-1-.7-1-.8-.9-.9-.8-.8-.8-.8-.9-.9-.9-.8-.9-.8-1-.8-1-.7-.9-.7-.9-.7-.8-.7-.6-.8-.6-.8-.5-.8-.6-.9-.6-.8-.9-.9-1-.9-1.1-.9-1.2-.9-1.1-.9-1-.9-.9-.8-.8-.8-.6-.8-.6-.7-.5-.8-.5-.7-.6-.7-.8-.8-.8-.8-1-.9-1.1-.9-1-1-1-.9-1-.8-.8-.8-.6-.8-.6-.8-.4-.9-.2-1Z M654.5,420.1l.7-1.1 1-.9 1.2-.8 1.2-.8 1.3-.7 1.3-.7 1.1-.7 1.1-.6 1-.5 .8-.5 .6-.5 .6-.4 .5-.4 .5-.5 .5-.6 .6-.6 .8-.7 .8-.7 1-.7 1.1-.6 1.1-.6 1.2-.6 1.2-.5 1.2-.6 1.2-.5 1.2-.4 1.2-.4 1.2-.3 1.1-.2 1.1-.1 1,0 1-.1 1-.1 .9-.1 .9-.3 .9-.4 .8-.4 .9-.6 .9-.6 1.1-.5 1-.4 1.2-.3 1.1-.3 1.2-.3 1.2-.3 1.1-.3 1.1-.2 1-.3 1-.2 1-.1 1-.2 1.2-.1 1.2-.1 1.2,0 1.3,0 1.4,0 1.3,0 1.4-.1 1.4,0 1.4,0 1.3,.2 1.3,.2 1.2,.3 1.1,.3 1,.4 .9,.4 .9,.5 .8,.4 .9,.4 .8,.3 .9,.3 .9,.4 1.1,.4 1.1,.5 1.1,.6 1,.6 1,.7 .9,.8 .9,.8 .8,.7 .7,.7 .7,.7 .7,.6 .6,.7 .6,.7 .5,.9 .6,1 .5,1.1 .5,1 .6,1.1 .6,1.1 .6,1.1 .6,1.1 .5,1 .6,1 .6,1.1 .5,1 .4,1.1 .4,1 .4,1.1 .3,.9 .4,.9 .5,.9 .4,.9 .3,1 .2,1.1 .2,1.3 .1,1.3 .1,1.4 .1,1.4 .2,1.4 .2,1.3 .3,1.1 .3,1 .4,.8 .4,.8 .4,.8 .3,.8 .1,.9 0,.9-.2,.9-.2,1.1-.3,1.1-.2,1.1-.3,1.1-.2,1.2-.2,1.2-.2,1.2-.3,1.2-.2,1.2-.3,1.2-.4,1-.4,1.1-.6,1-.6,1-.6,1.1-.6,1-.7,1.1-.7,1-.7,1-.7,.9-.8,.9-.8,.7-.8,.6-.9,.5-.9,.4-.9,.4-1.1,.3-1.1,.3-1.1,.2-1.1,.2-1.1,0-1.1,0-1-.1-1.1-.2-1-.2-.9-.2-1-.2-1-.3-.9-.2-1.1-.3-1-.2-1.2-.3-1.1-.3-1.3-.4-1.2-.5-1.3-.6-1.2-.6-1.3-.6-1.2-.6-1.1-.5-1.2-.5-1.1-.4-1.1-.3-1.1-.3-1-.3-1-.3-.9-.3-.9-.5-.8-.5-.9-.5-.9-.5-.9-.5-.9-.5-1-.5-.9-.6-1-.6-.9-.7-1-.7-1-.8-1-.7-1-.7-1-.8-1-.6-.9-.6-.8-.6-.8-.6-.8-.6-.6-.6-.7-.6-.7-.7-.8-.7-.8-.7-.9-.7-1-.6-.9-.7-.9-.7-.9-.7-.9-.7-.9-.7-.9-.7-.9-.8-.9-.8-.9-.9-.8-.9-.9-.9-.8-.9-.8-.9-.7-.7-.6-.8-.7-.6-.8-.7-.8-.6-.9-.7-.9-.7-1-.6-.9-.7-.9-.8-.9-.7-.9-.7-.7-.8-.8-.8-.7-.9-.6-.9-.6-.9-.6-1.1-.6-1-.5-1.2-.4-1.1Z" stroke="#f30010" stroke-width="0.8" fill="none"/>
<path d="M655.4,420l.1-.6 .1-.5 .3-.4 .4-.4 .4-.4 .4-.3 .4-.3 .5-.3 .5-.3 .4-.3 .5-.2 .5-.3 .5-.3 .4-.2 .5-.3 .5-.3 .5-.2 .5-.2 .5-.3 .4-.2 .5-.2 .5-.2 .6-.2 .5-.2 .5-.2 .5-.2 .5-.2 .5-.2 .5-.2 .5-.2 .5-.1 .6-.2 .5-.2 .5-.1 .5-.2 .5-.1 .6-.2 .5-.1 .5-.1 .6,0 .5-.1 .6,0 .5,.1 .5,0 .6,.1 .5,.1 .5,.1 .5,.1 .5,.1 .5,.2 .5,.1 .5,.2 .6,.2 .5,.1 .5,.2 .5,.1 .5,.1 .6,.1 .5,.2 .5,0 .6,.1 .5,0 .6,0 .5,0 .5,0 .6,0 .5,0 .5-.1 .6,0 .5,0 .5-.1 .6,0 .5,0 .5,0 .5,0 .5,0 .6,0 .5,.1 .5,0 .5,.1 .5,.1 .5,.2 .5,.1 .5,.2 .5,.1 .5,.2 .4,.2 .5,.3 .5,.2 .4,.3 .5,.3 .4,.3 .4,.3 .4,.3 .4,.3 .4,.4 .4,.3 .4,.4 .3,.4 .4,.4 .3,.4 .3,.5 .3,.4 .3,.4 .3,.5 .3,.5 .2,.5 .2,.4 .3,.5 .1,.5 .2,.6 .2,.5 .1,.5 .2,.5 .1,.6 .1,.5 0,.5 .1,.6 0,.5 0,.6 0,.5 0,.6-.1,.5 0,.5-.1,.6-.1,.5-.2,.5-.1,.6-.2,.5-.2,.5-.3,.5-.2,.4-.3,.5-.3,.5-.3,.4-.3,.4-.4,.5-.3,.4-.4,.3-.4,.4-.4,.4-.5,.3-.4,.3-.5,.3-.5,.2-.4,.3-.5,.2-.6,.2-.5,.1-.5,.1-.5,.1-.6,.1-.5,.1-.6,0-.5,0-.5,.1-.6-.1-.5,0-.6,0-.5-.1-.5,0-.6-.1-.5-.1-.6-.1-.5-.1-.5-.2-.5-.1-.6-.1-.5-.2-.5-.1-.5-.2-.5-.2-.6-.2-.5-.1-.5-.2-.5-.2-.5-.2-.5-.2-.5-.2-.5-.2-.5-.3-.5-.2-.5-.2-.5-.2-.5-.2-.5-.2-.5-.2-.5-.3-.5-.2-.5-.2-.5-.2-.5-.3-.5-.2-.5-.2-.4-.2-.5-.3-.5-.2-.5-.3-.5-.2-.5-.2-.5-.3-.5-.2-.4-.3-.5-.2-.5-.3-.5-.2-.4-.3-.5-.3-.5-.2-.5-.3-.4-.3-.5-.3-.5-.2-.4-.3-.5-.3-.4-.3-.5-.3-.4-.3-.5-.3-.4-.3-.5-.3-.4-.3-.5-.3-.4-.3-.5-.3-.4-.3-.5-.4-.4-.3-.4-.3-.5-.3-.4-.3-.4-.4-.5-.3-.4-.4-.4-.3-.4-.4-.3-.4-.3-.4-.3-.5Z" fill="#f30010"/>
<path d="M680,416.5 C686,414.5 694,415.5 698.5,419.5 C701,424 700,430 696,433 C690,435.5 683,433.5 678.5,430 C675.5,427 675.5,419 680,416.5Z" fill="#fff"/>
<g fill="#bfcbf4"><circle cx="684" cy="428" r="1"/><circle cx="691" cy="420" r="1"/><circle cx="695" cy="429" r="0.9"/><circle cx="681" cy="421" r="0.9"/></g>
<path d="M683,418 C688,416.5 694,418 697,422.5 C698.5,427 696,431 691,432 M686,419.5 C690,419 694,421 695,425 C695.5,428.5 693,430.5 689,431" stroke="#f30010" stroke-width="0.8" fill="none"/>
<ellipse cx="671.3" cy="423.3" rx="2.1" ry="3.3" fill="#bfcbf4"/>
</g>
<path d="M630.50,105.20v-1.7M630.50,5.60v1.7M680.23,105.20v-1.7M680.23,5.60v1.7M729.97,105.20v-1.7M729.97,5.60v1.7M779.70,105.20v-1.7M779.70,5.60v1.7M630.50,22.20h1.7M779.70,22.20h-1.7M630.50,55.40h1.7M779.70,55.40h-1.7M630.50,88.60h1.7M779.70,88.60h-1.7" stroke="#444" stroke-width="0.9" fill="none"/>
<text x="623.1" y="26.0" text-anchor="end" class="tk">0.2</text>
<text x="623.1" y="59.2" text-anchor="end" class="tk">0</text>
<text x="623.1" y="92.4" text-anchor="end" class="tk">–0.2</text>
<text x="630.5" y="118.5" text-anchor="middle" class="tk">–0.2</text>
<text x="680.2" y="118.5" text-anchor="middle" class="tk">0</text>
<text x="729.1" y="118.5" text-anchor="middle" class="tk">0.2</text>
<text x="778.1" y="118.5" text-anchor="middle" class="tk">0.4</text>
<path d="M673.13,229.70v-1.7M673.13,131.00v1.7M726.41,229.70v-1.7M726.41,131.00v1.7M779.70,229.70v-1.7M779.70,131.00v1.7M630.50,131.00h1.7M779.70,131.00h-1.7M630.50,155.67h1.7M779.70,155.67h-1.7M630.50,180.35h1.7M779.70,180.35h-1.7M630.50,205.02h1.7M779.70,205.02h-1.7M630.50,229.70h1.7M779.70,229.70h-1.7" stroke="#444" stroke-width="0.9" fill="none"/>
<text x="623.1" y="137.0" text-anchor="end" class="tk">0.8</text>
<text x="623.1" y="161.0" text-anchor="end" class="tk">0.4</text>
<text x="623.1" y="185.1" text-anchor="end" class="tk">0</text>
<text x="623.1" y="209.1" text-anchor="end" class="tk">–0.4</text>
<text x="623.1" y="233.1" text-anchor="end" class="tk">–0.8</text>
<text x="673.1" y="243.0" text-anchor="middle" class="tk">0</text>
<text x="725.5" y="243.0" text-anchor="middle" class="tk">0.5</text>
<text x="779.7" y="243.0" text-anchor="middle" class="tk">1</text>
<path d="M630.50,351.80v-1.7M630.50,252.60v1.7M660.34,351.80v-1.7M660.34,252.60v1.7M690.18,351.80v-1.7M690.18,252.60v1.7M720.02,351.80v-1.7M720.02,252.60v1.7M749.86,351.80v-1.7M749.86,252.60v1.7M779.70,351.80v-1.7M779.70,252.60v1.7M630.50,252.60h1.7M779.70,252.60h-1.7M630.50,277.40h1.7M779.70,277.40h-1.7M630.50,302.20h1.7M779.70,302.20h-1.7M630.50,327.00h1.7M779.70,327.00h-1.7M630.50,351.80h1.7M779.70,351.80h-1.7" stroke="#444" stroke-width="0.9" fill="none"/>
<text x="623.1" y="258.4" text-anchor="end" class="tk">0.4</text>
<text x="623.1" y="283.2" text-anchor="end" class="tk">0.2</text>
<text x="623.1" y="308.0" text-anchor="end" class="tk">0</text>
<text x="623.1" y="332.8" text-anchor="end" class="tk">–0.2</text>
<text x="623.1" y="357.6" text-anchor="end" class="tk">–0.4</text>
<text x="630.5" y="365.1" text-anchor="middle" class="tk">–0.2</text>
<text x="660.3" y="365.1" text-anchor="middle" class="tk">0</text>
<text x="689.3" y="365.1" text-anchor="middle" class="tk">0.2</text>
<text x="719.1" y="365.1" text-anchor="middle" class="tk">0.4</text>
<text x="749.0" y="365.1" text-anchor="middle" class="tk">0.6</text>
<text x="778.8" y="365.1" text-anchor="middle" class="tk">0.8</text>
<path d="M630.50,478.40v-1.7M630.50,378.80v1.7M680.23,478.40v-1.7M680.23,378.80v1.7M729.97,478.40v-1.7M729.97,378.80v1.7M779.70,478.40v-1.7M779.70,378.80v1.7M630.50,393.03h1.7M779.70,393.03h-1.7M630.50,421.49h1.7M779.70,421.49h-1.7M630.50,449.94h1.7M779.70,449.94h-1.7M630.50,478.40h1.7M779.70,478.40h-1.7" stroke="#444" stroke-width="0.9" fill="none"/>
<text x="623.1" y="397.1" text-anchor="end" class="tk">0.2</text>
<text x="623.1" y="425.6" text-anchor="end" class="tk">0</text>
<text x="623.1" y="454.0" text-anchor="end" class="tk">–0.2</text>
<text x="623.1" y="482.5" text-anchor="end" class="tk">–0.4</text>
<text x="630.5" y="492.8" text-anchor="middle" class="tk">–0.4</text>
<text x="680.2" y="492.8" text-anchor="middle" class="tk">0</text>
<text x="729.1" y="492.8" text-anchor="middle" class="tk">0.4</text>
<text x="778.8" y="492.8" text-anchor="middle" class="tk">0.8</text>
<rect x="53.80" y="5.60" width="207.20" height="99.60" fill="none" stroke="#444" stroke-width="1.05"/>
<rect x="351.50" y="5.60" width="190.90" height="99.60" fill="none" stroke="#444" stroke-width="1.05"/>
<rect x="630.50" y="5.60" width="149.20" height="99.60" fill="none" stroke="#444" stroke-width="1.05"/>
<rect x="53.80" y="131.00" width="207.20" height="98.70" fill="none" stroke="#444" stroke-width="1.05"/>
<rect x="351.50" y="131.00" width="190.90" height="98.70" fill="none" stroke="#444" stroke-width="1.05"/>
<rect x="630.50" y="131.00" width="149.20" height="98.70" fill="none" stroke="#444" stroke-width="1.05"/>
<rect x="53.80" y="252.60" width="207.20" height="99.20" fill="none" stroke="#444" stroke-width="1.05"/>
<rect x="351.50" y="252.60" width="190.90" height="99.20" fill="none" stroke="#444" stroke-width="1.05"/>
<rect x="630.50" y="252.60" width="149.20" height="99.20" fill="none" stroke="#444" stroke-width="1.05"/>
<rect x="53.80" y="378.80" width="207.20" height="99.60" fill="none" stroke="#444" stroke-width="1.05"/>
<rect x="351.50" y="378.80" width="190.90" height="99.60" fill="none" stroke="#444" stroke-width="1.05"/>
<rect x="630.50" y="378.80" width="149.20" height="99.60" fill="none" stroke="#444" stroke-width="1.05"/>
<path d="M169.5,9.4V478.4" stroke="#333" stroke-width="0.75" stroke-dasharray="1.1 1.6" fill="none"/>
<text x="56.5" y="20.7" class="pl">a</text>
<text x="355.0" y="24.8" class="pl">b</text>
<text x="636.1" y="20.8" class="pl">c</text>
<text x="57.0" y="149.1" class="pl">d</text>
<text x="355.5" y="147.5" class="pl">e</text>
<text x="636.0" y="150.5" class="pl">f</text>
<text x="57.0" y="267.8" class="pl">g</text>
<text x="355.5" y="270.6" class="pl">h</text>
<text x="636.1" y="271.5" class="pl">i</text>
<text x="57.4" y="398.0" class="pl">j</text>
<text x="355.5" y="397.4" class="pl">k</text>
<text x="636.1" y="399.9" class="pl">l</text>
<path d="M242.10,25.50 L250.00,16.00 L249.80,25.50 Z M243.90,24.65 L248.05,19.40 L248.00,24.65 Z" fill="#1a1a1a" fill-rule="evenodd"/>
<text x="250.9" y="28.9" class="sub">1</text>
<path d="M521.60,21.60 L529.50,12.10 L529.30,21.60 Z M523.40,20.75 L527.55,15.50 L527.50,20.75 Z" fill="#1a1a1a" fill-rule="evenodd"/>
<text x="530.4" y="25.0" class="sub">1</text>
<path d="M758.60,22.85 L766.50,13.35 L766.30,22.85 Z M760.40,22.00 L764.55,16.75 L764.50,22.00 Z" fill="#1a1a1a" fill-rule="evenodd"/>
<text x="767.4" y="26.2" class="sub">1</text>
<path d="M242.10,148.40 L250.00,138.90 L249.80,148.40 Z M243.90,147.55 L248.05,142.30 L248.00,147.55 Z" fill="#1a1a1a" fill-rule="evenodd"/>
<text x="250.9" y="151.8" class="sub">2</text>
<path d="M521.60,146.80 L529.50,137.30 L529.30,146.80 Z M523.40,145.95 L527.55,140.70 L527.50,145.95 Z" fill="#1a1a1a" fill-rule="evenodd"/>
<text x="530.4" y="150.2" class="sub">2</text>
<path d="M758.60,149.70 L766.50,140.20 L766.30,149.70 Z M760.40,148.85 L764.55,143.60 L764.50,148.85 Z" fill="#1a1a1a" fill-rule="evenodd"/>
<text x="767.4" y="153.1" class="sub">2</text>
<path d="M242.10,270.20 L250.00,260.70 L249.80,270.20 Z M243.90,269.35 L248.05,264.10 L248.00,269.35 Z" fill="#1a1a1a" fill-rule="evenodd"/>
<text x="250.9" y="273.6" class="sub">3</text>
<path d="M521.60,267.80 L529.50,258.30 L529.30,267.80 Z M523.40,266.95 L527.55,261.70 L527.50,266.95 Z" fill="#1a1a1a" fill-rule="evenodd"/>
<text x="530.4" y="271.2" class="sub">3</text>
<path d="M758.60,270.90 L766.50,261.40 L766.30,270.90 Z M760.40,270.05 L764.55,264.80 L764.50,270.05 Z" fill="#1a1a1a" fill-rule="evenodd"/>
<text x="767.4" y="274.3" class="sub">3</text>
<path d="M242.10,396.20 L250.00,386.70 L249.80,396.20 Z M243.90,395.35 L248.05,390.10 L248.00,395.35 Z" fill="#1a1a1a" fill-rule="evenodd"/>
<text x="250.9" y="399.6" class="sub">4</text>
<path d="M521.60,395.40 L529.50,385.90 L529.30,395.40 Z M523.40,394.55 L527.55,389.30 L527.50,394.55 Z" fill="#1a1a1a" fill-rule="evenodd"/>
<text x="530.4" y="398.8" class="sub">4</text>
<path d="M758.60,398.10 L766.50,388.60 L766.30,398.10 Z M760.40,397.25 L764.55,392.00 L764.50,397.25 Z" fill="#1a1a1a" fill-rule="evenodd"/>
<text x="767.4" y="401.5" class="sub">4</text>
<text x="73.4" y="31.6" class="an2"><tspan font-style="italic">f</tspan><tspan font-size="9" dy="3.6">omo</tspan><tspan dy="-3.6">/2</tspan></text>
<text x="73.3" y="160.0" class="an2"><tspan font-style="italic">f</tspan><tspan font-size="9" dy="3.6">omo</tspan><tspan dy="-3.6">/3</tspan></text>
<text x="73.8" y="282.0" class="an2"><tspan font-style="italic">f</tspan><tspan font-size="9" dy="3.6">omo</tspan><tspan dy="-3.6">/4</tspan></text>
<text x="68.4" y="402.5" class="an">Chaos</text>
<text transform="translate(10.8,53.6) rotate(-90)" text-anchor="middle" class="al">RF PSD (dBm)</text>
<text transform="translate(308.8,54.9) rotate(-90)" text-anchor="middle" class="al">Power (a.u.)</text>
<text transform="translate(583.3,56.1) rotate(-90)" text-anchor="middle" class="al"><tspan font-family="Liberation Serif" font-style="italic" font-size="12.5">σ</tspan> (a.u.)</text>
<text transform="translate(10.8,178.5) rotate(-90)" text-anchor="middle" class="al">RF PSD (dBm)</text>
<text transform="translate(308.8,179.8) rotate(-90)" text-anchor="middle" class="al">Power (a.u.)</text>
<text transform="translate(583.3,181.0) rotate(-90)" text-anchor="middle" class="al"><tspan font-family="Liberation Serif" font-style="italic" font-size="12.5">σ</tspan> (a.u.)</text>
<text transform="translate(10.8,300.4) rotate(-90)" text-anchor="middle" class="al">RF PSD (dBm)</text>
<text transform="translate(308.8,301.7) rotate(-90)" text-anchor="middle" class="al">Power (a.u.)</text>
<text transform="translate(583.3,302.9) rotate(-90)" text-anchor="middle" class="al"><tspan font-family="Liberation Serif" font-style="italic" font-size="12.5">σ</tspan> (a.u.)</text>
<text transform="translate(10.8,426.8) rotate(-90)" text-anchor="middle" class="al">RF PSD (dBm)</text>
<text transform="translate(308.8,428.1) rotate(-90)" text-anchor="middle" class="al">Power (a.u.)</text>
<text transform="translate(583.3,429.3) rotate(-90)" text-anchor="middle" class="al"><tspan font-family="Liberation Serif" font-style="italic" font-size="12.5">σ</tspan> (a.u.)</text>
<text x="157.4" y="512.6" text-anchor="middle" class="al">Frequency (MHz)</text>
<text x="446.0" y="513.6" text-anchor="middle" class="al">Time (µs)</text>
<text x="704.7" y="513.6" text-anchor="middle" class="al"><tspan font-style="italic">P</tspan> (a.u.)</text>
</svg>
</body></html>
